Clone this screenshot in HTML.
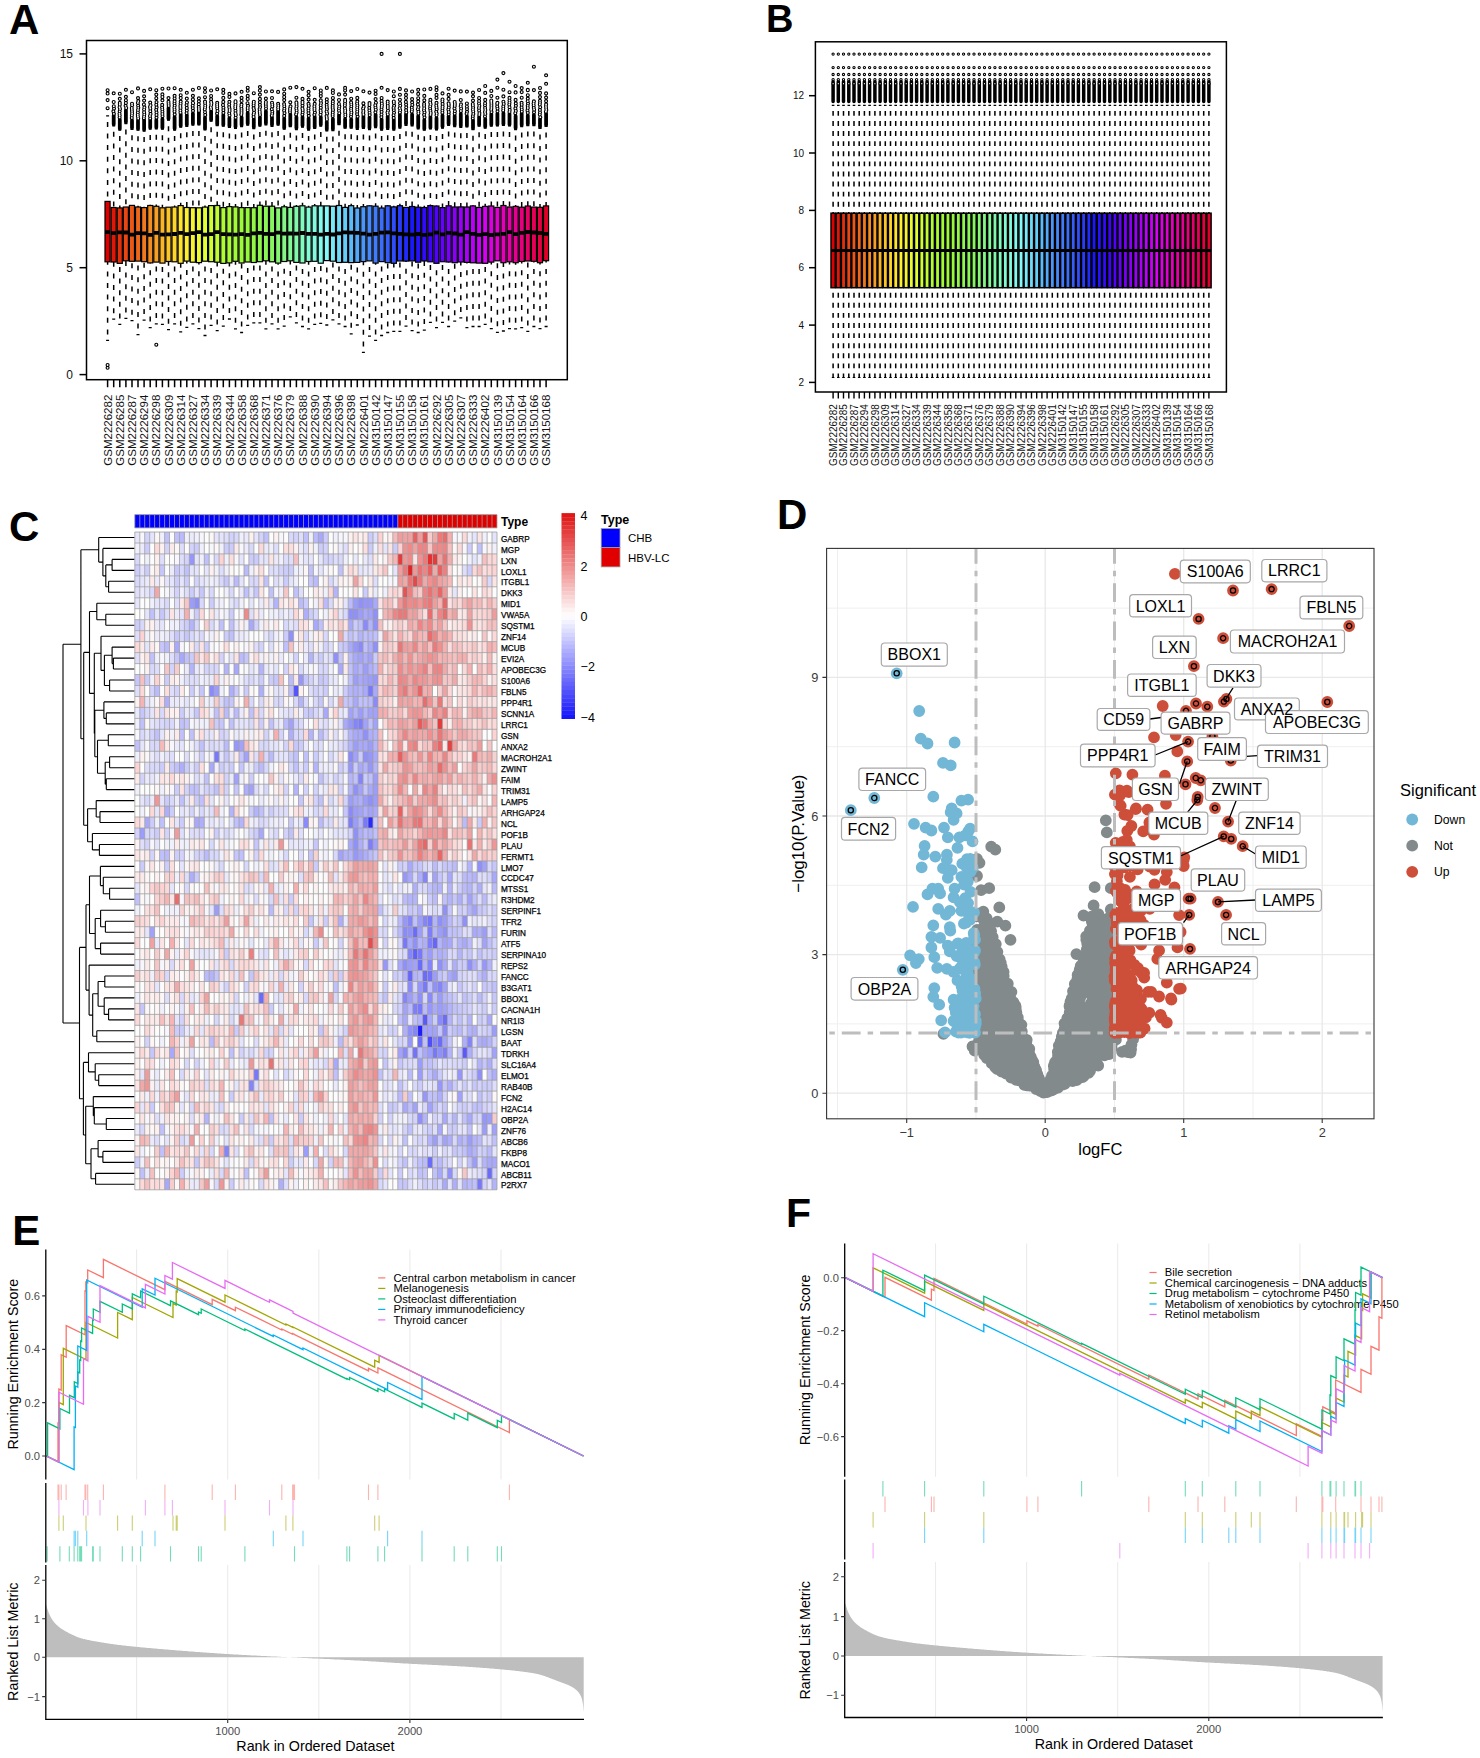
<!DOCTYPE html><html><head><meta charset="utf-8"><style>html,body{margin:0;padding:0;background:#fff}svg{display:block;font-family:"Liberation Sans",sans-serif}</style></head><body>
<svg width="1480" height="1758" viewBox="0 0 1480 1758">
<rect width="1480" height="1758" fill="#fff"/>
<rect x="86.5" y="40.5" width="480.8" height="339.2" fill="none" stroke="#000" stroke-width="1.5"/>
<path d="M79.5 374.6H86.5" stroke="#000" stroke-width="1.5"/>
<text x="73" y="378.9" font-size="12" text-anchor="end" fill="#111">0</text>
<path d="M79.5 267.7H86.5" stroke="#000" stroke-width="1.5"/>
<text x="73" y="272" font-size="12" text-anchor="end" fill="#111">5</text>
<path d="M79.5 160.8H86.5" stroke="#000" stroke-width="1.5"/>
<text x="73" y="165.1" font-size="12" text-anchor="end" fill="#111">10</text>
<path d="M79.5 53.9H86.5" stroke="#000" stroke-width="1.5"/>
<text x="73" y="58.2" font-size="12" text-anchor="end" fill="#111">15</text>
<path d="M107.6 115.9V201.4M113.7 125.8V207.5M119.8 130V207.9M125.9 123.6V207M132 129.3V205.4M138 130.2V207M144.1 131.1V207.6M150.2 129.1V205.5M156.3 128.8V206.3M162.4 129.2V207.8M168.5 120.2V207.2M174.6 130V207M180.7 127.2V205.6M186.8 126.3V207.5M192.9 125V207.7M198.9 124.9V207.8M205 129.9V207.1M211.1 121.2V205.6M217.2 125.7V205.5M223.3 126.2V207.6M229.4 127.4V206.6M235.5 128.3V206.9M241.6 126.6V207.6M247.7 125.1V207.6M253.8 128.5V207.7M259.9 126V205.3M265.9 124.8V206.2M272 126.3V206.2M278.1 125V207.9M284.2 129.2V206.8M290.3 126.7V207.4M296.4 129.5V206.3M302.5 127.1V205.8M308.6 130.1V207.1M314.7 128.4V205.8M320.8 126.1V205.9M326.8 130.8V205.9M332.9 130.5V206.2M339 124.7V205.5M345.1 128.2V207.4M351.2 128.2V205.7M357.3 129.3V208M363.4 128.4V206.7M369.5 129.6V205.8M375.6 127.6V206.2M381.6 130V208M387.7 129.3V205.8M393.8 130.1V206.9M399.9 128.1V205.7M406 125.3V207.4M412.1 125.8V206.5M418.2 128.8V207.2M424.3 130.2V207.5M430.4 128.9V205.6M436.5 129.9V206M442.5 128V207.6M448.6 125.4V205.8M454.7 126.6V207M460.8 127.3V206.9M466.9 126.9V207M473 129.7V205.9M479.1 126.2V207.4M485.2 128.1V206.4M491.3 126V206M497.4 125.9V207.4M503.4 125.4V205.5M509.5 125.9V207M515.6 129.5V206.4M521.7 126.5V207.2M527.8 125.6V206M533.9 125.6V207.1M540 128.4V207.3M546.1 126.4V205.9" stroke="#000" stroke-width="1.5" stroke-dasharray="5 6.6" stroke-dashoffset="5.6" fill="none"/>
<path d="M107.6 340.4V261.9M113.7 319.2V262M119.8 324.4V263.3M125.9 318.4V260.8M132 320.7V261.3M138 334.6V261M144.1 320.1V261.7M150.2 327.6V262.9M156.3 323.9V262.1M162.4 324.4V263.2M168.5 329.7V261.5M174.6 323.9V261.8M180.7 331.8V263.3M186.8 327.4V261.1M192.9 323.9V262.2M198.9 328.6V262.6M205 335.5V261.2M211.1 325.4V261.7M217.2 330.6V262.1M223.3 326.1V263.4M229.4 319V262.8M235.5 328.8V261.2M241.6 332.5V263M247.7 325.4V262M253.8 322.9V262.5M259.9 322.9V261.6M265.9 328.8V260.8M272 323.9V261.9M278.1 328.8V263.2M284.2 326.1V261.6M290.3 316.9V260.8M296.4 322.9V262.4M302.5 326.5V262.9M308.6 328.8V261.4M314.7 324.4V261.4M320.8 323.3V263.2M326.8 325V260.7M332.9 319.9V261.3M339 323.9V262.5M345.1 326.5V262.3M351.2 333.8V262.6M357.3 325V262.4M363.4 352.4V261.6M369.5 336.1V260.8M375.6 340.4V263.1M381.6 335.5V261.6M387.7 332.5V262.6M393.8 331.4V263.3M399.9 331.4V261M406 326.1V261.1M412.1 330.6V260.9M418.2 332.5V262.2M424.3 330.1V261M430.4 322.4V261.8M436.5 327.6V263.3M442.5 322.4V261.7M448.6 326.5V262M454.7 321.2V262.7M460.8 317.9V262M466.9 327.6V262.5M473 326.5V262.8M479.1 326.5V263.1M485.2 324.4V263.3M491.3 328.6V262.1M497.4 332.3V260.9M503.4 331V262.7M509.5 328.6V261.8M515.6 328.8V262.7M521.7 327.6V261.4M527.8 331.4V261M533.9 326.5V261.3M540 328.6V262.7M546.1 326.5V260.7" stroke="#000" stroke-width="1.5" stroke-dasharray="5 6.6" stroke-dashoffset="5.6" fill="none"/>
<path d="M106.1 115.9h3M106.1 340.4h3M112.2 125.8h3M112.2 319.2h3M118.3 130h3M118.3 324.4h3M124.4 123.6h3M124.4 318.4h3M130.5 129.3h3M130.5 320.7h3M136.5 130.2h3M136.5 334.6h3M142.6 131.1h3M142.6 320.1h3M148.7 129.1h3M148.7 327.6h3M154.8 128.8h3M154.8 323.9h3M160.9 129.2h3M160.9 324.4h3M167 120.2h3M167 329.7h3M173.1 130h3M173.1 323.9h3M179.2 127.2h3M179.2 331.8h3M185.3 126.3h3M185.3 327.4h3M191.4 125h3M191.4 323.9h3M197.4 124.9h3M197.4 328.6h3M203.5 129.9h3M203.5 335.5h3M209.6 121.2h3M209.6 325.4h3M215.7 125.7h3M215.7 330.6h3M221.8 126.2h3M221.8 326.1h3M227.9 127.4h3M227.9 319h3M234 128.3h3M234 328.8h3M240.1 126.6h3M240.1 332.5h3M246.2 125.1h3M246.2 325.4h3M252.3 128.5h3M252.3 322.9h3M258.4 126h3M258.4 322.9h3M264.4 124.8h3M264.4 328.8h3M270.5 126.3h3M270.5 323.9h3M276.6 125h3M276.6 328.8h3M282.7 129.2h3M282.7 326.1h3M288.8 126.7h3M288.8 316.9h3M294.9 129.5h3M294.9 322.9h3M301 127.1h3M301 326.5h3M307.1 130.1h3M307.1 328.8h3M313.2 128.4h3M313.2 324.4h3M319.2 126.1h3M319.2 323.3h3M325.3 130.8h3M325.3 325h3M331.4 130.5h3M331.4 319.9h3M337.5 124.7h3M337.5 323.9h3M343.6 128.2h3M343.6 326.5h3M349.7 128.2h3M349.7 333.8h3M355.8 129.3h3M355.8 325h3M361.9 128.4h3M361.9 352.4h3M368 129.6h3M368 336.1h3M374.1 127.6h3M374.1 340.4h3M380.1 130h3M380.1 335.5h3M386.2 129.3h3M386.2 332.5h3M392.3 130.1h3M392.3 331.4h3M398.4 128.1h3M398.4 331.4h3M404.5 125.3h3M404.5 326.1h3M410.6 125.8h3M410.6 330.6h3M416.7 128.8h3M416.7 332.5h3M422.8 130.2h3M422.8 330.1h3M428.9 128.9h3M428.9 322.4h3M435 129.9h3M435 327.6h3M441 128h3M441 322.4h3M447.1 125.4h3M447.1 326.5h3M453.2 126.6h3M453.2 321.2h3M459.3 127.3h3M459.3 317.9h3M465.4 126.9h3M465.4 327.6h3M471.5 129.7h3M471.5 326.5h3M477.6 126.2h3M477.6 326.5h3M483.7 128.1h3M483.7 324.4h3M489.8 126h3M489.8 328.6h3M495.9 125.9h3M495.9 332.3h3M501.9 125.4h3M501.9 331h3M508 125.9h3M508 328.6h3M514.1 129.5h3M514.1 328.8h3M520.2 126.5h3M520.2 327.6h3M526.3 125.6h3M526.3 331.4h3M532.4 125.6h3M532.4 326.5h3M538.5 128.4h3M538.5 328.6h3M544.6 126.4h3M544.6 326.5h3" stroke="#000" stroke-width="1.3" fill="none"/>
<path d="M113.7 115.6V124.3M119.8 119.7V128.5M125.9 110.2V122.1M132 120.4V127.8M138 120.5V128.7M144.1 120V129.6M150.2 120.3V127.6M156.3 119.9V127.3M162.4 118.9V127.7M168.5 108.1V118.7M174.6 117V128.5M180.7 114.4V125.7M186.8 114.9V124.8M192.9 113.4V123.5M198.9 112.5V123.4M205 117.5V128.4M211.1 111.2V119.7M217.2 115.9V124.2M223.3 115V124.7M229.4 118.1V125.9M235.5 119.6V126.8M241.6 117.3V125.1M247.7 112.8V123.6M253.8 119V127M259.9 117.3V124.5M265.9 111.1V123.3M272 117.6V124.8M278.1 111.4V123.5M284.2 118.4V127.7M290.3 114.5V125.2M296.4 117V128M302.5 116.9V125.6M308.6 118.5V128.6M314.7 116.7V126.9M320.8 117.1V124.6M326.8 121.8V129.3M332.9 118.8V129M339 115V123.2M345.1 118.9V126.7M351.2 119.2V126.7M357.3 118.3V127.8M363.4 116.5V126.9M369.5 117.3V128.1M375.6 114.6V126.1M381.6 119.2V128.5M387.7 116.3V127.8M393.8 119.8V128.6M399.9 114.7V126.6M406 114.2V123.8M412.1 114.4V124.3M418.2 116.1V127.3M424.3 120V128.7M430.4 116.8V127.4M436.5 118V128.4M442.5 115.3V126.5M448.6 116.2V123.9M454.7 115.7V125.1M460.8 113.7V125.8M466.9 116.2V125.4M473 120.3V128.2M479.1 116.9V124.7M485.2 118.9V126.6M491.3 113.9V124.5M497.4 113.6V124.4M503.4 113V123.9M509.5 114V124.4M515.6 116V128M521.7 113.5V125M527.8 115.4V124.1M533.9 114.8V124.1M540 119.1V126.9M546.1 113.6V124.9" stroke="#000" stroke-width="3.8" stroke-linecap="round" fill="none"/>
<path d="M107.6 108.2h0M107.6 100.1h0M107.6 93.5h0M107.6 90.2h0M113.9 113.8h0M113.4 111.3h0M114 108.6h0M113.8 106.2h0M113.7 102h0M113.7 93.3h0M119.6 117.4h0M119.7 115.4h0M119.5 113.7h0M119.7 111.3h0M120 109h0M119.6 107.2h0M119.8 104.7h0M119.8 102.9h0M119.8 98.8h0M119.8 93.7h0M126.2 108h0M125.6 105.8h0M125.9 103h0M125.9 100.2h0M125.9 96.8h0M125.9 89.8h0M131.8 117.9h0M131.9 115.5h0M132.1 113.6h0M132 111.8h0M131.9 109.9h0M131.8 108h0M132.1 105.3h0M132 103.7h0M132 92.2h0M138.2 118.5h0M137.9 116.5h0M137.8 114.7h0M137.9 112.4h0M138 110h0M138.3 107.8h0M138.1 105.6h0M137.9 102.9h0M138.3 101.1h0M138 98.1h0M138 88.4h0M143.9 118.2h0M144.1 116.3h0M144.3 114.3h0M144.1 112.2h0M144.1 109.5h0M144.4 107.3h0M143.9 104.5h0M144.1 100.6h0M144.1 96.3h0M144.1 90.9h0M150.2 118.4h0M150 116h0M150.5 113.9h0M150.3 111.2h0M150.3 108.7h0M150 106.9h0M150.5 105.2h0M150.2 102.6h0M150.2 89.3h0M156.5 117.6h0M156.5 114.9h0M156.5 112.4h0M156.2 109.8h0M156.6 107.3h0M156.3 104.7h0M156.5 102.1h0M156.3 98.2h0M156.3 94.6h0M156.3 90.2h0M162.5 116.2h0M162.4 114h0M162.4 111.7h0M162.3 109.4h0M162.1 107.6h0M162.2 104.9h0M162.4 100.3h0M162.4 97h0M162.4 94.4h0M162.4 88.7h0M168.7 105.9h0M168.6 103.9h0M168.5 101.9h0M168.5 98.1h0M168.5 88.5h0M174.7 114.4h0M174.5 111.6h0M174.6 109.7h0M174.4 107.7h0M174.7 105.6h0M174.5 103.3h0M174.6 101.2h0M174.6 98.4h0M174.6 95.8h0M174.6 88.2h0M180.5 112.7h0M180.4 110.5h0M180.5 107.9h0M180.4 106h0M180.6 103.7h0M180.7 101.6h0M180.7 98h0M180.7 95.2h0M180.7 89.8h0M186.6 113.1h0M186.8 110.6h0M186.8 107.9h0M186.6 105.1h0M186.9 102.5h0M186.8 98.6h0M186.8 92.8h0M193 110.8h0M192.8 108.1h0M192.7 105.7h0M193.1 103.2h0M192.9 102.7h0M192.9 99.4h0M192.9 95.8h0M192.9 89.7h0M199 110.8h0M198.9 109h0M198.8 106.9h0M198.8 104.2h0M198.9 101.3h0M198.9 98.3h0M198.9 88h0M205.2 114.9h0M205 112.2h0M204.8 109.4h0M205.1 107.5h0M205.2 105.5h0M205.1 103.1h0M205 101.6h0M205 97.2h0M205 92h0M205 88.2h0M211.1 109h0M210.8 107.2h0M211.2 105h0M211.4 103.3h0M211.1 101.9h0M211.1 99.1h0M211.1 96h0M211.1 90.5h0M217.1 113.6h0M217.5 111h0M217.2 108.3h0M217.2 106.4h0M217.1 104.7h0M217.2 102.8h0M217.2 89.3h0M223.4 112.8h0M223.4 110.1h0M223.4 107.7h0M223 105h0M223.3 101.9h0M223.3 97.9h0M223.3 92.9h0M223.3 89.8h0M229.5 115.4h0M229.2 113.3h0M229.6 111h0M229.6 109.1h0M229.2 107.1h0M229.2 104.5h0M229.4 101.8h0M229.4 96.9h0M229.4 93.9h0M235.6 117.7h0M235.8 115h0M235.5 113.2h0M235.5 110.7h0M235.3 108.2h0M235.3 106.4h0M235.5 104.7h0M235.5 102.4h0M235.5 101.2h0M235.5 93.4h0M241.3 114.8h0M241.5 113h0M241.5 110.9h0M241.5 108.9h0M241.3 106.5h0M241.5 104.6h0M241.6 100.9h0M241.6 97.8h0M241.6 91.8h0M247.7 110.2h0M247.7 108h0M248 105.8h0M247.5 103.2h0M247.7 98.9h0M247.7 95.9h0M247.7 90.8h0M247.7 87.7h0M253.6 117h0M253.6 114.5h0M254 112.7h0M254 109.9h0M253.6 108.1h0M253.6 105.4h0M253.7 103.4h0M253.8 101.7h0M253.8 93.2h0M260 114.9h0M259.8 113h0M259.7 111.2h0M259.6 109.1h0M260.1 107.1h0M259.9 104.8h0M259.9 102.1h0M259.9 98.9h0M259.9 94.6h0M259.9 90.5h0M259.9 87.1h0M266 108.5h0M265.9 106.1h0M265.8 103.9h0M265.9 102h0M265.9 98.6h0M265.9 91.5h0M271.8 115.7h0M272.2 113.8h0M272.3 111.7h0M271.8 109.2h0M272.3 106.4h0M272.3 104.6h0M272 102.7h0M272 98h0M272 91.3h0M278.2 109.4h0M278.1 107.6h0M278.3 105.8h0M278.1 103.8h0M278.1 91.9h0M284.2 115.9h0M284.5 113.1h0M284.1 110.6h0M284.4 108.7h0M284.3 106.2h0M284.1 104.1h0M284.2 100.1h0M284.2 97h0M284.2 93.7h0M284.2 89.4h0M290 112.1h0M290 110.1h0M290.1 108.4h0M290.5 106.3h0M290.3 102.3h0M290.3 87.7h0M296.1 114.4h0M296.6 112.5h0M296.6 110.2h0M296.3 108.2h0M296.6 106.2h0M296.5 104.1h0M296.4 102.4h0M296.4 97.7h0M296.4 87.1h0M302.4 114.6h0M302.7 112.3h0M302.7 110h0M302.4 108.3h0M302.5 105.6h0M302.5 103.2h0M302.5 101.8h0M302.5 98.9h0M302.5 88.8h0M308.8 115.8h0M308.5 113.1h0M308.5 110.6h0M308.5 108.5h0M308.8 105.8h0M308.5 103.8h0M308.6 99.6h0M308.6 95.4h0M308.6 91.8h0M314.4 114.8h0M314.9 112.6h0M314.5 110h0M314.5 108.2h0M314.4 106.2h0M314.7 103.9h0M314.7 99.8h0M314.7 88.2h0M320.5 114.7h0M320.8 112.2h0M320.6 110.3h0M320.8 107.7h0M320.7 105.2h0M321 103.1h0M320.7 100.7h0M320.8 100.4h0M320.8 96.1h0M320.8 93.4h0M320.8 90.5h0M326.9 119.6h0M326.8 117.9h0M326.6 116.1h0M327.1 113.5h0M326.6 111.5h0M327 109.1h0M326.8 107h0M326.7 104.8h0M326.8 102.1h0M326.8 99.3h0M326.8 87.9h0M332.7 116.1h0M332.7 114.3h0M332.8 112.3h0M333 109.9h0M332.7 107.9h0M332.7 105.9h0M332.8 103.4h0M332.9 101.3h0M332.9 98h0M332.9 93h0M332.9 90.4h0M339.3 113.2h0M339 110.7h0M339 108.4h0M339.3 106.4h0M338.9 104h0M339 100h0M339 94.4h0M345.3 116.2h0M345.3 114.3h0M345.1 112h0M345.2 110.2h0M344.9 108.3h0M344.9 105.6h0M345 103.8h0M345.1 101.4h0M345.1 99.9h0M345.1 94.6h0M345.1 90.4h0M345.1 87.9h0M351 116.6h0M351.2 114.3h0M351.4 112.4h0M351.1 110.3h0M351.1 108.6h0M351.3 106.3h0M351.3 104.3h0M351.1 102.4h0M351.2 98.7h0M351.2 91.1h0M357.6 116.6h0M357.1 114.1h0M357.2 111.7h0M357.3 109.6h0M357.2 107.5h0M357.4 105.4h0M357.1 103.4h0M357.3 101.3h0M357.3 97.9h0M357.3 89h0M363.5 114.7h0M363.2 112.8h0M363.4 111h0M363.1 108.6h0M363.7 106.8h0M363.4 103.4h0M363.4 91.3h0M369.7 115.1h0M369.6 112.7h0M369.4 110.3h0M369.3 107.8h0M369.5 105h0M369.5 103.1h0M369.5 92.6h0M375.4 112.3h0M375.8 109.7h0M375.5 107.4h0M375.3 105.2h0M375.9 102.7h0M375.6 99.1h0M375.6 93.9h0M375.6 90.7h0M381.4 117.1h0M381.5 114.5h0M381.6 111.8h0M381.5 109.4h0M381.7 107h0M381.9 105.3h0M381.8 103.4h0M381.6 100.9h0M381.6 98h0M381.6 87.8h0M387.8 114.4h0M387.5 112.6h0M388 110.7h0M387.8 108h0M387.8 106h0M387.7 103.5h0M387.7 101.6h0M387.7 90.1h0M393.7 117.9h0M393.6 115.2h0M394 112.7h0M393.8 110.1h0M393.6 107.9h0M394.1 105.8h0M393.9 103.1h0M393.8 101.5h0M393.8 96.2h0M393.8 91.5h0M399.9 112.4h0M400.2 110.2h0M399.7 108.2h0M400.2 105.7h0M400 103.2h0M399.9 99.7h0M399.9 94.7h0M399.9 88.9h0M406.3 112.4h0M406.1 110.1h0M406.2 107.3h0M406.1 104.6h0M405.9 101.9h0M406 98h0M406 94.8h0M406 90.4h0M411.8 111.6h0M412 109.7h0M411.8 107.6h0M412.3 104.9h0M412.1 102.3h0M412.1 99.1h0M412.1 91.5h0M418.4 113.5h0M418.4 111.6h0M417.9 109.2h0M418.4 107.1h0M417.9 104.4h0M418.2 101.3h0M418.2 98.2h0M418.2 93.9h0M418.2 89.8h0M424.5 117.3h0M424.1 114.8h0M424.5 112.4h0M424 110.2h0M424.2 108.2h0M424.1 105.8h0M424.1 103.9h0M424.3 100.3h0M424.3 95.9h0M424.3 89.5h0M430.5 114.8h0M430.7 113h0M430.4 110.8h0M430.1 108.5h0M430.2 106.2h0M430.6 104.2h0M430.2 102.4h0M430.4 99.9h0M430.4 88.9h0M436.5 115.3h0M436.7 113.6h0M436.2 111.8h0M436.7 109.3h0M436.5 107.3h0M436.3 105.5h0M436.5 102.9h0M436.5 97.9h0M436.5 94.9h0M436.5 90.1h0M436.5 87.2h0M442.4 112.7h0M442.4 110.5h0M442.5 108.2h0M442.6 106.4h0M442.6 103.9h0M442.4 101.3h0M442.5 99.5h0M442.5 93.4h0M448.7 114.3h0M448.8 112h0M448.4 109.6h0M448.8 107.4h0M448.8 104.9h0M448.6 103.3h0M448.6 98.9h0M448.6 94.9h0M448.6 88.7h0M454.7 113.6h0M454.9 111.2h0M454.5 108.4h0M454.8 105.9h0M454.9 104h0M454.7 102h0M454.7 90.6h0M460.9 111h0M461.1 108.5h0M460.7 106.2h0M461 104.3h0M460.8 100h0M460.8 91.4h0M466.6 113.8h0M467 111.8h0M467 109.1h0M466.9 106.5h0M466.9 103.5h0M466.9 91.6h0M472.8 118.3h0M472.9 116.1h0M473.3 113.9h0M473.2 111.5h0M472.9 109.6h0M473.1 107.8h0M472.9 105.7h0M472.8 104h0M473 100.6h0M473 96.3h0M473 92.6h0M479.3 114.9h0M479.4 113.1h0M479.1 110.5h0M479 107.9h0M479.3 105.9h0M479 103.5h0M479.1 101h0M479.1 98h0M479.1 90h0M485 116.4h0M485.3 113.9h0M485 112h0M485.3 110h0M485.1 107.9h0M485 105.3h0M485.1 103.2h0M485.2 99.9h0M485.2 92.9h0M491.5 112.1h0M491.2 109.8h0M491.4 108h0M491.4 105.9h0M491.4 103.9h0M491.3 102h0M491.3 100.5h0M491.3 96h0M491.3 90.9h0M497.5 111.3h0M497.5 108.6h0M497.2 106.4h0M497.2 103.8h0M497.4 102.8h0M497.4 97.7h0M497.4 87.7h0M503.2 110.4h0M503.3 108.6h0M503.3 106.5h0M503.7 103.9h0M503.4 101.7h0M503.4 96.4h0M503.4 89.7h0M509.5 111.9h0M509.7 109.9h0M509.5 107.2h0M509.3 104.6h0M509.5 102.7h0M509.5 100.5h0M509.5 97.9h0M509.5 92.2h0M515.3 113.2h0M515.8 110.9h0M515.4 108.4h0M515.9 105.8h0M515.8 103.3h0M515.6 99.9h0M515.6 92.5h0M521.8 111.6h0M521.8 109.4h0M521.6 107.3h0M521.7 104.8h0M521.6 102.8h0M521.7 97.7h0M521.7 92.1h0M527.8 112.8h0M527.5 110.4h0M527.8 108h0M527.7 105.8h0M528 103.6h0M527.7 101.2h0M527.8 98.6h0M527.8 95.2h0M527.8 89.8h0M534 112.3h0M534.1 109.7h0M533.8 107.8h0M533.7 105.4h0M533.6 103.5h0M533.9 101.4h0M533.9 90.1h0M540.3 117.2h0M539.8 114.6h0M540 112.5h0M539.9 109.9h0M540.2 107.2h0M539.8 104.6h0M540 102.8h0M540 100.8h0M540 97.1h0M540 92.9h0M540 88h0M545.9 111.7h0M546.3 109.9h0M546.1 107.9h0M546 106.1h0M546.1 104.3h0M546.1 101.1h0M546.1 97.6h0M546.1 93.4h0M381.6 53.9h0M399.9 53.9h0M503.4 73.1h0M533.9 66.7h0M546.1 75.3h0M546.1 83.8h0M527.8 82.8h0M527.8 90.2h0M497.4 79.6h0M509.5 81.7h0M485.2 86h0M515.6 92.4h0M515.6 86h0M521.7 88.1h0M156.3 344.7h0M107.6 367.8h0M107.6 365h0" stroke="#000" stroke-width="4.1" stroke-linecap="round" fill="none"/>
<path d="M107.6 108.2h0M107.6 100.1h0M107.6 93.5h0M107.6 90.2h0M113.9 113.8h0M113.4 111.3h0M114 108.6h0M113.8 106.2h0M113.7 102h0M113.7 93.3h0M119.6 117.4h0M119.7 115.4h0M119.5 113.7h0M119.7 111.3h0M120 109h0M119.6 107.2h0M119.8 104.7h0M119.8 102.9h0M119.8 98.8h0M119.8 93.7h0M126.2 108h0M125.6 105.8h0M125.9 103h0M125.9 100.2h0M125.9 96.8h0M125.9 89.8h0M131.8 117.9h0M131.9 115.5h0M132.1 113.6h0M132 111.8h0M131.9 109.9h0M131.8 108h0M132.1 105.3h0M132 103.7h0M132 92.2h0M138.2 118.5h0M137.9 116.5h0M137.8 114.7h0M137.9 112.4h0M138 110h0M138.3 107.8h0M138.1 105.6h0M137.9 102.9h0M138.3 101.1h0M138 98.1h0M138 88.4h0M143.9 118.2h0M144.1 116.3h0M144.3 114.3h0M144.1 112.2h0M144.1 109.5h0M144.4 107.3h0M143.9 104.5h0M144.1 100.6h0M144.1 96.3h0M144.1 90.9h0M150.2 118.4h0M150 116h0M150.5 113.9h0M150.3 111.2h0M150.3 108.7h0M150 106.9h0M150.5 105.2h0M150.2 102.6h0M150.2 89.3h0M156.5 117.6h0M156.5 114.9h0M156.5 112.4h0M156.2 109.8h0M156.6 107.3h0M156.3 104.7h0M156.5 102.1h0M156.3 98.2h0M156.3 94.6h0M156.3 90.2h0M162.5 116.2h0M162.4 114h0M162.4 111.7h0M162.3 109.4h0M162.1 107.6h0M162.2 104.9h0M162.4 100.3h0M162.4 97h0M162.4 94.4h0M162.4 88.7h0M168.7 105.9h0M168.6 103.9h0M168.5 101.9h0M168.5 98.1h0M168.5 88.5h0M174.7 114.4h0M174.5 111.6h0M174.6 109.7h0M174.4 107.7h0M174.7 105.6h0M174.5 103.3h0M174.6 101.2h0M174.6 98.4h0M174.6 95.8h0M174.6 88.2h0M180.5 112.7h0M180.4 110.5h0M180.5 107.9h0M180.4 106h0M180.6 103.7h0M180.7 101.6h0M180.7 98h0M180.7 95.2h0M180.7 89.8h0M186.6 113.1h0M186.8 110.6h0M186.8 107.9h0M186.6 105.1h0M186.9 102.5h0M186.8 98.6h0M186.8 92.8h0M193 110.8h0M192.8 108.1h0M192.7 105.7h0M193.1 103.2h0M192.9 102.7h0M192.9 99.4h0M192.9 95.8h0M192.9 89.7h0M199 110.8h0M198.9 109h0M198.8 106.9h0M198.8 104.2h0M198.9 101.3h0M198.9 98.3h0M198.9 88h0M205.2 114.9h0M205 112.2h0M204.8 109.4h0M205.1 107.5h0M205.2 105.5h0M205.1 103.1h0M205 101.6h0M205 97.2h0M205 92h0M205 88.2h0M211.1 109h0M210.8 107.2h0M211.2 105h0M211.4 103.3h0M211.1 101.9h0M211.1 99.1h0M211.1 96h0M211.1 90.5h0M217.1 113.6h0M217.5 111h0M217.2 108.3h0M217.2 106.4h0M217.1 104.7h0M217.2 102.8h0M217.2 89.3h0M223.4 112.8h0M223.4 110.1h0M223.4 107.7h0M223 105h0M223.3 101.9h0M223.3 97.9h0M223.3 92.9h0M223.3 89.8h0M229.5 115.4h0M229.2 113.3h0M229.6 111h0M229.6 109.1h0M229.2 107.1h0M229.2 104.5h0M229.4 101.8h0M229.4 96.9h0M229.4 93.9h0M235.6 117.7h0M235.8 115h0M235.5 113.2h0M235.5 110.7h0M235.3 108.2h0M235.3 106.4h0M235.5 104.7h0M235.5 102.4h0M235.5 101.2h0M235.5 93.4h0M241.3 114.8h0M241.5 113h0M241.5 110.9h0M241.5 108.9h0M241.3 106.5h0M241.5 104.6h0M241.6 100.9h0M241.6 97.8h0M241.6 91.8h0M247.7 110.2h0M247.7 108h0M248 105.8h0M247.5 103.2h0M247.7 98.9h0M247.7 95.9h0M247.7 90.8h0M247.7 87.7h0M253.6 117h0M253.6 114.5h0M254 112.7h0M254 109.9h0M253.6 108.1h0M253.6 105.4h0M253.7 103.4h0M253.8 101.7h0M253.8 93.2h0M260 114.9h0M259.8 113h0M259.7 111.2h0M259.6 109.1h0M260.1 107.1h0M259.9 104.8h0M259.9 102.1h0M259.9 98.9h0M259.9 94.6h0M259.9 90.5h0M259.9 87.1h0M266 108.5h0M265.9 106.1h0M265.8 103.9h0M265.9 102h0M265.9 98.6h0M265.9 91.5h0M271.8 115.7h0M272.2 113.8h0M272.3 111.7h0M271.8 109.2h0M272.3 106.4h0M272.3 104.6h0M272 102.7h0M272 98h0M272 91.3h0M278.2 109.4h0M278.1 107.6h0M278.3 105.8h0M278.1 103.8h0M278.1 91.9h0M284.2 115.9h0M284.5 113.1h0M284.1 110.6h0M284.4 108.7h0M284.3 106.2h0M284.1 104.1h0M284.2 100.1h0M284.2 97h0M284.2 93.7h0M284.2 89.4h0M290 112.1h0M290 110.1h0M290.1 108.4h0M290.5 106.3h0M290.3 102.3h0M290.3 87.7h0M296.1 114.4h0M296.6 112.5h0M296.6 110.2h0M296.3 108.2h0M296.6 106.2h0M296.5 104.1h0M296.4 102.4h0M296.4 97.7h0M296.4 87.1h0M302.4 114.6h0M302.7 112.3h0M302.7 110h0M302.4 108.3h0M302.5 105.6h0M302.5 103.2h0M302.5 101.8h0M302.5 98.9h0M302.5 88.8h0M308.8 115.8h0M308.5 113.1h0M308.5 110.6h0M308.5 108.5h0M308.8 105.8h0M308.5 103.8h0M308.6 99.6h0M308.6 95.4h0M308.6 91.8h0M314.4 114.8h0M314.9 112.6h0M314.5 110h0M314.5 108.2h0M314.4 106.2h0M314.7 103.9h0M314.7 99.8h0M314.7 88.2h0M320.5 114.7h0M320.8 112.2h0M320.6 110.3h0M320.8 107.7h0M320.7 105.2h0M321 103.1h0M320.7 100.7h0M320.8 100.4h0M320.8 96.1h0M320.8 93.4h0M320.8 90.5h0M326.9 119.6h0M326.8 117.9h0M326.6 116.1h0M327.1 113.5h0M326.6 111.5h0M327 109.1h0M326.8 107h0M326.7 104.8h0M326.8 102.1h0M326.8 99.3h0M326.8 87.9h0M332.7 116.1h0M332.7 114.3h0M332.8 112.3h0M333 109.9h0M332.7 107.9h0M332.7 105.9h0M332.8 103.4h0M332.9 101.3h0M332.9 98h0M332.9 93h0M332.9 90.4h0M339.3 113.2h0M339 110.7h0M339 108.4h0M339.3 106.4h0M338.9 104h0M339 100h0M339 94.4h0M345.3 116.2h0M345.3 114.3h0M345.1 112h0M345.2 110.2h0M344.9 108.3h0M344.9 105.6h0M345 103.8h0M345.1 101.4h0M345.1 99.9h0M345.1 94.6h0M345.1 90.4h0M345.1 87.9h0M351 116.6h0M351.2 114.3h0M351.4 112.4h0M351.1 110.3h0M351.1 108.6h0M351.3 106.3h0M351.3 104.3h0M351.1 102.4h0M351.2 98.7h0M351.2 91.1h0M357.6 116.6h0M357.1 114.1h0M357.2 111.7h0M357.3 109.6h0M357.2 107.5h0M357.4 105.4h0M357.1 103.4h0M357.3 101.3h0M357.3 97.9h0M357.3 89h0M363.5 114.7h0M363.2 112.8h0M363.4 111h0M363.1 108.6h0M363.7 106.8h0M363.4 103.4h0M363.4 91.3h0M369.7 115.1h0M369.6 112.7h0M369.4 110.3h0M369.3 107.8h0M369.5 105h0M369.5 103.1h0M369.5 92.6h0M375.4 112.3h0M375.8 109.7h0M375.5 107.4h0M375.3 105.2h0M375.9 102.7h0M375.6 99.1h0M375.6 93.9h0M375.6 90.7h0M381.4 117.1h0M381.5 114.5h0M381.6 111.8h0M381.5 109.4h0M381.7 107h0M381.9 105.3h0M381.8 103.4h0M381.6 100.9h0M381.6 98h0M381.6 87.8h0M387.8 114.4h0M387.5 112.6h0M388 110.7h0M387.8 108h0M387.8 106h0M387.7 103.5h0M387.7 101.6h0M387.7 90.1h0M393.7 117.9h0M393.6 115.2h0M394 112.7h0M393.8 110.1h0M393.6 107.9h0M394.1 105.8h0M393.9 103.1h0M393.8 101.5h0M393.8 96.2h0M393.8 91.5h0M399.9 112.4h0M400.2 110.2h0M399.7 108.2h0M400.2 105.7h0M400 103.2h0M399.9 99.7h0M399.9 94.7h0M399.9 88.9h0M406.3 112.4h0M406.1 110.1h0M406.2 107.3h0M406.1 104.6h0M405.9 101.9h0M406 98h0M406 94.8h0M406 90.4h0M411.8 111.6h0M412 109.7h0M411.8 107.6h0M412.3 104.9h0M412.1 102.3h0M412.1 99.1h0M412.1 91.5h0M418.4 113.5h0M418.4 111.6h0M417.9 109.2h0M418.4 107.1h0M417.9 104.4h0M418.2 101.3h0M418.2 98.2h0M418.2 93.9h0M418.2 89.8h0M424.5 117.3h0M424.1 114.8h0M424.5 112.4h0M424 110.2h0M424.2 108.2h0M424.1 105.8h0M424.1 103.9h0M424.3 100.3h0M424.3 95.9h0M424.3 89.5h0M430.5 114.8h0M430.7 113h0M430.4 110.8h0M430.1 108.5h0M430.2 106.2h0M430.6 104.2h0M430.2 102.4h0M430.4 99.9h0M430.4 88.9h0M436.5 115.3h0M436.7 113.6h0M436.2 111.8h0M436.7 109.3h0M436.5 107.3h0M436.3 105.5h0M436.5 102.9h0M436.5 97.9h0M436.5 94.9h0M436.5 90.1h0M436.5 87.2h0M442.4 112.7h0M442.4 110.5h0M442.5 108.2h0M442.6 106.4h0M442.6 103.9h0M442.4 101.3h0M442.5 99.5h0M442.5 93.4h0M448.7 114.3h0M448.8 112h0M448.4 109.6h0M448.8 107.4h0M448.8 104.9h0M448.6 103.3h0M448.6 98.9h0M448.6 94.9h0M448.6 88.7h0M454.7 113.6h0M454.9 111.2h0M454.5 108.4h0M454.8 105.9h0M454.9 104h0M454.7 102h0M454.7 90.6h0M460.9 111h0M461.1 108.5h0M460.7 106.2h0M461 104.3h0M460.8 100h0M460.8 91.4h0M466.6 113.8h0M467 111.8h0M467 109.1h0M466.9 106.5h0M466.9 103.5h0M466.9 91.6h0M472.8 118.3h0M472.9 116.1h0M473.3 113.9h0M473.2 111.5h0M472.9 109.6h0M473.1 107.8h0M472.9 105.7h0M472.8 104h0M473 100.6h0M473 96.3h0M473 92.6h0M479.3 114.9h0M479.4 113.1h0M479.1 110.5h0M479 107.9h0M479.3 105.9h0M479 103.5h0M479.1 101h0M479.1 98h0M479.1 90h0M485 116.4h0M485.3 113.9h0M485 112h0M485.3 110h0M485.1 107.9h0M485 105.3h0M485.1 103.2h0M485.2 99.9h0M485.2 92.9h0M491.5 112.1h0M491.2 109.8h0M491.4 108h0M491.4 105.9h0M491.4 103.9h0M491.3 102h0M491.3 100.5h0M491.3 96h0M491.3 90.9h0M497.5 111.3h0M497.5 108.6h0M497.2 106.4h0M497.2 103.8h0M497.4 102.8h0M497.4 97.7h0M497.4 87.7h0M503.2 110.4h0M503.3 108.6h0M503.3 106.5h0M503.7 103.9h0M503.4 101.7h0M503.4 96.4h0M503.4 89.7h0M509.5 111.9h0M509.7 109.9h0M509.5 107.2h0M509.3 104.6h0M509.5 102.7h0M509.5 100.5h0M509.5 97.9h0M509.5 92.2h0M515.3 113.2h0M515.8 110.9h0M515.4 108.4h0M515.9 105.8h0M515.8 103.3h0M515.6 99.9h0M515.6 92.5h0M521.8 111.6h0M521.8 109.4h0M521.6 107.3h0M521.7 104.8h0M521.6 102.8h0M521.7 97.7h0M521.7 92.1h0M527.8 112.8h0M527.5 110.4h0M527.8 108h0M527.7 105.8h0M528 103.6h0M527.7 101.2h0M527.8 98.6h0M527.8 95.2h0M527.8 89.8h0M534 112.3h0M534.1 109.7h0M533.8 107.8h0M533.7 105.4h0M533.6 103.5h0M533.9 101.4h0M533.9 90.1h0M540.3 117.2h0M539.8 114.6h0M540 112.5h0M539.9 109.9h0M540.2 107.2h0M539.8 104.6h0M540 102.8h0M540 100.8h0M540 97.1h0M540 92.9h0M540 88h0M545.9 111.7h0M546.3 109.9h0M546.1 107.9h0M546 106.1h0M546.1 104.3h0M546.1 101.1h0M546.1 97.6h0M546.1 93.4h0M381.6 53.9h0M399.9 53.9h0M503.4 73.1h0M533.9 66.7h0M546.1 75.3h0M546.1 83.8h0M527.8 82.8h0M527.8 90.2h0M497.4 79.6h0M509.5 81.7h0M485.2 86h0M515.6 92.4h0M515.6 86h0M521.7 88.1h0M156.3 344.7h0M107.6 367.8h0M107.6 365h0" stroke="#fff" stroke-width="1.8" stroke-linecap="round" fill="none"/>
<g stroke="#000" stroke-width="1.2"><rect x="105" y="201.4" width="5.1" height="60.4" fill="#dc0000"/><rect x="111.1" y="207.5" width="5.1" height="54.5" fill="#e01707"/><rect x="117.2" y="207.9" width="5.1" height="55.5" fill="#e42f0d"/><rect x="123.3" y="207" width="5.1" height="53.8" fill="#e84614"/><rect x="129.4" y="205.4" width="5.1" height="55.9" fill="#eb5717"/><rect x="135.5" y="207" width="5.1" height="54.1" fill="#ed671b"/><rect x="141.6" y="207.6" width="5.1" height="54.1" fill="#f0781e"/><rect x="147.7" y="205.5" width="5.1" height="57.4" fill="#f38c21"/><rect x="153.8" y="206.3" width="5.1" height="55.8" fill="#f7a025"/><rect x="159.9" y="207.8" width="5.1" height="55.3" fill="#fab428"/><rect x="165.9" y="207.2" width="5.1" height="54.3" fill="#fcc628"/><rect x="172" y="207" width="5.1" height="54.8" fill="#ffd728"/><rect x="178.1" y="205.6" width="5.1" height="57.7" fill="#ffe42a"/><rect x="184.2" y="207.5" width="5.1" height="53.6" fill="#fff02d"/><rect x="190.3" y="207.7" width="5.1" height="54.5" fill="#f5f52f"/><rect x="196.4" y="207.8" width="5.1" height="54.8" fill="#ebfa30"/><rect x="202.5" y="207.1" width="5.1" height="54.1" fill="#e1ff32"/><rect x="208.6" y="205.6" width="5.1" height="56.1" fill="#d0fe32"/><rect x="214.7" y="205.5" width="5.1" height="56.7" fill="#c0fd32"/><rect x="220.8" y="207.6" width="5.1" height="55.8" fill="#affc32"/><rect x="226.8" y="206.6" width="5.1" height="56.3" fill="#a9fb34"/><rect x="232.9" y="206.9" width="5.1" height="54.4" fill="#a2fa37"/><rect x="239" y="207.6" width="5.1" height="55.4" fill="#9cf93a"/><rect x="245.1" y="207.6" width="5.1" height="54.4" fill="#96f83c"/><rect x="251.2" y="207.7" width="5.1" height="54.8" fill="#92f745"/><rect x="257.3" y="205.3" width="5.1" height="56.4" fill="#8ef64e"/><rect x="263.4" y="206.2" width="5.1" height="54.6" fill="#8bf656"/><rect x="269.5" y="206.2" width="5.1" height="55.6" fill="#87f55f"/><rect x="275.6" y="207.9" width="5.1" height="55.2" fill="#85f671"/><rect x="281.7" y="206.8" width="5.1" height="54.7" fill="#84f784"/><rect x="287.7" y="207.4" width="5.1" height="53.4" fill="#82f896"/><rect x="293.8" y="206.3" width="5.1" height="56.1" fill="#82f9aa"/><rect x="299.9" y="205.8" width="5.1" height="57.2" fill="#82fbbe"/><rect x="306" y="207.1" width="5.1" height="54.4" fill="#82fcd2"/><rect x="312.1" y="205.8" width="5.1" height="55.5" fill="#82fbdf"/><rect x="318.2" y="205.9" width="5.1" height="57.3" fill="#82fbed"/><rect x="324.3" y="205.9" width="5.1" height="54.7" fill="#82fafa"/><rect x="330.4" y="206.2" width="5.1" height="55" fill="#78ebfa"/><rect x="336.5" y="205.5" width="5.1" height="57" fill="#6edcfa"/><rect x="342.6" y="207.4" width="5.1" height="54.9" fill="#64cdfa"/><rect x="348.6" y="205.7" width="5.1" height="56.9" fill="#5cbbfa"/><rect x="354.7" y="208" width="5.1" height="54.4" fill="#53a8fa"/><rect x="360.8" y="206.7" width="5.1" height="54.9" fill="#4b96fa"/><rect x="366.9" y="205.8" width="5.1" height="55.1" fill="#4689fa"/><rect x="373" y="206.2" width="5.1" height="56.9" fill="#417bfa"/><rect x="379.1" y="208" width="5.1" height="53.6" fill="#3c6efa"/><rect x="385.2" y="205.8" width="5.1" height="56.9" fill="#355dfa"/><rect x="391.3" y="206.9" width="5.1" height="56.4" fill="#2f4dfa"/><rect x="397.4" y="205.7" width="5.1" height="55.3" fill="#283cfa"/><rect x="403.5" y="207.4" width="5.1" height="53.7" fill="#202afa"/><rect x="409.6" y="206.5" width="5.1" height="54.4" fill="#1919fa"/><rect x="415.6" y="207.2" width="5.1" height="55" fill="#2512fa"/><rect x="421.7" y="207.5" width="5.1" height="53.5" fill="#300cfa"/><rect x="427.8" y="205.6" width="5.1" height="56.2" fill="#3c05fa"/><rect x="433.9" y="206" width="5.1" height="57.3" fill="#5003fa"/><rect x="440" y="207.6" width="5.1" height="54.1" fill="#6402fa"/><rect x="446.1" y="205.8" width="5.1" height="56.2" fill="#7800fa"/><rect x="452.2" y="207" width="5.1" height="55.7" fill="#8900fa"/><rect x="458.3" y="206.9" width="5.1" height="55.1" fill="#9900fa"/><rect x="464.4" y="207" width="5.1" height="55.4" fill="#aa00fa"/><rect x="470.4" y="205.9" width="5.1" height="56.9" fill="#b900f8"/><rect x="476.5" y="207.4" width="5.1" height="55.7" fill="#c800f7"/><rect x="482.6" y="206.4" width="5.1" height="56.9" fill="#d700f5"/><rect x="488.7" y="206" width="5.1" height="56.1" fill="#db00e1"/><rect x="494.8" y="207.4" width="5.1" height="53.4" fill="#e000cd"/><rect x="500.9" y="205.5" width="5.1" height="57.2" fill="#e400b9"/><rect x="507" y="207" width="5.1" height="54.8" fill="#e500a5"/><rect x="513.1" y="206.4" width="5.1" height="56.3" fill="#e50091"/><rect x="519.2" y="207.2" width="5.1" height="54.3" fill="#e6007d"/><rect x="525.3" y="206" width="5.1" height="55" fill="#e50069"/><rect x="531.4" y="207.1" width="5.1" height="54.2" fill="#e50055"/><rect x="537.4" y="207.3" width="5.1" height="55.4" fill="#e40041"/><rect x="543.5" y="205.9" width="5.1" height="54.8" fill="#de0028"/></g>
<path d="M105 232.2h5.1M111.1 233.1h5.1M117.2 232.4h5.1M123.3 232.5h5.1M129.4 234.6h5.1M135.5 233.1h5.1M141.6 233.3h5.1M147.7 234.9h5.1M153.8 232.8h5.1M159.9 234.6h5.1M165.9 234.4h5.1M172 234h5.1M178.1 232.9h5.1M184.2 234.2h5.1M190.3 233.1h5.1M196.4 232.1h5.1M202.5 234.6h5.1M208.6 234.1h5.1M214.7 232.2h5.1M220.8 234.1h5.1M226.8 234.3h5.1M232.9 234.6h5.1M239 234.1h5.1M245.1 234.9h5.1M251.2 233.4h5.1M257.3 232.9h5.1M263.4 233.8h5.1M269.5 234.1h5.1M275.6 232.6h5.1M281.7 233.6h5.1M287.7 233.5h5.1M293.8 233.6h5.1M299.9 233h5.1M306 233.9h5.1M312.1 233.9h5.1M318.2 234.7h5.1M324.3 233.9h5.1M330.4 234.5h5.1M336.5 233.4h5.1M342.6 232.4h5.1M348.6 232.6h5.1M354.7 232.9h5.1M360.8 233.7h5.1M366.9 234.6h5.1M373 233.9h5.1M379.1 232.7h5.1M385.2 232.3h5.1M391.3 233.4h5.1M397.4 233.8h5.1M403.5 234.3h5.1M409.6 234.7h5.1M415.6 234h5.1M421.7 234.8h5.1M427.8 234.3h5.1M433.9 232.6h5.1M440 234.3h5.1M446.1 232.8h5.1M452.2 233.5h5.1M458.3 234.7h5.1M464.4 232.1h5.1M470.4 233.9h5.1M476.5 234.8h5.1M482.6 234.1h5.1M488.7 235h5.1M494.8 234.4h5.1M500.9 233.9h5.1M507 232.2h5.1M513.1 234.2h5.1M519.2 232.9h5.1M525.3 232h5.1M531.4 232.5h5.1M537.4 233h5.1M543.5 233.8h5.1" stroke="#000" stroke-width="3.8" fill="none"/>
<path d="M107.6 379.7V387.3M113.7 379.7V387.3M119.8 379.7V387.3M125.9 379.7V387.3M132 379.7V387.3M138 379.7V387.3M144.1 379.7V387.3M150.2 379.7V387.3M156.3 379.7V387.3M162.4 379.7V387.3M168.5 379.7V387.3M174.6 379.7V387.3M180.7 379.7V387.3M186.8 379.7V387.3M192.9 379.7V387.3M198.9 379.7V387.3M205 379.7V387.3M211.1 379.7V387.3M217.2 379.7V387.3M223.3 379.7V387.3M229.4 379.7V387.3M235.5 379.7V387.3M241.6 379.7V387.3M247.7 379.7V387.3M253.8 379.7V387.3M259.9 379.7V387.3M265.9 379.7V387.3M272 379.7V387.3M278.1 379.7V387.3M284.2 379.7V387.3M290.3 379.7V387.3M296.4 379.7V387.3M302.5 379.7V387.3M308.6 379.7V387.3M314.7 379.7V387.3M320.8 379.7V387.3M326.8 379.7V387.3M332.9 379.7V387.3M339 379.7V387.3M345.1 379.7V387.3M351.2 379.7V387.3M357.3 379.7V387.3M363.4 379.7V387.3M369.5 379.7V387.3M375.6 379.7V387.3M381.6 379.7V387.3M387.7 379.7V387.3M393.8 379.7V387.3M399.9 379.7V387.3M406 379.7V387.3M412.1 379.7V387.3M418.2 379.7V387.3M424.3 379.7V387.3M430.4 379.7V387.3M436.5 379.7V387.3M442.5 379.7V387.3M448.6 379.7V387.3M454.7 379.7V387.3M460.8 379.7V387.3M466.9 379.7V387.3M473 379.7V387.3M479.1 379.7V387.3M485.2 379.7V387.3M491.3 379.7V387.3M497.4 379.7V387.3M503.4 379.7V387.3M509.5 379.7V387.3M515.6 379.7V387.3M521.7 379.7V387.3M527.8 379.7V387.3M533.9 379.7V387.3M540 379.7V387.3M546.1 379.7V387.3" stroke="#000" stroke-width="1.5"/>
<g font-size="11.5" fill="#111"><text transform="translate(111.7 394.7) rotate(-90)" text-anchor="end">GSM2226282</text><text transform="translate(123.9 394.7) rotate(-90)" text-anchor="end">GSM2226285</text><text transform="translate(136.1 394.7) rotate(-90)" text-anchor="end">GSM2226287</text><text transform="translate(148.2 394.7) rotate(-90)" text-anchor="end">GSM2226294</text><text transform="translate(160.4 394.7) rotate(-90)" text-anchor="end">GSM2226298</text><text transform="translate(172.6 394.7) rotate(-90)" text-anchor="end">GSM2226309</text><text transform="translate(184.8 394.7) rotate(-90)" text-anchor="end">GSM2226314</text><text transform="translate(197 394.7) rotate(-90)" text-anchor="end">GSM2226327</text><text transform="translate(209.1 394.7) rotate(-90)" text-anchor="end">GSM2226334</text><text transform="translate(221.3 394.7) rotate(-90)" text-anchor="end">GSM2226339</text><text transform="translate(233.5 394.7) rotate(-90)" text-anchor="end">GSM2226344</text><text transform="translate(245.7 394.7) rotate(-90)" text-anchor="end">GSM2226358</text><text transform="translate(257.9 394.7) rotate(-90)" text-anchor="end">GSM2226368</text><text transform="translate(270 394.7) rotate(-90)" text-anchor="end">GSM2226371</text><text transform="translate(282.2 394.7) rotate(-90)" text-anchor="end">GSM2226376</text><text transform="translate(294.4 394.7) rotate(-90)" text-anchor="end">GSM2226379</text><text transform="translate(306.6 394.7) rotate(-90)" text-anchor="end">GSM2226388</text><text transform="translate(318.8 394.7) rotate(-90)" text-anchor="end">GSM2226390</text><text transform="translate(330.9 394.7) rotate(-90)" text-anchor="end">GSM2226394</text><text transform="translate(343.1 394.7) rotate(-90)" text-anchor="end">GSM2226396</text><text transform="translate(355.3 394.7) rotate(-90)" text-anchor="end">GSM2226398</text><text transform="translate(367.5 394.7) rotate(-90)" text-anchor="end">GSM2226401</text><text transform="translate(379.7 394.7) rotate(-90)" text-anchor="end">GSM3150142</text><text transform="translate(391.8 394.7) rotate(-90)" text-anchor="end">GSM3150147</text><text transform="translate(404 394.7) rotate(-90)" text-anchor="end">GSM3150155</text><text transform="translate(416.2 394.7) rotate(-90)" text-anchor="end">GSM3150158</text><text transform="translate(428.4 394.7) rotate(-90)" text-anchor="end">GSM3150161</text><text transform="translate(440.6 394.7) rotate(-90)" text-anchor="end">GSM2226292</text><text transform="translate(452.7 394.7) rotate(-90)" text-anchor="end">GSM2226305</text><text transform="translate(464.9 394.7) rotate(-90)" text-anchor="end">GSM2226307</text><text transform="translate(477.1 394.7) rotate(-90)" text-anchor="end">GSM2226333</text><text transform="translate(489.3 394.7) rotate(-90)" text-anchor="end">GSM2226402</text><text transform="translate(501.5 394.7) rotate(-90)" text-anchor="end">GSM3150139</text><text transform="translate(513.6 394.7) rotate(-90)" text-anchor="end">GSM3150154</text><text transform="translate(525.8 394.7) rotate(-90)" text-anchor="end">GSM3150164</text><text transform="translate(538 394.7) rotate(-90)" text-anchor="end">GSM3150166</text><text transform="translate(550.2 394.7) rotate(-90)" text-anchor="end">GSM3150168</text></g>
<rect x="815.4" y="41.8" width="411" height="350.2" fill="none" stroke="#000" stroke-width="1.5"/>
<path d="M809 382.4H815.4" stroke="#000" stroke-width="1.5"/>
<text x="804" y="386" font-size="10" text-anchor="end" fill="#111">2</text>
<path d="M809 325.1H815.4" stroke="#000" stroke-width="1.5"/>
<text x="804" y="328.7" font-size="10" text-anchor="end" fill="#111">4</text>
<path d="M809 267.7H815.4" stroke="#000" stroke-width="1.5"/>
<text x="804" y="271.3" font-size="10" text-anchor="end" fill="#111">6</text>
<path d="M809 210.4H815.4" stroke="#000" stroke-width="1.5"/>
<text x="804" y="214" font-size="10" text-anchor="end" fill="#111">8</text>
<path d="M809 153H815.4" stroke="#000" stroke-width="1.5"/>
<text x="804" y="156.6" font-size="10" text-anchor="end" fill="#111">10</text>
<path d="M809 95.7H815.4" stroke="#000" stroke-width="1.5"/>
<text x="804" y="99.3" font-size="10" text-anchor="end" fill="#111">12</text>
<path d="M833.1 213.2V105.4M838.3 213.2V105.4M843.5 213.2V105.4M848.8 213.2V105.4M854 213.2V105.4M859.2 213.2V105.4M864.4 213.2V105.4M869.6 213.2V105.4M874.9 213.2V105.4M880.1 213.2V105.4M885.3 213.2V105.4M890.5 213.2V105.4M895.7 213.2V105.4M901 213.2V105.4M906.2 213.2V105.4M911.4 213.2V105.4M916.6 213.2V105.4M921.8 213.2V105.4M927.1 213.2V105.4M932.3 213.2V105.4M937.5 213.2V105.4M942.7 213.2V105.4M947.9 213.2V105.4M953.2 213.2V105.4M958.4 213.2V105.4M963.6 213.2V105.4M968.8 213.2V105.4M974 213.2V105.4M979.3 213.2V105.4M984.5 213.2V105.4M989.7 213.2V105.4M994.9 213.2V105.4M1000.1 213.2V105.4M1005.4 213.2V105.4M1010.6 213.2V105.4M1015.8 213.2V105.4M1021 213.2V105.4M1026.2 213.2V105.4M1031.5 213.2V105.4M1036.7 213.2V105.4M1041.9 213.2V105.4M1047.1 213.2V105.4M1052.3 213.2V105.4M1057.6 213.2V105.4M1062.8 213.2V105.4M1068 213.2V105.4M1073.2 213.2V105.4M1078.4 213.2V105.4M1083.7 213.2V105.4M1088.9 213.2V105.4M1094.1 213.2V105.4M1099.3 213.2V105.4M1104.5 213.2V105.4M1109.8 213.2V105.4M1115 213.2V105.4M1120.2 213.2V105.4M1125.4 213.2V105.4M1130.6 213.2V105.4M1135.9 213.2V105.4M1141.1 213.2V105.4M1146.3 213.2V105.4M1151.5 213.2V105.4M1156.7 213.2V105.4M1162 213.2V105.4M1167.2 213.2V105.4M1172.4 213.2V105.4M1177.6 213.2V105.4M1182.8 213.2V105.4M1188.1 213.2V105.4M1193.3 213.2V105.4M1198.5 213.2V105.4M1203.7 213.2V105.4M1208.9 213.2V105.4" stroke="#000" stroke-width="1.5" stroke-dasharray="4.9 5.2" stroke-dashoffset="3.6" fill="none"/>
<path d="M833.1 287.8V377.5M838.3 287.8V377.5M843.5 287.8V377.5M848.8 287.8V377.5M854 287.8V377.5M859.2 287.8V377.5M864.4 287.8V377.5M869.6 287.8V377.5M874.9 287.8V377.5M880.1 287.8V377.5M885.3 287.8V377.5M890.5 287.8V377.5M895.7 287.8V377.5M901 287.8V377.5M906.2 287.8V377.5M911.4 287.8V377.5M916.6 287.8V377.5M921.8 287.8V377.5M927.1 287.8V377.5M932.3 287.8V377.5M937.5 287.8V377.5M942.7 287.8V377.5M947.9 287.8V377.5M953.2 287.8V377.5M958.4 287.8V377.5M963.6 287.8V377.5M968.8 287.8V377.5M974 287.8V377.5M979.3 287.8V377.5M984.5 287.8V377.5M989.7 287.8V377.5M994.9 287.8V377.5M1000.1 287.8V377.5M1005.4 287.8V377.5M1010.6 287.8V377.5M1015.8 287.8V377.5M1021 287.8V377.5M1026.2 287.8V377.5M1031.5 287.8V377.5M1036.7 287.8V377.5M1041.9 287.8V377.5M1047.1 287.8V377.5M1052.3 287.8V377.5M1057.6 287.8V377.5M1062.8 287.8V377.5M1068 287.8V377.5M1073.2 287.8V377.5M1078.4 287.8V377.5M1083.7 287.8V377.5M1088.9 287.8V377.5M1094.1 287.8V377.5M1099.3 287.8V377.5M1104.5 287.8V377.5M1109.8 287.8V377.5M1115 287.8V377.5M1120.2 287.8V377.5M1125.4 287.8V377.5M1130.6 287.8V377.5M1135.9 287.8V377.5M1141.1 287.8V377.5M1146.3 287.8V377.5M1151.5 287.8V377.5M1156.7 287.8V377.5M1162 287.8V377.5M1167.2 287.8V377.5M1172.4 287.8V377.5M1177.6 287.8V377.5M1182.8 287.8V377.5M1188.1 287.8V377.5M1193.3 287.8V377.5M1198.5 287.8V377.5M1203.7 287.8V377.5M1208.9 287.8V377.5" stroke="#000" stroke-width="1.5" stroke-dasharray="4.9 5.2" stroke-dashoffset="5.15" fill="none"/>
<path d="M831.8 105.4h2.6M831.8 377.5h2.6M837 105.4h2.6M837 377.5h2.6M842.2 105.4h2.6M842.2 377.5h2.6M847.5 105.4h2.6M847.5 377.5h2.6M852.7 105.4h2.6M852.7 377.5h2.6M857.9 105.4h2.6M857.9 377.5h2.6M863.1 105.4h2.6M863.1 377.5h2.6M868.3 105.4h2.6M868.3 377.5h2.6M873.6 105.4h2.6M873.6 377.5h2.6M878.8 105.4h2.6M878.8 377.5h2.6M884 105.4h2.6M884 377.5h2.6M889.2 105.4h2.6M889.2 377.5h2.6M894.4 105.4h2.6M894.4 377.5h2.6M899.7 105.4h2.6M899.7 377.5h2.6M904.9 105.4h2.6M904.9 377.5h2.6M910.1 105.4h2.6M910.1 377.5h2.6M915.3 105.4h2.6M915.3 377.5h2.6M920.5 105.4h2.6M920.5 377.5h2.6M925.8 105.4h2.6M925.8 377.5h2.6M931 105.4h2.6M931 377.5h2.6M936.2 105.4h2.6M936.2 377.5h2.6M941.4 105.4h2.6M941.4 377.5h2.6M946.6 105.4h2.6M946.6 377.5h2.6M951.9 105.4h2.6M951.9 377.5h2.6M957.1 105.4h2.6M957.1 377.5h2.6M962.3 105.4h2.6M962.3 377.5h2.6M967.5 105.4h2.6M967.5 377.5h2.6M972.7 105.4h2.6M972.7 377.5h2.6M978 105.4h2.6M978 377.5h2.6M983.2 105.4h2.6M983.2 377.5h2.6M988.4 105.4h2.6M988.4 377.5h2.6M993.6 105.4h2.6M993.6 377.5h2.6M998.8 105.4h2.6M998.8 377.5h2.6M1004.1 105.4h2.6M1004.1 377.5h2.6M1009.3 105.4h2.6M1009.3 377.5h2.6M1014.5 105.4h2.6M1014.5 377.5h2.6M1019.7 105.4h2.6M1019.7 377.5h2.6M1024.9 105.4h2.6M1024.9 377.5h2.6M1030.2 105.4h2.6M1030.2 377.5h2.6M1035.4 105.4h2.6M1035.4 377.5h2.6M1040.6 105.4h2.6M1040.6 377.5h2.6M1045.8 105.4h2.6M1045.8 377.5h2.6M1051 105.4h2.6M1051 377.5h2.6M1056.3 105.4h2.6M1056.3 377.5h2.6M1061.5 105.4h2.6M1061.5 377.5h2.6M1066.7 105.4h2.6M1066.7 377.5h2.6M1071.9 105.4h2.6M1071.9 377.5h2.6M1077.1 105.4h2.6M1077.1 377.5h2.6M1082.4 105.4h2.6M1082.4 377.5h2.6M1087.6 105.4h2.6M1087.6 377.5h2.6M1092.8 105.4h2.6M1092.8 377.5h2.6M1098 105.4h2.6M1098 377.5h2.6M1103.2 105.4h2.6M1103.2 377.5h2.6M1108.5 105.4h2.6M1108.5 377.5h2.6M1113.7 105.4h2.6M1113.7 377.5h2.6M1118.9 105.4h2.6M1118.9 377.5h2.6M1124.1 105.4h2.6M1124.1 377.5h2.6M1129.3 105.4h2.6M1129.3 377.5h2.6M1134.6 105.4h2.6M1134.6 377.5h2.6M1139.8 105.4h2.6M1139.8 377.5h2.6M1145 105.4h2.6M1145 377.5h2.6M1150.2 105.4h2.6M1150.2 377.5h2.6M1155.4 105.4h2.6M1155.4 377.5h2.6M1160.7 105.4h2.6M1160.7 377.5h2.6M1165.9 105.4h2.6M1165.9 377.5h2.6M1171.1 105.4h2.6M1171.1 377.5h2.6M1176.3 105.4h2.6M1176.3 377.5h2.6M1181.5 105.4h2.6M1181.5 377.5h2.6M1186.8 105.4h2.6M1186.8 377.5h2.6M1192 105.4h2.6M1192 377.5h2.6M1197.2 105.4h2.6M1197.2 377.5h2.6M1202.4 105.4h2.6M1202.4 377.5h2.6M1207.6 105.4h2.6M1207.6 377.5h2.6" stroke="#000" stroke-width="1.2" fill="none"/>
<path d="M833.1 81.4V101.4M838.3 81.4V101.4M843.5 81.4V101.4M848.8 81.4V101.4M854 81.4V101.4M859.2 81.4V101.4M864.4 81.4V101.4M869.6 81.4V101.4M874.9 81.4V101.4M880.1 81.4V101.4M885.3 81.4V101.4M890.5 81.4V101.4M895.7 81.4V101.4M901 81.4V101.4M906.2 81.4V101.4M911.4 81.4V101.4M916.6 81.4V101.4M921.8 81.4V101.4M927.1 81.4V101.4M932.3 81.4V101.4M937.5 81.4V101.4M942.7 81.4V101.4M947.9 81.4V101.4M953.2 81.4V101.4M958.4 81.4V101.4M963.6 81.4V101.4M968.8 81.4V101.4M974 81.4V101.4M979.3 81.4V101.4M984.5 81.4V101.4M989.7 81.4V101.4M994.9 81.4V101.4M1000.1 81.4V101.4M1005.4 81.4V101.4M1010.6 81.4V101.4M1015.8 81.4V101.4M1021 81.4V101.4M1026.2 81.4V101.4M1031.5 81.4V101.4M1036.7 81.4V101.4M1041.9 81.4V101.4M1047.1 81.4V101.4M1052.3 81.4V101.4M1057.6 81.4V101.4M1062.8 81.4V101.4M1068 81.4V101.4M1073.2 81.4V101.4M1078.4 81.4V101.4M1083.7 81.4V101.4M1088.9 81.4V101.4M1094.1 81.4V101.4M1099.3 81.4V101.4M1104.5 81.4V101.4M1109.8 81.4V101.4M1115 81.4V101.4M1120.2 81.4V101.4M1125.4 81.4V101.4M1130.6 81.4V101.4M1135.9 81.4V101.4M1141.1 81.4V101.4M1146.3 81.4V101.4M1151.5 81.4V101.4M1156.7 81.4V101.4M1162 81.4V101.4M1167.2 81.4V101.4M1172.4 81.4V101.4M1177.6 81.4V101.4M1182.8 81.4V101.4M1188.1 81.4V101.4M1193.3 81.4V101.4M1198.5 81.4V101.4M1203.7 81.4V101.4M1208.9 81.4V101.4" stroke="#000" stroke-width="3.5" stroke-linecap="round" fill="none"/>
<path d="M833.1 54.1h0M833.1 67.6h0M833.1 74.5h0M833.1 79.6h0M833.1 83.7h0M838.3 54.1h0M838.3 67.6h0M838.3 74.5h0M838.3 79.6h0M838.3 83.7h0M843.5 54.1h0M843.5 67.6h0M843.5 74.5h0M843.5 79.6h0M843.5 83.7h0M848.8 54.1h0M848.8 67.6h0M848.8 74.5h0M848.8 79.6h0M848.8 83.7h0M854 54.1h0M854 67.6h0M854 74.5h0M854 79.6h0M854 83.7h0M859.2 54.1h0M859.2 67.6h0M859.2 74.5h0M859.2 79.6h0M859.2 83.7h0M864.4 54.1h0M864.4 67.6h0M864.4 74.5h0M864.4 79.6h0M864.4 83.7h0M869.6 54.1h0M869.6 67.6h0M869.6 74.5h0M869.6 79.6h0M869.6 83.7h0M874.9 54.1h0M874.9 67.6h0M874.9 74.5h0M874.9 79.6h0M874.9 83.7h0M880.1 54.1h0M880.1 67.6h0M880.1 74.5h0M880.1 79.6h0M880.1 83.7h0M885.3 54.1h0M885.3 67.6h0M885.3 74.5h0M885.3 79.6h0M885.3 83.7h0M890.5 54.1h0M890.5 67.6h0M890.5 74.5h0M890.5 79.6h0M890.5 83.7h0M895.7 54.1h0M895.7 67.6h0M895.7 74.5h0M895.7 79.6h0M895.7 83.7h0M901 54.1h0M901 67.6h0M901 74.5h0M901 79.6h0M901 83.7h0M906.2 54.1h0M906.2 67.6h0M906.2 74.5h0M906.2 79.6h0M906.2 83.7h0M911.4 54.1h0M911.4 67.6h0M911.4 74.5h0M911.4 79.6h0M911.4 83.7h0M916.6 54.1h0M916.6 67.6h0M916.6 74.5h0M916.6 79.6h0M916.6 83.7h0M921.8 54.1h0M921.8 67.6h0M921.8 74.5h0M921.8 79.6h0M921.8 83.7h0M927.1 54.1h0M927.1 67.6h0M927.1 74.5h0M927.1 79.6h0M927.1 83.7h0M932.3 54.1h0M932.3 67.6h0M932.3 74.5h0M932.3 79.6h0M932.3 83.7h0M937.5 54.1h0M937.5 67.6h0M937.5 74.5h0M937.5 79.6h0M937.5 83.7h0M942.7 54.1h0M942.7 67.6h0M942.7 74.5h0M942.7 79.6h0M942.7 83.7h0M947.9 54.1h0M947.9 67.6h0M947.9 74.5h0M947.9 79.6h0M947.9 83.7h0M953.2 54.1h0M953.2 67.6h0M953.2 74.5h0M953.2 79.6h0M953.2 83.7h0M958.4 54.1h0M958.4 67.6h0M958.4 74.5h0M958.4 79.6h0M958.4 83.7h0M963.6 54.1h0M963.6 67.6h0M963.6 74.5h0M963.6 79.6h0M963.6 83.7h0M968.8 54.1h0M968.8 67.6h0M968.8 74.5h0M968.8 79.6h0M968.8 83.7h0M974 54.1h0M974 67.6h0M974 74.5h0M974 79.6h0M974 83.7h0M979.3 54.1h0M979.3 67.6h0M979.3 74.5h0M979.3 79.6h0M979.3 83.7h0M984.5 54.1h0M984.5 67.6h0M984.5 74.5h0M984.5 79.6h0M984.5 83.7h0M989.7 54.1h0M989.7 67.6h0M989.7 74.5h0M989.7 79.6h0M989.7 83.7h0M994.9 54.1h0M994.9 67.6h0M994.9 74.5h0M994.9 79.6h0M994.9 83.7h0M1000.1 54.1h0M1000.1 67.6h0M1000.1 74.5h0M1000.1 79.6h0M1000.1 83.7h0M1005.4 54.1h0M1005.4 67.6h0M1005.4 74.5h0M1005.4 79.6h0M1005.4 83.7h0M1010.6 54.1h0M1010.6 67.6h0M1010.6 74.5h0M1010.6 79.6h0M1010.6 83.7h0M1015.8 54.1h0M1015.8 67.6h0M1015.8 74.5h0M1015.8 79.6h0M1015.8 83.7h0M1021 54.1h0M1021 67.6h0M1021 74.5h0M1021 79.6h0M1021 83.7h0M1026.2 54.1h0M1026.2 67.6h0M1026.2 74.5h0M1026.2 79.6h0M1026.2 83.7h0M1031.5 54.1h0M1031.5 67.6h0M1031.5 74.5h0M1031.5 79.6h0M1031.5 83.7h0M1036.7 54.1h0M1036.7 67.6h0M1036.7 74.5h0M1036.7 79.6h0M1036.7 83.7h0M1041.9 54.1h0M1041.9 67.6h0M1041.9 74.5h0M1041.9 79.6h0M1041.9 83.7h0M1047.1 54.1h0M1047.1 67.6h0M1047.1 74.5h0M1047.1 79.6h0M1047.1 83.7h0M1052.3 54.1h0M1052.3 67.6h0M1052.3 74.5h0M1052.3 79.6h0M1052.3 83.7h0M1057.6 54.1h0M1057.6 67.6h0M1057.6 74.5h0M1057.6 79.6h0M1057.6 83.7h0M1062.8 54.1h0M1062.8 67.6h0M1062.8 74.5h0M1062.8 79.6h0M1062.8 83.7h0M1068 54.1h0M1068 67.6h0M1068 74.5h0M1068 79.6h0M1068 83.7h0M1073.2 54.1h0M1073.2 67.6h0M1073.2 74.5h0M1073.2 79.6h0M1073.2 83.7h0M1078.4 54.1h0M1078.4 67.6h0M1078.4 74.5h0M1078.4 79.6h0M1078.4 83.7h0M1083.7 54.1h0M1083.7 67.6h0M1083.7 74.5h0M1083.7 79.6h0M1083.7 83.7h0M1088.9 54.1h0M1088.9 67.6h0M1088.9 74.5h0M1088.9 79.6h0M1088.9 83.7h0M1094.1 54.1h0M1094.1 67.6h0M1094.1 74.5h0M1094.1 79.6h0M1094.1 83.7h0M1099.3 54.1h0M1099.3 67.6h0M1099.3 74.5h0M1099.3 79.6h0M1099.3 83.7h0M1104.5 54.1h0M1104.5 67.6h0M1104.5 74.5h0M1104.5 79.6h0M1104.5 83.7h0M1109.8 54.1h0M1109.8 67.6h0M1109.8 74.5h0M1109.8 79.6h0M1109.8 83.7h0M1115 54.1h0M1115 67.6h0M1115 74.5h0M1115 79.6h0M1115 83.7h0M1120.2 54.1h0M1120.2 67.6h0M1120.2 74.5h0M1120.2 79.6h0M1120.2 83.7h0M1125.4 54.1h0M1125.4 67.6h0M1125.4 74.5h0M1125.4 79.6h0M1125.4 83.7h0M1130.6 54.1h0M1130.6 67.6h0M1130.6 74.5h0M1130.6 79.6h0M1130.6 83.7h0M1135.9 54.1h0M1135.9 67.6h0M1135.9 74.5h0M1135.9 79.6h0M1135.9 83.7h0M1141.1 54.1h0M1141.1 67.6h0M1141.1 74.5h0M1141.1 79.6h0M1141.1 83.7h0M1146.3 54.1h0M1146.3 67.6h0M1146.3 74.5h0M1146.3 79.6h0M1146.3 83.7h0M1151.5 54.1h0M1151.5 67.6h0M1151.5 74.5h0M1151.5 79.6h0M1151.5 83.7h0M1156.7 54.1h0M1156.7 67.6h0M1156.7 74.5h0M1156.7 79.6h0M1156.7 83.7h0M1162 54.1h0M1162 67.6h0M1162 74.5h0M1162 79.6h0M1162 83.7h0M1167.2 54.1h0M1167.2 67.6h0M1167.2 74.5h0M1167.2 79.6h0M1167.2 83.7h0M1172.4 54.1h0M1172.4 67.6h0M1172.4 74.5h0M1172.4 79.6h0M1172.4 83.7h0M1177.6 54.1h0M1177.6 67.6h0M1177.6 74.5h0M1177.6 79.6h0M1177.6 83.7h0M1182.8 54.1h0M1182.8 67.6h0M1182.8 74.5h0M1182.8 79.6h0M1182.8 83.7h0M1188.1 54.1h0M1188.1 67.6h0M1188.1 74.5h0M1188.1 79.6h0M1188.1 83.7h0M1193.3 54.1h0M1193.3 67.6h0M1193.3 74.5h0M1193.3 79.6h0M1193.3 83.7h0M1198.5 54.1h0M1198.5 67.6h0M1198.5 74.5h0M1198.5 79.6h0M1198.5 83.7h0M1203.7 54.1h0M1203.7 67.6h0M1203.7 74.5h0M1203.7 79.6h0M1203.7 83.7h0M1208.9 54.1h0M1208.9 67.6h0M1208.9 74.5h0M1208.9 79.6h0M1208.9 83.7h0" stroke="#000" stroke-width="3.3" stroke-linecap="round" fill="none"/>
<path d="M833.1 54.1h0M833.1 67.6h0M833.1 74.5h0M833.1 79.6h0M833.1 83.7h0M838.3 54.1h0M838.3 67.6h0M838.3 74.5h0M838.3 79.6h0M838.3 83.7h0M843.5 54.1h0M843.5 67.6h0M843.5 74.5h0M843.5 79.6h0M843.5 83.7h0M848.8 54.1h0M848.8 67.6h0M848.8 74.5h0M848.8 79.6h0M848.8 83.7h0M854 54.1h0M854 67.6h0M854 74.5h0M854 79.6h0M854 83.7h0M859.2 54.1h0M859.2 67.6h0M859.2 74.5h0M859.2 79.6h0M859.2 83.7h0M864.4 54.1h0M864.4 67.6h0M864.4 74.5h0M864.4 79.6h0M864.4 83.7h0M869.6 54.1h0M869.6 67.6h0M869.6 74.5h0M869.6 79.6h0M869.6 83.7h0M874.9 54.1h0M874.9 67.6h0M874.9 74.5h0M874.9 79.6h0M874.9 83.7h0M880.1 54.1h0M880.1 67.6h0M880.1 74.5h0M880.1 79.6h0M880.1 83.7h0M885.3 54.1h0M885.3 67.6h0M885.3 74.5h0M885.3 79.6h0M885.3 83.7h0M890.5 54.1h0M890.5 67.6h0M890.5 74.5h0M890.5 79.6h0M890.5 83.7h0M895.7 54.1h0M895.7 67.6h0M895.7 74.5h0M895.7 79.6h0M895.7 83.7h0M901 54.1h0M901 67.6h0M901 74.5h0M901 79.6h0M901 83.7h0M906.2 54.1h0M906.2 67.6h0M906.2 74.5h0M906.2 79.6h0M906.2 83.7h0M911.4 54.1h0M911.4 67.6h0M911.4 74.5h0M911.4 79.6h0M911.4 83.7h0M916.6 54.1h0M916.6 67.6h0M916.6 74.5h0M916.6 79.6h0M916.6 83.7h0M921.8 54.1h0M921.8 67.6h0M921.8 74.5h0M921.8 79.6h0M921.8 83.7h0M927.1 54.1h0M927.1 67.6h0M927.1 74.5h0M927.1 79.6h0M927.1 83.7h0M932.3 54.1h0M932.3 67.6h0M932.3 74.5h0M932.3 79.6h0M932.3 83.7h0M937.5 54.1h0M937.5 67.6h0M937.5 74.5h0M937.5 79.6h0M937.5 83.7h0M942.7 54.1h0M942.7 67.6h0M942.7 74.5h0M942.7 79.6h0M942.7 83.7h0M947.9 54.1h0M947.9 67.6h0M947.9 74.5h0M947.9 79.6h0M947.9 83.7h0M953.2 54.1h0M953.2 67.6h0M953.2 74.5h0M953.2 79.6h0M953.2 83.7h0M958.4 54.1h0M958.4 67.6h0M958.4 74.5h0M958.4 79.6h0M958.4 83.7h0M963.6 54.1h0M963.6 67.6h0M963.6 74.5h0M963.6 79.6h0M963.6 83.7h0M968.8 54.1h0M968.8 67.6h0M968.8 74.5h0M968.8 79.6h0M968.8 83.7h0M974 54.1h0M974 67.6h0M974 74.5h0M974 79.6h0M974 83.7h0M979.3 54.1h0M979.3 67.6h0M979.3 74.5h0M979.3 79.6h0M979.3 83.7h0M984.5 54.1h0M984.5 67.6h0M984.5 74.5h0M984.5 79.6h0M984.5 83.7h0M989.7 54.1h0M989.7 67.6h0M989.7 74.5h0M989.7 79.6h0M989.7 83.7h0M994.9 54.1h0M994.9 67.6h0M994.9 74.5h0M994.9 79.6h0M994.9 83.7h0M1000.1 54.1h0M1000.1 67.6h0M1000.1 74.5h0M1000.1 79.6h0M1000.1 83.7h0M1005.4 54.1h0M1005.4 67.6h0M1005.4 74.5h0M1005.4 79.6h0M1005.4 83.7h0M1010.6 54.1h0M1010.6 67.6h0M1010.6 74.5h0M1010.6 79.6h0M1010.6 83.7h0M1015.8 54.1h0M1015.8 67.6h0M1015.8 74.5h0M1015.8 79.6h0M1015.8 83.7h0M1021 54.1h0M1021 67.6h0M1021 74.5h0M1021 79.6h0M1021 83.7h0M1026.2 54.1h0M1026.2 67.6h0M1026.2 74.5h0M1026.2 79.6h0M1026.2 83.7h0M1031.5 54.1h0M1031.5 67.6h0M1031.5 74.5h0M1031.5 79.6h0M1031.5 83.7h0M1036.7 54.1h0M1036.7 67.6h0M1036.7 74.5h0M1036.7 79.6h0M1036.7 83.7h0M1041.9 54.1h0M1041.9 67.6h0M1041.9 74.5h0M1041.9 79.6h0M1041.9 83.7h0M1047.1 54.1h0M1047.1 67.6h0M1047.1 74.5h0M1047.1 79.6h0M1047.1 83.7h0M1052.3 54.1h0M1052.3 67.6h0M1052.3 74.5h0M1052.3 79.6h0M1052.3 83.7h0M1057.6 54.1h0M1057.6 67.6h0M1057.6 74.5h0M1057.6 79.6h0M1057.6 83.7h0M1062.8 54.1h0M1062.8 67.6h0M1062.8 74.5h0M1062.8 79.6h0M1062.8 83.7h0M1068 54.1h0M1068 67.6h0M1068 74.5h0M1068 79.6h0M1068 83.7h0M1073.2 54.1h0M1073.2 67.6h0M1073.2 74.5h0M1073.2 79.6h0M1073.2 83.7h0M1078.4 54.1h0M1078.4 67.6h0M1078.4 74.5h0M1078.4 79.6h0M1078.4 83.7h0M1083.7 54.1h0M1083.7 67.6h0M1083.7 74.5h0M1083.7 79.6h0M1083.7 83.7h0M1088.9 54.1h0M1088.9 67.6h0M1088.9 74.5h0M1088.9 79.6h0M1088.9 83.7h0M1094.1 54.1h0M1094.1 67.6h0M1094.1 74.5h0M1094.1 79.6h0M1094.1 83.7h0M1099.3 54.1h0M1099.3 67.6h0M1099.3 74.5h0M1099.3 79.6h0M1099.3 83.7h0M1104.5 54.1h0M1104.5 67.6h0M1104.5 74.5h0M1104.5 79.6h0M1104.5 83.7h0M1109.8 54.1h0M1109.8 67.6h0M1109.8 74.5h0M1109.8 79.6h0M1109.8 83.7h0M1115 54.1h0M1115 67.6h0M1115 74.5h0M1115 79.6h0M1115 83.7h0M1120.2 54.1h0M1120.2 67.6h0M1120.2 74.5h0M1120.2 79.6h0M1120.2 83.7h0M1125.4 54.1h0M1125.4 67.6h0M1125.4 74.5h0M1125.4 79.6h0M1125.4 83.7h0M1130.6 54.1h0M1130.6 67.6h0M1130.6 74.5h0M1130.6 79.6h0M1130.6 83.7h0M1135.9 54.1h0M1135.9 67.6h0M1135.9 74.5h0M1135.9 79.6h0M1135.9 83.7h0M1141.1 54.1h0M1141.1 67.6h0M1141.1 74.5h0M1141.1 79.6h0M1141.1 83.7h0M1146.3 54.1h0M1146.3 67.6h0M1146.3 74.5h0M1146.3 79.6h0M1146.3 83.7h0M1151.5 54.1h0M1151.5 67.6h0M1151.5 74.5h0M1151.5 79.6h0M1151.5 83.7h0M1156.7 54.1h0M1156.7 67.6h0M1156.7 74.5h0M1156.7 79.6h0M1156.7 83.7h0M1162 54.1h0M1162 67.6h0M1162 74.5h0M1162 79.6h0M1162 83.7h0M1167.2 54.1h0M1167.2 67.6h0M1167.2 74.5h0M1167.2 79.6h0M1167.2 83.7h0M1172.4 54.1h0M1172.4 67.6h0M1172.4 74.5h0M1172.4 79.6h0M1172.4 83.7h0M1177.6 54.1h0M1177.6 67.6h0M1177.6 74.5h0M1177.6 79.6h0M1177.6 83.7h0M1182.8 54.1h0M1182.8 67.6h0M1182.8 74.5h0M1182.8 79.6h0M1182.8 83.7h0M1188.1 54.1h0M1188.1 67.6h0M1188.1 74.5h0M1188.1 79.6h0M1188.1 83.7h0M1193.3 54.1h0M1193.3 67.6h0M1193.3 74.5h0M1193.3 79.6h0M1193.3 83.7h0M1198.5 54.1h0M1198.5 67.6h0M1198.5 74.5h0M1198.5 79.6h0M1198.5 83.7h0M1203.7 54.1h0M1203.7 67.6h0M1203.7 74.5h0M1203.7 79.6h0M1203.7 83.7h0M1208.9 54.1h0M1208.9 67.6h0M1208.9 74.5h0M1208.9 79.6h0M1208.9 83.7h0" stroke="#fff" stroke-width="1.2" stroke-linecap="round" fill="none"/>
<g stroke="#000" stroke-width="1.5"><rect x="831" y="213.2" width="4.3" height="74.5" fill="#dc0000"/><rect x="836.2" y="213.2" width="4.3" height="74.5" fill="#e01707"/><rect x="841.4" y="213.2" width="4.3" height="74.5" fill="#e42f0d"/><rect x="846.6" y="213.2" width="4.3" height="74.5" fill="#e84614"/><rect x="851.8" y="213.2" width="4.3" height="74.5" fill="#eb5717"/><rect x="857.1" y="213.2" width="4.3" height="74.5" fill="#ed671b"/><rect x="862.3" y="213.2" width="4.3" height="74.5" fill="#f0781e"/><rect x="867.5" y="213.2" width="4.3" height="74.5" fill="#f38c21"/><rect x="872.7" y="213.2" width="4.3" height="74.5" fill="#f7a025"/><rect x="877.9" y="213.2" width="4.3" height="74.5" fill="#fab428"/><rect x="883.2" y="213.2" width="4.3" height="74.5" fill="#fcc628"/><rect x="888.4" y="213.2" width="4.3" height="74.5" fill="#ffd728"/><rect x="893.6" y="213.2" width="4.3" height="74.5" fill="#ffe42a"/><rect x="898.8" y="213.2" width="4.3" height="74.5" fill="#fff02d"/><rect x="904" y="213.2" width="4.3" height="74.5" fill="#f5f52f"/><rect x="909.2" y="213.2" width="4.3" height="74.5" fill="#ebfa30"/><rect x="914.5" y="213.2" width="4.3" height="74.5" fill="#e1ff32"/><rect x="919.7" y="213.2" width="4.3" height="74.5" fill="#d0fe32"/><rect x="924.9" y="213.2" width="4.3" height="74.5" fill="#c0fd32"/><rect x="930.1" y="213.2" width="4.3" height="74.5" fill="#affc32"/><rect x="935.4" y="213.2" width="4.3" height="74.5" fill="#a9fb34"/><rect x="940.6" y="213.2" width="4.3" height="74.5" fill="#a2fa37"/><rect x="945.8" y="213.2" width="4.3" height="74.5" fill="#9cf93a"/><rect x="951" y="213.2" width="4.3" height="74.5" fill="#96f83c"/><rect x="956.2" y="213.2" width="4.3" height="74.5" fill="#92f745"/><rect x="961.5" y="213.2" width="4.3" height="74.5" fill="#8ef64e"/><rect x="966.7" y="213.2" width="4.3" height="74.5" fill="#8bf656"/><rect x="971.9" y="213.2" width="4.3" height="74.5" fill="#87f55f"/><rect x="977.1" y="213.2" width="4.3" height="74.5" fill="#85f671"/><rect x="982.3" y="213.2" width="4.3" height="74.5" fill="#84f784"/><rect x="987.6" y="213.2" width="4.3" height="74.5" fill="#82f896"/><rect x="992.8" y="213.2" width="4.3" height="74.5" fill="#82f9aa"/><rect x="998" y="213.2" width="4.3" height="74.5" fill="#82fbbe"/><rect x="1003.2" y="213.2" width="4.3" height="74.5" fill="#82fcd2"/><rect x="1008.4" y="213.2" width="4.3" height="74.5" fill="#82fbdf"/><rect x="1013.6" y="213.2" width="4.3" height="74.5" fill="#82fbed"/><rect x="1018.9" y="213.2" width="4.3" height="74.5" fill="#82fafa"/><rect x="1024.1" y="213.2" width="4.3" height="74.5" fill="#78ebfa"/><rect x="1029.3" y="213.2" width="4.3" height="74.5" fill="#6edcfa"/><rect x="1034.5" y="213.2" width="4.3" height="74.5" fill="#64cdfa"/><rect x="1039.8" y="213.2" width="4.3" height="74.5" fill="#5cbbfa"/><rect x="1045" y="213.2" width="4.3" height="74.5" fill="#53a8fa"/><rect x="1050.2" y="213.2" width="4.3" height="74.5" fill="#4b96fa"/><rect x="1055.4" y="213.2" width="4.3" height="74.5" fill="#4689fa"/><rect x="1060.6" y="213.2" width="4.3" height="74.5" fill="#417bfa"/><rect x="1065.8" y="213.2" width="4.3" height="74.5" fill="#3c6efa"/><rect x="1071.1" y="213.2" width="4.3" height="74.5" fill="#355dfa"/><rect x="1076.3" y="213.2" width="4.3" height="74.5" fill="#2f4dfa"/><rect x="1081.5" y="213.2" width="4.3" height="74.5" fill="#283cfa"/><rect x="1086.7" y="213.2" width="4.3" height="74.5" fill="#202afa"/><rect x="1091.9" y="213.2" width="4.3" height="74.5" fill="#1919fa"/><rect x="1097.2" y="213.2" width="4.3" height="74.5" fill="#2512fa"/><rect x="1102.4" y="213.2" width="4.3" height="74.5" fill="#300cfa"/><rect x="1107.6" y="213.2" width="4.3" height="74.5" fill="#3c05fa"/><rect x="1112.8" y="213.2" width="4.3" height="74.5" fill="#5003fa"/><rect x="1118" y="213.2" width="4.3" height="74.5" fill="#6402fa"/><rect x="1123.3" y="213.2" width="4.3" height="74.5" fill="#7800fa"/><rect x="1128.5" y="213.2" width="4.3" height="74.5" fill="#8900fa"/><rect x="1133.7" y="213.2" width="4.3" height="74.5" fill="#9900fa"/><rect x="1138.9" y="213.2" width="4.3" height="74.5" fill="#aa00fa"/><rect x="1144.1" y="213.2" width="4.3" height="74.5" fill="#b900f8"/><rect x="1149.4" y="213.2" width="4.3" height="74.5" fill="#c800f7"/><rect x="1154.6" y="213.2" width="4.3" height="74.5" fill="#d700f5"/><rect x="1159.8" y="213.2" width="4.3" height="74.5" fill="#db00e1"/><rect x="1165" y="213.2" width="4.3" height="74.5" fill="#e000cd"/><rect x="1170.2" y="213.2" width="4.3" height="74.5" fill="#e400b9"/><rect x="1175.5" y="213.2" width="4.3" height="74.5" fill="#e500a5"/><rect x="1180.7" y="213.2" width="4.3" height="74.5" fill="#e50091"/><rect x="1185.9" y="213.2" width="4.3" height="74.5" fill="#e6007d"/><rect x="1191.1" y="213.2" width="4.3" height="74.5" fill="#e50069"/><rect x="1196.3" y="213.2" width="4.3" height="74.5" fill="#e50055"/><rect x="1201.6" y="213.2" width="4.3" height="74.5" fill="#e40041"/><rect x="1206.8" y="213.2" width="4.3" height="74.5" fill="#de0028"/></g>
<path d="M831 250.5h4.3M836.2 250.5h4.3M841.4 250.5h4.3M846.6 250.5h4.3M851.8 250.5h4.3M857.1 250.5h4.3M862.3 250.5h4.3M867.5 250.5h4.3M872.7 250.5h4.3M877.9 250.5h4.3M883.2 250.5h4.3M888.4 250.5h4.3M893.6 250.5h4.3M898.8 250.5h4.3M904 250.5h4.3M909.2 250.5h4.3M914.5 250.5h4.3M919.7 250.5h4.3M924.9 250.5h4.3M930.1 250.5h4.3M935.4 250.5h4.3M940.6 250.5h4.3M945.8 250.5h4.3M951 250.5h4.3M956.2 250.5h4.3M961.5 250.5h4.3M966.7 250.5h4.3M971.9 250.5h4.3M977.1 250.5h4.3M982.3 250.5h4.3M987.6 250.5h4.3M992.8 250.5h4.3M998 250.5h4.3M1003.2 250.5h4.3M1008.4 250.5h4.3M1013.6 250.5h4.3M1018.9 250.5h4.3M1024.1 250.5h4.3M1029.3 250.5h4.3M1034.5 250.5h4.3M1039.8 250.5h4.3M1045 250.5h4.3M1050.2 250.5h4.3M1055.4 250.5h4.3M1060.6 250.5h4.3M1065.8 250.5h4.3M1071.1 250.5h4.3M1076.3 250.5h4.3M1081.5 250.5h4.3M1086.7 250.5h4.3M1091.9 250.5h4.3M1097.2 250.5h4.3M1102.4 250.5h4.3M1107.6 250.5h4.3M1112.8 250.5h4.3M1118 250.5h4.3M1123.3 250.5h4.3M1128.5 250.5h4.3M1133.7 250.5h4.3M1138.9 250.5h4.3M1144.1 250.5h4.3M1149.4 250.5h4.3M1154.6 250.5h4.3M1159.8 250.5h4.3M1165 250.5h4.3M1170.2 250.5h4.3M1175.5 250.5h4.3M1180.7 250.5h4.3M1185.9 250.5h4.3M1191.1 250.5h4.3M1196.3 250.5h4.3M1201.6 250.5h4.3M1206.8 250.5h4.3" stroke="#000" stroke-width="2.8" fill="none"/>
<path d="M833.1 392V398.5M838.3 392V398.5M843.5 392V398.5M848.8 392V398.5M854 392V398.5M859.2 392V398.5M864.4 392V398.5M869.6 392V398.5M874.9 392V398.5M880.1 392V398.5M885.3 392V398.5M890.5 392V398.5M895.7 392V398.5M901 392V398.5M906.2 392V398.5M911.4 392V398.5M916.6 392V398.5M921.8 392V398.5M927.1 392V398.5M932.3 392V398.5M937.5 392V398.5M942.7 392V398.5M947.9 392V398.5M953.2 392V398.5M958.4 392V398.5M963.6 392V398.5M968.8 392V398.5M974 392V398.5M979.3 392V398.5M984.5 392V398.5M989.7 392V398.5M994.9 392V398.5M1000.1 392V398.5M1005.4 392V398.5M1010.6 392V398.5M1015.8 392V398.5M1021 392V398.5M1026.2 392V398.5M1031.5 392V398.5M1036.7 392V398.5M1041.9 392V398.5M1047.1 392V398.5M1052.3 392V398.5M1057.6 392V398.5M1062.8 392V398.5M1068 392V398.5M1073.2 392V398.5M1078.4 392V398.5M1083.7 392V398.5M1088.9 392V398.5M1094.1 392V398.5M1099.3 392V398.5M1104.5 392V398.5M1109.8 392V398.5M1115 392V398.5M1120.2 392V398.5M1125.4 392V398.5M1130.6 392V398.5M1135.9 392V398.5M1141.1 392V398.5M1146.3 392V398.5M1151.5 392V398.5M1156.7 392V398.5M1162 392V398.5M1167.2 392V398.5M1172.4 392V398.5M1177.6 392V398.5M1182.8 392V398.5M1188.1 392V398.5M1193.3 392V398.5M1198.5 392V398.5M1203.7 392V398.5M1208.9 392V398.5" stroke="#000" stroke-width="1.4"/>
<g font-size="10" fill="#111"><text transform="translate(836.7 404.2) rotate(-90)" text-anchor="end">GSM2226282</text><text transform="translate(847.1 404.2) rotate(-90)" text-anchor="end">GSM2226285</text><text transform="translate(857.6 404.2) rotate(-90)" text-anchor="end">GSM2226287</text><text transform="translate(868 404.2) rotate(-90)" text-anchor="end">GSM2226294</text><text transform="translate(878.5 404.2) rotate(-90)" text-anchor="end">GSM2226298</text><text transform="translate(888.9 404.2) rotate(-90)" text-anchor="end">GSM2226309</text><text transform="translate(899.3 404.2) rotate(-90)" text-anchor="end">GSM2226314</text><text transform="translate(909.8 404.2) rotate(-90)" text-anchor="end">GSM2226327</text><text transform="translate(920.2 404.2) rotate(-90)" text-anchor="end">GSM2226334</text><text transform="translate(930.7 404.2) rotate(-90)" text-anchor="end">GSM2226339</text><text transform="translate(941.1 404.2) rotate(-90)" text-anchor="end">GSM2226344</text><text transform="translate(951.5 404.2) rotate(-90)" text-anchor="end">GSM2226358</text><text transform="translate(962 404.2) rotate(-90)" text-anchor="end">GSM2226368</text><text transform="translate(972.4 404.2) rotate(-90)" text-anchor="end">GSM2226371</text><text transform="translate(982.9 404.2) rotate(-90)" text-anchor="end">GSM2226376</text><text transform="translate(993.3 404.2) rotate(-90)" text-anchor="end">GSM2226379</text><text transform="translate(1003.7 404.2) rotate(-90)" text-anchor="end">GSM2226388</text><text transform="translate(1014.2 404.2) rotate(-90)" text-anchor="end">GSM2226390</text><text transform="translate(1024.6 404.2) rotate(-90)" text-anchor="end">GSM2226394</text><text transform="translate(1035.1 404.2) rotate(-90)" text-anchor="end">GSM2226396</text><text transform="translate(1045.5 404.2) rotate(-90)" text-anchor="end">GSM2226398</text><text transform="translate(1055.9 404.2) rotate(-90)" text-anchor="end">GSM2226401</text><text transform="translate(1066.4 404.2) rotate(-90)" text-anchor="end">GSM3150142</text><text transform="translate(1076.8 404.2) rotate(-90)" text-anchor="end">GSM3150147</text><text transform="translate(1087.3 404.2) rotate(-90)" text-anchor="end">GSM3150155</text><text transform="translate(1097.7 404.2) rotate(-90)" text-anchor="end">GSM3150158</text><text transform="translate(1108.1 404.2) rotate(-90)" text-anchor="end">GSM3150161</text><text transform="translate(1118.6 404.2) rotate(-90)" text-anchor="end">GSM2226292</text><text transform="translate(1129 404.2) rotate(-90)" text-anchor="end">GSM2226305</text><text transform="translate(1139.5 404.2) rotate(-90)" text-anchor="end">GSM2226307</text><text transform="translate(1149.9 404.2) rotate(-90)" text-anchor="end">GSM2226333</text><text transform="translate(1160.3 404.2) rotate(-90)" text-anchor="end">GSM2226402</text><text transform="translate(1170.8 404.2) rotate(-90)" text-anchor="end">GSM3150139</text><text transform="translate(1181.2 404.2) rotate(-90)" text-anchor="end">GSM3150154</text><text transform="translate(1191.7 404.2) rotate(-90)" text-anchor="end">GSM3150164</text><text transform="translate(1202.1 404.2) rotate(-90)" text-anchor="end">GSM3150166</text><text transform="translate(1212.5 404.2) rotate(-90)" text-anchor="end">GSM3150168</text></g>
<text x="9" y="33.5" font-size="42" font-weight="bold">A</text>
<text x="766" y="32" font-size="38" font-weight="bold">B</text>
<path d="M134.8 532h5v11h-5zM149.7 532h5v11h-5zM214.2 532h5v11h-5zM219.1 532h5v11h-5zM253.9 532h5v11h-5zM472.2 532h5v11h-5zM492 532h5v11h-5zM382.9 543h5v11h-5zM194.3 553.9h5v11h-5zM239 553.9h5v11h-5zM258.8 553.9h5v11h-5zM263.8 553.9h5v11h-5zM303.5 553.9h5v11h-5zM308.5 553.9h5v11h-5zM318.4 553.9h5v11h-5zM472.2 553.9h5v11h-5zM139.8 564.9h5v11h-5zM189.4 564.9h5v11h-5zM194.3 564.9h5v11h-5zM204.3 564.9h5v11h-5zM318.4 564.9h5v11h-5zM358.1 564.9h5v11h-5zM392.8 564.9h5v11h-5zM139.8 575.9h5v11h-5zM164.6 575.9h5v11h-5zM169.5 575.9h5v11h-5zM179.5 575.9h5v11h-5zM199.3 575.9h5v11h-5zM239 575.9h5v11h-5zM288.6 575.9h5v11h-5zM144.7 586.8h5v11h-5zM194.3 586.8h5v11h-5zM248.9 586.8h5v11h-5zM452.3 586.8h5v11h-5zM134.8 597.8h5v11h-5zM154.6 597.8h5v11h-5zM159.6 597.8h5v11h-5zM229.1 597.8h5v11h-5zM248.9 597.8h5v11h-5zM268.8 597.8h5v11h-5zM343.2 597.8h5v11h-5zM144.7 608.7h5v11h-5zM154.6 608.7h5v11h-5zM179.5 608.7h5v11h-5zM278.7 608.7h5v11h-5zM288.6 608.7h5v11h-5zM338.2 608.7h5v11h-5zM159.6 619.7h5v11h-5zM288.6 619.7h5v11h-5zM194.3 630.7h5v11h-5zM263.8 630.7h5v11h-5zM144.7 641.6h5v11h-5zM229.1 652.6h5v11h-5zM323.3 652.6h5v11h-5zM248.9 663.6h5v11h-5zM273.7 663.6h5v11h-5zM253.9 674.5h5v11h-5zM313.4 674.5h5v11h-5zM328.3 674.5h5v11h-5zM273.7 685.5h5v11h-5zM278.7 685.5h5v11h-5zM144.7 696.5h5v11h-5zM184.4 696.5h5v11h-5zM149.7 707.4h5v11h-5zM189.4 707.4h5v11h-5zM283.6 707.4h5v11h-5zM318.4 707.4h5v11h-5zM338.2 707.4h5v11h-5zM149.7 718.4h5v11h-5zM234 718.4h5v11h-5zM239 718.4h5v11h-5zM244 718.4h5v11h-5zM273.7 718.4h5v11h-5zM318.4 718.4h5v11h-5zM338.2 718.4h5v11h-5zM144.7 729.3h5v11h-5zM159.6 729.3h5v11h-5zM204.3 729.3h5v11h-5zM209.2 729.3h5v11h-5zM139.8 740.3h5v11h-5zM179.5 740.3h5v11h-5zM204.3 740.3h5v11h-5zM268.8 740.3h5v11h-5zM273.7 740.3h5v11h-5zM164.6 751.3h5v11h-5zM219.1 751.3h5v11h-5zM229.1 751.3h5v11h-5zM273.7 751.3h5v11h-5zM278.7 751.3h5v11h-5zM283.6 751.3h5v11h-5zM318.4 751.3h5v11h-5zM189.4 762.2h5v11h-5zM298.5 762.2h5v11h-5zM149.7 773.2h5v11h-5zM278.7 773.2h5v11h-5zM199.3 784.2h5v11h-5zM139.8 795.1h5v11h-5zM159.6 795.1h5v11h-5zM184.4 795.1h5v11h-5zM209.2 795.1h5v11h-5zM224.1 795.1h5v11h-5zM154.6 806.1h5v11h-5zM179.5 806.1h5v11h-5zM263.8 806.1h5v11h-5zM174.5 817h5v11h-5zM209.2 817h5v11h-5zM219.1 817h5v11h-5zM229.1 817h5v11h-5zM298.5 817h5v11h-5zM338.2 817h5v11h-5zM343.2 817h5v11h-5zM229.1 828h5v11h-5zM268.8 828h5v11h-5zM318.4 828h5v11h-5zM333.3 828h5v11h-5zM338.2 828h5v11h-5zM343.2 828h5v11h-5zM154.6 839h5v11h-5zM288.6 839h5v11h-5zM298.5 839h5v11h-5zM179.5 860.9h5v11h-5zM273.7 860.9h5v11h-5zM382.9 860.9h5v11h-5zM462.3 860.9h5v11h-5zM333.3 871.9h5v11h-5zM382.9 871.9h5v11h-5zM452.3 871.9h5v11h-5zM134.8 882.8h5v11h-5zM169.5 882.8h5v11h-5zM248.9 882.8h5v11h-5zM397.8 882.8h5v11h-5zM482.1 882.8h5v11h-5zM278.7 893.8h5v11h-5zM377.9 893.8h5v11h-5zM487.1 893.8h5v11h-5zM209.2 904.8h5v11h-5zM382.9 904.8h5v11h-5zM397.8 904.8h5v11h-5zM427.5 904.8h5v11h-5zM437.5 904.8h5v11h-5zM472.2 915.7h5v11h-5zM144.7 926.7h5v11h-5zM184.4 937.6h5v11h-5zM224.1 937.6h5v11h-5zM248.9 937.6h5v11h-5zM298.5 937.6h5v11h-5zM199.3 948.6h5v11h-5zM204.3 948.6h5v11h-5zM258.8 948.6h5v11h-5zM283.6 948.6h5v11h-5zM472.2 948.6h5v11h-5zM214.2 959.6h5v11h-5zM333.3 959.6h5v11h-5zM447.4 959.6h5v11h-5zM234 970.5h5v11h-5zM382.9 970.5h5v11h-5zM154.6 981.5h5v11h-5zM402.7 981.5h5v11h-5zM447.4 981.5h5v11h-5zM467.2 981.5h5v11h-5zM189.4 992.5h5v11h-5zM253.9 992.5h5v11h-5zM273.7 992.5h5v11h-5zM278.7 992.5h5v11h-5zM392.8 992.5h5v11h-5zM457.3 992.5h5v11h-5zM179.5 1003.4h5v11h-5zM229.1 1003.4h5v11h-5zM234 1003.4h5v11h-5zM278.7 1003.4h5v11h-5zM472.2 1003.4h5v11h-5zM174.5 1014.4h5v11h-5zM199.3 1025.3h5v11h-5zM268.8 1025.3h5v11h-5zM288.6 1025.3h5v11h-5zM338.2 1025.3h5v11h-5zM377.9 1025.3h5v11h-5zM239 1036.3h5v11h-5zM392.8 1036.3h5v11h-5zM244 1047.3h5v11h-5zM477.2 1047.3h5v11h-5zM482.1 1047.3h5v11h-5zM313.4 1058.2h5v11h-5zM437.5 1058.2h5v11h-5zM472.2 1058.2h5v11h-5zM139.8 1069.2h5v11h-5zM204.3 1069.2h5v11h-5zM273.7 1069.2h5v11h-5zM397.8 1069.2h5v11h-5zM442.4 1069.2h5v11h-5zM462.3 1069.2h5v11h-5zM234 1080.2h5v11h-5zM387.8 1080.2h5v11h-5zM422.6 1080.2h5v11h-5zM427.5 1080.2h5v11h-5zM457.3 1080.2h5v11h-5zM467.2 1080.2h5v11h-5zM184.4 1091.1h5v11h-5zM293.6 1091.1h5v11h-5zM382.9 1091.1h5v11h-5zM392.8 1091.1h5v11h-5zM417.6 1091.1h5v11h-5zM462.3 1091.1h5v11h-5zM139.8 1102.1h5v11h-5zM179.5 1102.1h5v11h-5zM214.2 1102.1h5v11h-5zM263.8 1102.1h5v11h-5zM293.6 1102.1h5v11h-5zM397.8 1102.1h5v11h-5zM452.3 1102.1h5v11h-5zM492 1102.1h5v11h-5zM343.2 1113.1h5v11h-5zM457.3 1113.1h5v11h-5zM387.8 1124h5v11h-5zM392.8 1124h5v11h-5zM412.7 1124h5v11h-5zM457.3 1124h5v11h-5zM462.3 1124h5v11h-5zM477.2 1124h5v11h-5zM164.6 1135h5v11h-5zM184.4 1135h5v11h-5zM224.1 1135h5v11h-5zM482.1 1135h5v11h-5zM199.3 1145.9h5v11h-5zM427.5 1145.9h5v11h-5zM447.4 1145.9h5v11h-5zM492 1145.9h5v11h-5zM224.1 1156.9h5v11h-5zM298.5 1156.9h5v11h-5zM283.6 1167.9h5v11h-5zM343.2 1167.9h5v11h-5zM387.8 1167.9h5v11h-5zM412.7 1167.9h5v11h-5zM472.2 1167.9h5v11h-5zM382.9 1178.8h5v11h-5zM447.4 1178.8h5v11h-5zM457.3 1178.8h5v11h-5zM487.1 1178.8h5v11h-5z" fill="#e4e4fc"/>
<path d="M139.8 532h5v11h-5zM199.3 532h5v11h-5zM278.7 532h5v11h-5zM338.2 532h5v11h-5zM343.2 532h5v11h-5zM452.3 532h5v11h-5zM457.3 532h5v11h-5zM209.2 543h5v11h-5zM239 543h5v11h-5zM462.3 543h5v11h-5zM482.1 543h5v11h-5zM174.5 553.9h5v11h-5zM209.2 553.9h5v11h-5zM234 553.9h5v11h-5zM313.4 564.9h5v11h-5zM323.3 564.9h5v11h-5zM387.8 575.9h5v11h-5zM392.8 575.9h5v11h-5zM164.6 586.8h5v11h-5zM273.7 586.8h5v11h-5zM219.1 608.7h5v11h-5zM239 608.7h5v11h-5zM268.8 619.7h5v11h-5zM204.3 630.7h5v11h-5zM278.7 630.7h5v11h-5zM179.5 641.6h5v11h-5zM209.2 641.6h5v11h-5zM244 641.6h5v11h-5zM278.7 641.6h5v11h-5zM293.6 641.6h5v11h-5zM159.6 652.6h5v11h-5zM224.1 652.6h5v11h-5zM244 663.6h5v11h-5zM308.5 663.6h5v11h-5zM313.4 663.6h5v11h-5zM229.1 674.5h5v11h-5zM263.8 674.5h5v11h-5zM239 685.5h5v11h-5zM263.8 685.5h5v11h-5zM288.6 696.5h5v11h-5zM308.5 696.5h5v11h-5zM189.4 718.4h5v11h-5zM224.1 718.4h5v11h-5zM303.5 718.4h5v11h-5zM134.8 729.3h5v11h-5zM283.6 729.3h5v11h-5zM144.7 740.3h5v11h-5zM169.5 740.3h5v11h-5zM204.3 751.3h5v11h-5zM308.5 751.3h5v11h-5zM189.4 773.2h5v11h-5zM263.8 773.2h5v11h-5zM288.6 773.2h5v11h-5zM313.4 773.2h5v11h-5zM343.2 773.2h5v11h-5zM169.5 784.2h5v11h-5zM343.2 784.2h5v11h-5zM248.9 795.1h5v11h-5zM263.8 795.1h5v11h-5zM467.2 806.1h5v11h-5zM169.5 828h5v11h-5zM184.4 828h5v11h-5zM234 828h5v11h-5zM149.7 839h5v11h-5zM214.2 839h5v11h-5zM229.1 839h5v11h-5zM184.4 849.9h5v11h-5zM263.8 849.9h5v11h-5zM318.4 849.9h5v11h-5zM258.8 860.9h5v11h-5zM457.3 860.9h5v11h-5zM472.2 860.9h5v11h-5zM214.2 882.8h5v11h-5zM377.9 882.8h5v11h-5zM392.8 882.8h5v11h-5zM144.7 893.8h5v11h-5zM179.5 893.8h5v11h-5zM263.8 893.8h5v11h-5zM204.3 904.8h5v11h-5zM313.4 904.8h5v11h-5zM422.6 904.8h5v11h-5zM452.3 904.8h5v11h-5zM179.5 915.7h5v11h-5zM184.4 915.7h5v11h-5zM268.8 915.7h5v11h-5zM184.4 926.7h5v11h-5zM244 937.6h5v11h-5zM283.6 937.6h5v11h-5zM189.4 948.6h5v11h-5zM214.2 948.6h5v11h-5zM253.9 948.6h5v11h-5zM387.8 948.6h5v11h-5zM139.8 959.6h5v11h-5zM159.6 959.6h5v11h-5zM338.2 959.6h5v11h-5zM392.8 959.6h5v11h-5zM244 970.5h5v11h-5zM293.6 970.5h5v11h-5zM263.8 981.5h5v11h-5zM323.3 981.5h5v11h-5zM387.8 981.5h5v11h-5zM323.3 992.5h5v11h-5zM338.2 992.5h5v11h-5zM174.5 1003.4h5v11h-5zM323.3 1003.4h5v11h-5zM333.3 1003.4h5v11h-5zM219.1 1014.4h5v11h-5zM253.9 1014.4h5v11h-5zM258.8 1014.4h5v11h-5zM164.6 1025.3h5v11h-5zM353.1 1047.3h5v11h-5zM467.2 1058.2h5v11h-5zM149.7 1069.2h5v11h-5zM189.4 1069.2h5v11h-5zM224.1 1069.2h5v11h-5zM338.2 1069.2h5v11h-5zM412.7 1069.2h5v11h-5zM308.5 1080.2h5v11h-5zM392.8 1080.2h5v11h-5zM179.5 1091.1h5v11h-5zM244 1091.1h5v11h-5zM377.9 1091.1h5v11h-5zM447.4 1091.1h5v11h-5zM472.2 1091.1h5v11h-5zM382.9 1102.1h5v11h-5zM144.7 1113.1h5v11h-5zM278.7 1113.1h5v11h-5zM164.6 1124h5v11h-5zM189.4 1124h5v11h-5zM239 1124h5v11h-5zM253.9 1124h5v11h-5zM258.8 1124h5v11h-5zM263.8 1124h5v11h-5zM278.7 1124h5v11h-5zM442.4 1124h5v11h-5zM159.6 1135h5v11h-5zM333.3 1135h5v11h-5zM392.8 1145.9h5v11h-5zM219.1 1156.9h5v11h-5zM229.1 1156.9h5v11h-5zM387.8 1156.9h5v11h-5zM189.4 1167.9h5v11h-5zM229.1 1167.9h5v11h-5zM298.5 1167.9h5v11h-5zM209.2 1178.8h5v11h-5zM234 1178.8h5v11h-5zM273.7 1178.8h5v11h-5z" fill="#f6f6fc"/>
<path d="M144.7 532h5v11h-5zM229.1 532h5v11h-5zM258.8 532h5v11h-5zM293.6 532h5v11h-5zM164.6 543h5v11h-5zM189.4 543h5v11h-5zM323.3 543h5v11h-5zM184.4 553.9h5v11h-5zM323.3 553.9h5v11h-5zM328.3 553.9h5v11h-5zM278.7 564.9h5v11h-5zM194.3 575.9h5v11h-5zM174.5 586.8h5v11h-5zM253.9 619.7h5v11h-5zM258.8 641.6h5v11h-5zM323.3 641.6h5v11h-5zM219.1 652.6h5v11h-5zM293.6 652.6h5v11h-5zM169.5 663.6h5v11h-5zM204.3 663.6h5v11h-5zM283.6 663.6h5v11h-5zM308.5 674.5h5v11h-5zM149.7 685.5h5v11h-5zM174.5 685.5h5v11h-5zM313.4 685.5h5v11h-5zM164.6 718.4h5v11h-5zM293.6 718.4h5v11h-5zM149.7 729.3h5v11h-5zM219.1 729.3h5v11h-5zM263.8 729.3h5v11h-5zM278.7 729.3h5v11h-5zM283.6 740.3h5v11h-5zM343.2 740.3h5v11h-5zM199.3 751.3h5v11h-5zM139.8 773.2h5v11h-5zM224.1 773.2h5v11h-5zM333.3 773.2h5v11h-5zM184.4 784.2h5v11h-5zM204.3 784.2h5v11h-5zM209.2 784.2h5v11h-5zM224.1 784.2h5v11h-5zM283.6 784.2h5v11h-5zM303.5 784.2h5v11h-5zM313.4 784.2h5v11h-5zM338.2 784.2h5v11h-5zM313.4 795.1h5v11h-5zM343.2 795.1h5v11h-5zM189.4 806.1h5v11h-5zM134.8 828h5v11h-5zM164.6 828h5v11h-5zM283.6 828h5v11h-5zM348.2 828h5v11h-5zM144.7 839h5v11h-5zM149.7 849.9h5v11h-5zM179.5 849.9h5v11h-5zM194.3 849.9h5v11h-5zM199.3 849.9h5v11h-5zM253.9 849.9h5v11h-5zM402.7 860.9h5v11h-5zM487.1 871.9h5v11h-5zM472.2 882.8h5v11h-5zM462.3 893.8h5v11h-5zM293.6 904.8h5v11h-5zM462.3 904.8h5v11h-5zM452.3 915.7h5v11h-5zM492 915.7h5v11h-5zM338.2 937.6h5v11h-5zM382.9 937.6h5v11h-5zM452.3 937.6h5v11h-5zM492 937.6h5v11h-5zM462.3 948.6h5v11h-5zM482.1 948.6h5v11h-5zM487.1 948.6h5v11h-5zM397.8 970.5h5v11h-5zM457.3 970.5h5v11h-5zM224.1 981.5h5v11h-5zM244 981.5h5v11h-5zM298.5 981.5h5v11h-5zM472.2 981.5h5v11h-5zM482.1 992.5h5v11h-5zM397.8 1003.4h5v11h-5zM467.2 1003.4h5v11h-5zM179.5 1014.4h5v11h-5zM482.1 1014.4h5v11h-5zM343.2 1025.3h5v11h-5zM387.8 1025.3h5v11h-5zM392.8 1025.3h5v11h-5zM462.3 1025.3h5v11h-5zM482.1 1025.3h5v11h-5zM144.7 1036.3h5v11h-5zM397.8 1036.3h5v11h-5zM492 1036.3h5v11h-5zM239 1047.3h5v11h-5zM263.8 1047.3h5v11h-5zM268.8 1047.3h5v11h-5zM382.9 1047.3h5v11h-5zM407.7 1047.3h5v11h-5zM472.2 1047.3h5v11h-5zM194.3 1058.2h5v11h-5zM477.2 1080.2h5v11h-5zM442.4 1091.1h5v11h-5zM457.3 1102.1h5v11h-5zM482.1 1102.1h5v11h-5zM377.9 1113.1h5v11h-5zM387.8 1113.1h5v11h-5zM412.7 1113.1h5v11h-5zM432.5 1113.1h5v11h-5zM472.2 1113.1h5v11h-5zM402.7 1124h5v11h-5zM417.6 1135h5v11h-5zM477.2 1145.9h5v11h-5zM328.3 1156.9h5v11h-5zM397.8 1156.9h5v11h-5zM412.7 1156.9h5v11h-5zM442.4 1156.9h5v11h-5zM457.3 1156.9h5v11h-5zM482.1 1167.9h5v11h-5zM492 1167.9h5v11h-5zM482.1 1178.8h5v11h-5z" fill="#d2d2fc"/>
<path d="M154.6 532h5v11h-5zM209.2 532h5v11h-5zM382.9 532h5v11h-5zM174.5 543h5v11h-5zM214.2 543h5v11h-5zM333.3 543h5v11h-5zM358.1 543h5v11h-5zM452.3 543h5v11h-5zM149.7 564.9h5v11h-5zM229.1 564.9h5v11h-5zM303.5 564.9h5v11h-5zM328.3 564.9h5v11h-5zM457.3 564.9h5v11h-5zM159.6 575.9h5v11h-5zM343.2 575.9h5v11h-5zM477.2 575.9h5v11h-5zM308.5 619.7h5v11h-5zM149.7 630.7h5v11h-5zM293.6 630.7h5v11h-5zM487.1 630.7h5v11h-5zM154.6 641.6h5v11h-5zM219.1 641.6h5v11h-5zM273.7 641.6h5v11h-5zM293.6 663.6h5v11h-5zM159.6 674.5h5v11h-5zM248.9 685.5h5v11h-5zM268.8 685.5h5v11h-5zM452.3 685.5h5v11h-5zM154.6 696.5h5v11h-5zM283.6 696.5h5v11h-5zM323.3 696.5h5v11h-5zM144.7 718.4h5v11h-5zM229.1 729.3h5v11h-5zM338.2 729.3h5v11h-5zM144.7 751.3h5v11h-5zM283.6 762.2h5v11h-5zM308.5 762.2h5v11h-5zM333.3 762.2h5v11h-5zM244 773.2h5v11h-5zM283.6 773.2h5v11h-5zM154.6 784.2h5v11h-5zM164.6 784.2h5v11h-5zM234 795.1h5v11h-5zM244 795.1h5v11h-5zM268.8 795.1h5v11h-5zM477.2 795.1h5v11h-5zM239 806.1h5v11h-5zM288.6 806.1h5v11h-5zM184.4 817h5v11h-5zM189.4 817h5v11h-5zM313.4 817h5v11h-5zM452.3 817h5v11h-5zM248.9 839h5v11h-5zM283.6 839h5v11h-5zM333.3 839h5v11h-5zM154.6 849.9h5v11h-5zM229.1 849.9h5v11h-5zM144.7 860.9h5v11h-5zM184.4 860.9h5v11h-5zM209.2 860.9h5v11h-5zM229.1 860.9h5v11h-5zM144.7 871.9h5v11h-5zM199.3 871.9h5v11h-5zM229.1 871.9h5v11h-5zM234 871.9h5v11h-5zM283.6 871.9h5v11h-5zM293.6 871.9h5v11h-5zM323.3 871.9h5v11h-5zM139.8 882.8h5v11h-5zM179.5 882.8h5v11h-5zM189.4 882.8h5v11h-5zM234 882.8h5v11h-5zM253.9 882.8h5v11h-5zM139.8 893.8h5v11h-5zM204.3 893.8h5v11h-5zM248.9 893.8h5v11h-5zM258.8 893.8h5v11h-5zM308.5 893.8h5v11h-5zM437.5 893.8h5v11h-5zM239 904.8h5v11h-5zM263.8 904.8h5v11h-5zM179.5 926.7h5v11h-5zM234 926.7h5v11h-5zM268.8 926.7h5v11h-5zM293.6 926.7h5v11h-5zM239 937.6h5v11h-5zM303.5 937.6h5v11h-5zM308.5 937.6h5v11h-5zM333.3 937.6h5v11h-5zM343.2 937.6h5v11h-5zM387.8 937.6h5v11h-5zM392.8 937.6h5v11h-5zM159.6 948.6h5v11h-5zM328.3 948.6h5v11h-5zM392.8 948.6h5v11h-5zM194.3 959.6h5v11h-5zM293.6 959.6h5v11h-5zM298.5 959.6h5v11h-5zM134.8 981.5h5v11h-5zM258.8 981.5h5v11h-5zM313.4 981.5h5v11h-5zM328.3 981.5h5v11h-5zM343.2 981.5h5v11h-5zM377.9 981.5h5v11h-5zM139.8 992.5h5v11h-5zM159.6 992.5h5v11h-5zM224.1 992.5h5v11h-5zM293.6 992.5h5v11h-5zM144.7 1003.4h5v11h-5zM154.6 1003.4h5v11h-5zM283.6 1003.4h5v11h-5zM303.5 1003.4h5v11h-5zM343.2 1003.4h5v11h-5zM298.5 1014.4h5v11h-5zM323.3 1014.4h5v11h-5zM377.9 1014.4h5v11h-5zM258.8 1025.3h5v11h-5zM397.8 1025.3h5v11h-5zM149.7 1036.3h5v11h-5zM258.8 1036.3h5v11h-5zM293.6 1036.3h5v11h-5zM224.1 1047.3h5v11h-5zM387.8 1047.3h5v11h-5zM219.1 1058.2h5v11h-5zM244 1069.2h5v11h-5zM293.6 1069.2h5v11h-5zM179.5 1080.2h5v11h-5zM288.6 1091.1h5v11h-5zM338.2 1091.1h5v11h-5zM343.2 1091.1h5v11h-5zM452.3 1091.1h5v11h-5zM492 1091.1h5v11h-5zM184.4 1102.1h5v11h-5zM234 1102.1h5v11h-5zM209.2 1113.1h5v11h-5zM219.1 1113.1h5v11h-5zM308.5 1113.1h5v11h-5zM149.7 1124h5v11h-5zM293.6 1124h5v11h-5zM234 1135h5v11h-5zM328.3 1135h5v11h-5zM189.4 1145.9h5v11h-5zM159.6 1156.9h5v11h-5zM263.8 1156.9h5v11h-5zM323.3 1156.9h5v11h-5zM134.8 1167.9h5v11h-5zM253.9 1167.9h5v11h-5zM457.3 1167.9h5v11h-5zM134.8 1178.8h5v11h-5zM174.5 1178.8h5v11h-5zM248.9 1178.8h5v11h-5zM328.3 1178.8h5v11h-5z" fill="#fcf6f6"/>
<path d="M159.6 532h5v11h-5zM184.4 532h5v11h-5zM194.3 532h5v11h-5zM239 532h5v11h-5zM308.5 532h5v11h-5zM333.3 532h5v11h-5zM467.2 532h5v11h-5zM482.1 532h5v11h-5zM134.8 543h5v11h-5zM199.3 543h5v11h-5zM219.1 543h5v11h-5zM268.8 543h5v11h-5zM313.4 543h5v11h-5zM373 543h5v11h-5zM492 543h5v11h-5zM144.7 553.9h5v11h-5zM199.3 553.9h5v11h-5zM224.1 553.9h5v11h-5zM278.7 553.9h5v11h-5zM298.5 553.9h5v11h-5zM343.2 553.9h5v11h-5zM467.2 553.9h5v11h-5zM477.2 553.9h5v11h-5zM214.2 564.9h5v11h-5zM224.1 564.9h5v11h-5zM248.9 564.9h5v11h-5zM293.6 564.9h5v11h-5zM298.5 564.9h5v11h-5zM209.2 575.9h5v11h-5zM293.6 575.9h5v11h-5zM179.5 586.8h5v11h-5zM204.3 586.8h5v11h-5zM224.1 586.8h5v11h-5zM278.7 586.8h5v11h-5zM323.3 586.8h5v11h-5zM382.9 586.8h5v11h-5zM149.7 597.8h5v11h-5zM214.2 597.8h5v11h-5zM219.1 597.8h5v11h-5zM239 597.8h5v11h-5zM313.4 597.8h5v11h-5zM189.4 608.7h5v11h-5zM224.1 608.7h5v11h-5zM268.8 608.7h5v11h-5zM273.7 608.7h5v11h-5zM283.6 608.7h5v11h-5zM323.3 608.7h5v11h-5zM169.5 619.7h5v11h-5zM174.5 619.7h5v11h-5zM214.2 619.7h5v11h-5zM244 619.7h5v11h-5zM258.8 619.7h5v11h-5zM144.7 630.7h5v11h-5zM159.6 630.7h5v11h-5zM209.2 630.7h5v11h-5zM244 630.7h5v11h-5zM273.7 630.7h5v11h-5zM308.5 630.7h5v11h-5zM377.9 630.7h5v11h-5zM318.4 641.6h5v11h-5zM154.6 652.6h5v11h-5zM164.6 652.6h5v11h-5zM258.8 652.6h5v11h-5zM268.8 652.6h5v11h-5zM288.6 652.6h5v11h-5zM199.3 663.6h5v11h-5zM253.9 663.6h5v11h-5zM268.8 663.6h5v11h-5zM303.5 663.6h5v11h-5zM328.3 663.6h5v11h-5zM149.7 674.5h5v11h-5zM179.5 674.5h5v11h-5zM199.3 674.5h5v11h-5zM219.1 674.5h5v11h-5zM239 674.5h5v11h-5zM343.2 674.5h5v11h-5zM194.3 685.5h5v11h-5zM219.1 685.5h5v11h-5zM338.2 685.5h5v11h-5zM149.7 696.5h5v11h-5zM179.5 696.5h5v11h-5zM189.4 696.5h5v11h-5zM204.3 696.5h5v11h-5zM333.3 696.5h5v11h-5zM209.2 707.4h5v11h-5zM298.5 707.4h5v11h-5zM134.8 718.4h5v11h-5zM174.5 718.4h5v11h-5zM194.3 718.4h5v11h-5zM199.3 718.4h5v11h-5zM204.3 718.4h5v11h-5zM328.3 718.4h5v11h-5zM169.5 729.3h5v11h-5zM239 729.3h5v11h-5zM248.9 729.3h5v11h-5zM268.8 729.3h5v11h-5zM313.4 729.3h5v11h-5zM189.4 740.3h5v11h-5zM278.7 740.3h5v11h-5zM134.8 751.3h5v11h-5zM159.6 751.3h5v11h-5zM209.2 751.3h5v11h-5zM214.2 762.2h5v11h-5zM244 762.2h5v11h-5zM268.8 762.2h5v11h-5zM323.3 762.2h5v11h-5zM154.6 773.2h5v11h-5zM239 773.2h5v11h-5zM134.8 784.2h5v11h-5zM159.6 784.2h5v11h-5zM258.8 784.2h5v11h-5zM318.4 784.2h5v11h-5zM462.3 795.1h5v11h-5zM139.8 806.1h5v11h-5zM194.3 806.1h5v11h-5zM219.1 806.1h5v11h-5zM303.5 806.1h5v11h-5zM308.5 806.1h5v11h-5zM154.6 817h5v11h-5zM204.3 817h5v11h-5zM214.2 817h5v11h-5zM248.9 817h5v11h-5zM273.7 817h5v11h-5zM293.6 817h5v11h-5zM244 828h5v11h-5zM313.4 828h5v11h-5zM328.3 828h5v11h-5zM164.6 839h5v11h-5zM169.5 839h5v11h-5zM179.5 839h5v11h-5zM184.4 839h5v11h-5zM224.1 839h5v11h-5zM258.8 839h5v11h-5zM303.5 839h5v11h-5zM308.5 839h5v11h-5zM323.3 839h5v11h-5zM189.4 849.9h5v11h-5zM219.1 849.9h5v11h-5zM268.8 849.9h5v11h-5zM278.7 849.9h5v11h-5zM323.3 849.9h5v11h-5zM253.9 860.9h5v11h-5zM392.8 860.9h5v11h-5zM174.5 871.9h5v11h-5zM387.8 871.9h5v11h-5zM427.5 871.9h5v11h-5zM278.7 882.8h5v11h-5zM402.7 882.8h5v11h-5zM407.7 882.8h5v11h-5zM442.4 882.8h5v11h-5zM487.1 882.8h5v11h-5zM219.1 893.8h5v11h-5zM244 893.8h5v11h-5zM387.8 893.8h5v11h-5zM422.6 893.8h5v11h-5zM134.8 904.8h5v11h-5zM164.6 904.8h5v11h-5zM169.5 904.8h5v11h-5zM174.5 904.8h5v11h-5zM234 904.8h5v11h-5zM323.3 904.8h5v11h-5zM387.8 904.8h5v11h-5zM253.9 915.7h5v11h-5zM313.4 915.7h5v11h-5zM387.8 915.7h5v11h-5zM467.2 915.7h5v11h-5zM482.1 915.7h5v11h-5zM258.8 926.7h5v11h-5zM308.5 926.7h5v11h-5zM234 937.6h5v11h-5zM318.4 937.6h5v11h-5zM472.2 937.6h5v11h-5zM278.7 948.6h5v11h-5zM288.6 948.6h5v11h-5zM333.3 948.6h5v11h-5zM377.9 948.6h5v11h-5zM382.9 948.6h5v11h-5zM134.8 959.6h5v11h-5zM258.8 959.6h5v11h-5zM273.7 959.6h5v11h-5zM492 959.6h5v11h-5zM149.7 970.5h5v11h-5zM288.6 970.5h5v11h-5zM338.2 981.5h5v11h-5zM452.3 981.5h5v11h-5zM134.8 992.5h5v11h-5zM194.3 992.5h5v11h-5zM244 992.5h5v11h-5zM487.1 992.5h5v11h-5zM159.6 1003.4h5v11h-5zM298.5 1003.4h5v11h-5zM487.1 1003.4h5v11h-5zM204.3 1014.4h5v11h-5zM234 1014.4h5v11h-5zM283.6 1014.4h5v11h-5zM318.4 1014.4h5v11h-5zM189.4 1025.3h5v11h-5zM244 1025.3h5v11h-5zM333.3 1025.3h5v11h-5zM382.9 1025.3h5v11h-5zM159.6 1036.3h5v11h-5zM179.5 1036.3h5v11h-5zM333.3 1036.3h5v11h-5zM452.3 1036.3h5v11h-5zM283.6 1047.3h5v11h-5zM323.3 1047.3h5v11h-5zM452.3 1047.3h5v11h-5zM159.6 1058.2h5v11h-5zM199.3 1058.2h5v11h-5zM239 1058.2h5v11h-5zM308.5 1058.2h5v11h-5zM313.4 1069.2h5v11h-5zM402.7 1069.2h5v11h-5zM447.4 1069.2h5v11h-5zM144.7 1091.1h5v11h-5zM154.6 1091.1h5v11h-5zM214.2 1091.1h5v11h-5zM387.8 1091.1h5v11h-5zM303.5 1102.1h5v11h-5zM313.4 1102.1h5v11h-5zM159.6 1113.1h5v11h-5zM214.2 1113.1h5v11h-5zM313.4 1113.1h5v11h-5zM323.3 1113.1h5v11h-5zM392.8 1113.1h5v11h-5zM397.8 1113.1h5v11h-5zM402.7 1113.1h5v11h-5zM427.5 1113.1h5v11h-5zM318.4 1124h5v11h-5zM343.2 1124h5v11h-5zM377.9 1124h5v11h-5zM397.8 1124h5v11h-5zM487.1 1124h5v11h-5zM214.2 1135h5v11h-5zM313.4 1135h5v11h-5zM397.8 1135h5v11h-5zM139.8 1145.9h5v11h-5zM308.5 1145.9h5v11h-5zM377.9 1145.9h5v11h-5zM387.8 1145.9h5v11h-5zM437.5 1145.9h5v11h-5zM139.8 1156.9h5v11h-5zM343.2 1156.9h5v11h-5zM392.8 1156.9h5v11h-5zM407.7 1156.9h5v11h-5zM462.3 1156.9h5v11h-5zM184.4 1167.9h5v11h-5zM244 1178.8h5v11h-5zM293.6 1178.8h5v11h-5zM412.7 1178.8h5v11h-5z" fill="#f0f0fc"/>
<path d="M164.6 532h5v11h-5zM174.5 532h5v11h-5zM263.8 532h5v11h-5zM303.5 532h5v11h-5zM477.2 543h5v11h-5zM204.3 553.9h5v11h-5zM184.4 564.9h5v11h-5zM308.5 564.9h5v11h-5zM338.2 564.9h5v11h-5zM263.8 575.9h5v11h-5zM244 586.8h5v11h-5zM268.8 586.8h5v11h-5zM293.6 586.8h5v11h-5zM149.7 608.7h5v11h-5zM219.1 619.7h5v11h-5zM229.1 619.7h5v11h-5zM318.4 619.7h5v11h-5zM358.1 619.7h5v11h-5zM229.1 630.7h5v11h-5zM348.2 630.7h5v11h-5zM363 630.7h5v11h-5zM373 630.7h5v11h-5zM283.6 641.6h5v11h-5zM363 641.6h5v11h-5zM149.7 652.6h5v11h-5zM184.4 652.6h5v11h-5zM348.2 663.6h5v11h-5zM348.2 674.5h5v11h-5zM224.1 696.5h5v11h-5zM348.2 696.5h5v11h-5zM358.1 696.5h5v11h-5zM363 696.5h5v11h-5zM214.2 707.4h5v11h-5zM248.9 707.4h5v11h-5zM139.8 718.4h5v11h-5zM179.5 718.4h5v11h-5zM229.1 718.4h5v11h-5zM268.8 718.4h5v11h-5zM368 718.4h5v11h-5zM154.6 729.3h5v11h-5zM179.5 729.3h5v11h-5zM189.4 729.3h5v11h-5zM134.8 740.3h5v11h-5zM199.3 740.3h5v11h-5zM293.6 751.3h5v11h-5zM303.5 751.3h5v11h-5zM174.5 762.2h5v11h-5zM293.6 762.2h5v11h-5zM204.3 773.2h5v11h-5zM318.4 773.2h5v11h-5zM353.1 773.2h5v11h-5zM368 773.2h5v11h-5zM189.4 784.2h5v11h-5zM194.3 784.2h5v11h-5zM214.2 784.2h5v11h-5zM179.5 795.1h5v11h-5zM199.3 795.1h5v11h-5zM318.4 795.1h5v11h-5zM258.8 806.1h5v11h-5zM159.6 817h5v11h-5zM234 817h5v11h-5zM288.6 828h5v11h-5zM373 828h5v11h-5zM159.6 849.9h5v11h-5zM239 849.9h5v11h-5zM427.5 882.8h5v11h-5zM134.8 893.8h5v11h-5zM442.4 893.8h5v11h-5zM472.2 893.8h5v11h-5zM377.9 904.8h5v11h-5zM412.7 915.7h5v11h-5zM447.4 926.7h5v11h-5zM452.3 926.7h5v11h-5zM487.1 937.6h5v11h-5zM477.2 948.6h5v11h-5zM437.5 970.5h5v11h-5zM477.2 970.5h5v11h-5zM333.3 981.5h5v11h-5zM427.5 981.5h5v11h-5zM492 981.5h5v11h-5zM382.9 992.5h5v11h-5zM432.5 992.5h5v11h-5zM447.4 992.5h5v11h-5zM462.3 992.5h5v11h-5zM452.3 1003.4h5v11h-5zM397.8 1014.4h5v11h-5zM412.7 1014.4h5v11h-5zM457.3 1014.4h5v11h-5zM452.3 1025.3h5v11h-5zM422.6 1036.3h5v11h-5zM229.1 1047.3h5v11h-5zM417.6 1047.3h5v11h-5zM427.5 1058.2h5v11h-5zM333.3 1069.2h5v11h-5zM377.9 1069.2h5v11h-5zM427.5 1069.2h5v11h-5zM487.1 1069.2h5v11h-5zM397.8 1080.2h5v11h-5zM407.7 1091.1h5v11h-5zM427.5 1091.1h5v11h-5zM432.5 1091.1h5v11h-5zM477.2 1091.1h5v11h-5zM407.7 1102.1h5v11h-5zM432.5 1102.1h5v11h-5zM472.2 1102.1h5v11h-5zM477.2 1102.1h5v11h-5zM268.8 1113.1h5v11h-5zM462.3 1113.1h5v11h-5zM159.6 1124h5v11h-5zM407.7 1124h5v11h-5zM467.2 1124h5v11h-5zM402.7 1135h5v11h-5zM492 1135h5v11h-5zM159.6 1145.9h5v11h-5zM462.3 1145.9h5v11h-5zM402.7 1156.9h5v11h-5zM417.6 1156.9h5v11h-5zM467.2 1156.9h5v11h-5zM139.8 1167.9h5v11h-5zM244 1167.9h5v11h-5zM417.6 1167.9h5v11h-5zM432.5 1167.9h5v11h-5zM472.2 1178.8h5v11h-5z" fill="#c0c0fc"/>
<path d="M169.5 532h5v11h-5zM204.3 532h5v11h-5zM268.8 532h5v11h-5zM283.6 532h5v11h-5zM328.3 532h5v11h-5zM487.1 532h5v11h-5zM149.7 543h5v11h-5zM184.4 543h5v11h-5zM204.3 543h5v11h-5zM253.9 543h5v11h-5zM278.7 543h5v11h-5zM328.3 543h5v11h-5zM353.1 543h5v11h-5zM472.2 543h5v11h-5zM139.8 553.9h5v11h-5zM149.7 553.9h5v11h-5zM164.6 553.9h5v11h-5zM169.5 553.9h5v11h-5zM244 553.9h5v11h-5zM313.4 553.9h5v11h-5zM348.2 553.9h5v11h-5zM358.1 553.9h5v11h-5zM377.9 553.9h5v11h-5zM462.3 553.9h5v11h-5zM164.6 564.9h5v11h-5zM199.3 564.9h5v11h-5zM234 564.9h5v11h-5zM239 564.9h5v11h-5zM263.8 564.9h5v11h-5zM333.3 564.9h5v11h-5zM387.8 564.9h5v11h-5zM452.3 564.9h5v11h-5zM189.4 575.9h5v11h-5zM244 575.9h5v11h-5zM268.8 575.9h5v11h-5zM298.5 575.9h5v11h-5zM303.5 575.9h5v11h-5zM318.4 575.9h5v11h-5zM363 575.9h5v11h-5zM377.9 575.9h5v11h-5zM382.9 575.9h5v11h-5zM452.3 575.9h5v11h-5zM472.2 575.9h5v11h-5zM159.6 586.8h5v11h-5zM214.2 586.8h5v11h-5zM219.1 586.8h5v11h-5zM234 586.8h5v11h-5zM263.8 586.8h5v11h-5zM288.6 586.8h5v11h-5zM303.5 586.8h5v11h-5zM308.5 586.8h5v11h-5zM338.2 586.8h5v11h-5zM343.2 586.8h5v11h-5zM348.2 586.8h5v11h-5zM358.1 586.8h5v11h-5zM377.9 586.8h5v11h-5zM462.3 586.8h5v11h-5zM467.2 586.8h5v11h-5zM477.2 586.8h5v11h-5zM492 586.8h5v11h-5zM139.8 597.8h5v11h-5zM144.7 597.8h5v11h-5zM169.5 597.8h5v11h-5zM204.3 597.8h5v11h-5zM224.1 597.8h5v11h-5zM244 597.8h5v11h-5zM253.9 597.8h5v11h-5zM308.5 597.8h5v11h-5zM134.8 608.7h5v11h-5zM139.8 608.7h5v11h-5zM204.3 608.7h5v11h-5zM234 608.7h5v11h-5zM263.8 608.7h5v11h-5zM318.4 608.7h5v11h-5zM377.9 608.7h5v11h-5zM164.6 619.7h5v11h-5zM199.3 619.7h5v11h-5zM224.1 619.7h5v11h-5zM278.7 619.7h5v11h-5zM219.1 630.7h5v11h-5zM248.9 630.7h5v11h-5zM253.9 630.7h5v11h-5zM258.8 630.7h5v11h-5zM328.3 630.7h5v11h-5zM333.3 630.7h5v11h-5zM477.2 630.7h5v11h-5zM184.4 641.6h5v11h-5zM214.2 641.6h5v11h-5zM229.1 641.6h5v11h-5zM239 641.6h5v11h-5zM263.8 641.6h5v11h-5zM333.3 641.6h5v11h-5zM283.6 652.6h5v11h-5zM298.5 652.6h5v11h-5zM134.8 663.6h5v11h-5zM139.8 663.6h5v11h-5zM159.6 663.6h5v11h-5zM179.5 663.6h5v11h-5zM219.1 663.6h5v11h-5zM229.1 663.6h5v11h-5zM239 663.6h5v11h-5zM278.7 663.6h5v11h-5zM333.3 663.6h5v11h-5zM457.3 663.6h5v11h-5zM472.2 663.6h5v11h-5zM234 674.5h5v11h-5zM283.6 674.5h5v11h-5zM338.2 674.5h5v11h-5zM144.7 685.5h5v11h-5zM159.6 685.5h5v11h-5zM184.4 685.5h5v11h-5zM204.3 685.5h5v11h-5zM224.1 685.5h5v11h-5zM253.9 685.5h5v11h-5zM303.5 685.5h5v11h-5zM328.3 685.5h5v11h-5zM432.5 685.5h5v11h-5zM194.3 696.5h5v11h-5zM239 696.5h5v11h-5zM253.9 696.5h5v11h-5zM452.3 696.5h5v11h-5zM273.7 707.4h5v11h-5zM308.5 718.4h5v11h-5zM377.9 718.4h5v11h-5zM184.4 729.3h5v11h-5zM382.9 729.3h5v11h-5zM482.1 729.3h5v11h-5zM487.1 729.3h5v11h-5zM184.4 740.3h5v11h-5zM229.1 740.3h5v11h-5zM308.5 740.3h5v11h-5zM323.3 740.3h5v11h-5zM387.8 740.3h5v11h-5zM482.1 740.3h5v11h-5zM492 740.3h5v11h-5zM174.5 751.3h5v11h-5zM179.5 751.3h5v11h-5zM189.4 751.3h5v11h-5zM298.5 751.3h5v11h-5zM323.3 751.3h5v11h-5zM343.2 751.3h5v11h-5zM139.8 762.2h5v11h-5zM204.3 762.2h5v11h-5zM234 762.2h5v11h-5zM273.7 762.2h5v11h-5zM457.3 762.2h5v11h-5zM209.2 773.2h5v11h-5zM253.9 773.2h5v11h-5zM258.8 773.2h5v11h-5zM308.5 773.2h5v11h-5zM139.8 784.2h5v11h-5zM144.7 784.2h5v11h-5zM149.7 784.2h5v11h-5zM229.1 784.2h5v11h-5zM239 784.2h5v11h-5zM268.8 784.2h5v11h-5zM288.6 784.2h5v11h-5zM298.5 784.2h5v11h-5zM308.5 784.2h5v11h-5zM407.7 784.2h5v11h-5zM487.1 784.2h5v11h-5zM134.8 795.1h5v11h-5zM214.2 795.1h5v11h-5zM229.1 795.1h5v11h-5zM253.9 795.1h5v11h-5zM288.6 795.1h5v11h-5zM293.6 795.1h5v11h-5zM487.1 795.1h5v11h-5zM134.8 806.1h5v11h-5zM144.7 806.1h5v11h-5zM174.5 806.1h5v11h-5zM224.1 806.1h5v11h-5zM244 806.1h5v11h-5zM338.2 806.1h5v11h-5zM164.6 817h5v11h-5zM224.1 817h5v11h-5zM283.6 817h5v11h-5zM382.9 817h5v11h-5zM204.3 828h5v11h-5zM239 828h5v11h-5zM263.8 828h5v11h-5zM278.7 828h5v11h-5zM303.5 828h5v11h-5zM308.5 828h5v11h-5zM323.3 828h5v11h-5zM472.2 828h5v11h-5zM159.6 839h5v11h-5zM204.3 839h5v11h-5zM234 839h5v11h-5zM318.4 839h5v11h-5zM328.3 839h5v11h-5zM343.2 839h5v11h-5zM462.3 839h5v11h-5zM244 849.9h5v11h-5zM273.7 849.9h5v11h-5zM288.6 849.9h5v11h-5zM293.6 849.9h5v11h-5zM303.5 849.9h5v11h-5zM328.3 849.9h5v11h-5zM462.3 849.9h5v11h-5zM134.8 860.9h5v11h-5zM154.6 860.9h5v11h-5zM174.5 860.9h5v11h-5zM199.3 860.9h5v11h-5zM204.3 860.9h5v11h-5zM224.1 860.9h5v11h-5zM239 860.9h5v11h-5zM248.9 860.9h5v11h-5zM288.6 860.9h5v11h-5zM338.2 860.9h5v11h-5zM377.9 860.9h5v11h-5zM149.7 871.9h5v11h-5zM159.6 871.9h5v11h-5zM268.8 871.9h5v11h-5zM273.7 871.9h5v11h-5zM318.4 871.9h5v11h-5zM377.9 871.9h5v11h-5zM397.8 871.9h5v11h-5zM174.5 882.8h5v11h-5zM194.3 882.8h5v11h-5zM199.3 882.8h5v11h-5zM229.1 882.8h5v11h-5zM288.6 882.8h5v11h-5zM308.5 882.8h5v11h-5zM318.4 882.8h5v11h-5zM323.3 882.8h5v11h-5zM149.7 893.8h5v11h-5zM224.1 893.8h5v11h-5zM234 893.8h5v11h-5zM298.5 893.8h5v11h-5zM313.4 893.8h5v11h-5zM323.3 893.8h5v11h-5zM382.9 893.8h5v11h-5zM417.6 893.8h5v11h-5zM139.8 904.8h5v11h-5zM159.6 904.8h5v11h-5zM343.2 904.8h5v11h-5zM149.7 915.7h5v11h-5zM234 915.7h5v11h-5zM258.8 915.7h5v11h-5zM298.5 915.7h5v11h-5zM377.9 915.7h5v11h-5zM154.6 926.7h5v11h-5zM159.6 926.7h5v11h-5zM239 926.7h5v11h-5zM248.9 926.7h5v11h-5zM263.8 926.7h5v11h-5zM278.7 926.7h5v11h-5zM283.6 926.7h5v11h-5zM323.3 926.7h5v11h-5zM328.3 926.7h5v11h-5zM387.8 926.7h5v11h-5zM139.8 937.6h5v11h-5zM144.7 937.6h5v11h-5zM164.6 937.6h5v11h-5zM179.5 937.6h5v11h-5zM194.3 937.6h5v11h-5zM253.9 937.6h5v11h-5zM258.8 937.6h5v11h-5zM328.3 937.6h5v11h-5zM377.9 937.6h5v11h-5zM134.8 948.6h5v11h-5zM149.7 948.6h5v11h-5zM268.8 948.6h5v11h-5zM308.5 948.6h5v11h-5zM323.3 948.6h5v11h-5zM149.7 959.6h5v11h-5zM184.4 959.6h5v11h-5zM199.3 959.6h5v11h-5zM204.3 959.6h5v11h-5zM268.8 959.6h5v11h-5zM313.4 959.6h5v11h-5zM318.4 959.6h5v11h-5zM343.2 959.6h5v11h-5zM179.5 970.5h5v11h-5zM199.3 970.5h5v11h-5zM308.5 970.5h5v11h-5zM377.9 970.5h5v11h-5zM387.8 970.5h5v11h-5zM139.8 981.5h5v11h-5zM159.6 981.5h5v11h-5zM194.3 981.5h5v11h-5zM204.3 981.5h5v11h-5zM239 981.5h5v11h-5zM293.6 981.5h5v11h-5zM477.2 981.5h5v11h-5zM209.2 992.5h5v11h-5zM214.2 992.5h5v11h-5zM239 992.5h5v11h-5zM268.8 992.5h5v11h-5zM149.7 1003.4h5v11h-5zM164.6 1003.4h5v11h-5zM194.3 1003.4h5v11h-5zM273.7 1003.4h5v11h-5zM313.4 1003.4h5v11h-5zM318.4 1003.4h5v11h-5zM387.8 1003.4h5v11h-5zM139.8 1014.4h5v11h-5zM189.4 1014.4h5v11h-5zM209.2 1014.4h5v11h-5zM273.7 1014.4h5v11h-5zM333.3 1014.4h5v11h-5zM343.2 1014.4h5v11h-5zM392.8 1014.4h5v11h-5zM472.2 1014.4h5v11h-5zM492 1014.4h5v11h-5zM134.8 1025.3h5v11h-5zM139.8 1025.3h5v11h-5zM154.6 1025.3h5v11h-5zM159.6 1025.3h5v11h-5zM293.6 1025.3h5v11h-5zM298.5 1025.3h5v11h-5zM303.5 1025.3h5v11h-5zM139.8 1036.3h5v11h-5zM154.6 1036.3h5v11h-5zM164.6 1036.3h5v11h-5zM194.3 1036.3h5v11h-5zM244 1036.3h5v11h-5zM248.9 1036.3h5v11h-5zM288.6 1036.3h5v11h-5zM303.5 1036.3h5v11h-5zM313.4 1036.3h5v11h-5zM387.8 1036.3h5v11h-5zM412.7 1036.3h5v11h-5zM457.3 1036.3h5v11h-5zM179.5 1047.3h5v11h-5zM194.3 1047.3h5v11h-5zM199.3 1047.3h5v11h-5zM214.2 1047.3h5v11h-5zM273.7 1047.3h5v11h-5zM328.3 1047.3h5v11h-5zM333.3 1047.3h5v11h-5zM139.8 1058.2h5v11h-5zM154.6 1058.2h5v11h-5zM164.6 1058.2h5v11h-5zM179.5 1058.2h5v11h-5zM189.4 1058.2h5v11h-5zM204.3 1058.2h5v11h-5zM234 1058.2h5v11h-5zM293.6 1058.2h5v11h-5zM377.9 1058.2h5v11h-5zM159.6 1069.2h5v11h-5zM174.5 1069.2h5v11h-5zM199.3 1069.2h5v11h-5zM214.2 1069.2h5v11h-5zM268.8 1069.2h5v11h-5zM278.7 1069.2h5v11h-5zM298.5 1069.2h5v11h-5zM308.5 1069.2h5v11h-5zM482.1 1069.2h5v11h-5zM164.6 1080.2h5v11h-5zM184.4 1080.2h5v11h-5zM224.1 1080.2h5v11h-5zM283.6 1080.2h5v11h-5zM288.6 1080.2h5v11h-5zM323.3 1080.2h5v11h-5zM328.3 1080.2h5v11h-5zM338.2 1080.2h5v11h-5zM377.9 1080.2h5v11h-5zM407.7 1080.2h5v11h-5zM134.8 1091.1h5v11h-5zM194.3 1091.1h5v11h-5zM224.1 1091.1h5v11h-5zM283.6 1091.1h5v11h-5zM328.3 1091.1h5v11h-5zM333.3 1091.1h5v11h-5zM412.7 1091.1h5v11h-5zM154.6 1102.1h5v11h-5zM229.1 1102.1h5v11h-5zM239 1102.1h5v11h-5zM244 1102.1h5v11h-5zM278.7 1102.1h5v11h-5zM308.5 1102.1h5v11h-5zM333.3 1102.1h5v11h-5zM343.2 1102.1h5v11h-5zM447.4 1102.1h5v11h-5zM134.8 1113.1h5v11h-5zM179.5 1113.1h5v11h-5zM234 1113.1h5v11h-5zM288.6 1113.1h5v11h-5zM318.4 1113.1h5v11h-5zM338.2 1113.1h5v11h-5zM382.9 1113.1h5v11h-5zM199.3 1124h5v11h-5zM204.3 1124h5v11h-5zM268.8 1124h5v11h-5zM273.7 1124h5v11h-5zM333.3 1124h5v11h-5zM472.2 1124h5v11h-5zM194.3 1135h5v11h-5zM204.3 1135h5v11h-5zM219.1 1135h5v11h-5zM244 1135h5v11h-5zM323.3 1135h5v11h-5zM338.2 1135h5v11h-5zM382.9 1135h5v11h-5zM407.7 1135h5v11h-5zM144.7 1145.9h5v11h-5zM149.7 1145.9h5v11h-5zM214.2 1145.9h5v11h-5zM239 1145.9h5v11h-5zM263.8 1145.9h5v11h-5zM318.4 1145.9h5v11h-5zM338.2 1145.9h5v11h-5zM402.7 1145.9h5v11h-5zM149.7 1156.9h5v11h-5zM169.5 1156.9h5v11h-5zM234 1156.9h5v11h-5zM239 1156.9h5v11h-5zM278.7 1156.9h5v11h-5zM308.5 1156.9h5v11h-5zM377.9 1156.9h5v11h-5zM452.3 1156.9h5v11h-5zM154.6 1167.9h5v11h-5zM159.6 1167.9h5v11h-5zM204.3 1167.9h5v11h-5zM234 1167.9h5v11h-5zM248.9 1167.9h5v11h-5zM268.8 1167.9h5v11h-5zM323.3 1167.9h5v11h-5zM328.3 1167.9h5v11h-5zM333.3 1167.9h5v11h-5zM392.8 1167.9h5v11h-5zM402.7 1167.9h5v11h-5zM427.5 1167.9h5v11h-5zM253.9 1178.8h5v11h-5zM298.5 1178.8h5v11h-5zM308.5 1178.8h5v11h-5zM387.8 1178.8h5v11h-5zM392.8 1178.8h5v11h-5z" fill="#fcfcfc"/>
<path d="M179.5 532h5v11h-5zM313.4 532h5v11h-5zM244 564.9h5v11h-5zM234 575.9h5v11h-5zM313.4 575.9h5v11h-5zM298.5 597.8h5v11h-5zM323.3 597.8h5v11h-5zM348.2 597.8h5v11h-5zM368 630.7h5v11h-5zM164.6 641.6h5v11h-5zM239 652.6h5v11h-5zM348.2 652.6h5v11h-5zM373 663.6h5v11h-5zM288.6 674.5h5v11h-5zM154.6 685.5h5v11h-5zM288.6 685.5h5v11h-5zM368 696.5h5v11h-5zM224.1 707.4h5v11h-5zM234 707.4h5v11h-5zM283.6 718.4h5v11h-5zM318.4 729.3h5v11h-5zM224.1 740.3h5v11h-5zM268.8 751.3h5v11h-5zM258.8 762.2h5v11h-5zM318.4 817h5v11h-5zM462.3 817h5v11h-5zM363 828h5v11h-5zM164.6 849.9h5v11h-5zM204.3 849.9h5v11h-5zM368 849.9h5v11h-5zM432.5 860.9h5v11h-5zM452.3 860.9h5v11h-5zM462.3 871.9h5v11h-5zM467.2 871.9h5v11h-5zM462.3 882.8h5v11h-5zM492 882.8h5v11h-5zM402.7 893.8h5v11h-5zM432.5 893.8h5v11h-5zM482.1 893.8h5v11h-5zM268.8 904.8h5v11h-5zM397.8 915.7h5v11h-5zM447.4 915.7h5v11h-5zM397.8 926.7h5v11h-5zM492 926.7h5v11h-5zM467.2 937.6h5v11h-5zM432.5 948.6h5v11h-5zM204.3 970.5h5v11h-5zM417.6 970.5h5v11h-5zM477.2 992.5h5v11h-5zM407.7 1003.4h5v11h-5zM422.6 1003.4h5v11h-5zM457.3 1025.3h5v11h-5zM209.2 1036.3h5v11h-5zM338.2 1036.3h5v11h-5zM407.7 1069.2h5v11h-5zM397.8 1091.1h5v11h-5zM462.3 1135h5v11h-5zM477.2 1135h5v11h-5zM487.1 1145.9h5v11h-5zM422.6 1156.9h5v11h-5zM437.5 1156.9h5v11h-5zM467.2 1178.8h5v11h-5z" fill="#babafc"/>
<path d="M189.4 532h5v11h-5zM244 532h5v11h-5zM139.8 543h5v11h-5zM244 543h5v11h-5zM263.8 543h5v11h-5zM298.5 543h5v11h-5zM338.2 543h5v11h-5zM273.7 553.9h5v11h-5zM353.1 553.9h5v11h-5zM363 553.9h5v11h-5zM169.5 564.9h5v11h-5zM363 564.9h5v11h-5zM368 564.9h5v11h-5zM144.7 575.9h5v11h-5zM154.6 575.9h5v11h-5zM204.3 575.9h5v11h-5zM214.2 575.9h5v11h-5zM229.1 575.9h5v11h-5zM278.7 575.9h5v11h-5zM333.3 575.9h5v11h-5zM139.8 586.8h5v11h-5zM169.5 586.8h5v11h-5zM239 586.8h5v11h-5zM373 586.8h5v11h-5zM258.8 597.8h5v11h-5zM174.5 608.7h5v11h-5zM214.2 608.7h5v11h-5zM258.8 608.7h5v11h-5zM154.6 619.7h5v11h-5zM234 619.7h5v11h-5zM154.6 630.7h5v11h-5zM164.6 630.7h5v11h-5zM234 630.7h5v11h-5zM239 630.7h5v11h-5zM303.5 641.6h5v11h-5zM278.7 652.6h5v11h-5zM303.5 652.6h5v11h-5zM184.4 663.6h5v11h-5zM194.3 663.6h5v11h-5zM263.8 663.6h5v11h-5zM204.3 674.5h5v11h-5zM209.2 674.5h5v11h-5zM333.3 674.5h5v11h-5zM333.3 685.5h5v11h-5zM169.5 696.5h5v11h-5zM174.5 696.5h5v11h-5zM209.2 696.5h5v11h-5zM134.8 707.4h5v11h-5zM184.4 707.4h5v11h-5zM229.1 707.4h5v11h-5zM239 707.4h5v11h-5zM278.7 707.4h5v11h-5zM343.2 707.4h5v11h-5zM278.7 718.4h5v11h-5zM234 729.3h5v11h-5zM174.5 740.3h5v11h-5zM303.5 740.3h5v11h-5zM328.3 740.3h5v11h-5zM333.3 740.3h5v11h-5zM149.7 751.3h5v11h-5zM194.3 751.3h5v11h-5zM333.3 751.3h5v11h-5zM248.9 762.2h5v11h-5zM318.4 762.2h5v11h-5zM328.3 762.2h5v11h-5zM144.7 773.2h5v11h-5zM199.3 773.2h5v11h-5zM229.1 773.2h5v11h-5zM293.6 773.2h5v11h-5zM328.3 773.2h5v11h-5zM323.3 784.2h5v11h-5zM149.7 795.1h5v11h-5zM174.5 795.1h5v11h-5zM258.8 795.1h5v11h-5zM273.7 795.1h5v11h-5zM283.6 795.1h5v11h-5zM333.3 795.1h5v11h-5zM184.4 806.1h5v11h-5zM204.3 806.1h5v11h-5zM328.3 806.1h5v11h-5zM333.3 806.1h5v11h-5zM253.9 817h5v11h-5zM268.8 817h5v11h-5zM278.7 817h5v11h-5zM219.1 828h5v11h-5zM268.8 839h5v11h-5zM293.6 839h5v11h-5zM214.2 860.9h5v11h-5zM224.1 871.9h5v11h-5zM263.8 882.8h5v11h-5zM273.7 882.8h5v11h-5zM382.9 882.8h5v11h-5zM452.3 882.8h5v11h-5zM397.8 893.8h5v11h-5zM492 893.8h5v11h-5zM343.2 915.7h5v11h-5zM392.8 915.7h5v11h-5zM477.2 915.7h5v11h-5zM154.6 937.6h5v11h-5zM263.8 937.6h5v11h-5zM174.5 948.6h5v11h-5zM194.3 948.6h5v11h-5zM209.2 948.6h5v11h-5zM338.2 948.6h5v11h-5zM432.5 959.6h5v11h-5zM268.8 970.5h5v11h-5zM219.1 981.5h5v11h-5zM273.7 981.5h5v11h-5zM283.6 981.5h5v11h-5zM239 1003.4h5v11h-5zM382.9 1014.4h5v11h-5zM387.8 1014.4h5v11h-5zM407.7 1014.4h5v11h-5zM184.4 1025.3h5v11h-5zM283.6 1036.3h5v11h-5zM377.9 1036.3h5v11h-5zM253.9 1047.3h5v11h-5zM298.5 1047.3h5v11h-5zM214.2 1058.2h5v11h-5zM229.1 1058.2h5v11h-5zM244 1058.2h5v11h-5zM283.6 1058.2h5v11h-5zM318.4 1058.2h5v11h-5zM338.2 1058.2h5v11h-5zM343.2 1058.2h5v11h-5zM387.8 1058.2h5v11h-5zM154.6 1069.2h5v11h-5zM288.6 1069.2h5v11h-5zM382.9 1069.2h5v11h-5zM452.3 1069.2h5v11h-5zM154.6 1080.2h5v11h-5zM333.3 1080.2h5v11h-5zM209.2 1091.1h5v11h-5zM258.8 1091.1h5v11h-5zM308.5 1091.1h5v11h-5zM417.6 1102.1h5v11h-5zM283.6 1113.1h5v11h-5zM333.3 1113.1h5v11h-5zM134.8 1124h5v11h-5zM417.6 1124h5v11h-5zM149.7 1135h5v11h-5zM253.9 1135h5v11h-5zM417.6 1145.9h5v11h-5zM293.6 1156.9h5v11h-5zM144.7 1167.9h5v11h-5zM209.2 1167.9h5v11h-5zM467.2 1167.9h5v11h-5zM189.4 1178.8h5v11h-5zM194.3 1178.8h5v11h-5z" fill="#eaeafc"/>
<path d="M224.1 532h5v11h-5zM298.5 532h5v11h-5zM373 532h5v11h-5zM179.5 543h5v11h-5zM273.7 543h5v11h-5zM303.5 543h5v11h-5zM343.2 543h5v11h-5zM159.6 553.9h5v11h-5zM179.5 553.9h5v11h-5zM283.6 553.9h5v11h-5zM288.6 553.9h5v11h-5zM333.3 553.9h5v11h-5zM368 553.9h5v11h-5zM219.1 564.9h5v11h-5zM268.8 564.9h5v11h-5zM273.7 564.9h5v11h-5zM462.3 564.9h5v11h-5zM273.7 575.9h5v11h-5zM373 575.9h5v11h-5zM134.8 586.8h5v11h-5zM184.4 586.8h5v11h-5zM298.5 586.8h5v11h-5zM174.5 597.8h5v11h-5zM164.6 608.7h5v11h-5zM248.9 608.7h5v11h-5zM293.6 619.7h5v11h-5zM134.8 630.7h5v11h-5zM169.5 630.7h5v11h-5zM253.9 641.6h5v11h-5zM268.8 641.6h5v11h-5zM308.5 641.6h5v11h-5zM328.3 641.6h5v11h-5zM134.8 652.6h5v11h-5zM169.5 652.6h5v11h-5zM313.4 652.6h5v11h-5zM328.3 652.6h5v11h-5zM154.6 663.6h5v11h-5zM184.4 674.5h5v11h-5zM189.4 674.5h5v11h-5zM194.3 674.5h5v11h-5zM244 674.5h5v11h-5zM134.8 685.5h5v11h-5zM169.5 685.5h5v11h-5zM308.5 685.5h5v11h-5zM303.5 696.5h5v11h-5zM288.6 707.4h5v11h-5zM154.6 718.4h5v11h-5zM323.3 718.4h5v11h-5zM333.3 729.3h5v11h-5zM343.2 729.3h5v11h-5zM194.3 740.3h5v11h-5zM214.2 740.3h5v11h-5zM219.1 740.3h5v11h-5zM313.4 740.3h5v11h-5zM318.4 740.3h5v11h-5zM338.2 740.3h5v11h-5zM154.6 751.3h5v11h-5zM169.5 751.3h5v11h-5zM184.4 751.3h5v11h-5zM253.9 751.3h5v11h-5zM144.7 762.2h5v11h-5zM343.2 762.2h5v11h-5zM194.3 773.2h5v11h-5zM323.3 773.2h5v11h-5zM338.2 773.2h5v11h-5zM253.9 784.2h5v11h-5zM209.2 806.1h5v11h-5zM273.7 806.1h5v11h-5zM278.7 806.1h5v11h-5zM283.6 806.1h5v11h-5zM318.4 806.1h5v11h-5zM263.8 817h5v11h-5zM323.3 817h5v11h-5zM179.5 828h5v11h-5zM189.4 828h5v11h-5zM194.3 828h5v11h-5zM298.5 828h5v11h-5zM139.8 839h5v11h-5zM298.5 849.9h5v11h-5zM268.8 860.9h5v11h-5zM427.5 860.9h5v11h-5zM184.4 871.9h5v11h-5zM298.5 871.9h5v11h-5zM457.3 871.9h5v11h-5zM477.2 871.9h5v11h-5zM482.1 871.9h5v11h-5zM244 882.8h5v11h-5zM387.8 882.8h5v11h-5zM253.9 893.8h5v11h-5zM392.8 893.8h5v11h-5zM477.2 893.8h5v11h-5zM219.1 904.8h5v11h-5zM402.7 904.8h5v11h-5zM487.1 904.8h5v11h-5zM487.1 915.7h5v11h-5zM377.9 926.7h5v11h-5zM462.3 926.7h5v11h-5zM467.2 926.7h5v11h-5zM487.1 926.7h5v11h-5zM477.2 937.6h5v11h-5zM263.8 948.6h5v11h-5zM397.8 948.6h5v11h-5zM387.8 959.6h5v11h-5zM467.2 970.5h5v11h-5zM472.2 970.5h5v11h-5zM397.8 981.5h5v11h-5zM164.6 992.5h5v11h-5zM472.2 992.5h5v11h-5zM253.9 1036.3h5v11h-5zM472.2 1036.3h5v11h-5zM189.4 1047.3h5v11h-5zM343.2 1047.3h5v11h-5zM412.7 1058.2h5v11h-5zM447.4 1058.2h5v11h-5zM492 1058.2h5v11h-5zM387.8 1069.2h5v11h-5zM204.3 1080.2h5v11h-5zM253.9 1080.2h5v11h-5zM382.9 1080.2h5v11h-5zM402.7 1080.2h5v11h-5zM432.5 1080.2h5v11h-5zM492 1080.2h5v11h-5zM467.2 1091.1h5v11h-5zM377.9 1102.1h5v11h-5zM154.6 1113.1h5v11h-5zM189.4 1113.1h5v11h-5zM248.9 1113.1h5v11h-5zM437.5 1113.1h5v11h-5zM224.1 1124h5v11h-5zM432.5 1124h5v11h-5zM154.6 1135h5v11h-5zM258.8 1135h5v11h-5zM288.6 1135h5v11h-5zM412.7 1135h5v11h-5zM422.6 1135h5v11h-5zM487.1 1135h5v11h-5zM234 1145.9h5v11h-5zM268.8 1145.9h5v11h-5zM323.3 1145.9h5v11h-5zM422.6 1145.9h5v11h-5zM382.9 1156.9h5v11h-5zM447.4 1156.9h5v11h-5zM477.2 1156.9h5v11h-5zM477.2 1167.9h5v11h-5zM283.6 1178.8h5v11h-5zM407.7 1178.8h5v11h-5zM417.6 1178.8h5v11h-5z" fill="#dedefc"/>
<path d="M234 532h5v11h-5zM288.6 532h5v11h-5zM248.9 543h5v11h-5zM134.8 553.9h5v11h-5zM214.2 553.9h5v11h-5zM338.2 553.9h5v11h-5zM179.5 564.9h5v11h-5zM134.8 575.9h5v11h-5zM219.1 575.9h5v11h-5zM248.9 575.9h5v11h-5zM253.9 575.9h5v11h-5zM328.3 575.9h5v11h-5zM487.1 575.9h5v11h-5zM149.7 586.8h5v11h-5zM209.2 586.8h5v11h-5zM229.1 586.8h5v11h-5zM164.6 597.8h5v11h-5zM199.3 597.8h5v11h-5zM234 597.8h5v11h-5zM328.3 597.8h5v11h-5zM313.4 608.7h5v11h-5zM343.2 608.7h5v11h-5zM139.8 619.7h5v11h-5zM179.5 619.7h5v11h-5zM194.3 619.7h5v11h-5zM209.2 619.7h5v11h-5zM283.6 619.7h5v11h-5zM179.5 630.7h5v11h-5zM189.4 630.7h5v11h-5zM199.3 630.7h5v11h-5zM268.8 630.7h5v11h-5zM303.5 630.7h5v11h-5zM323.3 630.7h5v11h-5zM343.2 630.7h5v11h-5zM194.3 641.6h5v11h-5zM149.7 663.6h5v11h-5zM209.2 663.6h5v11h-5zM214.2 663.6h5v11h-5zM298.5 663.6h5v11h-5zM318.4 663.6h5v11h-5zM323.3 663.6h5v11h-5zM248.9 674.5h5v11h-5zM318.4 685.5h5v11h-5zM219.1 696.5h5v11h-5zM248.9 696.5h5v11h-5zM258.8 696.5h5v11h-5zM273.7 696.5h5v11h-5zM278.7 696.5h5v11h-5zM293.6 696.5h5v11h-5zM313.4 696.5h5v11h-5zM328.3 696.5h5v11h-5zM144.7 707.4h5v11h-5zM159.6 707.4h5v11h-5zM258.8 707.4h5v11h-5zM313.4 707.4h5v11h-5zM159.6 718.4h5v11h-5zM169.5 718.4h5v11h-5zM248.9 718.4h5v11h-5zM298.5 718.4h5v11h-5zM139.8 729.3h5v11h-5zM224.1 729.3h5v11h-5zM293.6 729.3h5v11h-5zM298.5 729.3h5v11h-5zM323.3 729.3h5v11h-5zM149.7 740.3h5v11h-5zM154.6 740.3h5v11h-5zM209.2 740.3h5v11h-5zM258.8 740.3h5v11h-5zM263.8 740.3h5v11h-5zM263.8 751.3h5v11h-5zM328.3 751.3h5v11h-5zM149.7 762.2h5v11h-5zM154.6 762.2h5v11h-5zM224.1 762.2h5v11h-5zM263.8 762.2h5v11h-5zM288.6 762.2h5v11h-5zM298.5 773.2h5v11h-5zM263.8 784.2h5v11h-5zM144.7 795.1h5v11h-5zM169.5 795.1h5v11h-5zM328.3 795.1h5v11h-5zM199.3 806.1h5v11h-5zM313.4 806.1h5v11h-5zM258.8 817h5v11h-5zM328.3 817h5v11h-5zM144.7 828h5v11h-5zM149.7 828h5v11h-5zM199.3 828h5v11h-5zM224.1 828h5v11h-5zM248.9 828h5v11h-5zM273.7 828h5v11h-5zM209.2 839h5v11h-5zM209.2 849.9h5v11h-5zM214.2 849.9h5v11h-5zM283.6 849.9h5v11h-5zM333.3 849.9h5v11h-5zM219.1 860.9h5v11h-5zM244 860.9h5v11h-5zM422.6 860.9h5v11h-5zM437.5 860.9h5v11h-5zM487.1 860.9h5v11h-5zM258.8 871.9h5v11h-5zM412.7 871.9h5v11h-5zM442.4 871.9h5v11h-5zM184.4 882.8h5v11h-5zM417.6 882.8h5v11h-5zM422.6 882.8h5v11h-5zM268.8 893.8h5v11h-5zM283.6 904.8h5v11h-5zM432.5 904.8h5v11h-5zM382.9 915.7h5v11h-5zM303.5 926.7h5v11h-5zM382.9 926.7h5v11h-5zM392.8 926.7h5v11h-5zM397.8 937.6h5v11h-5zM402.7 948.6h5v11h-5zM447.4 948.6h5v11h-5zM452.3 948.6h5v11h-5zM169.5 959.6h5v11h-5zM229.1 959.6h5v11h-5zM303.5 959.6h5v11h-5zM477.2 959.6h5v11h-5zM164.6 970.5h5v11h-5zM278.7 970.5h5v11h-5zM328.3 970.5h5v11h-5zM462.3 970.5h5v11h-5zM487.1 970.5h5v11h-5zM492 970.5h5v11h-5zM412.7 981.5h5v11h-5zM462.3 981.5h5v11h-5zM179.5 992.5h5v11h-5zM234 992.5h5v11h-5zM303.5 992.5h5v11h-5zM333.3 992.5h5v11h-5zM377.9 992.5h5v11h-5zM397.8 992.5h5v11h-5zM422.6 992.5h5v11h-5zM392.8 1003.4h5v11h-5zM477.2 1003.4h5v11h-5zM214.2 1014.4h5v11h-5zM229.1 1014.4h5v11h-5zM452.3 1014.4h5v11h-5zM462.3 1014.4h5v11h-5zM278.7 1025.3h5v11h-5zM477.2 1025.3h5v11h-5zM402.7 1036.3h5v11h-5zM248.9 1047.3h5v11h-5zM377.9 1047.3h5v11h-5zM487.1 1047.3h5v11h-5zM184.4 1058.2h5v11h-5zM323.3 1058.2h5v11h-5zM402.7 1058.2h5v11h-5zM407.7 1058.2h5v11h-5zM442.4 1058.2h5v11h-5zM452.3 1058.2h5v11h-5zM457.3 1058.2h5v11h-5zM179.5 1069.2h5v11h-5zM283.6 1069.2h5v11h-5zM422.6 1069.2h5v11h-5zM467.2 1069.2h5v11h-5zM412.7 1080.2h5v11h-5zM482.1 1091.1h5v11h-5zM189.4 1102.1h5v11h-5zM219.1 1102.1h5v11h-5zM422.6 1102.1h5v11h-5zM437.5 1102.1h5v11h-5zM467.2 1102.1h5v11h-5zM487.1 1102.1h5v11h-5zM407.7 1113.1h5v11h-5zM447.4 1113.1h5v11h-5zM477.2 1113.1h5v11h-5zM139.8 1124h5v11h-5zM219.1 1124h5v11h-5zM248.9 1124h5v11h-5zM422.6 1124h5v11h-5zM179.5 1135h5v11h-5zM377.9 1135h5v11h-5zM387.8 1135h5v11h-5zM452.3 1135h5v11h-5zM209.2 1145.9h5v11h-5zM288.6 1145.9h5v11h-5zM343.2 1145.9h5v11h-5zM397.8 1145.9h5v11h-5zM407.7 1145.9h5v11h-5zM412.7 1145.9h5v11h-5zM442.4 1145.9h5v11h-5zM248.9 1156.9h5v11h-5zM313.4 1156.9h5v11h-5zM219.1 1167.9h5v11h-5zM407.7 1167.9h5v11h-5zM442.4 1167.9h5v11h-5zM452.3 1167.9h5v11h-5zM214.2 1178.8h5v11h-5zM258.8 1178.8h5v11h-5zM377.9 1178.8h5v11h-5zM427.5 1178.8h5v11h-5zM437.5 1178.8h5v11h-5z" fill="#d8d8fc"/>
<path d="M248.9 532h5v11h-5zM273.7 532h5v11h-5zM348.2 532h5v11h-5zM358.1 532h5v11h-5zM387.8 532h5v11h-5zM159.6 543h5v11h-5zM293.6 543h5v11h-5zM308.5 543h5v11h-5zM348.2 543h5v11h-5zM487.1 543h5v11h-5zM154.6 553.9h5v11h-5zM382.9 553.9h5v11h-5zM457.3 553.9h5v11h-5zM209.2 564.9h5v11h-5zM253.9 564.9h5v11h-5zM343.2 564.9h5v11h-5zM323.3 575.9h5v11h-5zM338.2 575.9h5v11h-5zM348.2 575.9h5v11h-5zM462.3 575.9h5v11h-5zM318.4 586.8h5v11h-5zM368 586.8h5v11h-5zM457.3 586.8h5v11h-5zM283.6 597.8h5v11h-5zM293.6 597.8h5v11h-5zM333.3 597.8h5v11h-5zM338.2 597.8h5v11h-5zM298.5 608.7h5v11h-5zM144.7 619.7h5v11h-5zM149.7 619.7h5v11h-5zM239 619.7h5v11h-5zM323.3 619.7h5v11h-5zM382.9 619.7h5v11h-5zM387.8 619.7h5v11h-5zM447.4 619.7h5v11h-5zM214.2 630.7h5v11h-5zM313.4 630.7h5v11h-5zM467.2 630.7h5v11h-5zM169.5 641.6h5v11h-5zM234 641.6h5v11h-5zM248.9 641.6h5v11h-5zM313.4 641.6h5v11h-5zM377.9 641.6h5v11h-5zM139.8 652.6h5v11h-5zM209.2 652.6h5v11h-5zM248.9 652.6h5v11h-5zM263.8 652.6h5v11h-5zM273.7 652.6h5v11h-5zM343.2 652.6h5v11h-5zM482.1 652.6h5v11h-5zM492 652.6h5v11h-5zM144.7 663.6h5v11h-5zM174.5 674.5h5v11h-5zM224.1 674.5h5v11h-5zM487.1 674.5h5v11h-5zM283.6 685.5h5v11h-5zM298.5 685.5h5v11h-5zM134.8 696.5h5v11h-5zM234 696.5h5v11h-5zM268.8 696.5h5v11h-5zM392.8 696.5h5v11h-5zM462.3 696.5h5v11h-5zM169.5 707.4h5v11h-5zM174.5 707.4h5v11h-5zM244 707.4h5v11h-5zM263.8 707.4h5v11h-5zM328.3 707.4h5v11h-5zM462.3 707.4h5v11h-5zM263.8 718.4h5v11h-5zM333.3 718.4h5v11h-5zM447.4 718.4h5v11h-5zM164.6 729.3h5v11h-5zM194.3 729.3h5v11h-5zM214.2 729.3h5v11h-5zM244 729.3h5v11h-5zM253.9 729.3h5v11h-5zM328.3 729.3h5v11h-5zM253.9 740.3h5v11h-5zM139.8 751.3h5v11h-5zM467.2 751.3h5v11h-5zM174.5 773.2h5v11h-5zM184.4 773.2h5v11h-5zM273.7 773.2h5v11h-5zM482.1 773.2h5v11h-5zM273.7 784.2h5v11h-5zM442.4 784.2h5v11h-5zM457.3 784.2h5v11h-5zM219.1 795.1h5v11h-5zM278.7 795.1h5v11h-5zM303.5 795.1h5v11h-5zM323.3 795.1h5v11h-5zM387.8 795.1h5v11h-5zM452.3 806.1h5v11h-5zM472.2 806.1h5v11h-5zM477.2 806.1h5v11h-5zM308.5 817h5v11h-5zM487.1 817h5v11h-5zM209.2 828h5v11h-5zM392.8 828h5v11h-5zM134.8 839h5v11h-5zM194.3 839h5v11h-5zM338.2 839h5v11h-5zM139.8 849.9h5v11h-5zM169.5 849.9h5v11h-5zM248.9 849.9h5v11h-5zM159.6 860.9h5v11h-5zM234 860.9h5v11h-5zM318.4 860.9h5v11h-5zM387.8 860.9h5v11h-5zM154.6 871.9h5v11h-5zM204.3 871.9h5v11h-5zM288.6 871.9h5v11h-5zM313.4 871.9h5v11h-5zM144.7 882.8h5v11h-5zM209.2 882.8h5v11h-5zM258.8 882.8h5v11h-5zM283.6 882.8h5v11h-5zM298.5 882.8h5v11h-5zM313.4 882.8h5v11h-5zM343.2 882.8h5v11h-5zM229.1 893.8h5v11h-5zM303.5 893.8h5v11h-5zM318.4 893.8h5v11h-5zM328.3 893.8h5v11h-5zM184.4 904.8h5v11h-5zM189.4 904.8h5v11h-5zM253.9 904.8h5v11h-5zM278.7 904.8h5v11h-5zM229.1 915.7h5v11h-5zM278.7 915.7h5v11h-5zM288.6 915.7h5v11h-5zM189.4 926.7h5v11h-5zM199.3 926.7h5v11h-5zM273.7 926.7h5v11h-5zM298.5 926.7h5v11h-5zM204.3 937.6h5v11h-5zM288.6 937.6h5v11h-5zM139.8 948.6h5v11h-5zM169.5 948.6h5v11h-5zM179.5 948.6h5v11h-5zM244 948.6h5v11h-5zM318.4 948.6h5v11h-5zM343.2 948.6h5v11h-5zM164.6 959.6h5v11h-5zM174.5 959.6h5v11h-5zM174.5 970.5h5v11h-5zM184.4 970.5h5v11h-5zM224.1 970.5h5v11h-5zM303.5 970.5h5v11h-5zM313.4 970.5h5v11h-5zM303.5 981.5h5v11h-5zM149.7 992.5h5v11h-5zM169.5 992.5h5v11h-5zM219.1 992.5h5v11h-5zM248.9 992.5h5v11h-5zM169.5 1003.4h5v11h-5zM184.4 1003.4h5v11h-5zM288.6 1003.4h5v11h-5zM382.9 1003.4h5v11h-5zM328.3 1014.4h5v11h-5zM149.7 1025.3h5v11h-5zM313.4 1025.3h5v11h-5zM328.3 1025.3h5v11h-5zM134.8 1036.3h5v11h-5zM219.1 1036.3h5v11h-5zM134.8 1047.3h5v11h-5zM159.6 1047.3h5v11h-5zM184.4 1047.3h5v11h-5zM204.3 1047.3h5v11h-5zM234 1047.3h5v11h-5zM318.4 1047.3h5v11h-5zM134.8 1058.2h5v11h-5zM253.9 1058.2h5v11h-5zM273.7 1058.2h5v11h-5zM392.8 1058.2h5v11h-5zM134.8 1069.2h5v11h-5zM219.1 1069.2h5v11h-5zM234 1069.2h5v11h-5zM239 1069.2h5v11h-5zM258.8 1069.2h5v11h-5zM323.3 1069.2h5v11h-5zM149.7 1080.2h5v11h-5zM229.1 1080.2h5v11h-5zM293.6 1080.2h5v11h-5zM343.2 1080.2h5v11h-5zM174.5 1102.1h5v11h-5zM273.7 1102.1h5v11h-5zM283.6 1102.1h5v11h-5zM149.7 1113.1h5v11h-5zM169.5 1113.1h5v11h-5zM174.5 1113.1h5v11h-5zM184.4 1113.1h5v11h-5zM194.3 1113.1h5v11h-5zM144.7 1124h5v11h-5zM154.6 1124h5v11h-5zM169.5 1124h5v11h-5zM313.4 1124h5v11h-5zM323.3 1124h5v11h-5zM134.8 1135h5v11h-5zM169.5 1135h5v11h-5zM239 1135h5v11h-5zM392.8 1135h5v11h-5zM253.9 1145.9h5v11h-5zM298.5 1145.9h5v11h-5zM333.3 1145.9h5v11h-5zM164.6 1156.9h5v11h-5zM258.8 1156.9h5v11h-5zM164.6 1167.9h5v11h-5zM199.3 1167.9h5v11h-5zM273.7 1167.9h5v11h-5zM293.6 1167.9h5v11h-5zM303.5 1167.9h5v11h-5zM338.2 1167.9h5v11h-5zM224.1 1178.8h5v11h-5zM268.8 1178.8h5v11h-5zM288.6 1178.8h5v11h-5zM303.5 1178.8h5v11h-5z" fill="#fcf0f0"/>
<path d="M318.4 532h5v11h-5zM373 597.8h5v11h-5zM363 608.7h5v11h-5zM248.9 619.7h5v11h-5zM313.4 619.7h5v11h-5zM348.2 619.7h5v11h-5zM174.5 641.6h5v11h-5zM348.2 641.6h5v11h-5zM179.5 652.6h5v11h-5zM353.1 652.6h5v11h-5zM234 663.6h5v11h-5zM338.2 663.6h5v11h-5zM353.1 663.6h5v11h-5zM358.1 674.5h5v11h-5zM363 685.5h5v11h-5zM373 685.5h5v11h-5zM353.1 696.5h5v11h-5zM323.3 707.4h5v11h-5zM343.2 718.4h5v11h-5zM353.1 729.3h5v11h-5zM358.1 729.3h5v11h-5zM358.1 740.3h5v11h-5zM363 740.3h5v11h-5zM373 751.3h5v11h-5zM209.2 762.2h5v11h-5zM358.1 762.2h5v11h-5zM368 784.2h5v11h-5zM353.1 795.1h5v11h-5zM373 806.1h5v11h-5zM144.7 817h5v11h-5zM194.3 817h5v11h-5zM258.8 828h5v11h-5zM348.2 839h5v11h-5zM407.7 860.9h5v11h-5zM407.7 871.9h5v11h-5zM447.4 871.9h5v11h-5zM492 871.9h5v11h-5zM472.2 926.7h5v11h-5zM407.7 937.6h5v11h-5zM447.4 937.6h5v11h-5zM462.3 937.6h5v11h-5zM397.8 959.6h5v11h-5zM442.4 959.6h5v11h-5zM447.4 970.5h5v11h-5zM432.5 1003.4h5v11h-5zM402.7 1014.4h5v11h-5zM427.5 1014.4h5v11h-5zM487.1 1014.4h5v11h-5zM482.1 1036.3h5v11h-5zM169.5 1047.3h5v11h-5zM422.6 1047.3h5v11h-5zM333.3 1058.2h5v11h-5zM432.5 1069.2h5v11h-5zM402.7 1102.1h5v11h-5zM442.4 1113.1h5v11h-5zM467.2 1113.1h5v11h-5zM437.5 1124h5v11h-5zM467.2 1145.9h5v11h-5zM487.1 1156.9h5v11h-5zM492 1156.9h5v11h-5zM437.5 1167.9h5v11h-5zM164.6 1178.8h5v11h-5zM442.4 1178.8h5v11h-5z" fill="#a8a8fc"/>
<path d="M323.3 532h5v11h-5zM368 532h5v11h-5zM144.7 543h5v11h-5zM194.3 543h5v11h-5zM224.1 543h5v11h-5zM229.1 543h5v11h-5zM318.4 543h5v11h-5zM368 543h5v11h-5zM392.8 543h5v11h-5zM467.2 543h5v11h-5zM248.9 553.9h5v11h-5zM253.9 553.9h5v11h-5zM134.8 564.9h5v11h-5zM144.7 564.9h5v11h-5zM283.6 564.9h5v11h-5zM288.6 564.9h5v11h-5zM467.2 564.9h5v11h-5zM174.5 575.9h5v11h-5zM184.4 575.9h5v11h-5zM283.6 575.9h5v11h-5zM189.4 586.8h5v11h-5zM363 586.8h5v11h-5zM209.2 597.8h5v11h-5zM303.5 597.8h5v11h-5zM194.3 608.7h5v11h-5zM229.1 608.7h5v11h-5zM308.5 608.7h5v11h-5zM134.8 619.7h5v11h-5zM184.4 619.7h5v11h-5zM353.1 619.7h5v11h-5zM224.1 630.7h5v11h-5zM283.6 630.7h5v11h-5zM353.1 630.7h5v11h-5zM204.3 641.6h5v11h-5zM338.2 641.6h5v11h-5zM189.4 652.6h5v11h-5zM318.4 652.6h5v11h-5zM373 652.6h5v11h-5zM144.7 674.5h5v11h-5zM164.6 674.5h5v11h-5zM258.8 674.5h5v11h-5zM268.8 674.5h5v11h-5zM323.3 674.5h5v11h-5zM189.4 685.5h5v11h-5zM234 685.5h5v11h-5zM244 685.5h5v11h-5zM323.3 685.5h5v11h-5zM343.2 685.5h5v11h-5zM179.5 707.4h5v11h-5zM303.5 707.4h5v11h-5zM214.2 718.4h5v11h-5zM258.8 718.4h5v11h-5zM298.5 740.3h5v11h-5zM288.6 751.3h5v11h-5zM313.4 751.3h5v11h-5zM358.1 751.3h5v11h-5zM159.6 762.2h5v11h-5zM169.5 762.2h5v11h-5zM184.4 762.2h5v11h-5zM194.3 762.2h5v11h-5zM219.1 762.2h5v11h-5zM229.1 762.2h5v11h-5zM253.9 762.2h5v11h-5zM303.5 762.2h5v11h-5zM338.2 762.2h5v11h-5zM353.1 762.2h5v11h-5zM248.9 773.2h5v11h-5zM363 773.2h5v11h-5zM174.5 784.2h5v11h-5zM164.6 795.1h5v11h-5zM194.3 795.1h5v11h-5zM169.5 806.1h5v11h-5zM248.9 806.1h5v11h-5zM268.8 806.1h5v11h-5zM149.7 817h5v11h-5zM179.5 817h5v11h-5zM288.6 817h5v11h-5zM477.2 817h5v11h-5zM154.6 828h5v11h-5zM214.2 828h5v11h-5zM253.9 828h5v11h-5zM174.5 849.9h5v11h-5zM139.8 860.9h5v11h-5zM164.6 860.9h5v11h-5zM313.4 860.9h5v11h-5zM397.8 860.9h5v11h-5zM194.3 871.9h5v11h-5zM457.3 882.8h5v11h-5zM288.6 893.8h5v11h-5zM427.5 893.8h5v11h-5zM412.7 904.8h5v11h-5zM457.3 904.8h5v11h-5zM482.1 904.8h5v11h-5zM492 904.8h5v11h-5zM323.3 915.7h5v11h-5zM422.6 926.7h5v11h-5zM313.4 937.6h5v11h-5zM224.1 948.6h5v11h-5zM492 948.6h5v11h-5zM457.3 959.6h5v11h-5zM462.3 959.6h5v11h-5zM338.2 970.5h5v11h-5zM392.8 970.5h5v11h-5zM442.4 970.5h5v11h-5zM382.9 981.5h5v11h-5zM487.1 981.5h5v11h-5zM452.3 992.5h5v11h-5zM467.2 992.5h5v11h-5zM268.8 1003.4h5v11h-5zM462.3 1003.4h5v11h-5zM482.1 1003.4h5v11h-5zM492 1003.4h5v11h-5zM432.5 1014.4h5v11h-5zM477.2 1014.4h5v11h-5zM174.5 1025.3h5v11h-5zM179.5 1025.3h5v11h-5zM234 1025.3h5v11h-5zM447.4 1025.3h5v11h-5zM487.1 1025.3h5v11h-5zM432.5 1058.2h5v11h-5zM462.3 1058.2h5v11h-5zM437.5 1069.2h5v11h-5zM472.2 1069.2h5v11h-5zM417.6 1080.2h5v11h-5zM452.3 1080.2h5v11h-5zM462.3 1080.2h5v11h-5zM482.1 1080.2h5v11h-5zM487.1 1080.2h5v11h-5zM229.1 1091.1h5v11h-5zM487.1 1091.1h5v11h-5zM149.7 1102.1h5v11h-5zM392.8 1102.1h5v11h-5zM462.3 1102.1h5v11h-5zM239 1113.1h5v11h-5zM298.5 1113.1h5v11h-5zM427.5 1124h5v11h-5zM447.4 1124h5v11h-5zM452.3 1124h5v11h-5zM268.8 1135h5v11h-5zM437.5 1135h5v11h-5zM432.5 1145.9h5v11h-5zM457.3 1145.9h5v11h-5zM482.1 1145.9h5v11h-5zM134.8 1156.9h5v11h-5zM288.6 1156.9h5v11h-5zM179.5 1167.9h5v11h-5zM377.9 1167.9h5v11h-5zM397.8 1167.9h5v11h-5zM229.1 1178.8h5v11h-5zM422.6 1178.8h5v11h-5z" fill="#ccccfc"/>
<path d="M353.1 532h5v11h-5zM477.2 532h5v11h-5zM387.8 543h5v11h-5zM268.8 553.9h5v11h-5zM412.7 553.9h5v11h-5zM353.1 564.9h5v11h-5zM258.8 575.9h5v11h-5zM457.3 575.9h5v11h-5zM467.2 575.9h5v11h-5zM492 575.9h5v11h-5zM258.8 586.8h5v11h-5zM353.1 586.8h5v11h-5zM472.2 586.8h5v11h-5zM487.1 586.8h5v11h-5zM278.7 597.8h5v11h-5zM377.9 597.8h5v11h-5zM392.8 597.8h5v11h-5zM447.4 597.8h5v11h-5zM169.5 608.7h5v11h-5zM209.2 608.7h5v11h-5zM462.3 608.7h5v11h-5zM303.5 619.7h5v11h-5zM343.2 619.7h5v11h-5zM452.3 619.7h5v11h-5zM457.3 619.7h5v11h-5zM477.2 619.7h5v11h-5zM298.5 630.7h5v11h-5zM392.8 630.7h5v11h-5zM462.3 630.7h5v11h-5zM199.3 641.6h5v11h-5zM477.2 641.6h5v11h-5zM144.7 652.6h5v11h-5zM199.3 652.6h5v11h-5zM234 652.6h5v11h-5zM288.6 663.6h5v11h-5zM382.9 663.6h5v11h-5zM462.3 674.5h5v11h-5zM457.3 685.5h5v11h-5zM462.3 685.5h5v11h-5zM477.2 696.5h5v11h-5zM492 696.5h5v11h-5zM154.6 707.4h5v11h-5zM164.6 707.4h5v11h-5zM204.3 707.4h5v11h-5zM253.9 718.4h5v11h-5zM248.9 740.3h5v11h-5zM248.9 751.3h5v11h-5zM338.2 751.3h5v11h-5zM382.9 751.3h5v11h-5zM462.3 751.3h5v11h-5zM278.7 762.2h5v11h-5zM377.9 762.2h5v11h-5zM159.6 773.2h5v11h-5zM179.5 773.2h5v11h-5zM382.9 773.2h5v11h-5zM179.5 784.2h5v11h-5zM278.7 784.2h5v11h-5zM328.3 784.2h5v11h-5zM482.1 784.2h5v11h-5zM239 795.1h5v11h-5zM308.5 795.1h5v11h-5zM293.6 806.1h5v11h-5zM377.9 806.1h5v11h-5zM169.5 817h5v11h-5zM159.6 828h5v11h-5zM387.8 828h5v11h-5zM447.4 828h5v11h-5zM199.3 839h5v11h-5zM219.1 839h5v11h-5zM263.8 839h5v11h-5zM134.8 849.9h5v11h-5zM224.1 849.9h5v11h-5zM457.3 849.9h5v11h-5zM467.2 849.9h5v11h-5zM149.7 860.9h5v11h-5zM194.3 860.9h5v11h-5zM278.7 860.9h5v11h-5zM303.5 860.9h5v11h-5zM209.2 871.9h5v11h-5zM239 871.9h5v11h-5zM392.8 871.9h5v11h-5zM219.1 882.8h5v11h-5zM239 882.8h5v11h-5zM333.3 882.8h5v11h-5zM338.2 882.8h5v11h-5zM169.5 893.8h5v11h-5zM199.3 893.8h5v11h-5zM194.3 904.8h5v11h-5zM229.1 904.8h5v11h-5zM308.5 904.8h5v11h-5zM204.3 915.7h5v11h-5zM214.2 915.7h5v11h-5zM239 915.7h5v11h-5zM248.9 915.7h5v11h-5zM283.6 915.7h5v11h-5zM318.4 915.7h5v11h-5zM328.3 915.7h5v11h-5zM164.6 926.7h5v11h-5zM194.3 926.7h5v11h-5zM159.6 937.6h5v11h-5zM199.3 937.6h5v11h-5zM209.2 937.6h5v11h-5zM278.7 937.6h5v11h-5zM144.7 948.6h5v11h-5zM209.2 959.6h5v11h-5zM219.1 959.6h5v11h-5zM234 959.6h5v11h-5zM263.8 959.6h5v11h-5zM377.9 959.6h5v11h-5zM219.1 970.5h5v11h-5zM258.8 970.5h5v11h-5zM273.7 970.5h5v11h-5zM283.6 970.5h5v11h-5zM144.7 981.5h5v11h-5zM149.7 981.5h5v11h-5zM164.6 981.5h5v11h-5zM169.5 981.5h5v11h-5zM184.4 981.5h5v11h-5zM199.3 981.5h5v11h-5zM288.6 981.5h5v11h-5zM144.7 992.5h5v11h-5zM184.4 992.5h5v11h-5zM229.1 992.5h5v11h-5zM318.4 992.5h5v11h-5zM134.8 1003.4h5v11h-5zM209.2 1003.4h5v11h-5zM219.1 1003.4h5v11h-5zM308.5 1003.4h5v11h-5zM144.7 1014.4h5v11h-5zM164.6 1014.4h5v11h-5zM308.5 1014.4h5v11h-5zM338.2 1014.4h5v11h-5zM248.9 1025.3h5v11h-5zM263.8 1025.3h5v11h-5zM283.6 1025.3h5v11h-5zM308.5 1025.3h5v11h-5zM199.3 1036.3h5v11h-5zM234 1036.3h5v11h-5zM278.7 1036.3h5v11h-5zM382.9 1036.3h5v11h-5zM164.6 1047.3h5v11h-5zM278.7 1047.3h5v11h-5zM288.6 1047.3h5v11h-5zM174.5 1058.2h5v11h-5zM263.8 1058.2h5v11h-5zM278.7 1058.2h5v11h-5zM288.6 1058.2h5v11h-5zM134.8 1080.2h5v11h-5zM159.6 1080.2h5v11h-5zM174.5 1080.2h5v11h-5zM239 1080.2h5v11h-5zM244 1080.2h5v11h-5zM273.7 1080.2h5v11h-5zM303.5 1080.2h5v11h-5zM318.4 1080.2h5v11h-5zM199.3 1091.1h5v11h-5zM239 1091.1h5v11h-5zM199.3 1102.1h5v11h-5zM209.2 1102.1h5v11h-5zM258.8 1102.1h5v11h-5zM323.3 1102.1h5v11h-5zM139.8 1113.1h5v11h-5zM164.6 1113.1h5v11h-5zM229.1 1113.1h5v11h-5zM258.8 1113.1h5v11h-5zM273.7 1113.1h5v11h-5zM293.6 1113.1h5v11h-5zM303.5 1113.1h5v11h-5zM244 1124h5v11h-5zM303.5 1124h5v11h-5zM308.5 1124h5v11h-5zM229.1 1135h5v11h-5zM278.7 1135h5v11h-5zM134.8 1145.9h5v11h-5zM169.5 1145.9h5v11h-5zM179.5 1145.9h5v11h-5zM229.1 1145.9h5v11h-5zM258.8 1145.9h5v11h-5zM293.6 1145.9h5v11h-5zM382.9 1145.9h5v11h-5zM174.5 1156.9h5v11h-5zM189.4 1156.9h5v11h-5zM214.2 1156.9h5v11h-5zM268.8 1156.9h5v11h-5zM159.6 1178.8h5v11h-5zM184.4 1178.8h5v11h-5zM263.8 1178.8h5v11h-5zM318.4 1178.8h5v11h-5z" fill="#fce4e4"/>
<path d="M363 532h5v11h-5zM169.5 543h5v11h-5zM234 543h5v11h-5zM373 553.9h5v11h-5zM452.3 553.9h5v11h-5zM154.6 564.9h5v11h-5zM373 564.9h5v11h-5zM149.7 575.9h5v11h-5zM368 575.9h5v11h-5zM313.4 586.8h5v11h-5zM447.4 586.8h5v11h-5zM179.5 597.8h5v11h-5zM263.8 597.8h5v11h-5zM253.9 608.7h5v11h-5zM328.3 608.7h5v11h-5zM457.3 608.7h5v11h-5zM263.8 619.7h5v11h-5zM273.7 619.7h5v11h-5zM333.3 619.7h5v11h-5zM318.4 630.7h5v11h-5zM472.2 630.7h5v11h-5zM139.8 641.6h5v11h-5zM149.7 641.6h5v11h-5zM189.4 641.6h5v11h-5zM298.5 641.6h5v11h-5zM343.2 663.6h5v11h-5zM169.5 674.5h5v11h-5zM293.6 674.5h5v11h-5zM457.3 674.5h5v11h-5zM179.5 685.5h5v11h-5zM263.8 696.5h5v11h-5zM487.1 696.5h5v11h-5zM293.6 707.4h5v11h-5zM174.5 729.3h5v11h-5zM258.8 729.3h5v11h-5zM164.6 740.3h5v11h-5zM402.7 740.3h5v11h-5zM442.4 740.3h5v11h-5zM234 751.3h5v11h-5zM164.6 762.2h5v11h-5zM134.8 773.2h5v11h-5zM164.6 773.2h5v11h-5zM303.5 773.2h5v11h-5zM333.3 784.2h5v11h-5zM417.6 784.2h5v11h-5zM189.4 795.1h5v11h-5zM139.8 817h5v11h-5zM333.3 817h5v11h-5zM472.2 817h5v11h-5zM293.6 828h5v11h-5zM174.5 839h5v11h-5zM189.4 839h5v11h-5zM273.7 839h5v11h-5zM472.2 839h5v11h-5zM482.1 839h5v11h-5zM144.7 849.9h5v11h-5zM382.9 849.9h5v11h-5zM447.4 849.9h5v11h-5zM189.4 860.9h5v11h-5zM328.3 860.9h5v11h-5zM134.8 871.9h5v11h-5zM139.8 871.9h5v11h-5zM338.2 871.9h5v11h-5zM224.1 882.8h5v11h-5zM328.3 882.8h5v11h-5zM273.7 904.8h5v11h-5zM164.6 915.7h5v11h-5zM169.5 915.7h5v11h-5zM174.5 915.7h5v11h-5zM263.8 915.7h5v11h-5zM273.7 915.7h5v11h-5zM134.8 926.7h5v11h-5zM139.8 926.7h5v11h-5zM174.5 937.6h5v11h-5zM229.1 937.6h5v11h-5zM234 948.6h5v11h-5zM293.6 948.6h5v11h-5zM144.7 959.6h5v11h-5zM253.9 959.6h5v11h-5zM139.8 970.5h5v11h-5zM169.5 970.5h5v11h-5zM194.3 970.5h5v11h-5zM263.8 970.5h5v11h-5zM323.3 970.5h5v11h-5zM189.4 981.5h5v11h-5zM234 981.5h5v11h-5zM392.8 981.5h5v11h-5zM154.6 992.5h5v11h-5zM298.5 992.5h5v11h-5zM387.8 992.5h5v11h-5zM199.3 1003.4h5v11h-5zM224.1 1003.4h5v11h-5zM248.9 1003.4h5v11h-5zM377.9 1003.4h5v11h-5zM149.7 1014.4h5v11h-5zM154.6 1014.4h5v11h-5zM194.3 1014.4h5v11h-5zM199.3 1014.4h5v11h-5zM224.1 1014.4h5v11h-5zM268.8 1014.4h5v11h-5zM303.5 1014.4h5v11h-5zM224.1 1025.3h5v11h-5zM184.4 1036.3h5v11h-5zM204.3 1036.3h5v11h-5zM263.8 1036.3h5v11h-5zM144.7 1047.3h5v11h-5zM209.2 1047.3h5v11h-5zM303.5 1047.3h5v11h-5zM392.8 1047.3h5v11h-5zM164.6 1069.2h5v11h-5zM184.4 1069.2h5v11h-5zM209.2 1069.2h5v11h-5zM214.2 1080.2h5v11h-5zM278.7 1080.2h5v11h-5zM139.8 1091.1h5v11h-5zM204.3 1091.1h5v11h-5zM234 1091.1h5v11h-5zM273.7 1091.1h5v11h-5zM224.1 1102.1h5v11h-5zM253.9 1102.1h5v11h-5zM338.2 1102.1h5v11h-5zM199.3 1113.1h5v11h-5zM244 1113.1h5v11h-5zM184.4 1124h5v11h-5zM288.6 1124h5v11h-5zM382.9 1124h5v11h-5zM248.9 1135h5v11h-5zM244 1156.9h5v11h-5zM303.5 1156.9h5v11h-5zM194.3 1167.9h5v11h-5zM239 1167.9h5v11h-5zM278.7 1167.9h5v11h-5zM308.5 1167.9h5v11h-5zM239 1178.8h5v11h-5zM313.4 1178.8h5v11h-5zM333.3 1178.8h5v11h-5z" fill="#fceaea"/>
<path d="M377.9 532h5v11h-5zM397.8 543h5v11h-5zM219.1 553.9h5v11h-5zM492 564.9h5v11h-5zM392.8 586.8h5v11h-5zM333.3 608.7h5v11h-5zM482.1 608.7h5v11h-5zM139.8 630.7h5v11h-5zM467.2 641.6h5v11h-5zM387.8 652.6h5v11h-5zM482.1 663.6h5v11h-5zM154.6 674.5h5v11h-5zM214.2 674.5h5v11h-5zM482.1 674.5h5v11h-5zM377.9 685.5h5v11h-5zM477.2 685.5h5v11h-5zM333.3 707.4h5v11h-5zM442.4 718.4h5v11h-5zM477.2 718.4h5v11h-5zM392.8 729.3h5v11h-5zM492 729.3h5v11h-5zM457.3 740.3h5v11h-5zM457.3 751.3h5v11h-5zM134.8 762.2h5v11h-5zM387.8 762.2h5v11h-5zM462.3 762.2h5v11h-5zM492 784.2h5v11h-5zM467.2 795.1h5v11h-5zM387.8 806.1h5v11h-5zM402.7 806.1h5v11h-5zM462.3 806.1h5v11h-5zM492 806.1h5v11h-5zM412.7 828h5v11h-5zM487.1 849.9h5v11h-5zM169.5 871.9h5v11h-5zM219.1 871.9h5v11h-5zM149.7 882.8h5v11h-5zM159.6 882.8h5v11h-5zM154.6 893.8h5v11h-5zM209.2 893.8h5v11h-5zM343.2 893.8h5v11h-5zM303.5 904.8h5v11h-5zM328.3 904.8h5v11h-5zM159.6 915.7h5v11h-5zM209.2 915.7h5v11h-5zM209.2 926.7h5v11h-5zM219.1 926.7h5v11h-5zM184.4 948.6h5v11h-5zM219.1 948.6h5v11h-5zM298.5 948.6h5v11h-5zM278.7 959.6h5v11h-5zM159.6 970.5h5v11h-5zM189.4 970.5h5v11h-5zM268.8 981.5h5v11h-5zM199.3 992.5h5v11h-5zM253.9 1025.3h5v11h-5zM174.5 1036.3h5v11h-5zM368 1036.3h5v11h-5zM219.1 1047.3h5v11h-5zM293.6 1047.3h5v11h-5zM209.2 1058.2h5v11h-5zM303.5 1058.2h5v11h-5zM328.3 1058.2h5v11h-5zM194.3 1069.2h5v11h-5zM229.1 1069.2h5v11h-5zM248.9 1069.2h5v11h-5zM268.8 1091.1h5v11h-5zM303.5 1091.1h5v11h-5zM323.3 1091.1h5v11h-5zM134.8 1102.1h5v11h-5zM288.6 1102.1h5v11h-5zM373 1113.1h5v11h-5zM338.2 1124h5v11h-5zM199.3 1135h5v11h-5zM308.5 1135h5v11h-5zM204.3 1145.9h5v11h-5zM169.5 1167.9h5v11h-5z" fill="#fcd2d2"/>
<path d="M392.8 532h5v11h-5zM447.4 575.9h5v11h-5zM412.7 586.8h5v11h-5zM477.2 597.8h5v11h-5zM432.5 619.7h5v11h-5zM422.6 630.7h5v11h-5zM452.3 641.6h5v11h-5zM492 641.6h5v11h-5zM382.9 652.6h5v11h-5zM412.7 652.6h5v11h-5zM447.4 652.6h5v11h-5zM487.1 652.6h5v11h-5zM477.2 663.6h5v11h-5zM477.2 674.5h5v11h-5zM482.1 685.5h5v11h-5zM397.8 707.4h5v11h-5zM457.3 707.4h5v11h-5zM467.2 707.4h5v11h-5zM467.2 729.3h5v11h-5zM159.6 740.3h5v11h-5zM447.4 751.3h5v11h-5zM412.7 762.2h5v11h-5zM447.4 762.2h5v11h-5zM487.1 762.2h5v11h-5zM407.7 773.2h5v11h-5zM442.4 795.1h5v11h-5zM214.2 806.1h5v11h-5zM452.3 828h5v11h-5zM392.8 839h5v11h-5zM397.8 839h5v11h-5zM437.5 839h5v11h-5zM298.5 860.9h5v11h-5zM308.5 860.9h5v11h-5zM263.8 871.9h5v11h-5zM194.3 893.8h5v11h-5zM338.2 893.8h5v11h-5zM368 915.7h5v11h-5zM358.1 926.7h5v11h-5zM219.1 937.6h5v11h-5zM358.1 937.6h5v11h-5zM363 937.6h5v11h-5zM348.2 948.6h5v11h-5zM373 948.6h5v11h-5zM358.1 959.6h5v11h-5zM373 981.5h5v11h-5zM348.2 992.5h5v11h-5zM373 992.5h5v11h-5zM204.3 1003.4h5v11h-5zM353.1 1003.4h5v11h-5zM358.1 1014.4h5v11h-5zM169.5 1025.3h5v11h-5zM229.1 1025.3h5v11h-5zM373 1025.3h5v11h-5zM169.5 1091.1h5v11h-5zM368 1091.1h5v11h-5zM194.3 1102.1h5v11h-5zM368 1102.1h5v11h-5zM298.5 1124h5v11h-5zM358.1 1124h5v11h-5zM333.3 1156.9h5v11h-5zM288.6 1167.9h5v11h-5zM348.2 1167.9h5v11h-5zM358.1 1167.9h5v11h-5z" fill="#f6baba"/>
<path d="M397.8 532h5v11h-5zM417.6 532h5v11h-5zM397.8 564.9h5v11h-5zM397.8 575.9h5v11h-5zM432.5 597.8h5v11h-5zM412.7 608.7h5v11h-5zM492 608.7h5v11h-5zM412.7 630.7h5v11h-5zM442.4 630.7h5v11h-5zM402.7 641.6h5v11h-5zM422.6 641.6h5v11h-5zM422.6 652.6h5v11h-5zM397.8 696.5h5v11h-5zM407.7 707.4h5v11h-5zM437.5 707.4h5v11h-5zM397.8 718.4h5v11h-5zM412.7 718.4h5v11h-5zM412.7 729.3h5v11h-5zM477.2 740.3h5v11h-5zM407.7 762.2h5v11h-5zM427.5 762.2h5v11h-5zM452.3 762.2h5v11h-5zM437.5 773.2h5v11h-5zM447.4 773.2h5v11h-5zM427.5 795.1h5v11h-5zM387.8 817h5v11h-5zM402.7 817h5v11h-5zM442.4 817h5v11h-5zM174.5 828h5v11h-5zM422.6 828h5v11h-5zM432.5 828h5v11h-5zM437.5 828h5v11h-5zM422.6 849.9h5v11h-5zM432.5 849.9h5v11h-5zM353.1 860.9h5v11h-5zM348.2 871.9h5v11h-5zM373 882.8h5v11h-5zM224.1 915.7h5v11h-5zM368 948.6h5v11h-5zM358.1 970.5h5v11h-5zM358.1 981.5h5v11h-5zM368 981.5h5v11h-5zM348.2 1003.4h5v11h-5zM358.1 1003.4h5v11h-5zM363 1014.4h5v11h-5zM358.1 1036.3h5v11h-5zM313.4 1047.3h5v11h-5zM144.7 1069.2h5v11h-5zM358.1 1069.2h5v11h-5zM348.2 1080.2h5v11h-5zM174.5 1091.1h5v11h-5zM348.2 1091.1h5v11h-5zM353.1 1124h5v11h-5zM189.4 1135h5v11h-5zM358.1 1156.9h5v11h-5zM263.8 1167.9h5v11h-5zM204.3 1178.8h5v11h-5zM358.1 1178.8h5v11h-5zM363 1178.8h5v11h-5z" fill="#f09c9c"/>
<path d="M402.7 532h5v11h-5zM407.7 532h5v11h-5zM412.7 543h5v11h-5zM437.5 553.9h5v11h-5zM353.1 575.9h5v11h-5zM437.5 575.9h5v11h-5zM467.2 597.8h5v11h-5zM407.7 608.7h5v11h-5zM452.3 608.7h5v11h-5zM467.2 608.7h5v11h-5zM422.6 619.7h5v11h-5zM437.5 619.7h5v11h-5zM382.9 630.7h5v11h-5zM407.7 641.6h5v11h-5zM412.7 663.6h5v11h-5zM442.4 685.5h5v11h-5zM407.7 696.5h5v11h-5zM402.7 718.4h5v11h-5zM452.3 740.3h5v11h-5zM472.2 762.2h5v11h-5zM432.5 773.2h5v11h-5zM427.5 784.2h5v11h-5zM382.9 806.1h5v11h-5zM407.7 806.1h5v11h-5zM407.7 817h5v11h-5zM397.8 828h5v11h-5zM467.2 828h5v11h-5zM412.7 839h5v11h-5zM442.4 839h5v11h-5zM368 860.9h5v11h-5zM353.1 893.8h5v11h-5zM373 904.8h5v11h-5zM244 915.7h5v11h-5zM363 915.7h5v11h-5zM373 915.7h5v11h-5zM348.2 926.7h5v11h-5zM149.7 937.6h5v11h-5zM358.1 948.6h5v11h-5zM189.4 959.6h5v11h-5zM363 970.5h5v11h-5zM204.3 992.5h5v11h-5zM328.3 992.5h5v11h-5zM353.1 992.5h5v11h-5zM353.1 1025.3h5v11h-5zM363 1025.3h5v11h-5zM189.4 1036.3h5v11h-5zM363 1047.3h5v11h-5zM353.1 1058.2h5v11h-5zM368 1058.2h5v11h-5zM368 1069.2h5v11h-5zM368 1080.2h5v11h-5zM373 1080.2h5v11h-5zM348.2 1102.1h5v11h-5zM363 1145.9h5v11h-5zM353.1 1156.9h5v11h-5zM363 1167.9h5v11h-5zM368 1167.9h5v11h-5zM348.2 1178.8h5v11h-5z" fill="#f0a2a2"/>
<path d="M412.7 532h5v11h-5zM427.5 564.9h5v11h-5zM437.5 564.9h5v11h-5zM397.8 751.3h5v11h-5zM397.8 806.1h5v11h-5z" fill="#ea6060"/>
<path d="M422.6 532h5v11h-5z" fill="#ea5454"/>
<path d="M427.5 532h5v11h-5zM387.8 553.9h5v11h-5zM482.1 575.9h5v11h-5zM417.6 586.8h5v11h-5zM452.3 597.8h5v11h-5zM492 597.8h5v11h-5zM487.1 608.7h5v11h-5zM204.3 619.7h5v11h-5zM338.2 619.7h5v11h-5zM397.8 619.7h5v11h-5zM402.7 630.7h5v11h-5zM387.8 641.6h5v11h-5zM472.2 652.6h5v11h-5zM174.5 663.6h5v11h-5zM387.8 663.6h5v11h-5zM392.8 663.6h5v11h-5zM447.4 663.6h5v11h-5zM467.2 674.5h5v11h-5zM199.3 696.5h5v11h-5zM214.2 696.5h5v11h-5zM377.9 696.5h5v11h-5zM467.2 696.5h5v11h-5zM387.8 707.4h5v11h-5zM392.8 707.4h5v11h-5zM427.5 707.4h5v11h-5zM487.1 707.4h5v11h-5zM462.3 718.4h5v11h-5zM467.2 718.4h5v11h-5zM392.8 762.2h5v11h-5zM477.2 762.2h5v11h-5zM377.9 773.2h5v11h-5zM452.3 773.2h5v11h-5zM467.2 773.2h5v11h-5zM477.2 773.2h5v11h-5zM437.5 784.2h5v11h-5zM392.8 795.1h5v11h-5zM412.7 795.1h5v11h-5zM452.3 795.1h5v11h-5zM392.8 806.1h5v11h-5zM457.3 817h5v11h-5zM462.3 828h5v11h-5zM407.7 839h5v11h-5zM487.1 839h5v11h-5zM387.8 849.9h5v11h-5zM452.3 849.9h5v11h-5zM492 849.9h5v11h-5zM323.3 860.9h5v11h-5zM214.2 871.9h5v11h-5zM253.9 871.9h5v11h-5zM278.7 871.9h5v11h-5zM343.2 871.9h5v11h-5zM353.1 882.8h5v11h-5zM159.6 893.8h5v11h-5zM189.4 893.8h5v11h-5zM199.3 904.8h5v11h-5zM248.9 904.8h5v11h-5zM338.2 904.8h5v11h-5zM358.1 904.8h5v11h-5zM392.8 904.8h5v11h-5zM134.8 915.7h5v11h-5zM199.3 915.7h5v11h-5zM219.1 915.7h5v11h-5zM303.5 915.7h5v11h-5zM204.3 926.7h5v11h-5zM154.6 948.6h5v11h-5zM239 948.6h5v11h-5zM303.5 948.6h5v11h-5zM313.4 948.6h5v11h-5zM288.6 959.6h5v11h-5zM134.8 970.5h5v11h-5zM298.5 970.5h5v11h-5zM333.3 970.5h5v11h-5zM209.2 981.5h5v11h-5zM308.5 981.5h5v11h-5zM288.6 992.5h5v11h-5zM308.5 992.5h5v11h-5zM214.2 1003.4h5v11h-5zM338.2 1003.4h5v11h-5zM244 1014.4h5v11h-5zM263.8 1014.4h5v11h-5zM209.2 1025.3h5v11h-5zM239 1025.3h5v11h-5zM323.3 1025.3h5v11h-5zM229.1 1036.3h5v11h-5zM318.4 1036.3h5v11h-5zM343.2 1036.3h5v11h-5zM308.5 1047.3h5v11h-5zM224.1 1058.2h5v11h-5zM363 1058.2h5v11h-5zM328.3 1069.2h5v11h-5zM343.2 1069.2h5v11h-5zM189.4 1080.2h5v11h-5zM263.8 1080.2h5v11h-5zM159.6 1091.1h5v11h-5zM278.7 1091.1h5v11h-5zM298.5 1091.1h5v11h-5zM402.7 1091.1h5v11h-5zM318.4 1102.1h5v11h-5zM492 1113.1h5v11h-5zM209.2 1124h5v11h-5zM174.5 1135h5v11h-5zM209.2 1135h5v11h-5zM263.8 1135h5v11h-5zM283.6 1135h5v11h-5zM298.5 1135h5v11h-5zM303.5 1135h5v11h-5zM154.6 1145.9h5v11h-5zM278.7 1145.9h5v11h-5zM209.2 1156.9h5v11h-5zM368 1156.9h5v11h-5zM258.8 1167.9h5v11h-5zM373 1167.9h5v11h-5zM169.5 1178.8h5v11h-5z" fill="#f6cccc"/>
<path d="M432.5 532h5v11h-5zM432.5 564.9h5v11h-5zM402.7 575.9h5v11h-5zM422.6 575.9h5v11h-5zM442.4 575.9h5v11h-5zM154.6 586.8h5v11h-5zM387.8 608.7h5v11h-5zM407.7 619.7h5v11h-5zM338.2 630.7h5v11h-5zM417.6 652.6h5v11h-5zM402.7 663.6h5v11h-5zM442.4 663.6h5v11h-5zM407.7 674.5h5v11h-5zM427.5 674.5h5v11h-5zM452.3 674.5h5v11h-5zM407.7 685.5h5v11h-5zM427.5 685.5h5v11h-5zM338.2 696.5h5v11h-5zM402.7 696.5h5v11h-5zM472.2 707.4h5v11h-5zM477.2 707.4h5v11h-5zM427.5 718.4h5v11h-5zM397.8 729.3h5v11h-5zM407.7 729.3h5v11h-5zM417.6 729.3h5v11h-5zM422.6 729.3h5v11h-5zM432.5 729.3h5v11h-5zM457.3 729.3h5v11h-5zM462.3 729.3h5v11h-5zM382.9 762.2h5v11h-5zM432.5 762.2h5v11h-5zM422.6 773.2h5v11h-5zM487.1 773.2h5v11h-5zM412.7 784.2h5v11h-5zM477.2 784.2h5v11h-5zM377.9 795.1h5v11h-5zM417.6 795.1h5v11h-5zM422.6 795.1h5v11h-5zM422.6 806.1h5v11h-5zM432.5 806.1h5v11h-5zM467.2 817h5v11h-5zM382.9 828h5v11h-5zM412.7 849.9h5v11h-5zM442.4 849.9h5v11h-5zM472.2 849.9h5v11h-5zM358.1 860.9h5v11h-5zM363 860.9h5v11h-5zM373 860.9h5v11h-5zM358.1 882.8h5v11h-5zM368 893.8h5v11h-5zM353.1 904.8h5v11h-5zM363 904.8h5v11h-5zM368 904.8h5v11h-5zM348.2 915.7h5v11h-5zM353.1 915.7h5v11h-5zM229.1 926.7h5v11h-5zM273.7 937.6h5v11h-5zM164.6 948.6h5v11h-5zM283.6 959.6h5v11h-5zM373 959.6h5v11h-5zM174.5 981.5h5v11h-5zM293.6 1003.4h5v11h-5zM373 1003.4h5v11h-5zM278.7 1014.4h5v11h-5zM348.2 1014.4h5v11h-5zM348.2 1047.3h5v11h-5zM368 1047.3h5v11h-5zM348.2 1069.2h5v11h-5zM363 1069.2h5v11h-5zM139.8 1080.2h5v11h-5zM353.1 1080.2h5v11h-5zM358.1 1091.1h5v11h-5zM363 1102.1h5v11h-5zM348.2 1113.1h5v11h-5zM358.1 1113.1h5v11h-5zM368 1113.1h5v11h-5zM348.2 1145.9h5v11h-5zM353.1 1145.9h5v11h-5zM358.1 1145.9h5v11h-5zM318.4 1156.9h5v11h-5zM373 1178.8h5v11h-5z" fill="#f0a8a8"/>
<path d="M437.5 532h5v11h-5zM422.6 553.9h5v11h-5zM432.5 641.6h5v11h-5zM472.2 751.3h5v11h-5z" fill="#f07878"/>
<path d="M442.4 532h5v11h-5zM427.5 608.7h5v11h-5zM442.4 608.7h5v11h-5zM427.5 630.7h5v11h-5zM422.6 696.5h5v11h-5zM437.5 762.2h5v11h-5zM174.5 893.8h5v11h-5z" fill="#ea6c6c"/>
<path d="M447.4 532h5v11h-5zM184.4 608.7h5v11h-5zM397.8 630.7h5v11h-5zM437.5 630.7h5v11h-5zM442.4 641.6h5v11h-5zM487.1 641.6h5v11h-5zM442.4 652.6h5v11h-5zM457.3 652.6h5v11h-5zM462.3 652.6h5v11h-5zM377.9 663.6h5v11h-5zM467.2 663.6h5v11h-5zM487.1 663.6h5v11h-5zM422.6 685.5h5v11h-5zM472.2 685.5h5v11h-5zM487.1 685.5h5v11h-5zM244 696.5h5v11h-5zM417.6 696.5h5v11h-5zM382.9 707.4h5v11h-5zM457.3 718.4h5v11h-5zM273.7 729.3h5v11h-5zM447.4 729.3h5v11h-5zM258.8 751.3h5v11h-5zM387.8 751.3h5v11h-5zM392.8 751.3h5v11h-5zM432.5 751.3h5v11h-5zM417.6 773.2h5v11h-5zM457.3 773.2h5v11h-5zM472.2 773.2h5v11h-5zM402.7 795.1h5v11h-5zM482.1 817h5v11h-5zM477.2 839h5v11h-5zM368 871.9h5v11h-5zM373 871.9h5v11h-5zM268.8 882.8h5v11h-5zM293.6 882.8h5v11h-5zM363 882.8h5v11h-5zM348.2 904.8h5v11h-5zM169.5 937.6h5v11h-5zM278.7 981.5h5v11h-5zM263.8 992.5h5v11h-5zM343.2 992.5h5v11h-5zM363 992.5h5v11h-5zM363 1036.3h5v11h-5zM348.2 1058.2h5v11h-5zM363 1080.2h5v11h-5zM313.4 1091.1h5v11h-5zM363 1113.1h5v11h-5zM194.3 1124h5v11h-5zM348.2 1124h5v11h-5zM219.1 1145.9h5v11h-5zM313.4 1145.9h5v11h-5zM318.4 1167.9h5v11h-5zM179.5 1178.8h5v11h-5zM353.1 1178.8h5v11h-5z" fill="#f6aeae"/>
<path d="M462.3 532h5v11h-5zM154.6 543h5v11h-5zM258.8 543h5v11h-5zM457.3 543h5v11h-5zM487.1 553.9h5v11h-5zM492 553.9h5v11h-5zM348.2 564.9h5v11h-5zM472.2 564.9h5v11h-5zM487.1 564.9h5v11h-5zM358.1 575.9h5v11h-5zM328.3 586.8h5v11h-5zM482.1 586.8h5v11h-5zM457.3 597.8h5v11h-5zM482.1 597.8h5v11h-5zM199.3 608.7h5v11h-5zM293.6 608.7h5v11h-5zM472.2 608.7h5v11h-5zM477.2 608.7h5v11h-5zM392.8 619.7h5v11h-5zM462.3 619.7h5v11h-5zM482.1 619.7h5v11h-5zM407.7 630.7h5v11h-5zM492 630.7h5v11h-5zM134.8 641.6h5v11h-5zM392.8 641.6h5v11h-5zM462.3 641.6h5v11h-5zM482.1 641.6h5v11h-5zM467.2 652.6h5v11h-5zM477.2 652.6h5v11h-5zM462.3 663.6h5v11h-5zM377.9 674.5h5v11h-5zM382.9 674.5h5v11h-5zM139.8 685.5h5v11h-5zM447.4 685.5h5v11h-5zM467.2 685.5h5v11h-5zM382.9 696.5h5v11h-5zM387.8 696.5h5v11h-5zM442.4 696.5h5v11h-5zM457.3 696.5h5v11h-5zM472.2 696.5h5v11h-5zM199.3 707.4h5v11h-5zM253.9 707.4h5v11h-5zM402.7 707.4h5v11h-5zM447.4 707.4h5v11h-5zM382.9 718.4h5v11h-5zM492 718.4h5v11h-5zM303.5 729.3h5v11h-5zM387.8 729.3h5v11h-5zM288.6 740.3h5v11h-5zM417.6 740.3h5v11h-5zM452.3 751.3h5v11h-5zM492 762.2h5v11h-5zM169.5 773.2h5v11h-5zM392.8 773.2h5v11h-5zM382.9 784.2h5v11h-5zM387.8 784.2h5v11h-5zM447.4 784.2h5v11h-5zM467.2 784.2h5v11h-5zM338.2 795.1h5v11h-5zM382.9 795.1h5v11h-5zM149.7 806.1h5v11h-5zM159.6 806.1h5v11h-5zM234 806.1h5v11h-5zM298.5 806.1h5v11h-5zM323.3 806.1h5v11h-5zM427.5 806.1h5v11h-5zM447.4 806.1h5v11h-5zM134.8 817h5v11h-5zM244 817h5v11h-5zM437.5 817h5v11h-5zM452.3 839h5v11h-5zM258.8 849.9h5v11h-5zM477.2 849.9h5v11h-5zM293.6 860.9h5v11h-5zM343.2 860.9h5v11h-5zM179.5 871.9h5v11h-5zM244 871.9h5v11h-5zM164.6 882.8h5v11h-5zM303.5 882.8h5v11h-5zM239 893.8h5v11h-5zM224.1 904.8h5v11h-5zM288.6 904.8h5v11h-5zM298.5 904.8h5v11h-5zM139.8 915.7h5v11h-5zM214.2 926.7h5v11h-5zM244 926.7h5v11h-5zM134.8 937.6h5v11h-5zM189.4 937.6h5v11h-5zM214.2 937.6h5v11h-5zM268.8 937.6h5v11h-5zM293.6 937.6h5v11h-5zM224.1 959.6h5v11h-5zM239 959.6h5v11h-5zM244 959.6h5v11h-5zM323.3 959.6h5v11h-5zM328.3 959.6h5v11h-5zM229.1 970.5h5v11h-5zM318.4 970.5h5v11h-5zM343.2 970.5h5v11h-5zM214.2 981.5h5v11h-5zM229.1 981.5h5v11h-5zM253.9 981.5h5v11h-5zM318.4 981.5h5v11h-5zM328.3 1003.4h5v11h-5zM368 1003.4h5v11h-5zM134.8 1014.4h5v11h-5zM288.6 1014.4h5v11h-5zM313.4 1014.4h5v11h-5zM144.7 1025.3h5v11h-5zM194.3 1025.3h5v11h-5zM214.2 1025.3h5v11h-5zM224.1 1036.3h5v11h-5zM268.8 1036.3h5v11h-5zM298.5 1036.3h5v11h-5zM328.3 1036.3h5v11h-5zM139.8 1047.3h5v11h-5zM154.6 1047.3h5v11h-5zM258.8 1047.3h5v11h-5zM144.7 1058.2h5v11h-5zM169.5 1058.2h5v11h-5zM298.5 1058.2h5v11h-5zM303.5 1069.2h5v11h-5zM318.4 1069.2h5v11h-5zM169.5 1080.2h5v11h-5zM194.3 1080.2h5v11h-5zM199.3 1080.2h5v11h-5zM209.2 1080.2h5v11h-5zM268.8 1080.2h5v11h-5zM313.4 1080.2h5v11h-5zM149.7 1091.1h5v11h-5zM189.4 1091.1h5v11h-5zM263.8 1091.1h5v11h-5zM298.5 1102.1h5v11h-5zM328.3 1113.1h5v11h-5zM179.5 1124h5v11h-5zM348.2 1135h5v11h-5zM174.5 1145.9h5v11h-5zM194.3 1145.9h5v11h-5zM244 1145.9h5v11h-5zM328.3 1145.9h5v11h-5zM253.9 1156.9h5v11h-5zM283.6 1156.9h5v11h-5zM382.9 1167.9h5v11h-5zM139.8 1178.8h5v11h-5zM154.6 1178.8h5v11h-5z" fill="#fcd8d8"/>
<path d="M283.6 543h5v11h-5zM288.6 543h5v11h-5zM363 543h5v11h-5zM377.9 543h5v11h-5zM229.1 553.9h5v11h-5zM258.8 564.9h5v11h-5zM377.9 564.9h5v11h-5zM447.4 564.9h5v11h-5zM482.1 564.9h5v11h-5zM387.8 586.8h5v11h-5zM397.8 586.8h5v11h-5zM288.6 597.8h5v11h-5zM318.4 597.8h5v11h-5zM422.6 608.7h5v11h-5zM298.5 619.7h5v11h-5zM328.3 619.7h5v11h-5zM402.7 619.7h5v11h-5zM472.2 619.7h5v11h-5zM452.3 630.7h5v11h-5zM457.3 630.7h5v11h-5zM224.1 641.6h5v11h-5zM447.4 641.6h5v11h-5zM214.2 652.6h5v11h-5zM253.9 652.6h5v11h-5zM492 663.6h5v11h-5zM492 674.5h5v11h-5zM164.6 685.5h5v11h-5zM159.6 696.5h5v11h-5zM482.1 696.5h5v11h-5zM268.8 707.4h5v11h-5zM313.4 718.4h5v11h-5zM472.2 718.4h5v11h-5zM487.1 718.4h5v11h-5zM199.3 729.3h5v11h-5zM382.9 740.3h5v11h-5zM462.3 740.3h5v11h-5zM377.9 751.3h5v11h-5zM199.3 762.2h5v11h-5zM214.2 773.2h5v11h-5zM219.1 773.2h5v11h-5zM452.3 784.2h5v11h-5zM204.3 795.1h5v11h-5zM447.4 795.1h5v11h-5zM457.3 795.1h5v11h-5zM482.1 795.1h5v11h-5zM482.1 806.1h5v11h-5zM482.1 828h5v11h-5zM492 828h5v11h-5zM239 839h5v11h-5zM244 839h5v11h-5zM457.3 839h5v11h-5zM169.5 860.9h5v11h-5zM263.8 860.9h5v11h-5zM283.6 893.8h5v11h-5zM293.6 893.8h5v11h-5zM144.7 904.8h5v11h-5zM149.7 904.8h5v11h-5zM244 904.8h5v11h-5zM258.8 904.8h5v11h-5zM318.4 904.8h5v11h-5zM144.7 915.7h5v11h-5zM154.6 915.7h5v11h-5zM293.6 915.7h5v11h-5zM169.5 926.7h5v11h-5zM174.5 926.7h5v11h-5zM224.1 926.7h5v11h-5zM253.9 926.7h5v11h-5zM288.6 926.7h5v11h-5zM338.2 926.7h5v11h-5zM229.1 948.6h5v11h-5zM179.5 959.6h5v11h-5zM248.9 959.6h5v11h-5zM308.5 959.6h5v11h-5zM144.7 970.5h5v11h-5zM179.5 981.5h5v11h-5zM248.9 981.5h5v11h-5zM174.5 992.5h5v11h-5zM283.6 992.5h5v11h-5zM253.9 1003.4h5v11h-5zM258.8 1003.4h5v11h-5zM184.4 1014.4h5v11h-5zM293.6 1014.4h5v11h-5zM204.3 1025.3h5v11h-5zM219.1 1025.3h5v11h-5zM308.5 1036.3h5v11h-5zM348.2 1036.3h5v11h-5zM149.7 1058.2h5v11h-5zM258.8 1058.2h5v11h-5zM263.8 1069.2h5v11h-5zM258.8 1080.2h5v11h-5zM164.6 1091.1h5v11h-5zM248.9 1091.1h5v11h-5zM144.7 1102.1h5v11h-5zM159.6 1102.1h5v11h-5zM248.9 1102.1h5v11h-5zM268.8 1102.1h5v11h-5zM328.3 1102.1h5v11h-5zM174.5 1124h5v11h-5zM214.2 1124h5v11h-5zM229.1 1124h5v11h-5zM273.7 1135h5v11h-5zM154.6 1156.9h5v11h-5zM184.4 1156.9h5v11h-5zM199.3 1156.9h5v11h-5zM273.7 1156.9h5v11h-5zM214.2 1167.9h5v11h-5zM313.4 1167.9h5v11h-5zM149.7 1178.8h5v11h-5z" fill="#fcdede"/>
<path d="M402.7 543h5v11h-5zM417.6 553.9h5v11h-5zM427.5 575.9h5v11h-5zM467.2 619.7h5v11h-5zM437.5 641.6h5v11h-5zM407.7 652.6h5v11h-5zM427.5 652.6h5v11h-5zM407.7 663.6h5v11h-5zM417.6 663.6h5v11h-5zM432.5 674.5h5v11h-5zM437.5 674.5h5v11h-5zM412.7 685.5h5v11h-5zM427.5 696.5h5v11h-5zM412.7 707.4h5v11h-5zM427.5 729.3h5v11h-5zM397.8 740.3h5v11h-5zM402.7 751.3h5v11h-5zM402.7 762.2h5v11h-5zM442.4 762.2h5v11h-5zM492 773.2h5v11h-5zM417.6 806.1h5v11h-5zM397.8 849.9h5v11h-5zM363 926.7h5v11h-5zM373 926.7h5v11h-5zM373 937.6h5v11h-5zM353.1 959.6h5v11h-5zM353.1 970.5h5v11h-5zM373 1069.2h5v11h-5zM353.1 1102.1h5v11h-5zM353.1 1135h5v11h-5zM358.1 1135h5v11h-5zM373 1156.9h5v11h-5zM353.1 1167.9h5v11h-5zM368 1178.8h5v11h-5z" fill="#f09090"/>
<path d="M407.7 543h5v11h-5zM432.5 543h5v11h-5zM437.5 543h5v11h-5zM407.7 553.9h5v11h-5zM432.5 586.8h5v11h-5zM407.7 597.8h5v11h-5zM244 608.7h5v11h-5zM427.5 619.7h5v11h-5zM397.8 663.6h5v11h-5zM402.7 674.5h5v11h-5zM397.8 685.5h5v11h-5zM407.7 740.3h5v11h-5zM402.7 773.2h5v11h-5zM397.8 784.2h5v11h-5zM432.5 795.1h5v11h-5zM437.5 806.1h5v11h-5zM318.4 926.7h5v11h-5zM353.1 937.6h5v11h-5zM363 1003.4h5v11h-5zM358.1 1058.2h5v11h-5zM353.1 1069.2h5v11h-5zM363 1124h5v11h-5z" fill="#f08a8a"/>
<path d="M417.6 543h5v11h-5zM422.6 543h5v11h-5zM442.4 543h5v11h-5zM422.6 564.9h5v11h-5zM432.5 575.9h5v11h-5zM422.6 586.8h5v11h-5zM412.7 597.8h5v11h-5zM392.8 608.7h5v11h-5zM437.5 608.7h5v11h-5zM417.6 619.7h5v11h-5zM432.5 630.7h5v11h-5zM412.7 641.6h5v11h-5zM432.5 663.6h5v11h-5zM437.5 663.6h5v11h-5zM397.8 674.5h5v11h-5zM412.7 674.5h5v11h-5zM432.5 707.4h5v11h-5zM402.7 729.3h5v11h-5zM427.5 751.3h5v11h-5zM442.4 751.3h5v11h-5zM412.7 773.2h5v11h-5zM422.6 784.2h5v11h-5zM412.7 806.1h5v11h-5zM442.4 828h5v11h-5zM432.5 839h5v11h-5zM363 893.8h5v11h-5zM363 959.6h5v11h-5zM348.2 981.5h5v11h-5zM368 1124h5v11h-5zM363 1135h5v11h-5z" fill="#f08484"/>
<path d="M427.5 543h5v11h-5zM382.9 564.9h5v11h-5zM283.6 586.8h5v11h-5zM184.4 597.8h5v11h-5zM442.4 619.7h5v11h-5zM387.8 630.7h5v11h-5zM482.1 630.7h5v11h-5zM382.9 641.6h5v11h-5zM457.3 641.6h5v11h-5zM472.2 641.6h5v11h-5zM194.3 652.6h5v11h-5zM204.3 652.6h5v11h-5zM377.9 652.6h5v11h-5zM164.6 663.6h5v11h-5zM442.4 674.5h5v11h-5zM447.4 674.5h5v11h-5zM447.4 696.5h5v11h-5zM482.1 707.4h5v11h-5zM452.3 729.3h5v11h-5zM472.2 729.3h5v11h-5zM477.2 729.3h5v11h-5zM427.5 740.3h5v11h-5zM472.2 740.3h5v11h-5zM487.1 740.3h5v11h-5zM467.2 762.2h5v11h-5zM482.1 762.2h5v11h-5zM268.8 773.2h5v11h-5zM437.5 795.1h5v11h-5zM457.3 806.1h5v11h-5zM447.4 817h5v11h-5zM492 817h5v11h-5zM487.1 828h5v11h-5zM377.9 839h5v11h-5zM387.8 839h5v11h-5zM392.8 849.9h5v11h-5zM333.3 860.9h5v11h-5zM303.5 871.9h5v11h-5zM154.6 882.8h5v11h-5zM214.2 893.8h5v11h-5zM358.1 893.8h5v11h-5zM333.3 904.8h5v11h-5zM194.3 915.7h5v11h-5zM323.3 937.6h5v11h-5zM154.6 959.6h5v11h-5zM154.6 970.5h5v11h-5zM253.9 970.5h5v11h-5zM373 970.5h5v11h-5zM313.4 992.5h5v11h-5zM273.7 1025.3h5v11h-5zM214.2 1036.3h5v11h-5zM323.3 1036.3h5v11h-5zM174.5 1047.3h5v11h-5zM169.5 1102.1h5v11h-5zM358.1 1102.1h5v11h-5zM253.9 1113.1h5v11h-5zM318.4 1135h5v11h-5zM184.4 1145.9h5v11h-5zM373 1145.9h5v11h-5zM462.3 1167.9h5v11h-5zM199.3 1178.8h5v11h-5zM338.2 1178.8h5v11h-5z" fill="#f6c6c6"/>
<path d="M447.4 543h5v11h-5zM293.6 553.9h5v11h-5zM482.1 553.9h5v11h-5zM477.2 564.9h5v11h-5zM382.9 597.8h5v11h-5zM387.8 597.8h5v11h-5zM472.2 597.8h5v11h-5zM417.6 608.7h5v11h-5zM432.5 608.7h5v11h-5zM377.9 619.7h5v11h-5zM487.1 619.7h5v11h-5zM492 619.7h5v11h-5zM288.6 641.6h5v11h-5zM427.5 641.6h5v11h-5zM452.3 652.6h5v11h-5zM427.5 663.6h5v11h-5zM139.8 674.5h5v11h-5zM278.7 674.5h5v11h-5zM387.8 685.5h5v11h-5zM492 685.5h5v11h-5zM432.5 696.5h5v11h-5zM209.2 718.4h5v11h-5zM392.8 718.4h5v11h-5zM432.5 718.4h5v11h-5zM482.1 718.4h5v11h-5zM377.9 729.3h5v11h-5zM244 740.3h5v11h-5zM392.8 740.3h5v11h-5zM422.6 740.3h5v11h-5zM467.2 740.3h5v11h-5zM412.7 751.3h5v11h-5zM422.6 751.3h5v11h-5zM482.1 751.3h5v11h-5zM397.8 762.2h5v11h-5zM417.6 762.2h5v11h-5zM462.3 773.2h5v11h-5zM377.9 784.2h5v11h-5zM392.8 784.2h5v11h-5zM462.3 784.2h5v11h-5zM472.2 784.2h5v11h-5zM397.8 795.1h5v11h-5zM472.2 795.1h5v11h-5zM487.1 806.1h5v11h-5zM377.9 817h5v11h-5zM392.8 817h5v11h-5zM402.7 828h5v11h-5zM407.7 828h5v11h-5zM457.3 828h5v11h-5zM447.4 839h5v11h-5zM377.9 849.9h5v11h-5zM402.7 849.9h5v11h-5zM407.7 849.9h5v11h-5zM482.1 849.9h5v11h-5zM283.6 860.9h5v11h-5zM348.2 860.9h5v11h-5zM248.9 871.9h5v11h-5zM308.5 871.9h5v11h-5zM328.3 871.9h5v11h-5zM363 871.9h5v11h-5zM204.3 882.8h5v11h-5zM184.4 893.8h5v11h-5zM273.7 893.8h5v11h-5zM348.2 893.8h5v11h-5zM154.6 904.8h5v11h-5zM333.3 915.7h5v11h-5zM333.3 926.7h5v11h-5zM348.2 937.6h5v11h-5zM273.7 948.6h5v11h-5zM239 970.5h5v11h-5zM353.1 981.5h5v11h-5zM189.4 1003.4h5v11h-5zM244 1003.4h5v11h-5zM263.8 1003.4h5v11h-5zM159.6 1014.4h5v11h-5zM248.9 1014.4h5v11h-5zM373 1036.3h5v11h-5zM373 1047.3h5v11h-5zM169.5 1069.2h5v11h-5zM298.5 1080.2h5v11h-5zM358.1 1080.2h5v11h-5zM219.1 1091.1h5v11h-5zM253.9 1091.1h5v11h-5zM164.6 1102.1h5v11h-5zM224.1 1113.1h5v11h-5zM234 1124h5v11h-5zM144.7 1135h5v11h-5zM343.2 1135h5v11h-5zM248.9 1145.9h5v11h-5zM273.7 1145.9h5v11h-5zM283.6 1145.9h5v11h-5zM144.7 1156.9h5v11h-5zM179.5 1156.9h5v11h-5zM204.3 1156.9h5v11h-5zM338.2 1156.9h5v11h-5zM149.7 1167.9h5v11h-5zM144.7 1178.8h5v11h-5zM323.3 1178.8h5v11h-5z" fill="#f6c0c0"/>
<path d="M189.4 553.9h5v11h-5zM363 597.8h5v11h-5zM368 597.8h5v11h-5zM353.1 641.6h5v11h-5zM298.5 674.5h5v11h-5zM373 674.5h5v11h-5zM348.2 718.4h5v11h-5zM234 740.3h5v11h-5zM368 751.3h5v11h-5zM348.2 762.2h5v11h-5zM368 762.2h5v11h-5zM353.1 849.9h5v11h-5zM402.7 871.9h5v11h-5zM402.7 915.7h5v11h-5zM382.9 959.6h5v11h-5zM482.1 959.6h5v11h-5zM417.6 981.5h5v11h-5zM427.5 1003.4h5v11h-5zM407.7 1036.3h5v11h-5zM457.3 1069.2h5v11h-5zM437.5 1080.2h5v11h-5zM422.6 1091.1h5v11h-5zM482.1 1113.1h5v11h-5z" fill="#9696fc"/>
<path d="M392.8 553.9h5v11h-5zM437.5 597.8h5v11h-5zM462.3 597.8h5v11h-5zM487.1 597.8h5v11h-5zM382.9 608.7h5v11h-5zM447.4 608.7h5v11h-5zM412.7 619.7h5v11h-5zM417.6 630.7h5v11h-5zM447.4 630.7h5v11h-5zM417.6 641.6h5v11h-5zM402.7 652.6h5v11h-5zM437.5 652.6h5v11h-5zM452.3 663.6h5v11h-5zM387.8 674.5h5v11h-5zM472.2 674.5h5v11h-5zM382.9 685.5h5v11h-5zM139.8 696.5h5v11h-5zM412.7 696.5h5v11h-5zM422.6 707.4h5v11h-5zM452.3 707.4h5v11h-5zM492 707.4h5v11h-5zM387.8 718.4h5v11h-5zM407.7 718.4h5v11h-5zM452.3 718.4h5v11h-5zM377.9 740.3h5v11h-5zM407.7 751.3h5v11h-5zM437.5 751.3h5v11h-5zM477.2 751.3h5v11h-5zM422.6 762.2h5v11h-5zM427.5 773.2h5v11h-5zM442.4 773.2h5v11h-5zM402.7 784.2h5v11h-5zM492 795.1h5v11h-5zM442.4 806.1h5v11h-5zM422.6 817h5v11h-5zM427.5 817h5v11h-5zM377.9 828h5v11h-5zM417.6 828h5v11h-5zM477.2 828h5v11h-5zM382.9 839h5v11h-5zM427.5 849.9h5v11h-5zM358.1 871.9h5v11h-5zM348.2 882.8h5v11h-5zM368 882.8h5v11h-5zM164.6 893.8h5v11h-5zM333.3 893.8h5v11h-5zM373 893.8h5v11h-5zM189.4 915.7h5v11h-5zM313.4 926.7h5v11h-5zM353.1 926.7h5v11h-5zM368 970.5h5v11h-5zM368 992.5h5v11h-5zM169.5 1014.4h5v11h-5zM373 1014.4h5v11h-5zM368 1025.3h5v11h-5zM169.5 1036.3h5v11h-5zM273.7 1036.3h5v11h-5zM353.1 1036.3h5v11h-5zM338.2 1047.3h5v11h-5zM392.8 1069.2h5v11h-5zM219.1 1080.2h5v11h-5zM353.1 1091.1h5v11h-5zM363 1091.1h5v11h-5zM373 1102.1h5v11h-5zM263.8 1113.1h5v11h-5zM353.1 1113.1h5v11h-5zM283.6 1124h5v11h-5zM328.3 1124h5v11h-5zM139.8 1135h5v11h-5zM293.6 1135h5v11h-5zM368 1135h5v11h-5zM164.6 1145.9h5v11h-5zM348.2 1156.9h5v11h-5zM363 1156.9h5v11h-5zM174.5 1167.9h5v11h-5zM224.1 1167.9h5v11h-5zM343.2 1178.8h5v11h-5z" fill="#f6b4b4"/>
<path d="M397.8 553.9h5v11h-5zM432.5 553.9h5v11h-5zM437.5 718.4h5v11h-5z" fill="#e43c3c"/>
<path d="M402.7 553.9h5v11h-5zM412.7 564.9h5v11h-5zM442.4 586.8h5v11h-5zM397.8 597.8h5v11h-5zM417.6 597.8h5v11h-5zM397.8 652.6h5v11h-5zM432.5 652.6h5v11h-5zM417.6 674.5h5v11h-5zM422.6 674.5h5v11h-5zM417.6 707.4h5v11h-5zM442.4 729.3h5v11h-5zM417.6 751.3h5v11h-5zM397.8 773.2h5v11h-5zM154.6 795.1h5v11h-5zM407.7 795.1h5v11h-5zM432.5 817h5v11h-5zM427.5 828h5v11h-5zM278.7 839h5v11h-5zM402.7 839h5v11h-5zM492 839h5v11h-5zM353.1 871.9h5v11h-5zM358.1 915.7h5v11h-5zM348.2 959.6h5v11h-5zM348.2 970.5h5v11h-5zM358.1 992.5h5v11h-5zM353.1 1014.4h5v11h-5zM368 1014.4h5v11h-5zM348.2 1025.3h5v11h-5zM248.9 1058.2h5v11h-5zM373 1058.2h5v11h-5zM144.7 1080.2h5v11h-5zM318.4 1091.1h5v11h-5zM373 1091.1h5v11h-5zM373 1124h5v11h-5zM219.1 1178.8h5v11h-5z" fill="#f09696"/>
<path d="M427.5 553.9h5v11h-5z" fill="#e43030"/>
<path d="M442.4 553.9h5v11h-5zM417.6 564.9h5v11h-5zM407.7 575.9h5v11h-5zM427.5 586.8h5v11h-5zM397.8 817h5v11h-5zM417.6 817h5v11h-5zM467.2 839h5v11h-5zM363 948.6h5v11h-5zM268.8 1058.2h5v11h-5z" fill="#ea7272"/>
<path d="M447.4 553.9h5v11h-5zM392.8 652.6h5v11h-5zM377.9 707.4h5v11h-5zM487.1 751.3h5v11h-5zM368 959.6h5v11h-5zM363 981.5h5v11h-5zM358.1 1025.3h5v11h-5zM373 1135h5v11h-5zM368 1145.9h5v11h-5z" fill="#f0aeae"/>
<path d="M159.6 564.9h5v11h-5zM174.5 564.9h5v11h-5zM224.1 575.9h5v11h-5zM308.5 575.9h5v11h-5zM199.3 586.8h5v11h-5zM253.9 586.8h5v11h-5zM159.6 608.7h5v11h-5zM174.5 630.7h5v11h-5zM184.4 630.7h5v11h-5zM159.6 641.6h5v11h-5zM343.2 641.6h5v11h-5zM174.5 652.6h5v11h-5zM244 652.6h5v11h-5zM338.2 652.6h5v11h-5zM134.8 674.5h5v11h-5zM273.7 674.5h5v11h-5zM303.5 674.5h5v11h-5zM318.4 674.5h5v11h-5zM199.3 685.5h5v11h-5zM229.1 696.5h5v11h-5zM318.4 696.5h5v11h-5zM343.2 696.5h5v11h-5zM139.8 707.4h5v11h-5zM194.3 707.4h5v11h-5zM308.5 707.4h5v11h-5zM184.4 718.4h5v11h-5zM219.1 718.4h5v11h-5zM293.6 740.3h5v11h-5zM224.1 751.3h5v11h-5zM239 751.3h5v11h-5zM239 762.2h5v11h-5zM234 784.2h5v11h-5zM363 784.2h5v11h-5zM298.5 795.1h5v11h-5zM343.2 806.1h5v11h-5zM373 817h5v11h-5zM253.9 839h5v11h-5zM313.4 839h5v11h-5zM363 839h5v11h-5zM234 849.9h5v11h-5zM308.5 849.9h5v11h-5zM373 849.9h5v11h-5zM412.7 860.9h5v11h-5zM417.6 860.9h5v11h-5zM442.4 860.9h5v11h-5zM447.4 860.9h5v11h-5zM492 860.9h5v11h-5zM437.5 871.9h5v11h-5zM452.3 893.8h5v11h-5zM407.7 904.8h5v11h-5zM447.4 904.8h5v11h-5zM477.2 904.8h5v11h-5zM308.5 915.7h5v11h-5zM457.3 915.7h5v11h-5zM457.3 926.7h5v11h-5zM467.2 948.6h5v11h-5zM214.2 970.5h5v11h-5zM248.9 970.5h5v11h-5zM457.3 981.5h5v11h-5zM482.1 981.5h5v11h-5zM492 992.5h5v11h-5zM139.8 1003.4h5v11h-5zM457.3 1003.4h5v11h-5zM318.4 1025.3h5v11h-5zM437.5 1025.3h5v11h-5zM447.4 1036.3h5v11h-5zM149.7 1047.3h5v11h-5zM457.3 1047.3h5v11h-5zM382.9 1058.2h5v11h-5zM397.8 1058.2h5v11h-5zM422.6 1058.2h5v11h-5zM482.1 1058.2h5v11h-5zM442.4 1080.2h5v11h-5zM472.2 1080.2h5v11h-5zM387.8 1102.1h5v11h-5zM442.4 1102.1h5v11h-5zM452.3 1145.9h5v11h-5zM194.3 1156.9h5v11h-5zM432.5 1156.9h5v11h-5zM422.6 1167.9h5v11h-5zM397.8 1178.8h5v11h-5zM402.7 1178.8h5v11h-5zM432.5 1178.8h5v11h-5z" fill="#c6c6fc"/>
<path d="M402.7 564.9h5v11h-5zM417.6 575.9h5v11h-5zM402.7 597.8h5v11h-5zM427.5 597.8h5v11h-5zM397.8 608.7h5v11h-5zM402.7 608.7h5v11h-5zM397.8 641.6h5v11h-5zM402.7 685.5h5v11h-5zM437.5 696.5h5v11h-5zM422.6 718.4h5v11h-5zM437.5 729.3h5v11h-5zM412.7 817h5v11h-5zM417.6 839h5v11h-5zM353.1 948.6h5v11h-5zM239 1014.4h5v11h-5zM358.1 1047.3h5v11h-5z" fill="#ea7878"/>
<path d="M407.7 564.9h5v11h-5z" fill="#de2424"/>
<path d="M442.4 564.9h5v11h-5zM407.7 586.8h5v11h-5zM422.6 597.8h5v11h-5zM422.6 663.6h5v11h-5zM442.4 707.4h5v11h-5zM412.7 740.3h5v11h-5zM432.5 740.3h5v11h-5zM432.5 784.2h5v11h-5zM417.6 849.9h5v11h-5zM368 926.7h5v11h-5zM248.9 948.6h5v11h-5z" fill="#f07e7e"/>
<path d="M412.7 575.9h5v11h-5z" fill="#e44848"/>
<path d="M333.3 586.8h5v11h-5zM273.7 597.8h5v11h-5zM189.4 619.7h5v11h-5zM368 619.7h5v11h-5zM358.1 630.7h5v11h-5zM308.5 652.6h5v11h-5zM189.4 663.6h5v11h-5zM224.1 663.6h5v11h-5zM258.8 663.6h5v11h-5zM358.1 663.6h5v11h-5zM348.2 685.5h5v11h-5zM358.1 685.5h5v11h-5zM298.5 696.5h5v11h-5zM353.1 707.4h5v11h-5zM363 707.4h5v11h-5zM308.5 729.3h5v11h-5zM348.2 729.3h5v11h-5zM373 729.3h5v11h-5zM348.2 740.3h5v11h-5zM373 740.3h5v11h-5zM313.4 762.2h5v11h-5zM363 762.2h5v11h-5zM373 762.2h5v11h-5zM348.2 773.2h5v11h-5zM293.6 784.2h5v11h-5zM348.2 784.2h5v11h-5zM229.1 806.1h5v11h-5zM253.9 806.1h5v11h-5zM239 817h5v11h-5zM358.1 817h5v11h-5zM368 828h5v11h-5zM343.2 849.9h5v11h-5zM348.2 849.9h5v11h-5zM467.2 860.9h5v11h-5zM472.2 871.9h5v11h-5zM432.5 882.8h5v11h-5zM437.5 882.8h5v11h-5zM447.4 882.8h5v11h-5zM467.2 882.8h5v11h-5zM407.7 893.8h5v11h-5zM412.7 893.8h5v11h-5zM447.4 893.8h5v11h-5zM417.6 904.8h5v11h-5zM467.2 904.8h5v11h-5zM432.5 915.7h5v11h-5zM432.5 926.7h5v11h-5zM417.6 937.6h5v11h-5zM437.5 937.6h5v11h-5zM457.3 937.6h5v11h-5zM442.4 948.6h5v11h-5zM457.3 948.6h5v11h-5zM422.6 959.6h5v11h-5zM487.1 959.6h5v11h-5zM209.2 970.5h5v11h-5zM402.7 970.5h5v11h-5zM412.7 970.5h5v11h-5zM412.7 992.5h5v11h-5zM442.4 992.5h5v11h-5zM447.4 1003.4h5v11h-5zM417.6 1014.4h5v11h-5zM447.4 1014.4h5v11h-5zM467.2 1014.4h5v11h-5zM467.2 1025.3h5v11h-5zM487.1 1036.3h5v11h-5zM447.4 1047.3h5v11h-5zM477.2 1058.2h5v11h-5zM204.3 1113.1h5v11h-5zM422.6 1113.1h5v11h-5zM452.3 1113.1h5v11h-5zM427.5 1135h5v11h-5zM472.2 1135h5v11h-5zM472.2 1145.9h5v11h-5zM482.1 1156.9h5v11h-5zM462.3 1178.8h5v11h-5zM492 1178.8h5v11h-5z" fill="#b4b4fc"/>
<path d="M402.7 586.8h5v11h-5z" fill="#e45454"/>
<path d="M437.5 586.8h5v11h-5zM442.4 597.8h5v11h-5zM417.6 685.5h5v11h-5zM437.5 740.3h5v11h-5zM422.6 839h5v11h-5zM437.5 849.9h5v11h-5z" fill="#ea6666"/>
<path d="M189.4 597.8h5v11h-5zM353.1 597.8h5v11h-5zM358.1 608.7h5v11h-5zM363 663.6h5v11h-5zM353.1 674.5h5v11h-5zM368 674.5h5v11h-5zM214.2 685.5h5v11h-5zM358.1 707.4h5v11h-5zM353.1 740.3h5v11h-5zM368 740.3h5v11h-5zM373 773.2h5v11h-5zM373 784.2h5v11h-5zM348.2 795.1h5v11h-5zM363 795.1h5v11h-5zM373 795.1h5v11h-5zM353.1 806.1h5v11h-5zM353.1 817h5v11h-5zM139.8 828h5v11h-5zM214.2 904.8h5v11h-5zM417.6 915.7h5v11h-5zM442.4 915.7h5v11h-5zM417.6 926.7h5v11h-5zM437.5 926.7h5v11h-5zM482.1 926.7h5v11h-5zM427.5 948.6h5v11h-5zM407.7 959.6h5v11h-5zM432.5 970.5h5v11h-5zM452.3 970.5h5v11h-5zM407.7 992.5h5v11h-5zM437.5 992.5h5v11h-5zM437.5 1003.4h5v11h-5zM492 1025.3h5v11h-5zM427.5 1047.3h5v11h-5zM417.6 1058.2h5v11h-5zM417.6 1069.2h5v11h-5zM487.1 1113.1h5v11h-5zM482.1 1124h5v11h-5zM432.5 1135h5v11h-5zM467.2 1135h5v11h-5zM303.5 1145.9h5v11h-5zM472.2 1156.9h5v11h-5z" fill="#9c9cfc"/>
<path d="M194.3 597.8h5v11h-5zM358.1 597.8h5v11h-5zM348.2 608.7h5v11h-5zM353.1 608.7h5v11h-5zM373 608.7h5v11h-5zM373 619.7h5v11h-5zM288.6 630.7h5v11h-5zM373 641.6h5v11h-5zM333.3 652.6h5v11h-5zM363 729.3h5v11h-5zM363 751.3h5v11h-5zM353.1 784.2h5v11h-5zM368 795.1h5v11h-5zM353.1 828h5v11h-5zM353.1 839h5v11h-5zM477.2 860.9h5v11h-5zM442.4 904.8h5v11h-5zM437.5 915.7h5v11h-5zM462.3 915.7h5v11h-5zM407.7 926.7h5v11h-5zM442.4 926.7h5v11h-5zM412.7 937.6h5v11h-5zM402.7 959.6h5v11h-5zM437.5 959.6h5v11h-5zM467.2 959.6h5v11h-5zM432.5 981.5h5v11h-5zM417.6 992.5h5v11h-5zM407.7 1025.3h5v11h-5zM437.5 1047.3h5v11h-5zM477.2 1069.2h5v11h-5zM417.6 1113.1h5v11h-5zM447.4 1167.9h5v11h-5z" fill="#9090fc"/>
<path d="M303.5 608.7h5v11h-5zM368 641.6h5v11h-5zM363 652.6h5v11h-5zM368 663.6h5v11h-5zM229.1 685.5h5v11h-5zM258.8 685.5h5v11h-5zM353.1 685.5h5v11h-5zM164.6 696.5h5v11h-5zM288.6 729.3h5v11h-5zM368 729.3h5v11h-5zM179.5 762.2h5v11h-5zM244 784.2h5v11h-5zM358.1 795.1h5v11h-5zM164.6 806.1h5v11h-5zM363 806.1h5v11h-5zM199.3 817h5v11h-5zM358.1 828h5v11h-5zM358.1 839h5v11h-5zM363 849.9h5v11h-5zM189.4 871.9h5v11h-5zM417.6 871.9h5v11h-5zM412.7 882.8h5v11h-5zM477.2 882.8h5v11h-5zM457.3 893.8h5v11h-5zM338.2 915.7h5v11h-5zM477.2 926.7h5v11h-5zM422.6 937.6h5v11h-5zM422.6 948.6h5v11h-5zM437.5 948.6h5v11h-5zM452.3 959.6h5v11h-5zM472.2 959.6h5v11h-5zM482.1 970.5h5v11h-5zM402.7 1025.3h5v11h-5zM472.2 1025.3h5v11h-5zM462.3 1036.3h5v11h-5zM477.2 1036.3h5v11h-5zM467.2 1047.3h5v11h-5zM487.1 1058.2h5v11h-5zM492 1069.2h5v11h-5zM447.4 1080.2h5v11h-5zM437.5 1091.1h5v11h-5zM447.4 1135h5v11h-5zM457.3 1135h5v11h-5zM278.7 1178.8h5v11h-5zM452.3 1178.8h5v11h-5z" fill="#aeaefc"/>
<path d="M368 608.7h5v11h-5zM358.1 652.6h5v11h-5zM368 652.6h5v11h-5zM363 674.5h5v11h-5zM348.2 707.4h5v11h-5zM368 707.4h5v11h-5zM373 707.4h5v11h-5zM288.6 718.4h5v11h-5zM363 718.4h5v11h-5zM373 718.4h5v11h-5zM239 740.3h5v11h-5zM244 751.3h5v11h-5zM353.1 751.3h5v11h-5zM234 773.2h5v11h-5zM248.9 784.2h5v11h-5zM358.1 784.2h5v11h-5zM358.1 806.1h5v11h-5zM368 806.1h5v11h-5zM373 839h5v11h-5zM338.2 849.9h5v11h-5zM358.1 849.9h5v11h-5zM482.1 860.9h5v11h-5zM432.5 871.9h5v11h-5zM467.2 893.8h5v11h-5zM472.2 904.8h5v11h-5zM149.7 926.7h5v11h-5zM442.4 937.6h5v11h-5zM482.1 937.6h5v11h-5zM412.7 959.6h5v11h-5zM442.4 981.5h5v11h-5zM402.7 1003.4h5v11h-5zM442.4 1003.4h5v11h-5zM422.6 1025.3h5v11h-5zM427.5 1025.3h5v11h-5zM432.5 1025.3h5v11h-5zM442.4 1036.3h5v11h-5zM397.8 1047.3h5v11h-5zM492 1047.3h5v11h-5zM457.3 1091.1h5v11h-5zM412.7 1102.1h5v11h-5zM427.5 1102.1h5v11h-5zM492 1124h5v11h-5zM442.4 1135h5v11h-5z" fill="#a2a2fc"/>
<path d="M363 619.7h5v11h-5zM358.1 641.6h5v11h-5zM209.2 685.5h5v11h-5zM373 696.5h5v11h-5zM348.2 751.3h5v11h-5zM348.2 806.1h5v11h-5zM303.5 817h5v11h-5zM402.7 926.7h5v11h-5zM407.7 981.5h5v11h-5zM427.5 992.5h5v11h-5zM437.5 1014.4h5v11h-5zM442.4 1025.3h5v11h-5zM402.7 1047.3h5v11h-5z" fill="#8a8afc"/>
<path d="M392.8 674.5h5v11h-5zM392.8 685.5h5v11h-5zM437.5 685.5h5v11h-5zM219.1 707.4h5v11h-5zM492 751.3h5v11h-5zM387.8 773.2h5v11h-5zM219.1 784.2h5v11h-5zM427.5 839h5v11h-5zM313.4 849.9h5v11h-5zM164.6 871.9h5v11h-5zM179.5 904.8h5v11h-5zM343.2 926.7h5v11h-5zM204.3 1102.1h5v11h-5z" fill="#f6d2d2"/>
<path d="M293.6 685.5h5v11h-5z" fill="#5454fc"/>
<path d="M368 685.5h5v11h-5zM214.2 751.3h5v11h-5zM363 817h5v11h-5zM427.5 915.7h5v11h-5zM402.7 937.6h5v11h-5zM417.6 948.6h5v11h-5zM422.6 981.5h5v11h-5zM417.6 1003.4h5v11h-5zM432.5 1047.3h5v11h-5zM253.9 1069.2h5v11h-5zM477.2 1178.8h5v11h-5z" fill="#7878fc"/>
<path d="M353.1 718.4h5v11h-5zM358.1 773.2h5v11h-5zM422.6 871.9h5v11h-5zM407.7 915.7h5v11h-5zM422.6 915.7h5v11h-5zM407.7 948.6h5v11h-5zM427.5 959.6h5v11h-5zM437.5 981.5h5v11h-5zM402.7 992.5h5v11h-5zM412.7 1025.3h5v11h-5zM432.5 1036.3h5v11h-5zM467.2 1036.3h5v11h-5zM248.9 1080.2h5v11h-5zM224.1 1145.9h5v11h-5z" fill="#8484fc"/>
<path d="M358.1 718.4h5v11h-5zM348.2 817h5v11h-5zM368 839h5v11h-5zM427.5 926.7h5v11h-5zM427.5 937.6h5v11h-5zM412.7 1003.4h5v11h-5zM442.4 1047.3h5v11h-5z" fill="#7e7efc"/>
<path d="M417.6 718.4h5v11h-5z" fill="#ea5a5a"/>
<path d="M447.4 740.3h5v11h-5z" fill="#e44242"/>
<path d="M368 817h5v11h-5z" fill="#2a2afc"/>
<path d="M412.7 926.7h5v11h-5zM417.6 959.6h5v11h-5zM422.6 970.5h5v11h-5zM258.8 992.5h5v11h-5zM442.4 1014.4h5v11h-5zM417.6 1036.3h5v11h-5zM437.5 1036.3h5v11h-5zM427.5 1156.9h5v11h-5zM487.1 1167.9h5v11h-5z" fill="#6c6cfc"/>
<path d="M368 937.6h5v11h-5z" fill="#e44e4e"/>
<path d="M432.5 937.6h5v11h-5zM407.7 970.5h5v11h-5z" fill="#6666fc"/>
<path d="M412.7 948.6h5v11h-5z" fill="#6060fc"/>
<path d="M427.5 970.5h5v11h-5zM412.7 1047.3h5v11h-5z" fill="#7272fc"/>
<path d="M422.6 1014.4h5v11h-5zM462.3 1047.3h5v11h-5z" fill="#5a5afc"/>
<path d="M417.6 1025.3h5v11h-5z" fill="#1e1efc"/>
<path d="M427.5 1036.3h5v11h-5z" fill="#4e4efc"/>
<path d="M134.8 532V1189.8M139.8 532V1189.8M144.7 532V1189.8M149.7 532V1189.8M154.6 532V1189.8M159.6 532V1189.8M164.6 532V1189.8M169.5 532V1189.8M174.5 532V1189.8M179.5 532V1189.8M184.4 532V1189.8M189.4 532V1189.8M194.3 532V1189.8M199.3 532V1189.8M204.3 532V1189.8M209.2 532V1189.8M214.2 532V1189.8M219.1 532V1189.8M224.1 532V1189.8M229.1 532V1189.8M234 532V1189.8M239 532V1189.8M244 532V1189.8M248.9 532V1189.8M253.9 532V1189.8M258.8 532V1189.8M263.8 532V1189.8M268.8 532V1189.8M273.7 532V1189.8M278.7 532V1189.8M283.6 532V1189.8M288.6 532V1189.8M293.6 532V1189.8M298.5 532V1189.8M303.5 532V1189.8M308.5 532V1189.8M313.4 532V1189.8M318.4 532V1189.8M323.3 532V1189.8M328.3 532V1189.8M333.3 532V1189.8M338.2 532V1189.8M343.2 532V1189.8M348.2 532V1189.8M353.1 532V1189.8M358.1 532V1189.8M363 532V1189.8M368 532V1189.8M373 532V1189.8M377.9 532V1189.8M382.9 532V1189.8M387.8 532V1189.8M392.8 532V1189.8M397.8 532V1189.8M402.7 532V1189.8M407.7 532V1189.8M412.7 532V1189.8M417.6 532V1189.8M422.6 532V1189.8M427.5 532V1189.8M432.5 532V1189.8M437.5 532V1189.8M442.4 532V1189.8M447.4 532V1189.8M452.3 532V1189.8M457.3 532V1189.8M462.3 532V1189.8M467.2 532V1189.8M472.2 532V1189.8M477.2 532V1189.8M482.1 532V1189.8M487.1 532V1189.8M492 532V1189.8M497 532V1189.8M134.8 532H497M134.8 543H497M134.8 553.9H497M134.8 564.9H497M134.8 575.9H497M134.8 586.8H497M134.8 597.8H497M134.8 608.7H497M134.8 619.7H497M134.8 630.7H497M134.8 641.6H497M134.8 652.6H497M134.8 663.6H497M134.8 674.5H497M134.8 685.5H497M134.8 696.5H497M134.8 707.4H497M134.8 718.4H497M134.8 729.3H497M134.8 740.3H497M134.8 751.3H497M134.8 762.2H497M134.8 773.2H497M134.8 784.2H497M134.8 795.1H497M134.8 806.1H497M134.8 817H497M134.8 828H497M134.8 839H497M134.8 849.9H497M134.8 860.9H497M134.8 871.9H497M134.8 882.8H497M134.8 893.8H497M134.8 904.8H497M134.8 915.7H497M134.8 926.7H497M134.8 937.6H497M134.8 948.6H497M134.8 959.6H497M134.8 970.5H497M134.8 981.5H497M134.8 992.5H497M134.8 1003.4H497M134.8 1014.4H497M134.8 1025.3H497M134.8 1036.3H497M134.8 1047.3H497M134.8 1058.2H497M134.8 1069.2H497M134.8 1080.2H497M134.8 1091.1H497M134.8 1102.1H497M134.8 1113.1H497M134.8 1124H497M134.8 1135H497M134.8 1145.9H497M134.8 1156.9H497M134.8 1167.9H497M134.8 1178.8H497M134.8 1189.8H497" stroke="#a0a0a0" stroke-width="0.8" fill="none"/>
<rect x="134.8" y="514.6" width="263" height="13.3" fill="#0000ff"/>
<rect x="397.8" y="514.6" width="99.2" height="13.3" fill="#e00000"/>
<path d="M134.8 514.6V527.9M139.8 514.6V527.9M144.7 514.6V527.9M149.7 514.6V527.9M154.6 514.6V527.9M159.6 514.6V527.9M164.6 514.6V527.9M169.5 514.6V527.9M174.5 514.6V527.9M179.5 514.6V527.9M184.4 514.6V527.9M189.4 514.6V527.9M194.3 514.6V527.9M199.3 514.6V527.9M204.3 514.6V527.9M209.2 514.6V527.9M214.2 514.6V527.9M219.1 514.6V527.9M224.1 514.6V527.9M229.1 514.6V527.9M234 514.6V527.9M239 514.6V527.9M244 514.6V527.9M248.9 514.6V527.9M253.9 514.6V527.9M258.8 514.6V527.9M263.8 514.6V527.9M268.8 514.6V527.9M273.7 514.6V527.9M278.7 514.6V527.9M283.6 514.6V527.9M288.6 514.6V527.9M293.6 514.6V527.9M298.5 514.6V527.9M303.5 514.6V527.9M308.5 514.6V527.9M313.4 514.6V527.9M318.4 514.6V527.9M323.3 514.6V527.9M328.3 514.6V527.9M333.3 514.6V527.9M338.2 514.6V527.9M343.2 514.6V527.9M348.2 514.6V527.9M353.1 514.6V527.9M358.1 514.6V527.9M363 514.6V527.9M368 514.6V527.9M373 514.6V527.9M377.9 514.6V527.9M382.9 514.6V527.9M387.8 514.6V527.9M392.8 514.6V527.9M397.8 514.6V527.9M402.7 514.6V527.9M407.7 514.6V527.9M412.7 514.6V527.9M417.6 514.6V527.9M422.6 514.6V527.9M427.5 514.6V527.9M432.5 514.6V527.9M437.5 514.6V527.9M442.4 514.6V527.9M447.4 514.6V527.9M452.3 514.6V527.9M457.3 514.6V527.9M462.3 514.6V527.9M467.2 514.6V527.9M472.2 514.6V527.9M477.2 514.6V527.9M482.1 514.6V527.9M487.1 514.6V527.9M492 514.6V527.9M497 514.6V527.9M134.8 514.6H497M134.8 527.9H497" stroke="#a0a0a0" stroke-width="0.8" fill="none"/>
<text x="501" y="526" font-size="12" font-weight="bold">Type</text>
<g font-size="8.2" fill="#000" stroke="#000" stroke-width="0.25"><text x="501" y="541.6">GABRP</text><text x="501" y="552.5">MGP</text><text x="501" y="563.5">LXN</text><text x="501" y="574.5">LOXL1</text><text x="501" y="585.4">ITGBL1</text><text x="501" y="596.4">DKK3</text><text x="501" y="607.4">MID1</text><text x="501" y="618.3">VWA5A</text><text x="501" y="629.3">SQSTM1</text><text x="501" y="640.3">ZNF14</text><text x="501" y="651.2">MCUB</text><text x="501" y="662.2">EVI2A</text><text x="501" y="673.1">APOBEC3G</text><text x="501" y="684.1">S100A6</text><text x="501" y="695.1">FBLN5</text><text x="501" y="706">PPP4R1</text><text x="501" y="717">SCNN1A</text><text x="501" y="728">LRRC1</text><text x="501" y="738.9">GSN</text><text x="501" y="749.9">ANXA2</text><text x="501" y="760.8">MACROH2A1</text><text x="501" y="771.8">ZWINT</text><text x="501" y="782.8">FAIM</text><text x="501" y="793.7">TRIM31</text><text x="501" y="804.7">LAMP5</text><text x="501" y="815.7">ARHGAP24</text><text x="501" y="826.6">NCL</text><text x="501" y="837.6">POF1B</text><text x="501" y="848.6">PLAU</text><text x="501" y="859.5">FERMT1</text><text x="501" y="870.5">LMO7</text><text x="501" y="881.4">CCDC47</text><text x="501" y="892.4">MTSS1</text><text x="501" y="903.4">R3HDM2</text><text x="501" y="914.3">SERPINF1</text><text x="501" y="925.3">TFR2</text><text x="501" y="936.3">FURIN</text><text x="501" y="947.2">ATF5</text><text x="501" y="958.2">SERPINA10</text><text x="501" y="969.2">REPS2</text><text x="501" y="980.1">FANCC</text><text x="501" y="991.1">B3GAT1</text><text x="501" y="1002">BBOX1</text><text x="501" y="1013">CACNA1H</text><text x="501" y="1024">NR1I3</text><text x="501" y="1034.9">LGSN</text><text x="501" y="1045.9">BAAT</text><text x="501" y="1056.9">TDRKH</text><text x="501" y="1067.8">SLC16A4</text><text x="501" y="1078.8">ELMO1</text><text x="501" y="1089.7">RAB40B</text><text x="501" y="1100.7">FCN2</text><text x="501" y="1111.7">H2AC14</text><text x="501" y="1122.6">OBP2A</text><text x="501" y="1133.6">ZNF76</text><text x="501" y="1144.6">ABCB6</text><text x="501" y="1155.5">FKBP8</text><text x="501" y="1166.5">MACO1</text><text x="501" y="1177.5">ABCB11</text><text x="501" y="1188.4">P2RX7</text></g>
<rect x="561.5" y="513.1" width="13.5" height="4.4" fill="#df1717"/>
<rect x="561.5" y="517.2" width="13.5" height="4.4" fill="#e02020"/>
<rect x="561.5" y="521.3" width="13.5" height="4.4" fill="#e12a2a"/>
<rect x="561.5" y="525.4" width="13.5" height="4.4" fill="#e33333"/>
<rect x="561.5" y="529.6" width="13.5" height="4.4" fill="#e43d3d"/>
<rect x="561.5" y="533.7" width="13.5" height="4.4" fill="#e54646"/>
<rect x="561.5" y="537.8" width="13.5" height="4.4" fill="#e75050"/>
<rect x="561.5" y="541.9" width="13.5" height="4.4" fill="#e85959"/>
<rect x="561.5" y="546" width="13.5" height="4.4" fill="#e96363"/>
<rect x="561.5" y="550.1" width="13.5" height="4.4" fill="#eb6c6c"/>
<rect x="561.5" y="554.2" width="13.5" height="4.4" fill="#ec7676"/>
<rect x="561.5" y="558.3" width="13.5" height="4.4" fill="#ed7f7f"/>
<rect x="561.5" y="562.5" width="13.5" height="4.4" fill="#ee8888"/>
<rect x="561.5" y="566.6" width="13.5" height="4.4" fill="#f09292"/>
<rect x="561.5" y="570.7" width="13.5" height="4.4" fill="#f19b9b"/>
<rect x="561.5" y="574.8" width="13.5" height="4.4" fill="#f2a5a5"/>
<rect x="561.5" y="578.9" width="13.5" height="4.4" fill="#f4aeae"/>
<rect x="561.5" y="583" width="13.5" height="4.4" fill="#f5b8b8"/>
<rect x="561.5" y="587.1" width="13.5" height="4.4" fill="#f6c1c1"/>
<rect x="561.5" y="591.2" width="13.5" height="4.4" fill="#f8cbcb"/>
<rect x="561.5" y="595.4" width="13.5" height="4.4" fill="#f9d4d4"/>
<rect x="561.5" y="599.5" width="13.5" height="4.4" fill="#fadede"/>
<rect x="561.5" y="603.6" width="13.5" height="4.4" fill="#fce7e7"/>
<rect x="561.5" y="607.7" width="13.5" height="4.4" fill="#fdf1f1"/>
<rect x="561.5" y="611.8" width="13.5" height="4.4" fill="#fefafa"/>
<rect x="561.5" y="615.9" width="13.5" height="4.4" fill="#fafaff"/>
<rect x="561.5" y="620" width="13.5" height="4.4" fill="#f1f1ff"/>
<rect x="561.5" y="624.2" width="13.5" height="4.4" fill="#e7e7fe"/>
<rect x="561.5" y="628.3" width="13.5" height="4.4" fill="#dedefe"/>
<rect x="561.5" y="632.4" width="13.5" height="4.4" fill="#d4d4fe"/>
<rect x="561.5" y="636.5" width="13.5" height="4.4" fill="#cbcbfe"/>
<rect x="561.5" y="640.6" width="13.5" height="4.4" fill="#c1c1fe"/>
<rect x="561.5" y="644.7" width="13.5" height="4.4" fill="#b8b8fe"/>
<rect x="561.5" y="648.8" width="13.5" height="4.4" fill="#aeaefd"/>
<rect x="561.5" y="652.9" width="13.5" height="4.4" fill="#a5a5fd"/>
<rect x="561.5" y="657.1" width="13.5" height="4.4" fill="#9b9bfd"/>
<rect x="561.5" y="661.2" width="13.5" height="4.4" fill="#9292fd"/>
<rect x="561.5" y="665.3" width="13.5" height="4.4" fill="#8888fc"/>
<rect x="561.5" y="669.4" width="13.5" height="4.4" fill="#7f7ffc"/>
<rect x="561.5" y="673.5" width="13.5" height="4.4" fill="#7676fc"/>
<rect x="561.5" y="677.6" width="13.5" height="4.4" fill="#6c6cfc"/>
<rect x="561.5" y="681.7" width="13.5" height="4.4" fill="#6363fc"/>
<rect x="561.5" y="685.8" width="13.5" height="4.4" fill="#5959fc"/>
<rect x="561.5" y="690" width="13.5" height="4.4" fill="#5050fb"/>
<rect x="561.5" y="694.1" width="13.5" height="4.4" fill="#4646fb"/>
<rect x="561.5" y="698.2" width="13.5" height="4.4" fill="#3d3dfb"/>
<rect x="561.5" y="702.3" width="13.5" height="4.4" fill="#3333fb"/>
<rect x="561.5" y="706.4" width="13.5" height="4.4" fill="#2a2afa"/>
<rect x="561.5" y="710.5" width="13.5" height="4.4" fill="#2020fa"/>
<rect x="561.5" y="714.6" width="13.5" height="4.4" fill="#1717fa"/>
<text x="580.6" y="520" font-size="12.5">4</text>
<text x="580.6" y="570.5" font-size="12.5">2</text>
<text x="580.6" y="621" font-size="12.5">0</text>
<text x="580.6" y="671.3" font-size="12.5">−2</text>
<text x="580.6" y="721.5" font-size="12.5">−4</text>
<text x="601" y="523.7" font-size="12.5" font-weight="bold">Type</text>
<rect x="601.2" y="528.5" width="18.8" height="19" fill="#0000ff" stroke="#a0a0a0" stroke-width="0.8"/>
<rect x="601.2" y="547.5" width="18.8" height="19.4" fill="#e00000" stroke="#a0a0a0" stroke-width="0.8"/>
<text x="628" y="541.5" font-size="11.5">CHB</text>
<text x="628" y="561.5" font-size="11.5">HBV-LC</text>
<path d="M134.3 559.4H112.1M112.1 559.4V570.4M112.1 570.4H134.3M134.3 581.3H108.6M108.6 581.3V592.3M108.6 592.3H134.3M112.1 564.9H105.8M105.8 564.9V586.8M105.8 586.8H108.6M134.3 548.4H102.9M102.9 548.4V575.9M102.9 575.9H105.8M134.3 537.5H98.7M98.7 537.5V562.1M98.7 562.1H102.9M134.3 614.2H105.8M105.8 614.2V625.2M105.8 625.2H134.3M134.3 603.3H96.8M96.8 603.3V619.7M96.8 619.7H105.8M134.3 658.1H113.4M113.4 658.1V669M113.4 669H134.3M134.3 647.1H112.1M112.1 647.1V663.6M112.1 663.6H113.4M134.3 680H109.6M109.6 680V691M109.6 691H134.3M112.1 655.3H104.4M104.4 655.3V685.5M104.4 685.5H109.6M134.3 636.2H101M101 636.2V670.4M101 670.4H104.4M134.3 712.9H106.3M106.3 712.9V723.9M106.3 723.9H134.3M134.3 701.9H103.9M103.9 701.9V718.4M103.9 718.4H106.3M134.3 734.8H108.3M108.3 734.8V745.8M108.3 745.8H134.3M134.3 756.7H109.6M109.6 756.7V767.7M109.6 767.7H134.3M134.3 778.7H106.3M106.3 778.7V789.6M106.3 789.6H134.3M109.6 762.2H105.2M105.2 762.2V784.2M105.2 784.2H106.3M108.3 740.3H97.5M97.5 740.3V773.2M97.5 773.2H105.2M103.9 710.2H94.8M94.8 710.2V756.7M94.8 756.7H97.5M101 653.3H94.3M94.3 653.3V733.5M94.3 733.5H94.8M96.8 611.5H89.5M89.5 611.5V693.4M89.5 693.4H94.3M134.3 811.6H100M100 811.6V822.5M100 822.5H134.3M134.3 800.6H96.2M96.2 800.6V817M96.2 817H100M134.3 844.5H99.4M99.4 844.5V855.4M99.4 855.4H134.3M134.3 833.5H92.4M92.4 833.5V849.9M92.4 849.9H99.4M96.2 808.8H87.6M87.6 808.8V841.7M87.6 841.7H92.4M89.5 652.4H83.7M83.7 652.4V825.3M83.7 825.3H87.6M98.7 549.8H80.9M80.9 549.8V738.8M80.9 738.8H83.7M134.3 888.3H109.6M109.6 888.3V899.3M109.6 899.3H134.3M134.3 877.3H103.3M103.3 877.3V893.8M103.3 893.8H109.6M134.3 866.4H100.4M100.4 866.4V885.6M100.4 885.6H103.3M134.3 921.2H105.4M105.4 921.2V932.2M105.4 932.2H134.3M134.3 910.2H100.6M100.6 910.2V926.7M100.6 926.7H105.4M134.3 943.1H100.6M100.6 943.1V954.1M100.6 954.1H134.3M100.6 918.5H95.2M95.2 918.5V948.6M95.2 948.6H100.6M100.4 876H89.5M89.5 876V933.5M89.5 933.5H95.2M134.3 976H104.8M104.8 976V987M104.8 987H134.3M134.3 1008.9H108.6M108.6 1008.9V1019.9M108.6 1019.9H134.3M134.3 997.9H104.2M104.2 997.9V1014.4M104.2 1014.4H108.6M104.8 981.5H98.1M98.1 981.5V1006.2M98.1 1006.2H104.2M134.3 1030.8H96.8M96.8 1030.8V1041.8M96.8 1041.8H134.3M98.1 993.8H92.7M92.7 993.8V1036.3M92.7 1036.3H96.8M134.3 965.1H89.1M89.1 965.1V1015.1M89.1 1015.1H92.7M89.5 904.8H86M86 904.8V990.1M86 990.1H89.1M134.3 1074.7H98.7M98.7 1074.7V1085.6M98.7 1085.6H134.3M134.3 1063.7H95.2M95.2 1063.7V1080.2M95.2 1080.2H98.7M134.3 1052.8H88.5M88.5 1052.8V1071.9M88.5 1071.9H95.2M134.3 1118.5H106.3M106.3 1118.5V1129.5M106.3 1129.5H134.3M134.3 1107.6H94.3M94.3 1107.6V1124M94.3 1124H106.3M134.3 1096.6H93.3M93.3 1096.6V1115.8M93.3 1115.8H94.3M134.3 1151.4H102.9M102.9 1151.4V1162.4M102.9 1162.4H134.3M134.3 1140.5H98.1M98.1 1140.5V1156.9M98.1 1156.9H102.9M134.3 1173.4H95.6M95.6 1173.4V1184.3M95.6 1184.3H134.3M98.1 1148.7H91M91 1148.7V1178.8M91 1178.8H95.6M93.3 1106.2H85.7M85.7 1106.2V1163.8M85.7 1163.8H91M88.5 1062.4H83.4M83.4 1062.4V1135M83.4 1135H85.7M86 947.4H79.5M79.5 947.4V1098.7M79.5 1098.7H83.4M80.9 644.3H63M63 644.3V1023M63 1023H79.5" stroke="#000" stroke-width="1.1" fill="none"/>
<text x="9" y="541" font-size="42" font-weight="bold">C</text>
<clipPath id="cd"><rect x="826.6" y="548.4" width="547.4" height="570.4"/></clipPath>
<path d="M837.5 548.4V1118.8M976 548.4V1118.8M1114.5 548.4V1118.8M1253 548.4V1118.8M826.6 1023.9H1374M826.6 885.3H1374M826.6 746.7H1374M826.6 608.1H1374" stroke="#efefef" stroke-width="1" fill="none"/>
<path d="M906.7 548.4V1118.8M1045.2 548.4V1118.8M1183.7 548.4V1118.8M1322.2 548.4V1118.8M826.6 1093.2H1374M826.6 954.6H1374M826.6 816H1374M826.6 677.4H1374" stroke="#e8e8e8" stroke-width="1.3" fill="none"/>
<g clip-path="url(#cd)">
<path d="M1008.9 1026.8h0M1027.2 1059h0M1062.6 1082.4h0M977.8 931.6h0M1011.9 1059.3h0M1113.8 985.6h0M1091.8 995.9h0M1064.5 1076.1h0M1063.9 1033.3h0M1048.4 1088.5h0M1068.9 1078.9h0M1081 1006.5h0M1017.7 1080.2h0M1095.8 994.5h0M1075.5 991.2h0M1074.9 989.3h0M1030.7 1059.1h0M1037.5 1074.8h0M1097.7 1051.1h0M994.8 1040h0M1109.7 992.8h0M1062.7 1069.2h0M1029.4 1073.1h0M1057 1067.6h0M1101.2 960.7h0M1104.6 934.1h0M1113.2 958.3h0M998.5 968.1h0M1109.6 926.5h0M1054.8 1069.7h0M1005.2 989.7h0M1055.4 1080.5h0M984.7 930.3h0M1113 1038.7h0M1086.8 1016.5h0M996.8 1033.2h0M1082.4 967.2h0M982.1 965.3h0M982.2 950h0M1021.8 1031.5h0M1111.8 981.9h0M1114.2 1007.3h0M986.6 972.7h0M980.3 1025.3h0M1032.4 1069.4h0M997.6 1064.9h0M1096.1 1018.9h0M1108.7 927.7h0M1028.3 1067.1h0M1048 1090.1h0M1058.4 1064.8h0M1061.8 1036.7h0M1035.7 1073.9h0M1008.9 1049.5h0M1111.4 979.9h0M1051.9 1090.4h0M1033.5 1072.4h0M978.7 963.7h0M1063.5 1082.3h0M1062.8 1059.7h0M1070 1054.3h0M1073.9 1010.7h0M979 1044h0M1069.6 1005.5h0M1010.7 1038.2h0M1058 1075.1h0M1026.4 1071h0M1027.1 1059.2h0M1017.6 1055.5h0M1082.9 1073.5h0M1054.8 1069h0M1018.9 1067.9h0M1087.3 1040.1h0M1001.9 1024.8h0M1072.6 1073h0M1020.5 1062.5h0M1091.4 1002.8h0M1094.4 1042.4h0M1022.6 1047h0M1098.5 996.6h0M1007.1 1064.8h0M1049.3 1090.2h0M1087.7 953.3h0M1001.4 1041.5h0M1087.8 981.3h0M1087.6 1024.3h0M993.9 1029.1h0M1085.9 1037.6h0M1023.9 1062.5h0M1034.1 1078h0M1103.5 1037.7h0M976.6 916.4h0M1097.8 915h0M1036.1 1070.3h0M1104.4 1027.3h0M1079.2 982.8h0M1067.8 1045.7h0M1016 1055.9h0M1007.5 1070.3h0M1057.5 1077.3h0M1088.2 1066.9h0M1101.1 959h0M1103.9 928.3h0M1100.6 976.7h0M977.8 944.8h0M999.7 1036.8h0M1067.8 1045.3h0M1033.3 1062.1h0M1060.7 1070h0M1010.9 1002.6h0M1042 1088.8h0M1024.7 1074.9h0M1050 1082.8h0M999.7 979.4h0M1103.6 941.7h0M1090 1071h0M1063 1036.7h0M982.9 1016.5h0M1013.1 1036.5h0M1034.5 1077.2h0M1083.5 1076.3h0M983.5 1038.5h0M993.2 1057.4h0M1110.9 933.4h0M987.9 989.6h0M1019.7 1062.7h0M1024.6 1051.6h0M1057.2 1075.1h0M1002.4 1037.4h0M993.1 993.1h0M1075.1 1042.9h0M987 1034.9h0M1027.6 1059.9h0M1084.3 1025.6h0M1086.9 986.4h0M1035.7 1081.4h0M1073.3 1042.4h0M1072.1 1041.1h0M1009.9 1029.5h0M1072.2 1076.1h0M1034.8 1078.8h0M1097.8 922.7h0M1027.8 1047.6h0M1085.5 1039.5h0M1040.2 1090.2h0M1088.6 976h0M1098.8 944.6h0M1068.4 1027.7h0M1054 1087h0M1057.4 1087.8h0M995.8 971.4h0M982.1 1042.4h0M989.7 940.5h0M1000.8 1069.7h0M1092.5 1051.2h0M1092.8 964.3h0M1091.8 921.2h0M1056.2 1062.8h0M981 942.5h0M1075 1070.6h0M1079.7 969.7h0M984.4 1009.7h0M1054.1 1068.9h0M1009.5 1061.5h0M1010.6 1023.6h0M1080.3 1031.7h0M1026.8 1067.8h0M1024.5 1063.2h0M987.5 989h0M1110.7 995.5h0M1079.5 1060.3h0M1071.6 1015.9h0M1069.3 1042.4h0M1042.9 1091.3h0M1100.2 1041.3h0M989.2 957.7h0M1102.9 984.6h0M1037.3 1077.9h0M1001.7 1043.3h0M1003.5 1011.6h0M1019.6 1067.9h0M1071.7 998.3h0M1016.9 1030.6h0M1033.2 1064.2h0M1056.9 1078.8h0M1006.1 1073.7h0M1042.4 1090.9h0M999.8 1029.8h0M1020.6 1034.8h0M995.8 944.1h0M1042.4 1090.3h0M1040.8 1085.2h0M1089.7 988.5h0M1042.6 1090.4h0M1094.6 1006.3h0M1077.6 975h0M1040.7 1089.7h0M1008.5 1009.4h0M1069.5 1006.3h0M1094.2 1031.2h0M1002.2 1044.9h0M1001.9 994.8h0M1094.9 928.6h0M1011.3 1003.3h0M1019.4 1055h0M1076.9 1071.1h0M988.8 944.4h0M1016.4 1055.2h0M1056.3 1066.3h0M976.9 1002.8h0M1036.4 1080.1h0M1005 1014.8h0M1108.3 1000.1h0M1051.3 1089h0M1014 1027h0M991.5 944.8h0M1101.8 1047.9h0M1106.3 1003.7h0M1082.9 980.1h0M1016.9 1032.7h0M1066.5 1028.3h0M1012.7 1016.7h0M1109.1 959.5h0M1050.2 1090h0M1024.7 1048.1h0M1069.9 1036.9h0M1001.2 999.7h0M1063.3 1075.4h0M1099.2 965.3h0M993 943.2h0M995.5 1026.5h0M1075.7 1019.4h0M1052.8 1076.9h0M1039.3 1087.4h0M1000.4 1064.3h0M1075.1 1005.2h0M1051.2 1080h0M1025.7 1072.5h0M1029 1052.2h0M981.8 981.3h0M1010.2 1008.9h0M1025 1068.3h0M1031.8 1070.3h0M1082.8 1032h0M1093.2 1052.1h0M1013.4 1072.1h0M991.6 959.5h0M1076.7 1060.8h0M1002.1 1027.3h0M1078.9 986.2h0M1079.6 1009.8h0M996.2 1019.3h0M1002.8 1016.3h0M1054.7 1083.8h0M1010.6 1008.8h0M980.1 937h0M1099.4 920.7h0M1029 1064.7h0M1056.7 1066.6h0M1111.3 956.8h0M1017.4 1020.7h0M1043 1091.5h0M1076.6 1080.2h0M1082.7 993.1h0M1048.5 1089.7h0M1002.7 1016h0M981.1 981.6h0M1065.4 1055.9h0M1054.3 1064.6h0M1099.5 1043.9h0M1085.7 989.7h0M983 1003.4h0M1008.3 1070h0M1050.6 1079.5h0M1020.7 1029.1h0M1072.2 1070.5h0M1094.8 975h0M1104.3 954.8h0M1078.4 1041h0M1087.7 939.9h0M1095.3 1000.3h0M1080.8 1019.8h0M991.1 1058.8h0M986.7 1031.3h0M998.2 1010.9h0M1072.8 1032.5h0M1034.4 1072.6h0M1018.1 1050.3h0M1080.8 1029.8h0M1001 970.5h0M1075.6 1043.3h0M1027.3 1062.6h0M1058.6 1078.2h0M976.3 1020.2h0M1084.4 1056.9h0M1039.7 1089h0M1004.9 1057.6h0M1031.9 1082h0M979.8 1037.5h0M999.3 1013.7h0M984.2 1054.8h0M1038 1084.2h0M1073.4 1077.2h0M1031.8 1074.8h0M979.6 913.4h0M1006.3 1066.7h0M1041.7 1091.1h0M1062.2 1067.5h0M993.1 1059.5h0M1076.7 1051.1h0M1085.1 1012.7h0M1105.2 1015.2h0M1010.6 1055h0M1088.8 980.3h0M1023.7 1079.7h0M1070.5 1001.6h0M1058 1087.5h0M980.1 1040.8h0M999.5 1067.2h0M983.4 959.9h0M1100.6 1033.2h0M1110.8 986.4h0M1087.2 943.6h0M1106.2 1053.2h0M1018.2 1040.4h0M1107 1044.6h0M1016.6 1019.2h0M991.8 1012.7h0M1022.2 1044.5h0M1104.5 1034.1h0M1078.4 997.1h0M1091.7 984.1h0M1103.9 1006.9h0M1033.4 1081.8h0M1083.9 1013.3h0M1013.3 1066.2h0M1075.8 1018.5h0M1074.4 1043.6h0M1043.4 1092.5h0M1074.4 1079.4h0M1040.6 1085.4h0M1069.8 1075.7h0M1008.8 998.4h0M1064.9 1029h0M1096.8 997.6h0M1100.2 953.3h0M1022.2 1062.5h0M985.9 1000.8h0M1108.3 1041h0M1054.7 1086.3h0M987.2 966.7h0M1009.3 1073.5h0M997.1 990.6h0M1057 1087.7h0M1007.8 983.7h0M1006.4 1020h0M1034.1 1068.5h0M1059.7 1051.7h0M1050.1 1089.4h0M1000.5 1063.2h0M1090.3 1054.8h0M979.3 913.3h0M1003.5 978.6h0M987.8 994.8h0M1006.8 994.3h0M1061.2 1054.2h0M1081.4 970.9h0M1023.9 1052.4h0M1037.7 1088.4h0M1091.6 977.8h0M1088.8 1042.6h0M1050.6 1085.2h0M1076.8 1072.2h0M1023.9 1058.8h0M985.9 977.9h0M1077.8 1033.3h0M1065.8 1044.4h0M1005.6 1040h0M1113.9 1004.1h0M1035.6 1087.4h0M1006.1 1059.4h0M1104.9 953.1h0M1097.1 915.1h0M1060.7 1041.3h0M1050.1 1086.7h0M1107.3 927h0M1107.5 987.2h0M1083.1 1024.6h0M1114.1 923.9h0M1016.4 1012.4h0M1001.5 1062.2h0M1076 1050.2h0M1047.9 1090.4h0M981.6 945.9h0M1014.2 1046h0M1023.7 1044.4h0M1079.4 1045.8h0M990.3 1022.5h0M1032.9 1085.6h0M997.2 976.3h0M1073 991.2h0M1111.6 930.3h0M1027.6 1079h0M1019.2 1052.1h0M1048.8 1088.6h0M1025.8 1044.1h0M1015.4 1045.8h0M1098.8 942.3h0M1017.1 1064.6h0M1087.7 1072.4h0M994.2 998.5h0M1050.2 1089.5h0M982.9 1026.5h0M1082.6 1018.1h0M1111.6 942.9h0M1111.6 1047.6h0M1001.6 1071.5h0M1035.8 1082.3h0M983 975.8h0M988.9 1018.7h0M1010.2 1006h0M1033.9 1081.6h0M982 992.5h0M1062.9 1047.8h0M1102.3 941.5h0M1010.2 1066.3h0M1081 982.4h0M1091 986h0M1014.7 1067.6h0M978.3 959.6h0M1100.2 927.2h0M1040.7 1086.3h0M1104.6 940.3h0M1059.4 1068.8h0M1047.7 1091.9h0M1001.3 995.8h0M1113.4 975.3h0M1032.5 1077.2h0M1039 1080.7h0M1038.6 1077.7h0M997.5 1031.6h0M1048.2 1090.4h0M1093.8 939.9h0M1104.9 969.7h0M980.2 970.3h0M1052.1 1081.8h0M1014.7 1025.1h0M1102.2 1046.7h0M1068.6 1055.3h0M1047.2 1092h0M1109 963.7h0M1003 974h0M1001 1029.2h0M1090.7 1023.1h0M1013.5 1002.4h0M1106.7 1011.7h0M1030.3 1076.7h0M994.2 1034.9h0M1111.7 1041.3h0M1007.8 1057.8h0M987 984.2h0M1078.9 983.8h0M1063.4 1038.1h0M976.7 1010.1h0M1109.1 1045.3h0M1013 1039.9h0M1013 1034.7h0M982.5 1021.5h0M1108.6 1035.1h0M1101.4 1036.1h0M1113.5 957.7h0M1065.5 1075.7h0M983.5 944.2h0M1000.3 1050.3h0M1089.9 940.1h0M982.7 914.2h0M1050 1087.4h0M990.8 1010.9h0M1112.7 1012.4h0M994.1 1048.4h0M993.5 1020.6h0M1102.7 1050.1h0M1002.5 970.7h0M1114 915.8h0M1010 1046.2h0M1107.6 987h0M1073.4 1052.4h0M978.9 1002.8h0M1079.6 987.9h0M1054.7 1076.6h0M1050.5 1085.8h0M1050 1082.8h0M1003.7 1011h0M1105.1 935.2h0M1000.8 962.8h0M1092.3 1044h0M1012.8 1063h0M983.3 911.6h0M1032.6 1062.2h0M991.8 1063.4h0M1096.4 944.8h0M1113.3 956.3h0M1048.7 1087.5h0M988.8 986h0M1037.1 1087.4h0M1059.1 1073.3h0M1027.7 1072.3h0M1025.6 1055.9h0M1111.7 921.9h0M1095.4 938.6h0M1015.7 1007h0M1013.3 1070.1h0M1077.4 1043h0M1065.3 1066.7h0M1109.9 990.3h0M1042.1 1090h0M1097.1 915.1h0M1049.1 1088.5h0M1061.5 1082.8h0M1034.9 1069h0M1083.6 1068.8h0M1094.3 1009h0M1111.9 1001.2h0M1005.7 1019.9h0M1098.4 999.7h0M1096.1 957.6h0M1026 1071.2h0M1031.2 1074.7h0M1066.2 1024.6h0M1056.9 1083.1h0M1006.4 1039.1h0M1061.1 1079.5h0M987.2 1014.6h0M1015.1 1078.9h0M1050.6 1079.6h0M1050 1083.8h0M1090.7 943h0M1102.4 996.1h0M1070.5 1073.2h0M1097.8 1008.1h0M1041.8 1087.6h0M1015.7 1067h0M1090 981.5h0M987.7 1057.5h0M1024.6 1084.7h0M1091.2 1042.7h0M1013.9 1049.1h0M1035.8 1076.2h0M1067.3 1052.7h0M989.4 925.8h0M1071.7 1075.4h0M1037.1 1076.8h0M1113.3 1041.5h0M977.3 982.4h0M1034.4 1066.6h0M1090.4 1021.2h0M1033.9 1073.3h0M1098.4 1034.6h0M1030.2 1083.6h0M1064.8 1083.8h0M1105.5 982.5h0M1055.4 1086.4h0M1008.1 1032.4h0M1094.7 984.7h0M1015.4 1005.7h0M1067.6 1045.5h0M1004 1043h0M1100.6 1043.5h0M1049.6 1086h0M1025.1 1046.5h0M1102 934.3h0M1078.2 1057h0M984.2 993.3h0M1019.2 1070.1h0M1096.6 1033.7h0M1089.9 930.6h0M992.5 944.2h0M1031 1079.8h0M1001.8 1068.9h0M1029.2 1053.4h0M1091.3 1062.3h0M1031.5 1074.6h0M1000.6 1043.6h0M1012.4 1021h0M1023.1 1078.3h0M1006.5 1032.1h0M1054.2 1083.3h0M1072.8 1062.3h0M1068.9 1036.1h0M1000.3 985.7h0M1030.6 1068h0M1058.7 1061.3h0M1037.2 1089h0M1084.9 960.1h0M1056.1 1079.9h0M1100.4 960.4h0M1006.7 995.2h0M1112.5 1003.6h0M1113.8 983.8h0M1000.7 990.6h0M1022.9 1043h0M1056.8 1084.5h0M1049.1 1085.6h0M1042.1 1090h0M1095.5 998.7h0M1056.7 1060.2h0M1004.1 1064.8h0M1081.4 1010.2h0M1017.9 1019.7h0M1098.5 982.9h0M1112.8 935.7h0M1079.6 1045h0M977.4 954.2h0M1077.8 1041.3h0M1042.3 1090.1h0M1010.6 1016.3h0M1053.9 1080.4h0M991.1 989.1h0M1020.2 1037.1h0M999.8 1025.9h0M1003.1 1029.9h0M1055.8 1085.4h0M983.5 985.6h0M1003.9 1020.9h0M999.1 1059.3h0M1050.4 1080.2h0M1096.2 987.7h0M1031 1084.7h0M1014.2 1055.6h0M1106.4 1041h0M1107.2 988.4h0M1036.1 1084.1h0M1109.3 1028.6h0M1055.1 1074.5h0M1003.6 1050.5h0M1112.4 942h0M1077.5 981.3h0M989.6 964.9h0M1079.9 1052.2h0M1039.3 1079.5h0M1021.2 1037.2h0M998.8 991.9h0M1013.3 1038.2h0M1027.5 1048.1h0M1079.1 1021.3h0M1071.1 1046h0M1087.3 1037.3h0M1051.3 1082h0M1029.7 1084.9h0M999.5 996.5h0M1005.2 997.4h0M1108 934.8h0M1076.7 1040.8h0M982 973.8h0M1079.2 973h0M1004 1057.9h0M1111.7 949.3h0M1043.1 1091.5h0M996.6 1002h0M1068.6 1037.3h0M998.3 1054.1h0M1062.5 1037.3h0M995.1 1067.1h0M987.4 947.7h0M1030.1 1070.2h0M1113.6 966.4h0M1012.4 1020.4h0M976.2 1009.9h0M1072.7 1066.6h0M980.5 978.7h0M1021.4 1024.8h0M990 952.3h0M1029.8 1056.6h0M1037.6 1079.4h0M1021.2 1070.1h0M1038.6 1079.9h0M1023.8 1072.4h0M1033.5 1085.6h0M1019.7 1045.8h0M1051.5 1081.3h0M1016.1 1079.8h0M979.6 1004.2h0M1003.2 1012.6h0M1012.7 1015.9h0M1059.2 1058.5h0M1077.8 1022.3h0M1035 1081.9h0M984.7 939.3h0M989.8 934.2h0M1056.6 1067.3h0M1036.7 1087.4h0M1114.4 1026.5h0M1026.7 1039.8h0M992.9 1000h0M1042.4 1091.4h0M1104 999.3h0M977.6 983.5h0M976.6 949.7h0M1096.3 927.6h0M982.6 956.5h0M1018.2 1049.7h0M1017.6 1060.6h0M994.3 986.6h0M988.2 924.3h0M982 913.7h0M1002.5 1064.5h0M1079.1 1018.2h0M1082.4 1013.1h0M1063.3 1081.1h0M1069.3 1042.8h0M1109.2 1054.1h0M985.4 958.6h0M1104.2 998h0M1074.4 1026.4h0M1030.1 1069.8h0M1059.3 1085.7h0M1018.3 1031.5h0M1011.7 1038.4h0M1011.5 1048.1h0M1066.1 1034.2h0M1108.5 987.7h0M1004 1039h0M984.1 1022.1h0M1056.9 1066.8h0M1009.4 1061.3h0M989.5 1038.2h0M1011.3 1001.7h0M1054.2 1080.9h0M1035.7 1088.4h0M1077.5 998.2h0M1026.3 1051.5h0M1013.7 1062.6h0M1007.6 1057.9h0M1059.9 1057.7h0M1076.7 1069.4h0M1082.1 1017.7h0M1028.4 1065.5h0M1035.9 1085.2h0M1030.7 1064.5h0M1075 989.4h0M1002.9 977h0M1086.8 974h0M1111.6 1033.2h0M1083.5 959.8h0M992.9 987.4h0M1107.1 1014.9h0M1094.4 927.6h0M1036.2 1086.7h0M1005.8 991.6h0M1034.4 1080.9h0M1037.3 1074.2h0M1011.1 1077.5h0M1107.4 1011.3h0M1029.3 1049h0M1015 1074.4h0M1098.9 1027.9h0M1006.6 983.1h0M1007.7 989.9h0M1022.1 1066.4h0M1005.8 1020.9h0M1053.5 1080.7h0M1017.2 1021.8h0M1105.3 949.1h0M1089.5 1061.9h0M1010.6 1060.6h0M997.4 951.8h0M1101.3 925.9h0M1053.2 1087.4h0M1035.1 1087.7h0M1101.2 1023.1h0M1015.9 1009.9h0M1003.7 976h0M1019 1038.3h0M990.7 941h0M1031.2 1075.5h0M1066.6 1043.1h0M1010.7 1067.8h0M1055.7 1088.1h0M1096.6 1014h0M999.4 1033h0M991.7 1022.4h0M1051.2 1084.9h0M1022.2 1067.3h0M1043.3 1092.1h0M1036.6 1075.2h0M1042.8 1092.1h0M999.5 972.4h0M1042.3 1090.9h0M1047.4 1091.6h0M1027.9 1070.8h0M1026.6 1085.3h0M1051.4 1083.4h0M1038.5 1084.1h0M1075 1062.6h0M1111.9 1036.2h0M1095.9 1040.5h0M1086.1 1038.8h0M986.8 981.7h0M1092.1 937.4h0M1097.4 916.1h0M983.3 1000.8h0M990.8 960.7h0M1038.5 1080.3h0M1086.2 936.3h0M1069.7 1012.3h0M1051.9 1089.2h0M1099.4 1050.8h0M987.8 942.3h0M1014.8 1029h0M979.9 1023.1h0M1075.1 1077.5h0M1105.8 1027.3h0M1073.6 1011h0M1061.8 1045.9h0M1072.6 1081.1h0M1002.5 1014.8h0M1110.3 1023.3h0M1057.2 1083.4h0M1093.2 999.9h0M1048.2 1089.3h0M994.9 974.6h0M1086.7 953.6h0M1014.9 1062.8h0M998.8 964.3h0M1036.6 1082.4h0M1048 1089.8h0M1020 1061.7h0M1082.1 980.4h0M1016.9 1076.7h0M1104.5 952.7h0M1058.2 1071.4h0M1108.7 994.2h0M1005.9 1065.8h0M1024.6 1053.9h0M1026.4 1041.5h0M1065.9 1053.9h0M1067.4 1040.4h0M1061.5 1060.9h0M1048.4 1089.7h0M1091.1 1041.6h0M1084.7 1035.8h0M1093.5 1058.1h0M1043.1 1092h0M1074.5 1061.6h0M1012.3 1068.4h0M1053.7 1076.1h0M976 1024.3h0M1003.6 972h0M1039 1083.7h0M1016.1 1032h0M1088.5 974.8h0M976.2 987.5h0M982.1 939.4h0M1020.1 1064.6h0M1062.5 1053.7h0M1095 987.7h0M1023.5 1081.2h0M1052.5 1083.2h0M1050.3 1087.3h0M976.9 1045h0M997.8 1058.8h0M1093.9 978.5h0M1009 1011.3h0M1063.8 1082h0M1080 1051.7h0M1114.1 1030.3h0M1015.5 1062.3h0M1095.4 941.1h0M1056.2 1083.7h0M1035.3 1073.5h0M984 920.2h0M1092.5 923.8h0M1072.7 1025.3h0M1111 1015.7h0M1018.3 1074.1h0M1000.9 981.9h0M989.1 958.1h0M1030.8 1056.9h0M1081.2 994.3h0M1093 1063.2h0M1012.7 1049h0M1035.4 1074.4h0M1097.7 952.8h0M1104.6 957.6h0M1025.3 1060h0M1079.6 983.9h0M1027.2 1070.1h0M1061.1 1075.1h0M1098.2 1065.5h0M1065.8 1052.4h0M1003 1012h0M1041.6 1086.8h0M1098.5 976h0M1096.6 930.9h0M998.8 972.9h0M1091.4 916.7h0M1081.2 1030.2h0M1004.5 1006.7h0M1005.1 997.2h0M1055.5 1064.1h0M1025.3 1070.2h0M1101.2 963.6h0M1028.3 1063.1h0M1036.3 1076.9h0M1047.5 1091.9h0M1111.6 929h0M1081 1044.3h0M1002.9 994.3h0M1089.8 973.8h0M1005.5 1002h0M1048.4 1090.3h0M1057.5 1071.2h0M1065.8 1034.4h0M1112.1 1036.5h0M1055 1062.3h0M1066.9 1043.2h0M1094.1 1064.1h0M1085.7 989.6h0M1056.9 1077.4h0M1061.7 1079.8h0M1048.7 1090.4h0M1105 941.6h0M1041.4 1087.4h0M1029.2 1066.2h0M998.3 967.8h0M1081.8 983.5h0M987.5 942.9h0M977.6 970.5h0M1043.5 1092.6h0M1034.4 1066.6h0M1062.4 1068.9h0M1088.7 1020.7h0M1100.2 1003.4h0M986.7 918.5h0M985.8 1022.2h0M1082.7 1062.4h0M1051.3 1077.8h0M1057.7 1074.7h0M1080.9 978.2h0M1056.2 1068.2h0M1020.6 1058h0M1113.3 916.9h0M976.2 1021.9h0M1007.2 998.9h0M1003.7 1056.4h0M1082 1056.4h0M1111.3 989.1h0M1100.4 940.2h0M1004.6 993h0M1033.4 1082.1h0M982.3 952.3h0M1053.7 1082.7h0M1091.3 1040.5h0M1037.5 1088.7h0M1024.5 1038.9h0M997.2 1040.8h0M1065.2 1067.2h0M1098.8 1055.8h0M1096.3 971.3h0M1089.8 1018.9h0M985.5 1033.8h0M1062.8 1084.6h0M991.2 958.2h0M1097.6 935.1h0M1091.9 983.2h0M1097.2 959.4h0M1053.1 1080.8h0M979.3 1040.1h0M1010.5 1037.4h0M992.7 937.2h0M1055.8 1065.8h0M1099.6 1030.1h0M1098.7 919.4h0M1013 1069.6h0M1086.8 949.3h0M1086.5 1017.4h0M1059.3 1082h0M1008.4 1037.7h0M1079.1 1069h0M1104.5 1055.4h0M1110.2 1020.5h0M1089.4 950.5h0M1108.1 988.8h0M1072.7 1055.4h0M1091.3 1054.2h0M1098.3 975.2h0M984.5 917.2h0M1019.7 1078.8h0M1011.8 1077.1h0M1014.9 1025.5h0M1112.9 963.9h0M1094.2 940.7h0M1074.9 1042.8h0M1010.8 1065h0M1051.7 1087.3h0M1078.4 1043.5h0M1056.2 1070.9h0M1062.9 1077.2h0M1011.4 1019.1h0M1005.5 1006.9h0M1109.6 999.5h0M1109.1 967.8h0M1106.7 981.5h0M1080.2 997.6h0M1003 1017.8h0M1056.4 1073.1h0M1067.4 1018.1h0M1086.1 962.6h0M995.8 980.3h0M1062.8 1033h0M976.3 1025.3h0M1111.1 1000.9h0M1073.7 1025.2h0M1031.1 1072.3h0M1053.8 1066h0M1049.8 1083.7h0M1018 1032.7h0M1059.7 1053.6h0M1097.8 1053.7h0M1109.9 968.1h0M1011.9 1039.6h0M989.4 1030.6h0M1092 958.6h0M1095.9 1042.4h0M990.9 1012.6h0M1074.4 1052.3h0M1078.1 1014.8h0M1015.9 1022.1h0M986.2 972.8h0M1002 1068.5h0M1042.2 1090.2h0M1060.8 1068.3h0M1104.7 944.7h0M997.3 1069.2h0M1109 996.8h0M990.5 1039.6h0M1072.9 1065.8h0M1027.6 1056.7h0M1024.7 1051.5h0M1107.3 942.8h0M1063 1050.4h0M1018.8 1039.5h0M1065.9 1045.4h0M1080 1054.5h0M1074.8 983.9h0M980.9 1017.9h0M1112.5 1040.1h0M1089.2 986.3h0M985.6 965.9h0M977 929.8h0M1017.8 1017.3h0M1100.3 1043.2h0M1031.8 1082.4h0M1080.9 1066.6h0M986.2 1042.9h0M1094.9 1030h0M1020.7 1055.7h0M1052.4 1082.5h0M1107.1 1008.1h0M1041.9 1088h0M1009.7 1062.3h0M1091.8 1021.2h0M1099.5 940h0M1027.6 1071.6h0M990 942.3h0M1037.2 1084.2h0M1000.4 1046.2h0M1097 1046.6h0M1052.8 1077.5h0M1048 1090.5h0M1031 1080.5h0M1089.7 937.7h0M1054.1 1083.3h0M1102.3 1031.9h0M999.6 998.6h0M1091.1 982.7h0M991.1 931.2h0M997.6 1028.3h0M1112.8 941.7h0M1080.6 1069.2h0M1093.9 1006.7h0M977.4 938.5h0M1104.8 1052.5h0M1038.9 1079.2h0M1022 1066.3h0M1083.8 1018.6h0M1114.2 932.7h0M1094.9 958.5h0M1002.9 999.3h0M1056.1 1073.1h0M1054.4 1081.4h0M1003.3 976h0M1026.8 1081h0M1111.2 981.5h0M1069.6 1056.2h0M996.6 1028h0M1091.4 1028.4h0M1102.3 1016.6h0M1100.2 1036.8h0M1037.4 1087.9h0M996.5 1004.4h0M1026.5 1060.7h0M1005.9 1044.5h0M1020.5 1026.9h0M987.2 1000.6h0M1094.3 979.7h0M1011.4 992h0M991 1045.8h0M978.3 988.9h0M1094.9 1024.5h0M1015.5 1020.2h0M986.7 1058h0M1067.8 1077.8h0M1049 1090.8h0M1059.3 1050.2h0M1038.7 1087.1h0M1062.3 1048.1h0M983.8 1021.9h0M1028.1 1065h0M1013.8 1027.2h0M1011.3 1000h0M1024.7 1073.7h0M986.8 1042.2h0M1005.8 986.2h0M1033.6 1076.4h0M1108.9 917.8h0M1082 1047.5h0M1021.3 1053.1h0M1011.7 1049.3h0M1005.4 1050.9h0M1079.8 1008.2h0M1037.7 1082.6h0M1060.9 1052.8h0M979.1 931h0M1040 1088h0M1108.7 947.7h0M1024.5 1083.8h0M1036.5 1081.3h0M1027.9 1081.9h0M1055.8 1080.8h0M1081.5 1012.9h0M1016.5 1020.7h0M1037.9 1089.1h0M1014.7 1076.8h0M1035.5 1069.2h0M1106.2 963.5h0M997.3 1040.5h0M1004.1 1035.3h0M1064.3 1084.2h0M1034.9 1073.4h0M1090.4 1011.2h0M1059.4 1075h0M1038.9 1082.7h0M983.2 980.7h0M1001.4 1044.9h0M1090.1 1019.1h0M1002.6 1042.6h0M1048.1 1090.6h0M1024.6 1068.3h0M1005.9 1024.9h0M1059 1083.3h0M1057.7 1076.1h0M1111.5 921.7h0M994.1 977h0M1023.8 1078.8h0M1097.2 927.1h0M1084.9 990h0M1111.4 975.1h0M1069.6 1030.8h0M1095 935.4h0M1018.1 1068.1h0M1051.6 1081.3h0M1024.9 1041.2h0M1093.5 962h0M1050.1 1083.9h0M1003 986.3h0M993.6 948.6h0M1062.6 1070.7h0M1002.3 1007.5h0M1040.2 1084.9h0M989.5 940.6h0M1035.4 1079.4h0M1078.2 1011.9h0M1037.6 1085.4h0M1040.5 1091.2h0M1011.4 1007h0M992.6 1054.5h0M1093.4 1011h0M1049.3 1086.9h0M1075.4 1048.7h0M1082.6 1077h0M1093.3 1021.1h0M1062.6 1069.3h0M1079.7 1034.8h0M1059.4 1073h0M1091.2 950.5h0M1003.8 994h0M1106.5 1023.5h0M1002.3 971h0M1109.3 1036.5h0M1083.4 956.4h0M1012.4 1013.7h0M1017.1 1025.2h0M1041.4 1091.1h0M1066.3 1036.4h0M1016.2 1078.3h0M988.5 1025.3h0M1114 948.1h0M1100 950.8h0M994.5 1017.8h0M1107.5 934.4h0M1113.3 937.8h0M1074.4 1006.5h0M1102.7 997.8h0M980.6 1008.8h0M977.8 1012.4h0M1057.7 1077.5h0M1010.3 1070.1h0M1025.6 1060h0M1057.8 1051.9h0M985.7 1021.7h0M986.6 924.3h0M1063.5 1047.2h0M1088.6 1072.8h0M1101.1 1013.2h0M1063 1062.9h0M1079.2 1044.3h0M1014.4 1060.9h0M1076.3 1032.7h0M997.5 1026.6h0M1054.6 1079.3h0M1058 1054.9h0M1064.6 1035h0M1018 1021.6h0M1106.2 981.2h0M979.1 1040.4h0M1080.8 973.5h0M1076.3 1027.4h0M1050.8 1089.6h0M1058.8 1045.6h0M1004.4 1010.9h0M1093.8 967.7h0M1024.5 1072.7h0M1077.4 979h0M1097.5 1004.8h0M1079.1 986.1h0M1027.9 1054.1h0M1029.4 1078.9h0M976 947.2h0M1080.2 1073.5h0M984.5 1010.6h0M1004.8 999.1h0M1002.3 1009h0M1052.2 1084h0M1094.3 1000.7h0M1068.2 1053.4h0M1001.7 966.7h0M1080.1 1014.2h0M1061.4 1071.3h0M986 979.5h0M1100.6 1048.6h0M1111.8 1000.2h0M1114.2 944.5h0M1013.6 1063.1h0M1099 916.1h0M1087.5 990.4h0M1051.2 1079.3h0M1089.9 946.3h0M1015.9 1019h0M1108 974h0M977.2 1023.9h0M1066.1 1055.8h0M1103.1 966.1h0M1072.8 1068.3h0M1048.6 1088h0M1102.9 927.6h0M1012.5 1037.4h0M1111.5 1040h0M985.7 1032.7h0M1077.3 1044.9h0M1074 1001.7h0M1087.9 1067.9h0M1071.3 1013.3h0M1073.3 1000.6h0M1089.2 981.5h0M1095.9 983.4h0M990.9 1025.5h0M1105.1 1010h0M1041.2 1086.2h0M1070.9 1015.3h0M1041.1 1088.2h0M986.6 1031.3h0M997.9 1005.3h0M1048.8 1091.4h0M1063.9 1079.6h0M1029.4 1085.5h0M1041.7 1091.2h0M1106.2 1005.6h0M1090.8 1003.5h0M1021.3 1032.5h0M1014 1039.1h0M1064.5 1023.3h0M1073.4 1077.2h0M1039.1 1079.3h0M1094.3 1011.3h0M993.7 1031.8h0M1080.8 1056.4h0M1099.5 1024.2h0M1071.4 1022h0M1009.5 1030.3h0M1063 1070.6h0M1049.6 1085.8h0M1108.6 1015.2h0M1000 1013.2h0M1058.6 1067.4h0M1102.4 1031.8h0M1041.2 1090.5h0M1038.9 1085.1h0M1027.9 1053.3h0M1112.6 917.3h0M1006.2 1038.6h0M1107.4 1044.9h0M988.4 1052.9h0M1108.9 983.4h0M1035.9 1087.4h0M1098.4 914.1h0M1071.2 1003.6h0M1054.6 1081h0M1000.8 1037.8h0M996.7 1023.8h0M982.5 1050.4h0M1100.2 935.9h0M1088.8 1021.2h0M1038.4 1082.8h0M1085 1034.7h0M1052 1075.6h0M1024.3 1084.8h0M1031.9 1059.7h0M1000.2 999.7h0M994.3 1032.3h0M1062.5 1080.5h0M1038.8 1083.2h0M1029.7 1058.3h0M1093.2 1026h0M1081.3 985.4h0M1058.5 1063.4h0M1054.6 1069.5h0M1071.6 1058.9h0M1066 1036.6h0M1040 1082.5h0M1019.5 1046.8h0M1054.7 1072.9h0M1001.4 997.9h0M992 993.8h0M1038.4 1080.8h0M1094.8 915.4h0M1007.8 989.1h0M1041.3 1088.7h0M981.6 929.1h0M1007.6 1050.1h0M1018.2 1066.4h0M1016 1059.9h0M1049.8 1088.1h0M1080.7 966h0M1105 1004.4h0M1070.5 1021.4h0M1076.3 1038.7h0M1002.6 990.8h0M1066.8 1059.7h0M1068.3 1079.1h0M1084.5 956.4h0M1110.3 1037.8h0M1071.7 1013.5h0M995.5 991.3h0M1002.2 1049.3h0M979.8 1012.8h0M1093.6 977.7h0M1086.3 939.5h0M996.9 965.3h0M1100 966h0M1022.2 1074h0M1036.8 1082.9h0M1012 1021.7h0M1063.9 1070.1h0M999.9 1013.8h0M1074.4 1016.1h0M1064.7 1028.6h0M1080.9 1024.7h0M1079.2 1002.5h0M1023.2 1075.3h0M1028.2 1056.3h0M1079.9 1043h0M1051 1090h0M1058.8 1068.6h0M1082.3 969.1h0M983.2 913.6h0M999.7 959.4h0M1112.4 1020.8h0M1016.3 1071h0M1102 949.3h0M1109.8 940.3h0M1025.8 1047.9h0M1025.3 1068.9h0M1034.9 1072.6h0M1019.8 1046.8h0M1054.6 1068.2h0M1041.1 1088.8h0M1052.9 1080.6h0M1077.3 1068.5h0M1000.6 1067.9h0M1033.2 1064.3h0M1059 1060.2h0M1105.5 939h0M1016.5 1065.4h0M1050.4 1088.5h0M1058.5 1084.1h0M1030.1 1060.5h0M1011.3 1066h0M1079.6 1056.3h0M1100.8 971.2h0M1099.1 984h0M1011.7 1074.3h0M1108 1024.9h0M987.2 925.7h0M1050.3 1084.5h0M1103.2 952.7h0M1011.8 1055.1h0M1066.9 1036.2h0M1007.1 1052.2h0M984.2 937.6h0M1067 1073.8h0M1056.2 1069.3h0M988.3 1000.7h0M1085.6 1012.9h0M1076.6 1055.7h0M1114.2 958.3h0M1053.3 1089.7h0M1025.2 1085.2h0M1036.8 1086.5h0M1009.8 1050.3h0M996 1033.2h0M994.6 995.5h0M1107.4 953.1h0M1108.1 1040.6h0M1067.5 1066.8h0M1105.4 986.6h0M1076 1000.2h0M994.3 1054.4h0M1088.2 954.2h0M1036.1 1089h0M979.3 937.2h0M1072.2 1048.7h0M1069.8 1017.4h0M976.9 944.5h0M1111.4 931.3h0M1098.4 998.4h0M1060 1081.6h0M1085.7 984.6h0M1032.1 1085.9h0M1000.8 1026.6h0M1103.5 991.1h0M1095.9 1038.6h0M1011 1058.1h0M1015.8 1021.1h0M1027 1071.4h0M1127.7 1052.1h0M1131.5 1044.6h0M1130.6 1052.6h0M1122.1 1051.9h0M1133.6 1037.1h0M1125.4 1050.7h0M1115.9 1039.7h0M974.3 1047.7h0M972.5 1046.5h0M974.7 1050.7h0M977 858.8h0M979.5 862.8h0M991.2 846.6h0M995.3 849.7h0M977 876h0M981.1 890.2h0M989.2 888.2h0M999.3 907.4h0M1010.5 939.9h0M1005.4 925.7h0M997.3 921.6h0M1105.8 820.3h0M1106.8 832.4h0M1094.6 887.2h0M1110.8 888.2h0M1093.6 905.4h0M1110.8 909.5h0M1083.5 915.5h0M1097.6 917.6h0M1092.6 931.8h0M1102.7 923.7h0M1076.4 954.1h0M1133.1 1039.2h0M1131.1 1049.3h0M943.4 1033.9h0" stroke="#838a8c" stroke-width="11.8" stroke-linecap="round" fill="none"/>
<path d="M919.2 711h0M920.8 738.7h0M927.5 743.5h0M954.6 742.5h0M943 762.9h0M950.7 765.4h0M933.3 796.7h0M961.4 800.6h0M968.1 799.6h0M951.7 808.3h0M950.7 812.2h0M953.6 819.9h0M914 823.8h0M925.6 827.6h0M931.4 830.5h0M944 827.6h0M947.8 837.3h0M959.4 837.3h0M970.1 828.6h0M965.2 835.4h0M957.5 847.9h0M924.6 846h0M923.7 854.7h0M935.3 856.6h0M946.9 854.7h0M970.1 859h0M921.7 867.3h0M943 868.2h0M951.7 870.2h0M947.8 877.9h0M961.4 876.9h0M965.2 880.8h0M932.4 888.6h0M938.2 888.6h0M927.5 894.4h0M940.1 893.4h0M954.6 888.6h0M953.6 897.3h0M965.2 898.2h0M968.1 903.1h0M913 906.9h0M938.2 908.9h0M949.8 910.8h0M961.4 910.8h0M945.9 914.7h0M969.1 914.7h0M933.3 925.3h0M949.8 927.2h0M931.4 936.9h0M940.1 937.9h0M931.4 947.5h0M947.8 945.6h0M957.5 943.7h0M949.8 951.4h0M965.2 951.4h0M934.3 957.2h0M910.1 955.3h0M918.8 959.1h0M915.9 963h0M937.2 967.8h0M946.9 968.8h0M959.4 968.8h0M969.1 961.1h0M957.5 980.4h0M969.1 984.3h0M934.3 988.1h0M933.3 996.8h0M953.6 999.7h0M969.1 999.7h0M953.6 1021h0M965.2 1019.1h0M965.2 1028.8h0M969.1 1026.8h0M974.5 988.8h0M961.1 1032.7h0M964.8 953.3h0M971.3 1002h0M966.7 1019.1h0M975 939.7h0M971.1 1011.1h0M941.2 1020.3h0M961.6 986.2h0M974.2 934.9h0M968.3 1029.6h0M962.3 863.7h0M975.8 1020.8h0M966.8 975.8h0M969.8 1013.9h0M967 1032.4h0M959.6 1024.9h0M965 1015.3h0M975.8 1023.6h0M971.8 1008.1h0M956.6 813.4h0M969.6 916.7h0M973 1017.9h0M970.1 1024.9h0M964.2 991.3h0M965.7 1003.4h0M962.6 949.6h0M975.7 998.4h0M959.8 902.1h0M958.1 943.5h0M969.8 914.4h0M964.4 1004.6h0M968.2 920.5h0M972.2 1006.9h0M961.1 1027.1h0M958.4 1032.7h0M963.9 1025.4h0M969.8 1000.9h0M972.8 868h0M950.3 930.7h0M965.3 994.7h0M970.6 1031.3h0M974 935.2h0M966.1 960.3h0M974.7 994.5h0M964.6 1019.1h0M962.9 1016.4h0M975 1014.1h0M971.2 998.9h0M956 1031.5h0M975.1 1026.3h0M966.2 942.8h0M968 982.2h0M970.6 891.8h0M964.5 1022.2h0M974.5 1031.3h0M958.2 1020.2h0M961.6 966.1h0M968.6 1002.6h0M956.6 956.1h0M970.9 978.7h0M974.8 964.5h0M972.7 1012.8h0M975 950.4h0M962.5 906.4h0M974 953h0M974 912.5h0M962.5 990.5h0M956 1022.8h0M975.2 993.3h0M959.9 956.9h0M973.9 1012.7h0M962.3 1026.1h0M973.7 933.2h0M960.5 998.9h0M971.9 1003.3h0M964.5 1012.6h0M972.5 841.4h0M970.2 963.6h0M969.5 1032.8h0M966.3 922.5h0M963.2 1009.8h0M945 1032.4h0M965.4 998.1h0M939.2 1004.7h0M973.3 1015.2h0M973.3 1023h0M964.2 884.5h0M955.7 1012.2h0M974.3 962.1h0M968.3 831.3h0M971.2 1011.5h0M970 992.8h0M946.8 859.9h0M965.4 866.1h0M967.8 973.5h0M969.2 983.6h0M973.6 1006.3h0M954.6 1007.6h0M967.8 881.6h0M970.7 997.5h0M970 919.8h0M962.7 1014.4h0M966.9 984.6h0M975 1032.7h0M964.2 1031.9h0M956.5 1015.1h0M967.2 971.3h0M953.3 971.8h0M970 950.7h0M963.9 923.7h0M970.3 1008.4h0M970.5 871.9h0M973.1 1012.1h0M961.1 1024.2h0M969.7 997.2h0M974.6 997.7h0M967 859.2h0" stroke="#72b7d6" stroke-width="11.8" stroke-linecap="round" fill="none"/>
<path d="M1174.9 573.9h0M1162.7 706h0M1154 737.3h0M1175.7 735.1h0M1177.3 751.4h0M1132.4 774.6h0M1164.9 775.7h0M1127 791.4h0M1166 803.8h0M1135.7 809.2h0M1147.6 809.7h0M1131.4 826h0M1143.2 831.4h0M1154 834.6h0M1124.9 845.4h0M1184.3 857.3h0M1126.9 790.7h0M1136 808.4h0M1183.7 859.8h0M1183.7 866h0M1166.8 872.1h0M1165.2 879.8h0M1174.5 887.5h0M1154.5 884.4h0M1117.6 875.2h0M1124.5 890.6h0M1179.1 915.1h0M1180.6 932h0M1177.5 947.4h0M1159.1 950.4h0M1166.8 982.7h0M1179.1 988.8h0M1148.3 991.9h0M1159.1 996.5h0M1171.4 999.6h0M1160.6 1014.9h0M1166.8 1022.6h0M1180.8 988.6h0M1171 998.4h0M1161.8 1017.8h0M1140 760h0M1150 790h0M1120 805h0M1127.7 926.3h0M1128.8 792.2h0M1119.6 790.3h0M1116.5 913.9h0M1116.9 920.3h0M1114.7 863.8h0M1124.4 814.5h0M1122.6 916h0M1115.8 794.8h0M1122.9 841.9h0M1117.4 885.7h0M1122 1012.6h0M1118.5 941.7h0M1129.8 1009.7h0M1134.9 1016.1h0M1118.2 1025.6h0M1134.5 965h0M1127.8 1018.8h0M1130.4 960.1h0M1138.7 1021h0M1157.3 958.9h0M1126.1 1014h0M1115.5 973.4h0M1134.5 1006.4h0M1121.8 1004h0M1127.5 1009.6h0M1117 1012.4h0M1144.6 1028.5h0M1114.8 1006.7h0M1140 1032.5h0M1123.5 1028.9h0M1128 950.5h0M1144 925h0M1115.9 928.9h0M1125.5 933.7h0M1124.6 992.1h0M1120.6 974.2h0M1123.1 1028.5h0M1120.6 982.5h0M1121.8 922.3h0M1128.4 999.9h0M1141 1028.8h0M1127.4 913.1h0M1115.7 1001.5h0M1132.2 985.8h0M1121.3 942.2h0M1122.3 987.5h0M1119.3 1027.2h0M1120.2 1005.9h0M1122 979.5h0M1132.1 938.7h0M1141.5 1008.8h0M1136.9 990.2h0M1125.2 972.4h0M1124.7 979.3h0M1131.4 895h0M1130.7 1018.7h0M1136.4 1012.5h0M1118.4 1027.1h0M1149.3 1012.8h0M1138 968.1h0M1119.2 1025.4h0M1133.2 1023.9h0M1129.9 1025.3h0M1114.6 1028.2h0M1114.8 1020.7h0M1121.6 999.4h0M1126.6 986.4h0M1117.8 1020.2h0M1117.2 1002.3h0M1119.6 998.8h0M1120.8 982.6h0M1127 1029.4h0M1119.9 888h0M1123.4 976.1h0M1115.1 1017.4h0M1120.7 982.7h0M1120.2 993.8h0M1122.1 944h0M1119.5 989.5h0M1137.7 869.3h0M1129.9 846.4h0M1125.8 939.4h0M1141.2 944.6h0M1118.9 1012.3h0M1135.2 1005h0M1129.5 1007.2h0M1120.4 1014.9h0M1115.8 773.3h0M1114.7 1032.8h0M1142.1 1011.1h0M1127.6 860.6h0M1115.7 842.8h0M1116.9 881.2h0M1122.4 938h0M1119.7 1032.6h0M1115.1 963.1h0M1121.2 1008.8h0M1130.1 1013.8h0M1125.4 976.2h0M1125.9 1001h0M1120.2 968.2h0M1123.7 867.4h0M1125 970.7h0M1138.4 1017.3h0M1133.5 1023.5h0M1136.3 1025.5h0M1138 1004.6h0M1129.5 1033.1h0M1118 994.5h0M1132.5 1023.6h0M1128.1 1013.9h0M1133.6 1010.1h0M1114.5 976.6h0M1117.6 1013.9h0M1129.9 1009.9h0M1139.1 1012.9h0M1125.9 1030.3h0M1127.4 1003.5h0M1117.3 925.3h0M1121.3 961.6h0M1120.4 955.1h0M1114.9 1004.5h0M1130.6 1016.7h0M1129.3 949.4h0M1126.4 937.9h0M1122.2 1009.1h0M1117.3 976.1h0M1118 1013.9h0M1117.1 944h0M1118.4 1013.5h0M1134.8 930.8h0M1139.4 1017.9h0M1134.4 920.6h0M1121.9 889.8h0M1120.6 896.7h0M1127.9 1012.5h0M1117.9 984.4h0M1116.9 1011.1h0M1116.5 1002.7h0M1115.2 958.4h0M1137 970.1h0M1132.5 909.4h0M1144.2 977.7h0M1120.5 1002.6h0M1125 1015.5h0M1116.5 989.1h0M1128.4 1027.8h0M1120.2 795.1h0M1123 1007.4h0M1129.6 984.4h0M1121.2 977.6h0M1149.7 866.5h0M1126 1008.4h0M1127.3 830.9h0M1122 945.4h0M1122.3 1016.8h0M1127.8 995.7h0M1120.3 996.7h0M1116 1012.8h0M1128.5 1021.6h0M1125.4 1020.3h0M1114.9 874.1h0M1125.7 987.9h0M1124.2 1027h0M1132.6 858.9h0M1116.6 1028.2h0M1140.4 1032.5h0M1122 980.1h0M1116.4 929.2h0M1139.9 904.3h0M1115.7 968.8h0M1120.8 983.9h0M1117.7 994.7h0M1124.1 1000.2h0M1145.9 1017.4h0M1135.3 916.8h0M1128.7 998h0M1132.9 1003.1h0M1122.5 1018.2h0M1115.6 1001.3h0M1124.9 962.6h0M1142 973.5h0M1117.5 1032.5h0M1123 1028.2h0M1127.6 815.1h0M1126.2 1009.6h0M1131 920.4h0M1129 999.6h0M1128.7 1016.8h0M1115.9 891.1h0M1127.9 1024.1h0M1123.6 910.4h0M1139.1 1000.7h0M1120.1 1028.1h0M1114.6 866.8h0M1121.7 1022h0M1115.1 1018.2h0M1115.5 970.1h0M1120.7 1029.4h0M1118.5 1032.3h0M1125.3 949.2h0M1115.5 965h0M1149.4 822.5h0M1115.5 1011.1h0M1118.1 1020.7h0M1137.6 941h0M1136.7 891.4h0M1119.5 969.9h0M1121.7 1001.4h0M1135.6 1026.1h0M1123.9 932.6h0M1123.6 906h0M1127.9 898.4h0M1117.1 892.9h0M1133.5 1027.1h0M1116.9 1028.1h0M1136.8 1021.3h0M1122.8 1009.8h0M1133.5 1025.2h0M1116.4 1021.7h0M1115.6 1020.8h0M1115.2 915h0M1136.5 935.4h0M1127.1 925.4h0M1119.6 970.8h0M1116.8 923.5h0M1117.5 1002.9h0M1119.2 1006.7h0M1134 988.3h0M1149.7 908.8h0M1120.1 970.3h0M1129.4 998.4h0M1134.3 1016.4h0M1140.4 911.4h0M1149.7 937.1h0M1121.2 1013.4h0M1125.8 983.2h0M1131.7 980.4h0M1126.8 999.7h0M1119.8 790.9h0M1125.1 889.9h0M1127.8 1017.8h0M1133.4 1031.7h0M1117.3 1019.5h0M1114.9 794.7h0M1124 1027.4h0M1119.5 1032.1h0M1122.6 1008.5h0M1115.1 1023h0M1117.3 1024.9h0M1135.6 1024.4h0M1116.2 973.6h0M1126.7 1013h0M1115.2 1014.2h0M1116.5 913.2h0M1120.2 1018.9h0M1135.4 1026.4h0M1129.4 1031h0M1122.2 988h0M1127.2 947.8h0M1121.1 901.5h0M1125.3 944.7h0M1121.6 947.8h0M1135.4 1008h0M1116 955.7h0M1141 1011.7h0M1128.7 1029h0M1127.9 936h0M1129.6 950.7h0M1116.4 913h0M1128.7 975.5h0M1122.2 1027.1h0M1119.5 1017.4h0M1120.3 974.9h0M1126.8 839.9h0M1135.2 1032.5h0M1123.2 961.6h0M1140.3 1007.3h0M1120.1 971.1h0M1140.9 998.9h0M1116.4 928.5h0M1127.2 991.3h0M1128.2 959.6h0M1154.5 869.8h0M1119.3 991.8h0M1117.2 892.2h0M1121.1 975.2h0M1116.6 921h0M1114.8 941.8h0M1125.9 1016.4h0M1124.9 993.4h0M1132.4 1030.4h0M1126.3 1019.2h0M1140.7 920.5h0M1129.9 876.9h0M1126.5 1029.3h0M1120.1 1015.5h0M1122.9 1008.3h0M1127 954.9h0M1123.8 931h0M1126 1012.4h0M1117.2 1027.5h0M1141.5 1028.4h0M1131.6 1001.5h0M1115.2 944.4h0M1125.8 934.6h0M1123.8 1024.8h0M1126.5 1003.9h0M1124.6 1032.2h0M1128.2 1025.8h0M1120.8 968.2h0M1127 949.1h0M1114.7 980.4h0M1133.8 993.3h0M1132.4 927.2h0M1126.9 987.9h0M1133.8 1019.9h0M1119.4 972.4h0M1151.2 991.9h0M1144.1 972.9h0M1114.6 1018.1h0M1141.9 942h0M1125.6 958.9h0M1120.7 805.8h0M1126.4 958.3h0M1128.8 999.7h0M1138.2 1029.4h0M1122.5 1000.3h0M1121.8 1027.2h0M1133.2 929.5h0M1117.1 848.8h0M1131.5 1002.3h0M1129.4 865.5h0M1116.2 983.2h0M1127.6 1005.6h0M1121.4 1016.3h0M1117.6 1031.9h0M1233 590.5h0M1271.6 589.1h0M1198.6 618.9h0M1349.2 626h0M1223.1 638.2h0M1193.9 666.2h0M1226.4 699h0M1223.9 701.6h0M1196 703.5h0M1207.3 706.7h0M1327.3 702h0M1186 710.8h0M1212.4 736.2h0M1188.1 741.6h0M1230.8 760.5h0M1187.2 761.4h0M1185.5 784.3h0M1195.7 778h0M1200.8 780.3h0M1197.7 796.9h0M1197.3 800h0M1215 808h0M1228.1 821.6h0M1223.7 836.4h0M1231.2 838.9h0M1242.7 846.2h0M1188.6 898.7h0M1190.6 898.7h0M1218 901.9h0M1226.1 914.9h0M1189.2 914.9h0M1190 948.9h0" stroke="#cd4e39" stroke-width="11.8" stroke-linecap="round" fill="none"/>
<path d="M896.7 673.3h0M874.3 798h0M850.8 810.2h0M902.8 969.8h0" stroke="#72b7d6" stroke-width="11.8" stroke-linecap="round" fill="none"/>
<path d="M976 548.4V1118.8M1114.5 548.4V1118.8" stroke="#bdbdbd" stroke-width="3" stroke-dasharray="18.8 7 5.5 7" stroke-dashoffset="3.4" fill="none"/>
<path d="M826.6 1033.1H1374" stroke="#bdbdbd" stroke-width="3" stroke-dasharray="18.8 7 5.5 7" stroke-dashoffset="23.1" fill="none"/>
</g>
<path d="M1233 590.5m-2.6 0a2.6 2.6 0 1 0 5.2 0a2.6 2.6 0 1 0 -5.2 0M1271.6 589.1m-2.6 0a2.6 2.6 0 1 0 5.2 0a2.6 2.6 0 1 0 -5.2 0M1198.6 618.9m-2.6 0a2.6 2.6 0 1 0 5.2 0a2.6 2.6 0 1 0 -5.2 0M1349.2 626m-2.6 0a2.6 2.6 0 1 0 5.2 0a2.6 2.6 0 1 0 -5.2 0M1223.1 638.2m-2.6 0a2.6 2.6 0 1 0 5.2 0a2.6 2.6 0 1 0 -5.2 0M1193.9 666.2m-2.6 0a2.6 2.6 0 1 0 5.2 0a2.6 2.6 0 1 0 -5.2 0M1226.4 699m-2.6 0a2.6 2.6 0 1 0 5.2 0a2.6 2.6 0 1 0 -5.2 0M1223.9 701.6m-2.6 0a2.6 2.6 0 1 0 5.2 0a2.6 2.6 0 1 0 -5.2 0M1196 703.5m-2.6 0a2.6 2.6 0 1 0 5.2 0a2.6 2.6 0 1 0 -5.2 0M1207.3 706.7m-2.6 0a2.6 2.6 0 1 0 5.2 0a2.6 2.6 0 1 0 -5.2 0M1327.3 702m-2.6 0a2.6 2.6 0 1 0 5.2 0a2.6 2.6 0 1 0 -5.2 0M1186 710.8m-2.6 0a2.6 2.6 0 1 0 5.2 0a2.6 2.6 0 1 0 -5.2 0M1212.4 736.2m-2.6 0a2.6 2.6 0 1 0 5.2 0a2.6 2.6 0 1 0 -5.2 0M1188.1 741.6m-2.6 0a2.6 2.6 0 1 0 5.2 0a2.6 2.6 0 1 0 -5.2 0M1230.8 760.5m-2.6 0a2.6 2.6 0 1 0 5.2 0a2.6 2.6 0 1 0 -5.2 0M1187.2 761.4m-2.6 0a2.6 2.6 0 1 0 5.2 0a2.6 2.6 0 1 0 -5.2 0M1185.5 784.3m-2.6 0a2.6 2.6 0 1 0 5.2 0a2.6 2.6 0 1 0 -5.2 0M1195.7 778m-2.6 0a2.6 2.6 0 1 0 5.2 0a2.6 2.6 0 1 0 -5.2 0M1200.8 780.3m-2.6 0a2.6 2.6 0 1 0 5.2 0a2.6 2.6 0 1 0 -5.2 0M1197.7 796.9m-2.6 0a2.6 2.6 0 1 0 5.2 0a2.6 2.6 0 1 0 -5.2 0M1197.3 800m-2.6 0a2.6 2.6 0 1 0 5.2 0a2.6 2.6 0 1 0 -5.2 0M1215 808m-2.6 0a2.6 2.6 0 1 0 5.2 0a2.6 2.6 0 1 0 -5.2 0M1228.1 821.6m-2.6 0a2.6 2.6 0 1 0 5.2 0a2.6 2.6 0 1 0 -5.2 0M1223.7 836.4m-2.6 0a2.6 2.6 0 1 0 5.2 0a2.6 2.6 0 1 0 -5.2 0M1231.2 838.9m-2.6 0a2.6 2.6 0 1 0 5.2 0a2.6 2.6 0 1 0 -5.2 0M1242.7 846.2m-2.6 0a2.6 2.6 0 1 0 5.2 0a2.6 2.6 0 1 0 -5.2 0M1188.6 898.7m-2.6 0a2.6 2.6 0 1 0 5.2 0a2.6 2.6 0 1 0 -5.2 0M1190.6 898.7m-2.6 0a2.6 2.6 0 1 0 5.2 0a2.6 2.6 0 1 0 -5.2 0M1218 901.9m-2.6 0a2.6 2.6 0 1 0 5.2 0a2.6 2.6 0 1 0 -5.2 0M1226.1 914.9m-2.6 0a2.6 2.6 0 1 0 5.2 0a2.6 2.6 0 1 0 -5.2 0M1189.2 914.9m-2.6 0a2.6 2.6 0 1 0 5.2 0a2.6 2.6 0 1 0 -5.2 0M1190 948.9m-2.6 0a2.6 2.6 0 1 0 5.2 0a2.6 2.6 0 1 0 -5.2 0M896.7 673.3m-2.6 0a2.6 2.6 0 1 0 5.2 0a2.6 2.6 0 1 0 -5.2 0M874.3 798m-2.6 0a2.6 2.6 0 1 0 5.2 0a2.6 2.6 0 1 0 -5.2 0M850.8 810.2m-2.6 0a2.6 2.6 0 1 0 5.2 0a2.6 2.6 0 1 0 -5.2 0M902.8 969.8m-2.6 0a2.6 2.6 0 1 0 5.2 0a2.6 2.6 0 1 0 -5.2 0" stroke="#000" stroke-width="1.3" fill="none"/>
<path d="M1233 687.8L1226 699M1149.9 719L1161.1 717.5M1155.1 755L1188.2 741.6M1246.4 756.4L1257.5 755.7M1187.2 761.4L1179.5 783.7M1236.2 800.5L1228.1 821.6M1197.5 800L1187.6 812.1M1180.5 856L1223.7 836.4M1242.7 846.2L1255.5 854M1218 901.9L1255.5 900M1189.2 914.9L1183.5 922.6" stroke="#000" stroke-width="1.3" fill="none"/>
<g fill="#fff" stroke="#a8a8a8" stroke-width="1.2"><rect x="881.3" y="643" width="66" height="23.2" rx="3.5"/><rect x="858.9" y="768.1" width="66.7" height="22.4" rx="3.5"/><rect x="841.5" y="817.4" width="54.1" height="22.8" rx="3.5"/><rect x="851.1" y="977.5" width="66.8" height="22.6" rx="3.5"/><rect x="1180.3" y="560.1" width="70" height="22.7" rx="3.5"/><rect x="1261.8" y="559.5" width="65.1" height="22.3" rx="3.5"/><rect x="1129.7" y="594.6" width="61.8" height="22.3" rx="3.5"/><rect x="1300" y="596.2" width="62.8" height="22.7" rx="3.5"/><rect x="1230.4" y="630" width="114.1" height="23" rx="3.5"/><rect x="1152.6" y="636.2" width="43.6" height="22.3" rx="3.5"/><rect x="1207.1" y="664.5" width="53.9" height="22.7" rx="3.5"/><rect x="1127.6" y="674" width="68.6" height="22.4" rx="3.5"/><rect x="1234.5" y="698" width="64.8" height="21.9" rx="3.5"/><rect x="1265.5" y="710.6" width="102.8" height="22.9" rx="3.5"/><rect x="1097.2" y="708.5" width="52.7" height="21.9" rx="3.5"/><rect x="1161.1" y="712.2" width="68.9" height="21.9" rx="3.5"/><rect x="1080.5" y="744.2" width="74.6" height="22.7" rx="3.5"/><rect x="1197.7" y="737.7" width="48.7" height="22.7" rx="3.5"/><rect x="1257.5" y="745.2" width="70" height="22.3" rx="3.5"/><rect x="1132.4" y="778" width="46.1" height="22.5" rx="3.5"/><rect x="1205.4" y="778.2" width="62.9" height="22.3" rx="3.5"/><rect x="1148.7" y="812.1" width="59.1" height="22.3" rx="3.5"/><rect x="1238.7" y="812.1" width="61.4" height="22.3" rx="3.5"/><rect x="1101.4" y="846.6" width="79.1" height="22.3" rx="3.5"/><rect x="1255.5" y="846" width="50.7" height="22.3" rx="3.5"/><rect x="1191.2" y="868.9" width="53.5" height="22.3" rx="3.5"/><rect x="1131.8" y="889.1" width="48.7" height="22.3" rx="3.5"/><rect x="1255.5" y="889.1" width="65.9" height="22.3" rx="3.5"/><rect x="1221.6" y="922.6" width="44" height="22.3" rx="3.5"/><rect x="1118.2" y="922.6" width="64.3" height="22.3" rx="3.5"/><rect x="1158.8" y="956.6" width="98.7" height="22.4" rx="3.5"/></g>
<g font-size="16" text-anchor="middle" fill="#000"><text x="914.3" y="660.4">BBOX1</text><text x="892.2" y="785.1">FANCC</text><text x="868.5" y="834.6">FCN2</text><text x="884.5" y="994.6">OBP2A</text><text x="1215.3" y="577.2">S100A6</text><text x="1294.3" y="576.4">LRRC1</text><text x="1160.6" y="611.5">LOXL1</text><text x="1331.4" y="613.3">FBLN5</text><text x="1287.5" y="647.3">MACROH2A1</text><text x="1174.4" y="653.1">LXN</text><text x="1234" y="681.6">DKK3</text><text x="1161.9" y="691">ITGBL1</text><text x="1266.9" y="714.8">ANXA2</text><text x="1316.9" y="727.8">APOBEC3G</text><text x="1123.6" y="725.2">CD59</text><text x="1195.5" y="729">GABRP</text><text x="1117.8" y="761.3">PPP4R1</text><text x="1222.1" y="754.8">FAIM</text><text x="1292.5" y="762.1">TRIM31</text><text x="1155.5" y="795">GSN</text><text x="1236.8" y="795.1">ZWINT</text><text x="1178.2" y="829">MCUB</text><text x="1269.4" y="829">ZNF14</text><text x="1141" y="863.5">SQSTM1</text><text x="1280.8" y="862.9">MID1</text><text x="1218" y="885.8">PLAU</text><text x="1156.2" y="906">MGP</text><text x="1288.5" y="906">LAMP5</text><text x="1243.6" y="939.5">NCL</text><text x="1150.3" y="939.5">POF1B</text><text x="1208.2" y="973.6">ARHGAP24</text></g>
<rect x="826.6" y="548.4" width="547.4" height="570.4" fill="none" stroke="#333" stroke-width="1.1"/>
<path d="M906.7 1118.8v4.2M1045.2 1118.8v4.2M1183.7 1118.8v4.2M1322.2 1118.8v4.2M826.6 1093.2h-4.2M826.6 954.6h-4.2M826.6 816h-4.2M826.6 677.4h-4.2" stroke="#333" stroke-width="1.1"/>
<g font-size="12.8" fill="#3a3a3a"><text x="906.7" y="1136.8" text-anchor="middle">−1</text><text x="1045.2" y="1136.8" text-anchor="middle">0</text><text x="1183.7" y="1136.8" text-anchor="middle">1</text><text x="1322.2" y="1136.8" text-anchor="middle">2</text><text x="818.3" y="1097.8" text-anchor="end">0</text><text x="818.3" y="959.2" text-anchor="end">3</text><text x="818.3" y="820.6" text-anchor="end">6</text><text x="818.3" y="682" text-anchor="end">9</text></g>
<text x="1100.3" y="1155.1" font-size="16.5" text-anchor="middle">logFC</text>
<text transform="translate(803.6 833.6) rotate(-90)" font-size="16.9" text-anchor="middle">−log10(P.Value)</text>
<text x="1400" y="796" font-size="16.5">Significant</text>
<path d="M1412.2 819.5h0" stroke="#72b7d6" stroke-width="11.8" stroke-linecap="round" fill="none"/><path d="M1412.2 845.7h0" stroke="#838a8c" stroke-width="11.8" stroke-linecap="round" fill="none"/><path d="M1412.2 871.8h0" stroke="#cd4e39" stroke-width="11.8" stroke-linecap="round" fill="none"/>
<g font-size="12.2"><text x="1434" y="824">Down</text><text x="1434" y="850.2">Not</text><text x="1434" y="876.3">Up</text></g>
<text x="777" y="529" font-size="42" font-weight="bold">D</text>
<path d="M136.6 1249.6V1479.4M136.6 1565V1719.3M227.7 1249.6V1479.4M227.7 1565V1719.3M318.8 1249.6V1479.4M318.8 1565V1719.3M409.9 1249.6V1479.4M409.9 1565V1719.3M501 1249.6V1479.4M501 1565V1719.3" stroke="#ebebeb" stroke-width="1.1" fill="none"/>
<g font-size="11.2"><path d="M378.2 1277.9h7.1" stroke="#f8766d" stroke-width="1.2"/><text x="393.5" y="1281.6">Central carbon metabolism in cancer</text><path d="M378.2 1288.4h7.1" stroke="#a3a500" stroke-width="1.2"/><text x="393.5" y="1292.1">Melanogenesis</text><path d="M378.2 1298.9h7.1" stroke="#00bf7d" stroke-width="1.2"/><text x="393.5" y="1302.6">Osteoclast differentiation</text><path d="M378.2 1309.4h7.1" stroke="#00b0f6" stroke-width="1.2"/><text x="393.5" y="1313.1">Primary immunodeficiency</text><path d="M378.2 1319.9h7.1" stroke="#e76bf3" stroke-width="1.2"/><text x="393.5" y="1323.6">Thyroid cancer</text></g>
<path d="M46.4 1456L58 1461.7V1423L58.9 1423.4V1389L61.2 1390.1V1354.7L66.2 1357.2V1325.6L85 1334.8V1291L85.8 1291.4V1282L87.7 1282.9V1270L103.4 1277.7V1259.4L164.9 1289.7V1281.4L212.2 1304.7V1299.3L235.4 1310.7V1307.2L281.8 1330V1329L292.6 1334.3V1333.5L294.5 1334.4V1334.5L368.5 1370.9V1368.4L377.9 1373V1367.9L509.4 1432.6V1419.5L583.5 1456" stroke="#f8766d" stroke-width="1.3" fill="none" stroke-linejoin="miter"/>
<path d="M46.4 1456L58.9 1462.2V1402.4L63.3 1404.6V1348.3L86 1359.5V1322.5L117.6 1338V1312.5L132.3 1319.7V1297.5L173 1317.5V1303.5L176.2 1305.1V1291.4L177.2 1291.9V1278.6L225 1302.1V1295L285.9 1325V1324L292.9 1327.4V1327L374.7 1367.2V1360.2L379.1 1362.4V1355.4L583.5 1456" stroke="#a3a500" stroke-width="1.3" fill="none" stroke-linejoin="miter"/>
<path d="M46.4 1456L47.6 1456.6V1422.8L59.9 1428.9V1408.5L69.5 1413.2V1395.3L74.3 1397.7V1381.8L77.8 1383.5V1372L79.7 1372.9V1360L80.7 1360.5V1341L81.6 1341.4V1328L92.6 1333.4V1320L93.3 1320.3V1309L100 1312.3V1301.3L122.3 1312.3V1304L132.3 1308.9V1293.8L140.6 1297.8V1291L170.5 1305.7V1300.8L198.5 1314.6V1312L201.2 1313.3V1309L244.9 1330.5V1329L346.9 1379.2V1378.5L349.6 1379.8V1377.5L377.9 1391.4V1388.5L384.6 1391.8V1389L422 1407.4V1403.1L454.2 1418.9V1413.5L467.8 1420.2V1413.1L497.3 1427.6V1420.4L501.5 1422.5V1415.7L583.5 1456" stroke="#00bf7d" stroke-width="1.3" fill="none" stroke-linejoin="miter"/>
<path d="M46.4 1456L74.1 1469.6V1427L75.4 1427.6V1386L77.8 1387.2V1346L86.7 1350.4V1280L142.2 1307.3V1288.8L155 1295V1278.2L273.3 1336.4V1335L303 1349.6V1348L387.6 1389.6V1382.5L422 1399.4V1376.5L583.5 1456" stroke="#00b0f6" stroke-width="1.3" fill="none" stroke-linejoin="miter"/>
<path d="M46.4 1456L58.9 1462.2V1392.2L83.5 1404.3V1358.7L87.9 1360.9V1316.3L100 1322.3V1285.6L145.4 1307.9V1284.4L164.9 1294V1275.5L172.4 1279.2V1262.5L225 1288.4V1280.4L269.5 1302.3V1299.9L293 1311.5V1313.1L583.5 1456" stroke="#e76bf3" stroke-width="1.3" fill="none" stroke-linejoin="miter"/>
<path d="M58 1484.6v15.4M58.9 1484.6v15.4M61.2 1484.6v15.4M66.1 1484.6v15.4M85 1484.6v15.4M85.8 1484.6v15.4M87.7 1484.6v15.4M103.4 1484.6v15.4M164.9 1484.6v15.4M212.2 1484.6v15.4M235.4 1484.6v15.4M281.8 1484.6v15.4M292.6 1484.6v15.4M293.5 1484.6v15.4M294.5 1484.6v15.4M368.5 1484.6v15.4M377.9 1484.6v15.4M509.4 1484.6v15.4" stroke="#f8766d" stroke-width="1.1" stroke-opacity="0.55" fill="none"/>
<path d="M58.9 1500v15.4M83.5 1500v15.4M87.9 1500v15.4M100 1500v15.4M145.4 1500v15.4M164.9 1500v15.4M172.4 1500v15.4M225 1500v15.4M269.5 1500v15.4M293 1500v15.4" stroke="#e76bf3" stroke-width="1.1" stroke-opacity="0.55" fill="none"/>
<path d="M58.9 1515.4v15.4M63.3 1515.4v15.4M86 1515.4v15.4M117.6 1515.4v15.4M132.3 1515.4v15.4M173 1515.4v15.4M176.2 1515.4v15.4M177.2 1515.4v15.4M225 1515.4v15.4M285.9 1515.4v15.4M292.9 1515.4v15.4M374.7 1515.4v15.4M379.1 1515.4v15.4" stroke="#a3a500" stroke-width="1.1" stroke-opacity="0.55" fill="none"/>
<path d="M74.1 1530.8v15.4M75.4 1530.8v15.4M77.8 1530.8v15.4M86.7 1530.8v15.4M142.2 1530.8v15.4M155 1530.8v15.4M273.3 1530.8v15.4M303 1530.8v15.4M387.6 1530.8v15.4M422 1530.8v15.4" stroke="#00b0f6" stroke-width="1.1" stroke-opacity="0.55" fill="none"/>
<path d="M47.2 1546.2v15.4M59.9 1546.2v15.4M69.3 1546.2v15.4M74.1 1546.2v15.4M77.8 1546.2v15.4M79.7 1546.2v15.4M80.7 1546.2v15.4M81.6 1546.2v15.4M92.6 1546.2v15.4M93.3 1546.2v15.4M100 1546.2v15.4M122.3 1546.2v15.4M132.3 1546.2v15.4M140.6 1546.2v15.4M170.5 1546.2v15.4M198.5 1546.2v15.4M201.2 1546.2v15.4M244.9 1546.2v15.4M294.5 1546.2v15.4M346.9 1546.2v15.4M349.6 1546.2v15.4M377.9 1546.2v15.4M384.6 1546.2v15.4M422 1546.2v15.4M454.2 1546.2v15.4M467.8 1546.2v15.4M497.3 1546.2v15.4M501.5 1546.2v15.4" stroke="#00bf7d" stroke-width="1.1" stroke-opacity="0.55" fill="none"/>
<path d="M45.5 1657.3L45.5 1603L45.6 1603.3L45.7 1603.6L45.8 1603.9L45.9 1604.2L46 1604.5L46 1604.7L46.1 1605L46.2 1605.3L46.3 1605.6L46.4 1605.9L46.5 1606.2L46.6 1606.5L46.7 1606.8L46.8 1607.1L46.9 1607.4L47 1607.6L47 1607.9L47.1 1608.2L47.2 1608.5L47.3 1608.7L47.4 1609L47.5 1609.3L47.6 1609.6L47.7 1609.9L47.8 1610.1L47.9 1610.4L48 1610.7L48.1 1610.9L48.1 1611.2L48.2 1611.5L48.3 1611.7L48.4 1612L48.5 1612.2L48.6 1612.5L48.7 1612.7L48.8 1613L48.9 1613.2L49 1613.4L49.1 1613.6L49.1 1613.8L49.2 1614L49.3 1614.2L49.4 1614.4L49.5 1614.6L49.6 1614.8L49.7 1615L49.8 1615.2L49.9 1615.4L50 1615.6L50.1 1615.8L50.1 1616L50.2 1616.1L50.3 1616.3L50.4 1616.5L50.5 1616.7L50.6 1616.9L50.7 1617L50.8 1617.2L50.9 1617.4L51 1617.5L51.1 1617.7L51.1 1617.8L51.2 1618L51.3 1618.2L51.4 1618.3L51.5 1618.5L51.6 1618.6L51.7 1618.8L51.8 1618.9L51.9 1619.1L52 1619.2L52.1 1619.4L52.2 1619.5L52.2 1619.6L52.3 1619.8L52.4 1619.9L52.5 1620L52.6 1620.2L52.7 1620.3L52.8 1620.4L52.9 1620.6L53 1620.7L53.1 1620.8L53.2 1620.9L53.2 1621.1L53.3 1621.2L53.4 1621.3L53.5 1621.4L53.6 1621.6L53.7 1621.7L53.8 1621.8L53.9 1621.9L54 1622L54.1 1622.1L54.2 1622.3L54.2 1622.4L54.3 1622.5L54.4 1622.6L54.5 1622.7L54.6 1622.8L54.7 1622.9L54.8 1623L54.9 1623.1L55 1623.2L55.1 1623.3L55.2 1623.4L55.2 1623.5L55.3 1623.6L55.4 1623.7L55.5 1623.8L55.6 1623.9L55.7 1624L55.8 1624.1L55.9 1624.2L56 1624.3L56.1 1624.4L56.2 1624.5L56.2 1624.6L56.3 1624.7L56.4 1624.8L56.5 1624.8L57.1 1625.3L57.6 1625.8L58.2 1626.3L58.7 1626.7L59.3 1627.2L59.8 1627.6L60.3 1628L60.9 1628.4L61.4 1628.7L62 1629.1L62.5 1629.4L63.1 1629.8L63.6 1630.1L64.2 1630.4L64.7 1630.8L65.3 1631.1L65.8 1631.4L66.4 1631.7L66.9 1632L67.5 1632.3L68 1632.6L68.5 1632.9L69.1 1633.2L69.6 1633.5L70.2 1633.7L70.7 1634L71.3 1634.3L71.8 1634.6L72.4 1634.8L72.9 1635.1L73.5 1635.3L74 1635.6L74.6 1635.8L75.1 1636.1L75.7 1636.3L76.2 1636.5L76.7 1636.8L77.3 1637L77.8 1637.2L78.4 1637.4L78.9 1637.6L79.5 1637.8L80 1637.9L80.6 1638.1L81.1 1638.3L81.7 1638.4L82.2 1638.6L82.8 1638.7L83.3 1638.9L83.9 1639L84.4 1639.1L84.9 1639.3L85.5 1639.4L86 1639.5L86.6 1639.6L87.1 1639.8L87.7 1639.9L88.2 1640L88.8 1640.1L89.3 1640.2L89.9 1640.3L90.4 1640.4L91 1640.6L91.5 1640.7L92.1 1640.8L92.6 1640.9L93.1 1641L93.7 1641.1L94.2 1641.2L94.8 1641.3L95.3 1641.3L95.9 1641.4L96.4 1641.5L97 1641.6L97.5 1641.7L98.1 1641.8L98.6 1641.9L99.2 1642L99.7 1642.1L100.3 1642.2L100.8 1642.3L101.3 1642.4L101.9 1642.5L102.4 1642.5L103 1642.6L103.5 1642.7L104.1 1642.8L104.6 1642.9L105.2 1643L105.7 1643.1L106.3 1643.2L106.8 1643.2L107.4 1643.3L107.9 1643.4L108.5 1643.5L109 1643.6L109.5 1643.7L110.1 1643.7L110.6 1643.8L111.2 1643.9L111.7 1644L112.3 1644.1L112.8 1644.1L113.4 1644.2L113.9 1644.3L114.5 1644.4L115 1644.4L115.6 1644.5L116.1 1644.6L116.6 1644.7L117.2 1644.7L117.7 1644.8L118.3 1644.9L118.8 1644.9L119.4 1645L119.9 1645.1L120.5 1645.1L121 1645.2L121.6 1645.3L122.1 1645.3L122.7 1645.4L123.2 1645.5L123.8 1645.5L124.3 1645.6L124.8 1645.6L125.4 1645.7L125.9 1645.8L126.5 1645.8L127 1645.9L127.6 1645.9L128.1 1646L128.7 1646.1L129.2 1646.1L129.8 1646.2L130.3 1646.2L130.9 1646.3L131.4 1646.3L132 1646.4L132.5 1646.5L133 1646.5L133.6 1646.6L134.1 1646.6L134.7 1646.7L135.2 1646.7L135.8 1646.8L136.3 1646.8L136.9 1646.9L137.4 1646.9L138 1647L138.5 1647.1L139.1 1647.1L139.6 1647.2L140.2 1647.2L140.7 1647.3L141.2 1647.3L141.8 1647.4L142.3 1647.4L142.9 1647.5L143.4 1647.5L144 1647.6L144.5 1647.6L145.1 1647.7L145.6 1647.7L146.2 1647.8L146.7 1647.8L147.3 1647.9L147.8 1647.9L148.4 1648L148.9 1648L149.4 1648.1L150 1648.1L150.5 1648.1L151.1 1648.2L151.6 1648.2L152.2 1648.3L152.7 1648.3L153.3 1648.4L153.8 1648.4L154.4 1648.5L154.9 1648.5L155.5 1648.6L156 1648.6L156.6 1648.7L157.1 1648.7L157.6 1648.8L158.2 1648.8L158.7 1648.9L159.3 1648.9L159.8 1648.9L160.4 1649L160.9 1649L161.5 1649.1L162 1649.1L162.6 1649.2L163.1 1649.2L163.7 1649.3L164.2 1649.3L164.7 1649.4L165.3 1649.4L165.8 1649.5L166.4 1649.5L166.9 1649.5L167.5 1649.6L168 1649.6L168.6 1649.7L169.1 1649.7L169.7 1649.8L170.2 1649.8L170.8 1649.9L171.3 1649.9L171.9 1650L172.4 1650L172.9 1650L173.5 1650.1L174 1650.1L174.6 1650.2L175.1 1650.2L175.7 1650.3L176.2 1650.3L176.8 1650.4L177.3 1650.4L177.9 1650.4L178.4 1650.5L179 1650.5L179.5 1650.6L180.1 1650.6L180.6 1650.7L181.1 1650.7L181.7 1650.8L182.2 1650.8L182.8 1650.8L183.3 1650.9L183.9 1650.9L184.4 1651L185 1651L185.5 1651.1L186.1 1651.1L186.6 1651.1L187.2 1651.2L187.7 1651.2L188.3 1651.3L188.8 1651.3L189.3 1651.4L189.9 1651.4L190.4 1651.4L191 1651.5L191.5 1651.5L192.1 1651.6L192.6 1651.6L193.2 1651.6L193.7 1651.7L194.3 1651.7L194.8 1651.8L195.4 1651.8L195.9 1651.9L196.5 1651.9L197 1651.9L197.5 1652L198.1 1652L198.6 1652.1L199.2 1652.1L199.7 1652.1L200.3 1652.2L200.8 1652.2L201.4 1652.3L201.9 1652.3L202.5 1652.3L203 1652.4L203.6 1652.4L204.1 1652.5L204.7 1652.5L205.2 1652.5L205.7 1652.6L206.3 1652.6L206.8 1652.7L207.4 1652.7L207.9 1652.7L208.5 1652.8L209 1652.8L209.6 1652.8L210.1 1652.9L210.7 1652.9L211.2 1653L211.8 1653L212.3 1653L212.9 1653.1L213.4 1653.1L213.9 1653.1L214.5 1653.2L215 1653.2L215.6 1653.3L216.1 1653.3L216.7 1653.3L217.2 1653.4L217.8 1653.4L218.3 1653.4L218.9 1653.5L219.4 1653.5L220 1653.5L220.5 1653.6L221 1653.6L221.6 1653.7L222.1 1653.7L222.7 1653.7L223.2 1653.8L223.8 1653.8L224.3 1653.8L224.9 1653.9L225.4 1653.9L226 1653.9L226.5 1654L227.1 1654L227.6 1654L228.2 1654.1L228.7 1654.1L229.2 1654.1L229.8 1654.2L230.3 1654.2L230.9 1654.2L231.4 1654.3L232 1654.3L232.5 1654.3L233.1 1654.4L233.6 1654.4L234.2 1654.4L234.7 1654.5L235.3 1654.5L235.8 1654.5L236.4 1654.5L236.9 1654.6L237.4 1654.6L238 1654.6L238.5 1654.7L239.1 1654.7L239.6 1654.7L240.2 1654.8L240.7 1654.8L241.3 1654.8L241.8 1654.9L242.4 1654.9L242.9 1654.9L243.5 1654.9L244 1655L244.6 1655L245.1 1655L245.6 1655.1L246.2 1655.1L246.7 1655.1L247.3 1655.2L247.8 1655.2L248.4 1655.2L248.9 1655.2L249.5 1655.3L250 1655.3L250.6 1655.3L251.1 1655.4L251.7 1655.4L252.2 1655.4L252.8 1655.4L253.3 1655.5L253.8 1655.5L254.4 1655.5L254.9 1655.6L255.5 1655.6L256 1655.6L256.6 1655.6L257.1 1655.7L257.7 1655.7L258.2 1655.7L258.8 1655.8L259.3 1655.8L259.9 1655.8L260.4 1655.8L261 1655.9L261.5 1655.9L262 1655.9L262.6 1655.9L263.1 1656L263.7 1656L264.2 1656L264.8 1656.1L265.3 1656.1L265.9 1656.1L266.4 1656.1L267 1656.2L267.5 1656.2L268.1 1656.2L268.6 1656.2L269.2 1656.3L269.7 1656.3L270.2 1656.3L270.8 1656.4L271.3 1656.4L271.9 1656.4L272.4 1656.4L273 1656.5L273.5 1656.5L274.1 1656.5L274.6 1656.5L275.2 1656.6L275.7 1656.6L276.3 1656.6L276.8 1656.6L277.3 1656.7L277.9 1656.7L278.4 1656.7L279 1656.8L279.5 1656.8L280.1 1656.8L280.6 1656.8L281.2 1656.9L281.7 1656.9L282.3 1656.9L282.8 1656.9L283.4 1657L283.9 1657L284.5 1657L285 1657.1L285.5 1657.1L286.1 1657.1L286.6 1657.1L287.2 1657.2L287.7 1657.2L288.3 1657.2L288.8 1657.2L289.4 1657.3L289.9 1657.3L290.5 1657.3L291 1657.3L291.6 1657.4L292.1 1657.4L292.7 1657.4L293.2 1657.5L293.7 1657.5L294.3 1657.5L294.8 1657.5L295.4 1657.6L295.9 1657.6L296.5 1657.6L297 1657.6L297.6 1657.7L298.1 1657.7L298.7 1657.7L299.2 1657.7L299.8 1657.8L300.3 1657.8L300.9 1657.8L301.4 1657.8L301.9 1657.9L302.5 1657.9L303 1657.9L303.6 1658L304.1 1658L304.7 1658L305.2 1658L305.8 1658.1L306.3 1658.1L306.9 1658.1L307.4 1658.1L308 1658.2L308.5 1658.2L309.1 1658.2L309.6 1658.2L310.1 1658.3L310.7 1658.3L311.2 1658.3L311.8 1658.3L312.3 1658.4L312.9 1658.4L313.4 1658.4L314 1658.4L314.5 1658.5L315.1 1658.5L315.6 1658.5L316.2 1658.5L316.7 1658.6L317.3 1658.6L317.8 1658.6L318.3 1658.6L318.9 1658.6L319.4 1658.7L320 1658.7L320.5 1658.7L321.1 1658.7L321.6 1658.8L322.2 1658.8L322.7 1658.8L323.3 1658.8L323.8 1658.9L324.4 1658.9L324.9 1658.9L325.5 1658.9L326 1659L326.5 1659L327.1 1659L327.6 1659L328.2 1659.1L328.7 1659.1L329.3 1659.1L329.8 1659.1L330.4 1659.2L330.9 1659.2L331.5 1659.2L332 1659.2L332.6 1659.3L333.1 1659.3L333.6 1659.3L334.2 1659.4L334.7 1659.4L335.3 1659.4L335.8 1659.4L336.4 1659.5L336.9 1659.5L337.5 1659.5L338 1659.5L338.6 1659.6L339.1 1659.6L339.7 1659.6L340.2 1659.6L340.8 1659.7L341.3 1659.7L341.8 1659.7L342.4 1659.7L342.9 1659.8L343.5 1659.8L344 1659.8L344.6 1659.9L345.1 1659.9L345.7 1659.9L346.2 1659.9L346.8 1660L347.3 1660L347.9 1660L348.4 1660L349 1660.1L349.5 1660.1L350 1660.1L350.6 1660.2L351.1 1660.2L351.7 1660.2L352.2 1660.2L352.8 1660.3L353.3 1660.3L353.9 1660.3L354.4 1660.4L355 1660.4L355.5 1660.4L356.1 1660.4L356.6 1660.5L357.2 1660.5L357.7 1660.5L358.2 1660.6L358.8 1660.6L359.3 1660.6L359.9 1660.7L360.4 1660.7L361 1660.7L361.5 1660.8L362.1 1660.8L362.6 1660.8L363.2 1660.9L363.7 1660.9L364.3 1660.9L364.8 1661L365.4 1661L365.9 1661L366.4 1661.1L367 1661.1L367.5 1661.1L368.1 1661.2L368.6 1661.2L369.2 1661.2L369.7 1661.3L370.3 1661.3L370.8 1661.3L371.4 1661.4L371.9 1661.4L372.5 1661.4L373 1661.5L373.6 1661.5L374.1 1661.5L374.6 1661.6L375.2 1661.6L375.7 1661.6L376.3 1661.7L376.8 1661.7L377.4 1661.7L377.9 1661.8L378.5 1661.8L379 1661.8L379.6 1661.9L380.1 1661.9L380.7 1662L381.2 1662L381.8 1662L382.3 1662.1L382.8 1662.1L383.4 1662.1L383.9 1662.2L384.5 1662.2L385 1662.2L385.6 1662.3L386.1 1662.3L386.7 1662.3L387.2 1662.4L387.8 1662.4L388.3 1662.5L388.9 1662.5L389.4 1662.5L389.9 1662.6L390.5 1662.6L391 1662.6L391.6 1662.7L392.1 1662.7L392.7 1662.7L393.2 1662.8L393.8 1662.8L394.3 1662.8L394.9 1662.9L395.4 1662.9L396 1662.9L396.5 1663L397.1 1663L397.6 1663L398.1 1663.1L398.7 1663.1L399.2 1663.1L399.8 1663.2L400.3 1663.2L400.9 1663.2L401.4 1663.3L402 1663.3L402.5 1663.3L403.1 1663.4L403.6 1663.4L404.2 1663.4L404.7 1663.5L405.3 1663.5L405.8 1663.5L406.3 1663.6L406.9 1663.6L407.4 1663.6L408 1663.6L408.5 1663.7L409.1 1663.7L409.6 1663.7L410.2 1663.8L410.7 1663.8L411.3 1663.8L411.8 1663.9L412.4 1663.9L412.9 1663.9L413.5 1663.9L414 1664L414.5 1664L415.1 1664L415.6 1664.1L416.2 1664.1L416.7 1664.1L417.3 1664.1L417.8 1664.2L418.4 1664.2L418.9 1664.2L419.5 1664.3L420 1664.3L420.6 1664.3L421.1 1664.3L421.7 1664.4L422.2 1664.4L422.7 1664.4L423.3 1664.4L423.8 1664.5L424.4 1664.5L424.9 1664.5L425.5 1664.5L426 1664.6L426.6 1664.6L427.1 1664.6L427.7 1664.7L428.2 1664.7L428.8 1664.7L429.3 1664.7L429.9 1664.8L430.4 1664.8L430.9 1664.8L431.5 1664.8L432 1664.9L432.6 1664.9L433.1 1664.9L433.7 1664.9L434.2 1665L434.8 1665L435.3 1665L435.9 1665.1L436.4 1665.1L437 1665.1L437.5 1665.1L438 1665.2L438.6 1665.2L439.1 1665.2L439.7 1665.2L440.2 1665.3L440.8 1665.3L441.3 1665.3L441.9 1665.4L442.4 1665.4L443 1665.4L443.5 1665.4L444.1 1665.5L444.6 1665.5L445.2 1665.5L445.7 1665.5L446.2 1665.6L446.8 1665.6L447.3 1665.6L447.9 1665.7L448.4 1665.7L449 1665.7L449.5 1665.7L450.1 1665.8L450.6 1665.8L451.2 1665.8L451.7 1665.9L452.3 1665.9L452.8 1665.9L453.4 1666L453.9 1666L454.4 1666L455 1666L455.5 1666.1L456.1 1666.1L456.6 1666.1L457.2 1666.2L457.7 1666.2L458.3 1666.2L458.8 1666.3L459.4 1666.3L459.9 1666.3L460.5 1666.4L461 1666.4L461.6 1666.4L462.1 1666.5L462.6 1666.5L463.2 1666.5L463.7 1666.6L464.3 1666.6L464.8 1666.6L465.4 1666.7L465.9 1666.7L466.5 1666.7L467 1666.8L467.6 1666.8L468.1 1666.8L468.7 1666.9L469.2 1666.9L469.8 1666.9L470.3 1667L470.8 1667L471.4 1667.1L471.9 1667.1L472.5 1667.1L473 1667.2L473.6 1667.2L474.1 1667.2L474.7 1667.3L475.2 1667.3L475.8 1667.3L476.3 1667.4L476.9 1667.4L477.4 1667.5L478 1667.5L478.5 1667.5L479 1667.6L479.6 1667.6L480.1 1667.7L480.7 1667.7L481.2 1667.7L481.8 1667.8L482.3 1667.8L482.9 1667.9L483.4 1667.9L484 1667.9L484.5 1668L485.1 1668L485.6 1668.1L486.2 1668.1L486.7 1668.1L487.2 1668.2L487.8 1668.2L488.3 1668.3L488.9 1668.3L489.4 1668.4L490 1668.4L490.5 1668.4L491.1 1668.5L491.6 1668.5L492.2 1668.6L492.7 1668.6L493.3 1668.7L493.8 1668.7L494.3 1668.8L494.9 1668.8L495.4 1668.9L496 1668.9L496.5 1669L497.1 1669L497.6 1669.1L498.2 1669.1L498.7 1669.2L499.3 1669.2L499.8 1669.3L500.4 1669.3L500.9 1669.4L501.5 1669.4L502 1669.5L502.5 1669.5L503.1 1669.6L503.6 1669.6L504.2 1669.7L504.7 1669.7L505.3 1669.8L505.8 1669.8L506.4 1669.9L506.9 1669.9L507.5 1670L508 1670L508.6 1670.1L509.1 1670.1L509.7 1670.2L510.2 1670.2L510.7 1670.3L511.3 1670.3L511.8 1670.4L512.4 1670.5L512.9 1670.5L513.5 1670.6L514 1670.6L514.6 1670.7L515.1 1670.7L515.7 1670.8L516.2 1670.9L516.8 1670.9L517.3 1671L517.9 1671.1L518.4 1671.1L518.9 1671.2L519.5 1671.2L520 1671.3L520.6 1671.4L521.1 1671.4L521.7 1671.5L522.2 1671.6L522.8 1671.7L523.3 1671.7L523.9 1671.8L524.4 1671.9L525 1671.9L525.5 1672L526.1 1672.1L526.6 1672.2L527.1 1672.3L527.7 1672.3L528.2 1672.4L528.8 1672.5L529.3 1672.6L529.9 1672.7L530.4 1672.8L531 1672.8L531.5 1672.9L532.1 1673L532.6 1673.1L533.2 1673.2L533.7 1673.3L534.3 1673.4L534.8 1673.5L535.3 1673.6L535.9 1673.7L536.4 1673.8L537 1673.9L537.5 1674.1L538.1 1674.2L538.6 1674.3L539.2 1674.5L539.7 1674.6L540.3 1674.8L540.8 1674.9L541.4 1675.1L541.9 1675.3L542.5 1675.4L543 1675.6L543.5 1675.8L544.1 1676L544.6 1676.1L545.2 1676.3L545.7 1676.5L546.3 1676.7L546.8 1676.9L547.4 1677.1L547.9 1677.3L548.5 1677.5L549 1677.7L549.6 1677.9L550.1 1678.1L550.6 1678.4L551.2 1678.6L551.7 1678.8L552.3 1679L552.8 1679.2L553.4 1679.4L553.9 1679.6L554.5 1679.8L555 1680L555.6 1680.3L556.1 1680.5L556.2 1680.5L556.3 1680.5L556.4 1680.6L556.5 1680.6L556.6 1680.6L556.7 1680.7L556.8 1680.7L556.8 1680.8L556.9 1680.8L557 1680.8L557.1 1680.9L557.2 1680.9L557.3 1680.9L557.4 1681L557.5 1681L557.6 1681L557.7 1681.1L557.8 1681.1L557.8 1681.1L557.9 1681.2L558 1681.2L558.1 1681.2L558.2 1681.3L558.3 1681.3L558.4 1681.3L558.5 1681.4L558.6 1681.4L558.7 1681.4L558.8 1681.5L558.8 1681.5L558.9 1681.5L559 1681.6L559.1 1681.6L559.2 1681.6L559.3 1681.7L559.4 1681.7L559.5 1681.7L559.6 1681.8L559.7 1681.8L559.8 1681.8L559.9 1681.9L559.9 1681.9L560 1681.9L560.1 1682L560.2 1682L560.3 1682L560.4 1682.1L560.5 1682.1L560.6 1682.1L560.7 1682.2L560.8 1682.2L560.9 1682.2L560.9 1682.3L561 1682.3L561.1 1682.3L561.2 1682.4L561.3 1682.4L561.4 1682.4L561.5 1682.5L561.6 1682.5L561.7 1682.5L561.8 1682.6L561.9 1682.6L561.9 1682.6L562 1682.7L562.1 1682.7L562.2 1682.7L562.3 1682.8L562.4 1682.8L562.5 1682.8L562.6 1682.9L562.7 1682.9L562.8 1682.9L562.9 1683L562.9 1683L563 1683L563.1 1683.1L563.2 1683.1L563.3 1683.1L563.4 1683.2L563.5 1683.2L563.6 1683.2L563.7 1683.3L563.8 1683.3L563.9 1683.3L564 1683.4L564 1683.4L564.1 1683.4L564.2 1683.5L564.3 1683.5L564.4 1683.5L564.5 1683.6L564.6 1683.6L564.7 1683.6L564.8 1683.7L564.9 1683.7L565 1683.7L565 1683.8L565.1 1683.8L565.2 1683.8L565.3 1683.9L565.4 1683.9L565.5 1683.9L565.6 1684L565.7 1684L565.8 1684L565.9 1684.1L566 1684.1L566 1684.2L566.1 1684.2L566.2 1684.2L566.3 1684.3L566.4 1684.3L566.5 1684.3L566.6 1684.4L566.7 1684.4L566.8 1684.4L566.9 1684.5L567 1684.5L567 1684.6L567.1 1684.6L567.2 1684.6L567.3 1684.7L567.4 1684.7L567.5 1684.8L567.6 1684.8L567.7 1684.8L567.8 1684.9L567.9 1684.9L568 1684.9L568 1685L568.1 1685L568.2 1685.1L568.3 1685.1L568.4 1685.1L568.5 1685.2L568.6 1685.2L568.7 1685.3L568.8 1685.3L568.9 1685.4L569 1685.4L569.1 1685.4L569.1 1685.5L569.2 1685.5L569.3 1685.6L569.4 1685.6L569.5 1685.7L569.6 1685.7L569.7 1685.7L569.8 1685.8L569.9 1685.8L570 1685.9L570.1 1685.9L570.1 1686L570.2 1686L570.3 1686.1L570.4 1686.1L570.5 1686.2L570.6 1686.2L570.7 1686.2L570.8 1686.3L570.9 1686.3L571 1686.4L571.1 1686.4L571.1 1686.5L571.2 1686.5L571.3 1686.6L571.4 1686.6L571.5 1686.7L571.6 1686.7L571.7 1686.8L571.8 1686.8L571.9 1686.9L572 1686.9L572.1 1687L572.1 1687L572.2 1687.1L572.3 1687.1L572.4 1687.2L572.5 1687.3L572.6 1687.3L572.7 1687.4L572.8 1687.4L572.9 1687.5L573 1687.5L573.1 1687.6L573.2 1687.6L573.2 1687.7L573.3 1687.8L573.4 1687.8L573.5 1687.9L573.6 1687.9L573.7 1688L573.8 1688.1L573.9 1688.1L574 1688.2L574.1 1688.2L574.2 1688.3L574.2 1688.4L574.3 1688.4L574.4 1688.5L574.5 1688.6L574.6 1688.6L574.7 1688.7L574.8 1688.8L574.9 1688.8L575 1688.9L575.1 1689L575.2 1689.1L575.2 1689.1L575.3 1689.2L575.4 1689.3L575.5 1689.4L575.6 1689.4L575.7 1689.5L575.8 1689.6L575.9 1689.7L576 1689.7L576.1 1689.8L576.2 1689.9L576.2 1690L576.3 1690.1L576.4 1690.1L576.5 1690.2L576.6 1690.3L576.7 1690.4L576.8 1690.5L576.9 1690.6L577 1690.6L577.1 1690.7L577.2 1690.8L577.3 1690.9L577.3 1691L577.4 1691.1L577.5 1691.2L577.6 1691.3L577.7 1691.4L577.8 1691.5L577.9 1691.6L578 1691.7L578.1 1691.8L578.2 1691.9L578.3 1692L578.3 1692.1L578.4 1692.2L578.5 1692.3L578.6 1692.5L578.7 1692.6L578.8 1692.7L578.9 1692.8L579 1692.9L579.1 1693.1L579.2 1693.2L579.3 1693.3L579.3 1693.5L579.4 1693.6L579.5 1693.7L579.6 1693.9L579.7 1694L579.8 1694.2L579.9 1694.3L580 1694.5L580.1 1694.6L580.2 1694.8L580.3 1694.9L580.3 1695.1L580.4 1695.3L580.5 1695.4L580.6 1695.6L580.7 1695.8L580.8 1696L580.9 1696.2L581 1696.4L581.1 1696.6L581.2 1696.8L581.3 1697.1L581.4 1697.3L581.4 1697.5L581.5 1697.8L581.6 1698.1L581.7 1698.4L581.8 1698.6L581.9 1699L582 1699.3L582.1 1699.6L582.2 1700L582.3 1700.3L582.4 1700.7L582.4 1701.1L582.5 1701.5L582.6 1701.9L582.7 1702.4L582.8 1703L582.9 1703.8L583 1704.6L583.1 1705.4L583.2 1706.4L583.3 1707.3L583.4 1708.3L583.4 1709.3L583.5 1710.2L583.6 1711.1L583.7 1712L583.7 1657.3Z" fill="#bebebe"/>
<path d="M45.8 1249.6V1479.4M45.8 1483.1V1562.6M45.8 1565V1719.3H584" stroke="#000" stroke-width="1.3" fill="none"/>
<path d="M45.8 1456h-3.6M45.8 1402.6h-3.6M45.8 1349.4h-3.6M45.8 1295.9h-3.6M45.8 1580.3h-3.6M45.8 1618.8h-3.6M45.8 1657.3h-3.6M45.8 1696.6h-3.6M227.7 1719.3v3.6M409.9 1719.3v3.6" stroke="#333" stroke-width="1.1"/>
<g font-size="11.2" fill="#4d4d4d"><text x="40" y="1459.9" text-anchor="end">0.0</text><text x="40" y="1406.5" text-anchor="end">0.2</text><text x="40" y="1353.3" text-anchor="end">0.4</text><text x="40" y="1299.8" text-anchor="end">0.6</text><text x="40" y="1584.2" text-anchor="end">2</text><text x="40" y="1622.7" text-anchor="end">1</text><text x="40" y="1661.2" text-anchor="end">0</text><text x="40" y="1700.5" text-anchor="end">−1</text><text x="227.7" y="1734.8" text-anchor="middle">1000</text><text x="409.9" y="1734.8" text-anchor="middle">2000</text></g>
<text x="315.4" y="1750.5" font-size="14.3" text-anchor="middle">Rank in Ordered Dataset</text>
<text transform="translate(17.8 1364.2) rotate(-90)" font-size="14.3" text-anchor="middle">Running Enrichment Score</text>
<text transform="translate(17.8 1641.7) rotate(-90)" font-size="14.3" text-anchor="middle">Ranked List Metric</text>
<text x="12.3" y="1244.6" font-size="42" font-weight="bold">E</text>
<path d="M935.5 1243.6V1476.8M935.5 1562V1717.5M1026.6 1243.6V1476.8M1026.6 1562V1717.5M1117.7 1243.6V1476.8M1117.7 1562V1717.5M1208.8 1243.6V1476.8M1208.8 1562V1717.5M1299.9 1243.6V1476.8M1299.9 1562V1717.5" stroke="#ebebeb" stroke-width="1.1" fill="none"/>
<g font-size="11.2"><path d="M1149.5 1272.5h7.1" stroke="#f8766d" stroke-width="1.2"/><text x="1164.8" y="1276.2">Bile secretion</text><path d="M1149.5 1283h7.1" stroke="#a3a500" stroke-width="1.2"/><text x="1164.8" y="1286.7">Chemical carcinogenesis − DNA adducts</text><path d="M1149.5 1293.5h7.1" stroke="#00bf7d" stroke-width="1.2"/><text x="1164.8" y="1297.2">Drug metabolism − cytochrome P450</text><path d="M1149.5 1304h7.1" stroke="#00b0f6" stroke-width="1.2"/><text x="1164.8" y="1307.7">Metabolism of xenobiotics by cytochrome P450</text><path d="M1149.5 1314.5h7.1" stroke="#e76bf3" stroke-width="1.2"/><text x="1164.8" y="1318.2">Retinol metabolism</text></g>
<path d="M845.3 1277.6L885 1297.1V1277.4L931.4 1300.2V1289.2L934 1290.5V1278.3L1026.9 1324V1320.8L1037.9 1326.2V1324.5L1148.8 1379.1V1375L1198 1399.2V1393.7L1224.8 1406.9V1400.3L1296.3 1435.5V1423.7L1321.9 1436.3V1420L1322.8 1420.4V1406.9L1335.7 1413.2V1380L1361 1392.4V1369.4L1371 1374.3V1346.3L1379 1350.2V1316.9L1381.9 1318.3V1277.4L1382.4 1277.6" stroke="#f8766d" stroke-width="1.3" fill="none" stroke-linejoin="miter"/>
<path d="M845.3 1277.6L873.1 1291.3V1267.8L924.6 1293.1V1281.3L983.8 1310.4V1304.1L1185.3 1403.2V1399.3L1202.3 1407.7V1402.4L1235.8 1418.9V1411.1L1251.3 1418.7V1411.1L1260 1415.4V1406.8L1321.9 1437.3V1422.5L1330.8 1426.9V1412L1336.1 1414.6V1398.1L1344 1402V1375L1348 1377V1351.3L1355.6 1355V1335.6L1361.6 1338.6V1310L1362.6 1310.5V1293.8L1371 1297.9V1272L1382.4 1277.6" stroke="#a3a500" stroke-width="1.3" fill="none" stroke-linejoin="miter"/>
<path d="M845.3 1277.6L882.9 1296.1V1270.2L924.6 1290.7V1275.1L983.8 1304.2V1296.2L1081.6 1344.3V1343.3L1185.3 1394.3V1389.2L1202.3 1397.6V1390.6L1235.8 1407.1V1397.7L1260 1409.6V1398.7L1321.9 1429.2V1410L1330 1414V1395L1330.8 1395.4V1375.6L1336.1 1378.2V1356.9L1344 1360.8V1338.8L1355 1344.2V1310L1355.6 1310.3V1292.5L1361 1295.2V1267.1L1382.4 1277.6" stroke="#00bf7d" stroke-width="1.3" fill="none" stroke-linejoin="miter"/>
<path d="M845.3 1277.6L924.6 1316.6V1302.7L983.8 1331.8V1324.3L1185.3 1423.4V1418.6L1202.3 1427V1420.2L1228.8 1433.2V1425.7L1235.8 1429.1V1419.6L1260 1431.5V1421L1321.9 1451.5V1430.6L1330.8 1435V1416.2L1336.1 1418.9V1402.5L1344 1406.4V1383L1344.6 1383.3V1360L1355 1365.1V1335L1355.6 1335.3V1323.1L1361 1325.8V1298.8L1371 1303.7V1272L1382.4 1277.6" stroke="#00b0f6" stroke-width="1.3" fill="none" stroke-linejoin="miter"/>
<path d="M845.3 1277.6L873.1 1291.3V1253.7L1119.8 1375.1V1373.4L1308.1 1466V1446.4L1321.9 1453.2V1430.6L1330.8 1435V1420L1336.1 1422.6V1388.8L1344 1392.6V1365.6L1355 1371V1339.4L1361 1342.4V1307.5L1369.6 1311.7V1271.3L1382.4 1277.6" stroke="#e76bf3" stroke-width="1.3" fill="none" stroke-linejoin="miter"/>
<path d="M882.9 1481v15.5M924.6 1481v15.5M983.8 1481v15.5M1081.6 1481v15.5M1185.3 1481v15.5M1202.3 1481v15.5M1235.8 1481v15.5M1260 1481v15.5M1321.9 1481v15.5M1330 1481v15.5M1330.8 1481v15.5M1336.1 1481v15.5M1344 1481v15.5M1355 1481v15.5M1355.6 1481v15.5M1361 1481v15.5" stroke="#00bf7d" stroke-width="1.1" stroke-opacity="0.55" fill="none"/>
<path d="M885 1496.5v15.5M931.4 1496.5v15.5M934 1496.5v15.5M1026.9 1496.5v15.5M1037.9 1496.5v15.5M1148.8 1496.5v15.5M1198 1496.5v15.5M1224.8 1496.5v15.5M1296.3 1496.5v15.5M1321.9 1496.5v15.5M1322.8 1496.5v15.5M1335.7 1496.5v15.5M1361 1496.5v15.5M1371 1496.5v15.5M1379 1496.5v15.5M1381.9 1496.5v15.5" stroke="#f8766d" stroke-width="1.1" stroke-opacity="0.55" fill="none"/>
<path d="M873.1 1512v15.5M924.6 1512v15.5M983.8 1512v15.5M1185.3 1512v15.5M1202.3 1512v15.5M1235.8 1512v15.5M1251.3 1512v15.5M1260 1512v15.5M1321.9 1512v15.5M1330.8 1512v15.5M1336.1 1512v15.5M1344 1512v15.5M1344.6 1512v15.5M1348 1512v15.5M1355.6 1512v15.5M1361.6 1512v15.5M1362.6 1512v15.5M1371 1512v15.5" stroke="#a3a500" stroke-width="1.1" stroke-opacity="0.55" fill="none"/>
<path d="M924.6 1527.5v15.5M983.8 1527.5v15.5M1185.3 1527.5v15.5M1202.3 1527.5v15.5M1228.8 1527.5v15.5M1235.8 1527.5v15.5M1260 1527.5v15.5M1321.9 1527.5v15.5M1330.8 1527.5v15.5M1336.1 1527.5v15.5M1344 1527.5v15.5M1344.6 1527.5v15.5M1355 1527.5v15.5M1355.6 1527.5v15.5M1361 1527.5v15.5M1371 1527.5v15.5" stroke="#00b0f6" stroke-width="1.1" stroke-opacity="0.55" fill="none"/>
<path d="M873.1 1543v15.5M1119.8 1543v15.5M1308.1 1543v15.5M1321.9 1543v15.5M1330.8 1543v15.5M1336.1 1543v15.5M1344 1543v15.5M1355 1543v15.5M1361 1543v15.5M1369.6 1543v15.5" stroke="#e76bf3" stroke-width="1.1" stroke-opacity="0.55" fill="none"/>
<path d="M844.4 1656L844.4 1600.8L844.5 1601.1L844.6 1601.4L844.7 1601.7L844.8 1602L844.9 1602.3L844.9 1602.6L845 1602.9L845.1 1603.2L845.2 1603.5L845.3 1603.8L845.4 1604.1L845.5 1604.4L845.6 1604.7L845.7 1605L845.8 1605.3L845.9 1605.6L845.9 1605.8L846 1606.1L846.1 1606.4L846.2 1606.7L846.3 1607L846.4 1607.3L846.5 1607.5L846.6 1607.8L846.7 1608.1L846.8 1608.4L846.9 1608.7L847 1608.9L847 1609.2L847.1 1609.5L847.2 1609.7L847.3 1610L847.4 1610.2L847.5 1610.5L847.6 1610.7L847.7 1611L847.8 1611.2L847.9 1611.4L848 1611.7L848 1611.9L848.1 1612.1L848.2 1612.3L848.3 1612.5L848.4 1612.7L848.5 1612.9L848.6 1613.1L848.7 1613.3L848.8 1613.5L848.9 1613.7L849 1613.8L849 1614L849.1 1614.2L849.2 1614.4L849.3 1614.6L849.4 1614.8L849.5 1614.9L849.6 1615.1L849.7 1615.3L849.8 1615.4L849.9 1615.6L850 1615.8L850 1615.9L850.1 1616.1L850.2 1616.3L850.3 1616.4L850.4 1616.6L850.5 1616.7L850.6 1616.9L850.7 1617L850.8 1617.2L850.9 1617.3L851 1617.5L851.1 1617.6L851.1 1617.8L851.2 1617.9L851.3 1618L851.4 1618.2L851.5 1618.3L851.6 1618.4L851.7 1618.6L851.8 1618.7L851.9 1618.8L852 1619L852.1 1619.1L852.1 1619.2L852.2 1619.3L852.3 1619.5L852.4 1619.6L852.5 1619.7L852.6 1619.8L852.7 1619.9L852.8 1620.1L852.9 1620.2L853 1620.3L853.1 1620.4L853.1 1620.5L853.2 1620.6L853.3 1620.8L853.4 1620.9L853.5 1621L853.6 1621.1L853.7 1621.2L853.8 1621.3L853.9 1621.4L854 1621.5L854.1 1621.6L854.1 1621.7L854.2 1621.8L854.3 1621.9L854.4 1622L854.5 1622.1L854.6 1622.2L854.7 1622.3L854.8 1622.4L854.9 1622.5L855 1622.6L855.1 1622.7L855.1 1622.8L855.2 1622.9L855.3 1623L855.4 1623L856 1623.5L856.5 1624L857.1 1624.5L857.6 1625L858.2 1625.4L858.7 1625.8L859.2 1626.2L859.8 1626.6L860.3 1627L860.9 1627.4L861.4 1627.7L862 1628.1L862.5 1628.4L863.1 1628.7L863.6 1629L864.2 1629.4L864.7 1629.7L865.3 1630L865.8 1630.3L866.4 1630.6L866.9 1630.9L867.4 1631.2L868 1631.5L868.5 1631.8L869.1 1632.1L869.6 1632.4L870.2 1632.6L870.7 1632.9L871.3 1633.2L871.8 1633.4L872.4 1633.7L872.9 1634L873.5 1634.2L874 1634.4L874.6 1634.7L875.1 1634.9L875.6 1635.1L876.2 1635.4L876.7 1635.6L877.3 1635.8L877.8 1636L878.4 1636.2L878.9 1636.3L879.5 1636.5L880 1636.7L880.6 1636.8L881.1 1637L881.7 1637.1L882.2 1637.3L882.8 1637.4L883.3 1637.6L883.8 1637.7L884.4 1637.8L884.9 1637.9L885.5 1638.1L886 1638.2L886.6 1638.3L887.1 1638.4L887.7 1638.6L888.2 1638.7L888.8 1638.8L889.3 1638.9L889.9 1639L890.4 1639.1L891 1639.2L891.5 1639.3L892 1639.4L892.6 1639.5L893.1 1639.6L893.7 1639.7L894.2 1639.8L894.8 1639.9L895.3 1640L895.9 1640.1L896.4 1640.2L897 1640.3L897.5 1640.4L898.1 1640.5L898.6 1640.6L899.2 1640.6L899.7 1640.7L900.2 1640.8L900.8 1640.9L901.3 1641L901.9 1641.1L902.4 1641.2L903 1641.3L903.5 1641.4L904.1 1641.5L904.6 1641.6L905.2 1641.6L905.7 1641.7L906.3 1641.8L906.8 1641.9L907.4 1642L907.9 1642.1L908.4 1642.2L909 1642.2L909.5 1642.3L910.1 1642.4L910.6 1642.5L911.2 1642.6L911.7 1642.6L912.3 1642.7L912.8 1642.8L913.4 1642.9L913.9 1642.9L914.5 1643L915 1643.1L915.5 1643.2L916.1 1643.2L916.6 1643.3L917.2 1643.4L917.7 1643.4L918.3 1643.5L918.8 1643.6L919.4 1643.6L919.9 1643.7L920.5 1643.8L921 1643.8L921.6 1643.9L922.1 1644L922.7 1644L923.2 1644.1L923.7 1644.2L924.3 1644.2L924.8 1644.3L925.4 1644.3L925.9 1644.4L926.5 1644.5L927 1644.5L927.6 1644.6L928.1 1644.6L928.7 1644.7L929.2 1644.8L929.8 1644.8L930.3 1644.9L930.9 1644.9L931.4 1645L931.9 1645L932.5 1645.1L933 1645.2L933.6 1645.2L934.1 1645.3L934.7 1645.3L935.2 1645.4L935.8 1645.4L936.3 1645.5L936.9 1645.5L937.4 1645.6L938 1645.6L938.5 1645.7L939.1 1645.8L939.6 1645.8L940.1 1645.9L940.7 1645.9L941.2 1646L941.8 1646L942.3 1646.1L942.9 1646.1L943.4 1646.2L944 1646.2L944.5 1646.3L945.1 1646.3L945.6 1646.4L946.2 1646.4L946.7 1646.5L947.3 1646.5L947.8 1646.6L948.3 1646.6L948.9 1646.7L949.4 1646.7L950 1646.8L950.5 1646.8L951.1 1646.9L951.6 1646.9L952.2 1646.9L952.7 1647L953.3 1647L953.8 1647.1L954.4 1647.1L954.9 1647.2L955.5 1647.2L956 1647.3L956.5 1647.3L957.1 1647.4L957.6 1647.4L958.2 1647.5L958.7 1647.5L959.3 1647.6L959.8 1647.6L960.4 1647.7L960.9 1647.7L961.5 1647.7L962 1647.8L962.6 1647.8L963.1 1647.9L963.6 1647.9L964.2 1648L964.7 1648L965.3 1648.1L965.8 1648.1L966.4 1648.2L966.9 1648.2L967.5 1648.3L968 1648.3L968.6 1648.4L969.1 1648.4L969.7 1648.4L970.2 1648.5L970.8 1648.5L971.3 1648.6L971.8 1648.6L972.4 1648.7L972.9 1648.7L973.5 1648.8L974 1648.8L974.6 1648.9L975.1 1648.9L975.7 1648.9L976.2 1649L976.8 1649L977.3 1649.1L977.9 1649.1L978.4 1649.2L979 1649.2L979.5 1649.3L980 1649.3L980.6 1649.3L981.1 1649.4L981.7 1649.4L982.2 1649.5L982.8 1649.5L983.3 1649.6L983.9 1649.6L984.4 1649.7L985 1649.7L985.5 1649.7L986.1 1649.8L986.6 1649.8L987.2 1649.9L987.7 1649.9L988.2 1650L988.8 1650L989.3 1650L989.9 1650.1L990.4 1650.1L991 1650.2L991.5 1650.2L992.1 1650.3L992.6 1650.3L993.2 1650.3L993.7 1650.4L994.3 1650.4L994.8 1650.5L995.4 1650.5L995.9 1650.6L996.4 1650.6L997 1650.6L997.5 1650.7L998.1 1650.7L998.6 1650.8L999.2 1650.8L999.7 1650.8L1000.3 1650.9L1000.8 1650.9L1001.4 1651L1001.9 1651L1002.5 1651L1003 1651.1L1003.6 1651.1L1004.1 1651.2L1004.6 1651.2L1005.2 1651.2L1005.7 1651.3L1006.3 1651.3L1006.8 1651.4L1007.4 1651.4L1007.9 1651.4L1008.5 1651.5L1009 1651.5L1009.6 1651.6L1010.1 1651.6L1010.7 1651.6L1011.2 1651.7L1011.8 1651.7L1012.3 1651.7L1012.8 1651.8L1013.4 1651.8L1013.9 1651.9L1014.5 1651.9L1015 1651.9L1015.6 1652L1016.1 1652L1016.7 1652L1017.2 1652.1L1017.8 1652.1L1018.3 1652.2L1018.9 1652.2L1019.4 1652.2L1019.9 1652.3L1020.5 1652.3L1021 1652.3L1021.6 1652.4L1022.1 1652.4L1022.7 1652.4L1023.2 1652.5L1023.8 1652.5L1024.3 1652.5L1024.9 1652.6L1025.4 1652.6L1026 1652.6L1026.5 1652.7L1027.1 1652.7L1027.6 1652.7L1028.1 1652.8L1028.7 1652.8L1029.2 1652.8L1029.8 1652.9L1030.3 1652.9L1030.9 1652.9L1031.4 1653L1032 1653L1032.5 1653L1033.1 1653.1L1033.6 1653.1L1034.2 1653.1L1034.7 1653.2L1035.3 1653.2L1035.8 1653.2L1036.3 1653.3L1036.9 1653.3L1037.4 1653.3L1038 1653.4L1038.5 1653.4L1039.1 1653.4L1039.6 1653.5L1040.2 1653.5L1040.7 1653.5L1041.3 1653.5L1041.8 1653.6L1042.4 1653.6L1042.9 1653.6L1043.5 1653.7L1044 1653.7L1044.5 1653.7L1045.1 1653.8L1045.6 1653.8L1046.2 1653.8L1046.7 1653.9L1047.3 1653.9L1047.8 1653.9L1048.4 1653.9L1048.9 1654L1049.5 1654L1050 1654L1050.6 1654.1L1051.1 1654.1L1051.7 1654.1L1052.2 1654.1L1052.7 1654.2L1053.3 1654.2L1053.8 1654.2L1054.4 1654.3L1054.9 1654.3L1055.5 1654.3L1056 1654.3L1056.6 1654.4L1057.1 1654.4L1057.7 1654.4L1058.2 1654.5L1058.8 1654.5L1059.3 1654.5L1059.9 1654.5L1060.4 1654.6L1060.9 1654.6L1061.5 1654.6L1062 1654.7L1062.6 1654.7L1063.1 1654.7L1063.7 1654.7L1064.2 1654.8L1064.8 1654.8L1065.3 1654.8L1065.9 1654.8L1066.4 1654.9L1067 1654.9L1067.5 1654.9L1068.1 1655L1068.6 1655L1069.1 1655L1069.7 1655L1070.2 1655.1L1070.8 1655.1L1071.3 1655.1L1071.9 1655.1L1072.4 1655.2L1073 1655.2L1073.5 1655.2L1074.1 1655.3L1074.6 1655.3L1075.2 1655.3L1075.7 1655.3L1076.2 1655.4L1076.8 1655.4L1077.3 1655.4L1077.9 1655.4L1078.4 1655.5L1079 1655.5L1079.5 1655.5L1080.1 1655.6L1080.6 1655.6L1081.2 1655.6L1081.7 1655.6L1082.3 1655.7L1082.8 1655.7L1083.4 1655.7L1083.9 1655.7L1084.4 1655.8L1085 1655.8L1085.5 1655.8L1086.1 1655.9L1086.6 1655.9L1087.2 1655.9L1087.7 1655.9L1088.3 1656L1088.8 1656L1089.4 1656L1089.9 1656.1L1090.5 1656.1L1091 1656.1L1091.6 1656.1L1092.1 1656.2L1092.6 1656.2L1093.2 1656.2L1093.7 1656.2L1094.3 1656.3L1094.8 1656.3L1095.4 1656.3L1095.9 1656.3L1096.5 1656.4L1097 1656.4L1097.6 1656.4L1098.1 1656.5L1098.7 1656.5L1099.2 1656.5L1099.8 1656.5L1100.3 1656.6L1100.8 1656.6L1101.4 1656.6L1101.9 1656.6L1102.5 1656.7L1103 1656.7L1103.6 1656.7L1104.1 1656.7L1104.7 1656.8L1105.2 1656.8L1105.8 1656.8L1106.3 1656.8L1106.9 1656.9L1107.4 1656.9L1108 1656.9L1108.5 1656.9L1109 1657L1109.6 1657L1110.1 1657L1110.7 1657L1111.2 1657.1L1111.8 1657.1L1112.3 1657.1L1112.9 1657.1L1113.4 1657.2L1114 1657.2L1114.5 1657.2L1115.1 1657.2L1115.6 1657.3L1116.2 1657.3L1116.7 1657.3L1117.2 1657.3L1117.8 1657.4L1118.3 1657.4L1118.9 1657.4L1119.4 1657.4L1120 1657.5L1120.5 1657.5L1121.1 1657.5L1121.6 1657.5L1122.2 1657.6L1122.7 1657.6L1123.3 1657.6L1123.8 1657.6L1124.4 1657.7L1124.9 1657.7L1125.4 1657.7L1126 1657.7L1126.5 1657.8L1127.1 1657.8L1127.6 1657.8L1128.2 1657.9L1128.7 1657.9L1129.3 1657.9L1129.8 1657.9L1130.4 1658L1130.9 1658L1131.5 1658L1132 1658L1132.5 1658.1L1133.1 1658.1L1133.6 1658.1L1134.2 1658.1L1134.7 1658.2L1135.3 1658.2L1135.8 1658.2L1136.4 1658.2L1136.9 1658.3L1137.5 1658.3L1138 1658.3L1138.6 1658.3L1139.1 1658.4L1139.7 1658.4L1140.2 1658.4L1140.7 1658.5L1141.3 1658.5L1141.8 1658.5L1142.4 1658.5L1142.9 1658.6L1143.5 1658.6L1144 1658.6L1144.6 1658.6L1145.1 1658.7L1145.7 1658.7L1146.2 1658.7L1146.8 1658.8L1147.3 1658.8L1147.9 1658.8L1148.4 1658.8L1148.9 1658.9L1149.5 1658.9L1150 1658.9L1150.6 1659L1151.1 1659L1151.7 1659L1152.2 1659L1152.8 1659.1L1153.3 1659.1L1153.9 1659.1L1154.4 1659.2L1155 1659.2L1155.5 1659.2L1156.1 1659.3L1156.6 1659.3L1157.1 1659.3L1157.7 1659.4L1158.2 1659.4L1158.8 1659.4L1159.3 1659.4L1159.9 1659.5L1160.4 1659.5L1161 1659.5L1161.5 1659.6L1162.1 1659.6L1162.6 1659.6L1163.2 1659.7L1163.7 1659.7L1164.3 1659.7L1164.8 1659.8L1165.3 1659.8L1165.9 1659.8L1166.4 1659.9L1167 1659.9L1167.5 1659.9L1168.1 1660L1168.6 1660L1169.2 1660.1L1169.7 1660.1L1170.3 1660.1L1170.8 1660.2L1171.4 1660.2L1171.9 1660.2L1172.5 1660.3L1173 1660.3L1173.5 1660.3L1174.1 1660.4L1174.6 1660.4L1175.2 1660.4L1175.7 1660.5L1176.3 1660.5L1176.8 1660.5L1177.4 1660.6L1177.9 1660.6L1178.5 1660.7L1179 1660.7L1179.6 1660.7L1180.1 1660.8L1180.7 1660.8L1181.2 1660.8L1181.7 1660.9L1182.3 1660.9L1182.8 1660.9L1183.4 1661L1183.9 1661L1184.5 1661.1L1185 1661.1L1185.6 1661.1L1186.1 1661.2L1186.7 1661.2L1187.2 1661.2L1187.8 1661.3L1188.3 1661.3L1188.8 1661.3L1189.4 1661.4L1189.9 1661.4L1190.5 1661.4L1191 1661.5L1191.6 1661.5L1192.1 1661.5L1192.7 1661.6L1193.2 1661.6L1193.8 1661.7L1194.3 1661.7L1194.9 1661.7L1195.4 1661.8L1196 1661.8L1196.5 1661.8L1197 1661.9L1197.6 1661.9L1198.1 1661.9L1198.7 1662L1199.2 1662L1199.8 1662L1200.3 1662.1L1200.9 1662.1L1201.4 1662.1L1202 1662.2L1202.5 1662.2L1203.1 1662.2L1203.6 1662.3L1204.2 1662.3L1204.7 1662.3L1205.2 1662.4L1205.8 1662.4L1206.3 1662.4L1206.9 1662.4L1207.4 1662.5L1208 1662.5L1208.5 1662.5L1209.1 1662.6L1209.6 1662.6L1210.2 1662.6L1210.7 1662.7L1211.3 1662.7L1211.8 1662.7L1212.4 1662.7L1212.9 1662.8L1213.4 1662.8L1214 1662.8L1214.5 1662.9L1215.1 1662.9L1215.6 1662.9L1216.2 1662.9L1216.7 1663L1217.3 1663L1217.8 1663L1218.4 1663.1L1218.9 1663.1L1219.5 1663.1L1220 1663.1L1220.6 1663.2L1221.1 1663.2L1221.6 1663.2L1222.2 1663.3L1222.7 1663.3L1223.3 1663.3L1223.8 1663.3L1224.4 1663.4L1224.9 1663.4L1225.5 1663.4L1226 1663.4L1226.6 1663.5L1227.1 1663.5L1227.7 1663.5L1228.2 1663.6L1228.8 1663.6L1229.3 1663.6L1229.8 1663.6L1230.4 1663.7L1230.9 1663.7L1231.5 1663.7L1232 1663.7L1232.6 1663.8L1233.1 1663.8L1233.7 1663.8L1234.2 1663.8L1234.8 1663.9L1235.3 1663.9L1235.9 1663.9L1236.4 1664L1236.9 1664L1237.5 1664L1238 1664L1238.6 1664.1L1239.1 1664.1L1239.7 1664.1L1240.2 1664.2L1240.8 1664.2L1241.3 1664.2L1241.9 1664.2L1242.4 1664.3L1243 1664.3L1243.5 1664.3L1244.1 1664.3L1244.6 1664.4L1245.1 1664.4L1245.7 1664.4L1246.2 1664.5L1246.8 1664.5L1247.3 1664.5L1247.9 1664.5L1248.4 1664.6L1249 1664.6L1249.5 1664.6L1250.1 1664.7L1250.6 1664.7L1251.2 1664.7L1251.7 1664.8L1252.3 1664.8L1252.8 1664.8L1253.3 1664.9L1253.9 1664.9L1254.4 1664.9L1255 1664.9L1255.5 1665L1256.1 1665L1256.6 1665L1257.2 1665.1L1257.7 1665.1L1258.3 1665.1L1258.8 1665.2L1259.4 1665.2L1259.9 1665.2L1260.5 1665.3L1261 1665.3L1261.5 1665.3L1262.1 1665.4L1262.6 1665.4L1263.2 1665.4L1263.7 1665.5L1264.3 1665.5L1264.8 1665.5L1265.4 1665.6L1265.9 1665.6L1266.5 1665.6L1267 1665.7L1267.6 1665.7L1268.1 1665.8L1268.7 1665.8L1269.2 1665.8L1269.7 1665.9L1270.3 1665.9L1270.8 1665.9L1271.4 1666L1271.9 1666L1272.5 1666L1273 1666.1L1273.6 1666.1L1274.1 1666.2L1274.7 1666.2L1275.2 1666.2L1275.8 1666.3L1276.3 1666.3L1276.9 1666.4L1277.4 1666.4L1277.9 1666.4L1278.5 1666.5L1279 1666.5L1279.6 1666.6L1280.1 1666.6L1280.7 1666.6L1281.2 1666.7L1281.8 1666.7L1282.3 1666.8L1282.9 1666.8L1283.4 1666.8L1284 1666.9L1284.5 1666.9L1285.1 1667L1285.6 1667L1286.1 1667.1L1286.7 1667.1L1287.2 1667.1L1287.8 1667.2L1288.3 1667.2L1288.9 1667.3L1289.4 1667.3L1290 1667.4L1290.5 1667.4L1291.1 1667.5L1291.6 1667.5L1292.2 1667.5L1292.7 1667.6L1293.2 1667.6L1293.8 1667.7L1294.3 1667.7L1294.9 1667.8L1295.4 1667.8L1296 1667.9L1296.5 1667.9L1297.1 1668L1297.6 1668L1298.2 1668.1L1298.7 1668.1L1299.3 1668.2L1299.8 1668.2L1300.4 1668.3L1300.9 1668.3L1301.4 1668.4L1302 1668.4L1302.5 1668.5L1303.1 1668.6L1303.6 1668.6L1304.2 1668.7L1304.7 1668.7L1305.3 1668.8L1305.8 1668.8L1306.4 1668.9L1306.9 1668.9L1307.5 1669L1308 1669L1308.6 1669.1L1309.1 1669.1L1309.6 1669.2L1310.2 1669.3L1310.7 1669.3L1311.3 1669.4L1311.8 1669.4L1312.4 1669.5L1312.9 1669.5L1313.5 1669.6L1314 1669.7L1314.6 1669.7L1315.1 1669.8L1315.7 1669.8L1316.2 1669.9L1316.8 1670L1317.3 1670L1317.8 1670.1L1318.4 1670.2L1318.9 1670.2L1319.5 1670.3L1320 1670.4L1320.6 1670.4L1321.1 1670.5L1321.7 1670.6L1322.2 1670.6L1322.8 1670.7L1323.3 1670.8L1323.9 1670.9L1324.4 1671L1325 1671L1325.5 1671.1L1326 1671.2L1326.6 1671.3L1327.1 1671.4L1327.7 1671.4L1328.2 1671.5L1328.8 1671.6L1329.3 1671.7L1329.9 1671.8L1330.4 1671.9L1331 1672L1331.5 1672.1L1332.1 1672.2L1332.6 1672.3L1333.2 1672.4L1333.7 1672.5L1334.2 1672.6L1334.8 1672.7L1335.3 1672.8L1335.9 1672.9L1336.4 1673L1337 1673.2L1337.5 1673.3L1338.1 1673.4L1338.6 1673.6L1339.2 1673.7L1339.7 1673.9L1340.3 1674.1L1340.8 1674.2L1341.4 1674.4L1341.9 1674.6L1342.4 1674.8L1343 1675L1343.5 1675.1L1344.1 1675.3L1344.6 1675.5L1345.2 1675.7L1345.7 1675.9L1346.3 1676.1L1346.8 1676.3L1347.4 1676.5L1347.9 1676.7L1348.5 1677L1349 1677.2L1349.5 1677.4L1350.1 1677.6L1350.6 1677.8L1351.2 1678L1351.7 1678.2L1352.3 1678.5L1352.8 1678.7L1353.4 1678.9L1353.9 1679.1L1354.5 1679.3L1355 1679.5L1355.1 1679.6L1355.2 1679.6L1355.3 1679.6L1355.4 1679.7L1355.5 1679.7L1355.6 1679.7L1355.7 1679.8L1355.7 1679.8L1355.8 1679.8L1355.9 1679.9L1356 1679.9L1356.1 1680L1356.2 1680L1356.3 1680L1356.4 1680.1L1356.5 1680.1L1356.6 1680.1L1356.7 1680.2L1356.7 1680.2L1356.8 1680.2L1356.9 1680.3L1357 1680.3L1357.1 1680.3L1357.2 1680.4L1357.3 1680.4L1357.4 1680.4L1357.5 1680.5L1357.6 1680.5L1357.7 1680.5L1357.7 1680.6L1357.8 1680.6L1357.9 1680.7L1358 1680.7L1358.1 1680.7L1358.2 1680.8L1358.3 1680.8L1358.4 1680.8L1358.5 1680.9L1358.6 1680.9L1358.7 1680.9L1358.8 1681L1358.8 1681L1358.9 1681L1359 1681.1L1359.1 1681.1L1359.2 1681.1L1359.3 1681.2L1359.4 1681.2L1359.5 1681.2L1359.6 1681.3L1359.7 1681.3L1359.8 1681.3L1359.8 1681.4L1359.9 1681.4L1360 1681.4L1360.1 1681.5L1360.2 1681.5L1360.3 1681.5L1360.4 1681.6L1360.5 1681.6L1360.6 1681.6L1360.7 1681.7L1360.8 1681.7L1360.8 1681.7L1360.9 1681.8L1361 1681.8L1361.1 1681.8L1361.2 1681.9L1361.3 1681.9L1361.4 1681.9L1361.5 1682L1361.6 1682L1361.7 1682L1361.8 1682.1L1361.8 1682.1L1361.9 1682.1L1362 1682.2L1362.1 1682.2L1362.2 1682.2L1362.3 1682.3L1362.4 1682.3L1362.5 1682.3L1362.6 1682.4L1362.7 1682.4L1362.8 1682.4L1362.9 1682.5L1362.9 1682.5L1363 1682.5L1363.1 1682.6L1363.2 1682.6L1363.3 1682.6L1363.4 1682.7L1363.5 1682.7L1363.6 1682.7L1363.7 1682.8L1363.8 1682.8L1363.9 1682.8L1363.9 1682.9L1364 1682.9L1364.1 1682.9L1364.2 1683L1364.3 1683L1364.4 1683.1L1364.5 1683.1L1364.6 1683.1L1364.7 1683.2L1364.8 1683.2L1364.9 1683.2L1364.9 1683.3L1365 1683.3L1365.1 1683.3L1365.2 1683.4L1365.3 1683.4L1365.4 1683.5L1365.5 1683.5L1365.6 1683.5L1365.7 1683.6L1365.8 1683.6L1365.9 1683.6L1365.9 1683.7L1366 1683.7L1366.1 1683.8L1366.2 1683.8L1366.3 1683.8L1366.4 1683.9L1366.5 1683.9L1366.6 1684L1366.7 1684L1366.8 1684L1366.9 1684.1L1366.9 1684.1L1367 1684.2L1367.1 1684.2L1367.2 1684.2L1367.3 1684.3L1367.4 1684.3L1367.5 1684.4L1367.6 1684.4L1367.7 1684.4L1367.8 1684.5L1367.9 1684.5L1368 1684.6L1368 1684.6L1368.1 1684.7L1368.2 1684.7L1368.3 1684.7L1368.4 1684.8L1368.5 1684.8L1368.6 1684.9L1368.7 1684.9L1368.8 1685L1368.9 1685L1369 1685.1L1369 1685.1L1369.1 1685.2L1369.2 1685.2L1369.3 1685.2L1369.4 1685.3L1369.5 1685.3L1369.6 1685.4L1369.7 1685.4L1369.8 1685.5L1369.9 1685.5L1370 1685.6L1370 1685.6L1370.1 1685.7L1370.2 1685.7L1370.3 1685.8L1370.4 1685.8L1370.5 1685.9L1370.6 1685.9L1370.7 1686L1370.8 1686L1370.9 1686.1L1371 1686.1L1371 1686.2L1371.1 1686.2L1371.2 1686.3L1371.3 1686.4L1371.4 1686.4L1371.5 1686.5L1371.6 1686.5L1371.7 1686.6L1371.8 1686.6L1371.9 1686.7L1372 1686.8L1372.1 1686.8L1372.1 1686.9L1372.2 1686.9L1372.3 1687L1372.4 1687.1L1372.5 1687.1L1372.6 1687.2L1372.7 1687.2L1372.8 1687.3L1372.9 1687.4L1373 1687.4L1373.1 1687.5L1373.1 1687.6L1373.2 1687.6L1373.3 1687.7L1373.4 1687.8L1373.5 1687.8L1373.6 1687.9L1373.7 1688L1373.8 1688L1373.9 1688.1L1374 1688.2L1374.1 1688.3L1374.1 1688.3L1374.2 1688.4L1374.3 1688.5L1374.4 1688.5L1374.5 1688.6L1374.6 1688.7L1374.7 1688.8L1374.8 1688.9L1374.9 1688.9L1375 1689L1375.1 1689.1L1375.1 1689.2L1375.2 1689.3L1375.3 1689.3L1375.4 1689.4L1375.5 1689.5L1375.6 1689.6L1375.7 1689.7L1375.8 1689.8L1375.9 1689.9L1376 1689.9L1376.1 1690L1376.2 1690.1L1376.2 1690.2L1376.3 1690.3L1376.4 1690.4L1376.5 1690.5L1376.6 1690.6L1376.7 1690.7L1376.8 1690.8L1376.9 1690.9L1377 1691L1377.1 1691.1L1377.2 1691.2L1377.2 1691.4L1377.3 1691.5L1377.4 1691.6L1377.5 1691.7L1377.6 1691.8L1377.7 1691.9L1377.8 1692.1L1377.9 1692.2L1378 1692.3L1378.1 1692.4L1378.2 1692.6L1378.2 1692.7L1378.3 1692.9L1378.4 1693L1378.5 1693.1L1378.6 1693.3L1378.7 1693.4L1378.8 1693.6L1378.9 1693.7L1379 1693.9L1379.1 1694.1L1379.2 1694.2L1379.2 1694.4L1379.3 1694.6L1379.4 1694.7L1379.5 1694.9L1379.6 1695.1L1379.7 1695.3L1379.8 1695.5L1379.9 1695.7L1380 1695.9L1380.1 1696.1L1380.2 1696.4L1380.3 1696.6L1380.3 1696.9L1380.4 1697.1L1380.5 1697.4L1380.6 1697.7L1380.7 1698L1380.8 1698.3L1380.9 1698.6L1381 1699L1381.1 1699.3L1381.2 1699.7L1381.3 1700.1L1381.3 1700.5L1381.4 1700.9L1381.5 1701.3L1381.6 1701.8L1381.7 1702.4L1381.8 1703.2L1381.9 1704L1382 1704.9L1382.1 1705.8L1382.2 1706.8L1382.3 1707.8L1382.3 1708.8L1382.4 1709.7L1382.5 1710.7L1382.6 1711.6L1382.6 1656Z" fill="#bebebe"/>
<path d="M844.7 1243.6V1476.8M844.7 1479.5V1559.5M844.7 1562V1717.5H1382.9" stroke="#000" stroke-width="1.3" fill="none"/>
<path d="M844.7 1277.7h-3.6M844.7 1330.6h-3.6M844.7 1383.7h-3.6M844.7 1436.6h-3.6M844.7 1576.8h-3.6M844.7 1616.6h-3.6M844.7 1656h-3.6M844.7 1695.3h-3.6M1026.6 1717.5v3.6M1208.8 1717.5v3.6" stroke="#333" stroke-width="1.1"/>
<g font-size="11.2" fill="#4d4d4d"><text x="838.9" y="1281.6" text-anchor="end">0.0</text><text x="838.9" y="1334.5" text-anchor="end">−0.2</text><text x="838.9" y="1387.6" text-anchor="end">−0.4</text><text x="838.9" y="1440.5" text-anchor="end">−0.6</text><text x="838.9" y="1580.7" text-anchor="end">2</text><text x="838.9" y="1620.5" text-anchor="end">1</text><text x="838.9" y="1659.9" text-anchor="end">0</text><text x="838.9" y="1699.2" text-anchor="end">−1</text><text x="1026.6" y="1733" text-anchor="middle">1000</text><text x="1208.8" y="1733" text-anchor="middle">2000</text></g>
<text x="1113.7" y="1748.5" font-size="14.3" text-anchor="middle">Rank in Ordered Dataset</text>
<text transform="translate(810.3 1359.9) rotate(-90)" font-size="14.3" text-anchor="middle">Running Enrichment Score</text>
<text transform="translate(810.3 1640.3) rotate(-90)" font-size="14.3" text-anchor="middle">Ranked List Metric</text>
<text x="786" y="1226.5" font-size="41" font-weight="bold">F</text>
</svg></body></html>
